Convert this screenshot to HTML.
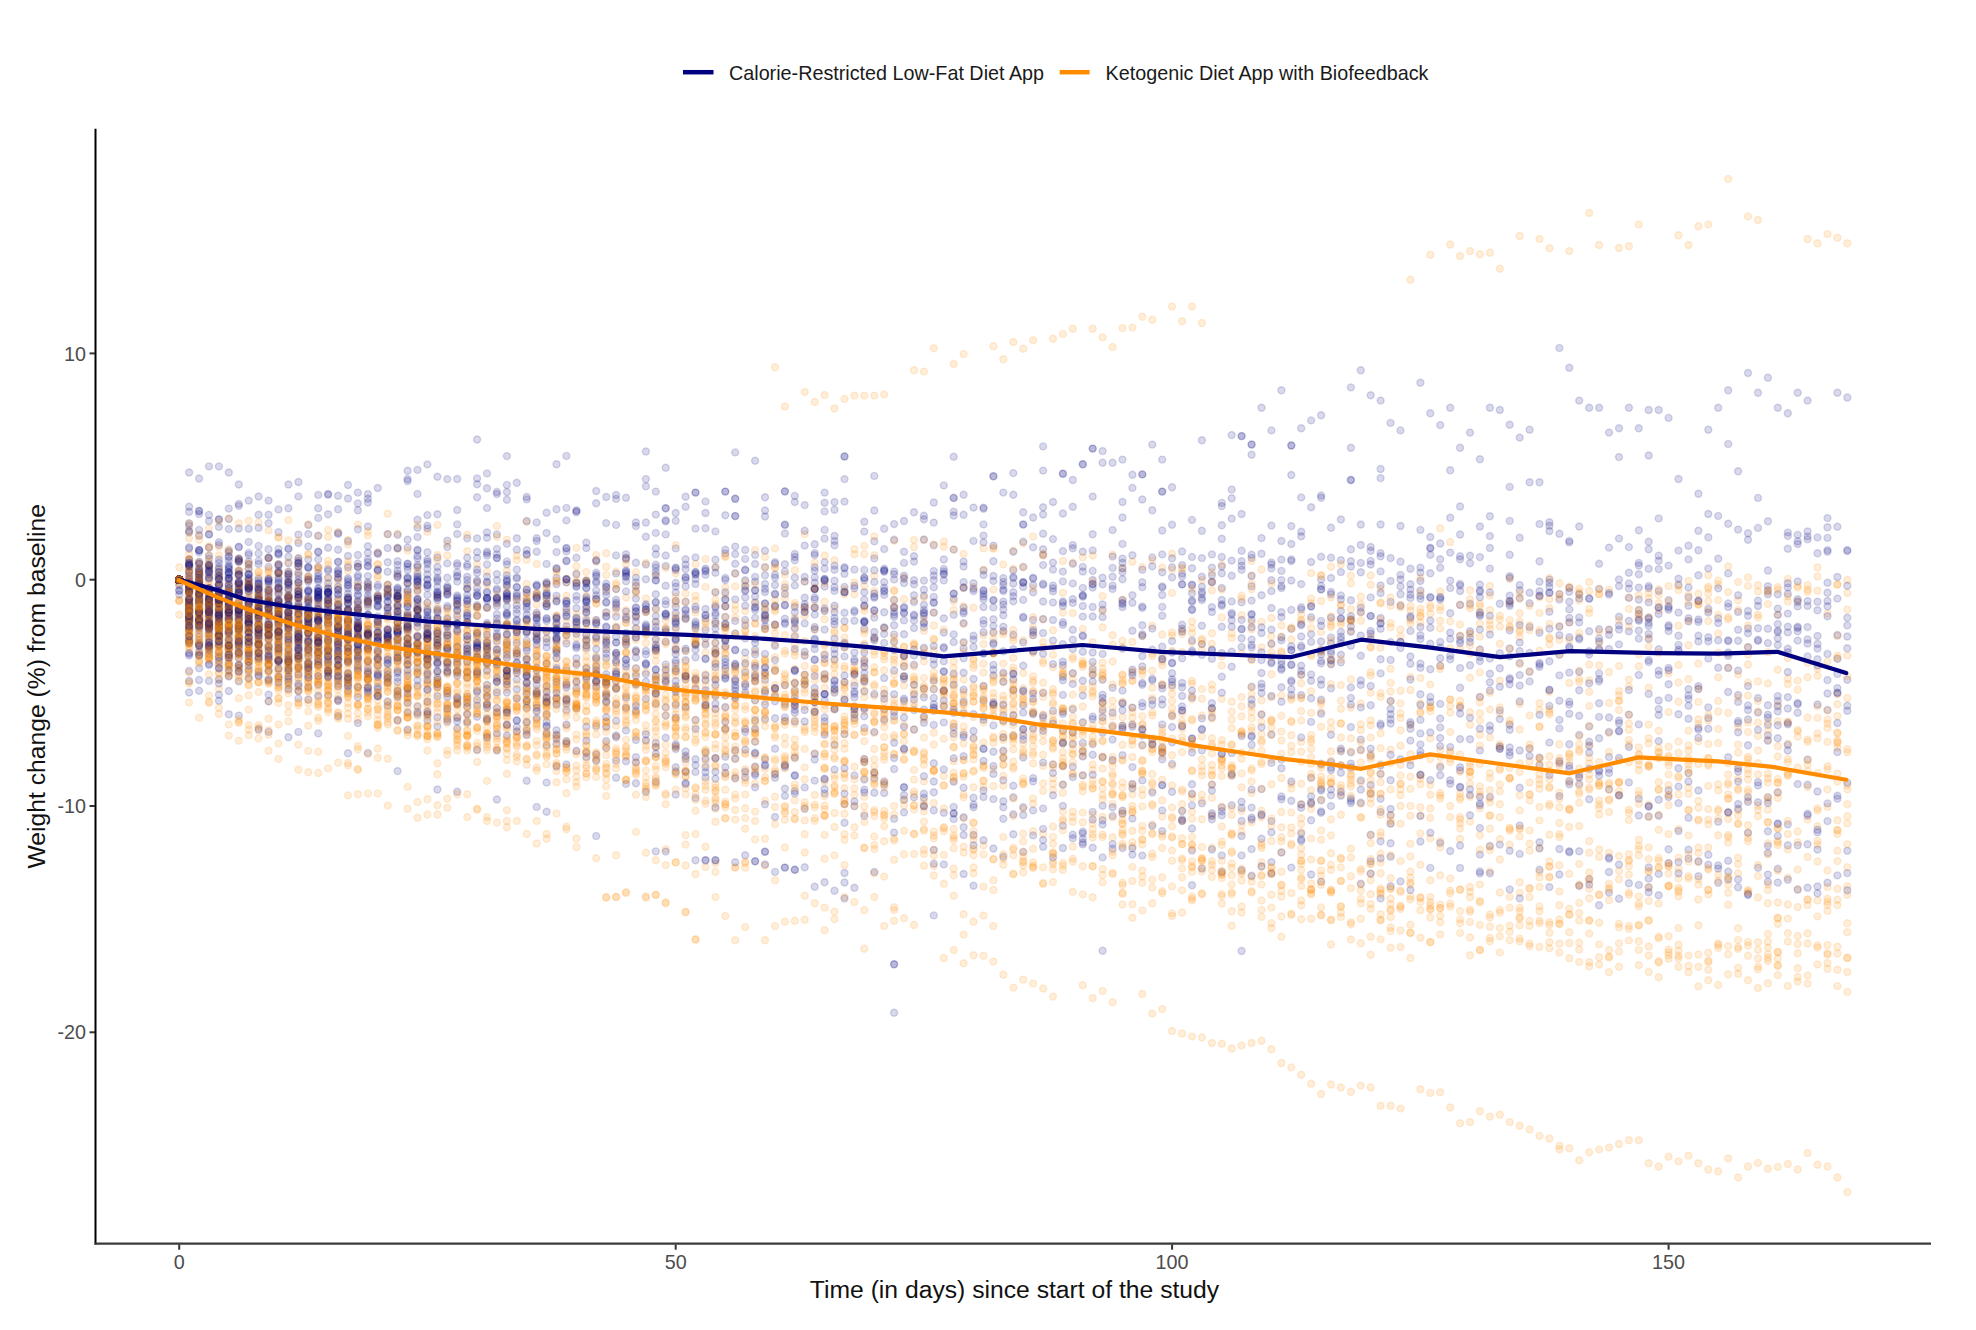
<!DOCTYPE html>
<html><head><meta charset="utf-8"><style>
html,body{margin:0;padding:0;background:#fff;width:1976px;height:1330px;overflow:hidden}
svg{position:absolute;left:0;top:0;font-family:"Liberation Sans",sans-serif}
#w{position:absolute;left:0;top:0;width:1976px;height:1330px}
circle{r:3.5px;stroke-width:1.4px}
.b{fill:#000080;fill-opacity:.15;stroke:#000080;stroke-opacity:.15}
.o{fill:#ff8c00;fill-opacity:.15;stroke:#ff8c00;stroke-opacity:.15}
</style></head><body><div id=w>
<svg width="1976" height="1330" viewBox="0 0 1976 1330">
<rect width="1976" height="1330" fill="#fff"/>
<g><g transform="translate(179.2)"><g class=b><circle cy=579.7 /></g><g class=o><circle cy=579.7 /><circle cy=579.7 /><circle cy=579.7 /></g><g class=b><circle cy=579.7 /><circle cy=579.7 /></g><g class=o><circle cy=579.7 /><circle cy=583.2 /><circle cy=579.7 /></g><g class=b><circle cy=579.7 /></g><g class=o><circle cy=579.7 /><circle cy=579.7 /><circle cy=579.7 /></g><g class=b><circle cy=579.7 /></g><g class=o><circle cy=579.7 /><circle cy=579.7 /></g><g class=b><circle cy=579.7 /></g><g class=o><circle cy=579.7 /></g><g class=b><circle cy=579.7 /><circle cy=579.7 /></g><g class=o><circle cy=579.7 /></g><g class=b><circle cy=579.7 /><circle cy=579.7 /></g><g class=o><circle cy=579.7 /></g><g class=b><circle cy=579.7 /><circle cy=579.7 /></g><g class=o><circle cy=579.7 /><circle cy=579.7 /><circle cy=579.7 /><circle cy=579.7 /><circle cy=601.2 /><circle cy=579.7 /><circle cy=579.7 /></g><g class=b><circle cy=579.7 /><circle cy=579.7 /></g><g class=o><circle cy=579.7 /></g><g class=b><circle cy=579.7 /></g><g class=o><circle cy=579.7 /></g><g class=b><circle cy=579.7 /><circle cy=579.7 /><circle cy=579.7 /></g><g class=o><circle cy=579.7 /></g><g class=b><circle cy=579.7 /><circle cy=579.7 /><circle cy=579.7 /></g><g class=o><circle cy=579.7 /><circle cy=579.7 /></g><g class=b><circle cy=579.7 /></g><g class=o><circle cy=579.7 /><circle cy=579.7 /></g><g class=b><circle cy=579.7 /></g><g class=o><circle cy=579.7 /><circle cy=579.7 /><circle cy=579.7 /></g><g class=b><circle cy=579.7 /></g><g class=o><circle cy=579.7 /><circle cy=579.7 /><circle cy=579.7 /><circle cy=579.7 /><circle cy=579.7 /></g><g class=b><circle cy=579.7 /><circle cy=579.7 /></g><g class=o><circle cy=579.7 /><circle cy=579.7 /><circle cy=579.7 /><circle cy=579.7 /><circle cy=579.7 /><circle cy=579.7 /></g><g class=b><circle cy=579.7 /></g><g class=o><circle cy=579.7 /></g><g class=b><circle cy=579.7 /><circle cy=579.7 /></g><g class=o><circle cy=579.7 /></g><g class=b><circle cy=579.7 /><circle cy=579.7 /></g><g class=o><circle cy=579.7 /><circle cy=579.7 /><circle cy=579.7 /><circle cy=579.7 /></g><g class=b><circle cy=579.7 /><circle cy=579.7 /><circle cy=579.7 /></g><g class=o><circle cy=579.7 /><circle cy=579.7 /><circle cy=579.7 /><circle cy=579.7 /><circle cy=579.7 /></g><g class=b><circle cy=579.7 /></g><g class=o><circle cy=579.7 /><circle cy=579.7 /></g><g class=b><circle cy=579.7 /></g><g class=o><circle cy=579.7 /></g><g class=b><circle cy=579.7 /></g><g class=o><circle cy=579.7 /><circle cy=579.7 /><circle cy=579.7 /></g><g class=b><circle cy=579.7 /><circle cy=579.7 /><circle cy=579.7 /><circle cy=579.7 /></g><g class=o><circle cy=579.7 /></g><g class=b><circle cy=579.7 /></g><g class=o><circle cy=579.7 /></g><g class=b><circle cy=579.7 /><circle cy=579.7 /><circle cy=579.7 /><circle cy=579.7 /><circle cy=579.7 /><circle cy=579.7 /><circle cy=579.7 /><circle cy=579.7 /></g><g class=o><circle cy=600.2 /><circle cy=579.7 /></g><g class=b><circle cy=579.7 /><circle cy=579.7 /><circle cy=579.7 /></g><g class=o><circle cy=579.7 /></g><g class=b><circle cy=579.7 /></g><g class=o><circle cy=579.7 /></g><g class=b><circle cy=579.7 /><circle cy=579.7 /></g><g class=o><circle cy=579.7 /><circle cy=579.7 /><circle cy=579.7 /></g><g class=b><circle cy=579.7 /><circle cy=579.7 /><circle cy=579.7 /></g><g class=o><circle cy=579.7 /><circle cy=583.7 /></g><g class=b><circle cy=579.7 /></g><g class=o><circle cy=579.7 /></g><g class=b><circle cy=579.7 /><circle cy=579.7 /><circle cy=579.7 /><circle cy=579.7 /><circle cy=579.7 /><circle cy=579.7 /><circle cy=579.7 /><circle cy=579.7 /></g><g class=o><circle cy=579.7 /><circle cy=579.7 /></g><g class=b><circle cy=579.7 /><circle cy=579.7 /><circle cy=579.7 /><circle cy=594.5 /><circle cy=579.7 /><circle cy=579.7 /><circle cy=579.7 /><circle cy=579.7 /></g><g class=o><circle cy=579.7 /></g><g class=b><circle cy=579.7 /><circle cy=579.7 /></g><g class=o><circle cy=579.7 /><circle cy=579.7 /><circle cy=579.7 /><circle cy=579.7 /><circle cy=579.7 /></g><g class=b><circle cy=579.7 /><circle cy=579.7 /><circle cy=579.7 /><circle cy=579.7 /></g><g class=o><circle cy=579.7 /></g><g class=b><circle cy=579.7 /></g><g class=o><circle cy=600.4 /></g><g class=b><circle cy=579.7 /></g><g class=o><circle cy=579.7 /><circle cy=579.7 /></g><g class=b><circle cy=579.7 /></g><g class=o><circle cy=579.7 /></g><g class=b><circle cy=579.7 /></g><g class=o><circle cy=579.7 /><circle cy=579.7 /><circle cy=579.7 /><circle cy=567.3 /><circle cy=579.7 /><circle cy=579.7 /></g><g class=b><circle cy=579.7 /><circle cy=579.7 /></g><g class=o><circle cy=579.7 /></g><g class=b><circle cy=579.7 /><circle cy=590.5 /></g><g class=o><circle cy=579.7 /><circle cy=579.7 /></g><g class=b><circle cy=579.7 /><circle cy=579.7 /><circle cy=579.7 /></g><g class=o><circle cy=614.7 /><circle cy=579.7 /></g><g class=b><circle cy=579.7 /><circle cy=579.7 /><circle cy=579.7 /></g><g class=o><circle cy=579.7 /><circle cy=579.7 /><circle cy=579.7 /></g><g class=b><circle cy=579.7 /></g><g class=o><circle cy=579.7 /></g><g class=b><circle cy=579.7 /><circle cy=579.7 /><circle cy=590.6 /></g><g class=o><circle cy=579.7 /><circle cy=579.7 /><circle cy=579.7 /><circle cy=579.7 /><circle cy=579.7 /><circle cy=579.7 /><circle cy=579.7 /><circle cy=579.7 /><circle cy=579.7 /><circle cy=579.7 /><circle cy=579.7 /><circle cy=579.7 /></g><g class=b><circle cy=579.7 /><circle cy=579.7 /></g><g class=o><circle cy=579.7 /><circle cy=579.7 /></g><g class=b><circle cy=579.7 /></g><g class=o><circle cy=579.7 /><circle cy=579.7 /></g><g class=b><circle cy=579.7 /><circle cy=579.7 /><circle cy=579.7 /><circle cy=579.7 /><circle cy=579.7 /><circle cy=579.7 /><circle cy=579.7 /></g><g class=o><circle cy=579.7 /></g><g class=b><circle cy=579.7 /><circle cy=579.7 /><circle cy=579.7 /><circle cy=579.7 /></g><g class=o><circle cy=579.7 /><circle cy=579.7 /><circle cy=579.7 /></g><g class=b><circle cy=585.5 /><circle cy=579.7 /></g><g class=o><circle cy=579.7 /><circle cy=579.7 /></g><g class=b><circle cy=579.7 /></g><g class=o><circle cy=579.7 /></g><g class=b><circle cy=579.7 /></g><g class=o><circle cy=579.7 /><circle cy=579.7 /></g></g><g transform="translate(189.1)"><g class=o><circle cy=622.7 /><circle cy=641.9 /><circle cy=622.2 /><circle cy=607.4 /><circle cy=567.5 /></g><g class=b><circle cy=585.2 /></g><g class=o><circle cy=586.1 /><circle cy=609.1 /><circle cy=567.4 /></g><g class=b><circle cy=579.2 /></g><g class=o><circle cy=587.8 /><circle cy=606.4 /></g><g class=b><circle cy=523.2 /><circle cy=593.1 /></g><g class=o><circle cy=636.8 /></g><g class=b><circle cy=606.6 /></g><g class=o><circle cy=600 /><circle cy=599.5 /></g><g class=b><circle cy=589.8 /><circle cy=613.1 /><circle cy=472.5 /></g><g class=o><circle cy=624.9 /></g><g class=b><circle cy=609.8 /><circle cy=570.7 /></g><g class=o><circle cy=584.2 /><circle cy=639.8 /><circle cy=630.2 /></g><g class=b><circle cy=619.3 /><circle cy=525.7 /><circle cy=615.9 /><circle cy=610.8 /><circle cy=615.6 /><circle cy=579.9 /></g><g class=o><circle cy=613.5 /></g><g class=b><circle cy=617.4 /><circle cy=511.8 /><circle cy=532.5 /><circle cy=617.8 /><circle cy=627.1 /><circle cy=589.1 /><circle cy=627.5 /><circle cy=565 /><circle cy=610.6 /><circle cy=640.7 /><circle cy=628.8 /><circle cy=671 /><circle cy=590.4 /></g><g class=o><circle cy=602.6 /><circle cy=621.8 /><circle cy=616.6 /></g><g class=b><circle cy=548.8 /><circle cy=620.9 /><circle cy=619.9 /></g><g class=o><circle cy=601.6 /><circle cy=601.8 /><circle cy=560.6 /><circle cy=627.7 /><circle cy=608.1 /><circle cy=607 /></g><g class=b><circle cy=652.8 /><circle cy=585.7 /><circle cy=625.3 /></g><g class=o><circle cy=632 /><circle cy=681.9 /><circle cy=597.8 /><circle cy=610.1 /><circle cy=595.7 /></g><g class=b><circle cy=619.4 /></g><g class=o><circle cy=559.1 /><circle cy=633.3 /></g><g class=b><circle cy=590 /><circle cy=680.9 /><circle cy=640.2 /></g><g class=o><circle cy=576.7 /><circle cy=629.4 /></g><g class=b><circle cy=599.3 /><circle cy=606.1 /></g><g class=o><circle cy=613.2 /><circle cy=646.5 /></g><g class=b><circle cy=564.9 /></g><g class=o><circle cy=618.6 /><circle cy=640 /></g><g class=b><circle cy=506.7 /></g><g class=o><circle cy=570.8 /><circle cy=606.7 /></g><g class=b><circle cy=630 /></g><g class=o><circle cy=616.6 /><circle cy=560 /></g><g class=b><circle cy=604.8 /></g><g class=o><circle cy=672.5 /><circle cy=531.4 /><circle cy=604.5 /><circle cy=588.2 /><circle cy=572.8 /><circle cy=619.8 /><circle cy=554.5 /><circle cy=592.7 /></g><g class=b><circle cy=635.3 /></g><g class=o><circle cy=583 /></g><g class=b><circle cy=586.3 /></g><g class=o><circle cy=643.9 /></g><g class=b><circle cy=590.9 /><circle cy=598.3 /><circle cy=582.6 /></g><g class=o><circle cy=643.7 /><circle cy=590.4 /></g><g class=b><circle cy=604.2 /><circle cy=612.2 /></g><g class=o><circle cy=634.4 /></g><g class=b><circle cy=619.3 /><circle cy=611.5 /><circle cy=583.3 /></g><g class=o><circle cy=578.2 /></g><g class=b><circle cy=616.8 /><circle cy=604.7 /><circle cy=622.3 /></g><g class=o><circle cy=631.6 /><circle cy=588.1 /><circle cy=538.3 /><circle cy=523.7 /><circle cy=634.3 /></g><g class=b><circle cy=582.6 /><circle cy=572.5 /></g><g class=o><circle cy=610 /></g><g class=b><circle cy=603.2 /></g><g class=o><circle cy=591.1 /></g><g class=b><circle cy=599.1 /><circle cy=602.2 /><circle cy=562.5 /><circle cy=692.5 /><circle cy=592.3 /><circle cy=566.7 /></g><g class=o><circle cy=608.4 /></g><g class=b><circle cy=586.5 /></g><g class=o><circle cy=609.8 /><circle cy=628.7 /><circle cy=604.5 /></g><g class=b><circle cy=653.9 /></g><g class=o><circle cy=683.5 /><circle cy=648.8 /></g><g class=b><circle cy=530.8 /></g><g class=o><circle cy=609.9 /><circle cy=593.6 /><circle cy=643.4 /></g><g class=b><circle cy=589.7 /><circle cy=642.7 /></g><g class=o><circle cy=592.3 /></g><g class=b><circle cy=565.5 /><circle cy=610.9 /></g><g class=o><circle cy=612.4 /><circle cy=608.5 /></g><g class=b><circle cy=599.9 /></g><g class=o><circle cy=623.6 /><circle cy=578.3 /></g><g class=b><circle cy=615.7 /></g><g class=o><circle cy=609.3 /></g><g class=b><circle cy=564.2 /></g><g class=o><circle cy=595.6 /></g><g class=b><circle cy=575.6 /></g><g class=o><circle cy=613.8 /></g><g class=b><circle cy=609.2 /><circle cy=547.3 /><circle cy=586.5 /><circle cy=626.1 /></g><g class=o><circle cy=635.2 /><circle cy=640 /><circle cy=603.5 /></g><g class=b><circle cy=592.3 /></g><g class=o><circle cy=643.3 /><circle cy=590 /><circle cy=620.1 /><circle cy=702.6 /><circle cy=570.6 /></g><g class=b><circle cy=563.3 /><circle cy=559.3 /></g><g class=o><circle cy=612.2 /></g><g class=b><circle cy=655.6 /></g><g class=o><circle cy=583 /></g><g class=b><circle cy=636.4 /></g></g><g transform="translate(199.1)"><g class=o><circle cy=642.4 /></g><g class=b><circle cy=550.2 /></g><g class=o><circle cy=627.2 /><circle cy=592.7 /></g><g class=b><circle cy=611.3 /></g><g class=o><circle cy=633.7 /><circle cy=606.2 /></g><g class=b><circle cy=581.7 /></g><g class=o><circle cy=590.4 /><circle cy=612.4 /></g><g class=b><circle cy=655.9 /></g><g class=o><circle cy=603.7 /></g><g class=b><circle cy=597 /><circle cy=620.4 /></g><g class=o><circle cy=593.6 /><circle cy=654.3 /></g><g class=b><circle cy=569.2 /></g><g class=o><circle cy=717.7 /></g><g class=b><circle cy=601.7 /></g><g class=o><circle cy=611.1 /></g><g class=b><circle cy=609.5 /></g><g class=o><circle cy=639.9 /><circle cy=573.8 /><circle cy=618.9 /><circle cy=617.6 /></g><g class=b><circle cy=620.1 /><circle cy=621.6 /><circle cy=514.1 /></g><g class=o><circle cy=660.8 /><circle cy=614.8 /><circle cy=592.2 /><circle cy=655 /></g><g class=b><circle cy=636.9 /></g><g class=o><circle cy=595.1 /><circle cy=640.1 /></g><g class=b><circle cy=582 /></g><g class=o><circle cy=650.2 /></g><g class=b><circle cy=575.4 /></g><g class=o><circle cy=633.7 /></g><g class=b><circle cy=622.1 /><circle cy=593.4 /><circle cy=478.5 /><circle cy=585 /></g><g class=o><circle cy=616.7 /><circle cy=575.6 /></g><g class=b><circle cy=550.1 /><circle cy=680 /><circle cy=584.7 /></g><g class=o><circle cy=616.2 /><circle cy=592.6 /><circle cy=607.8 /><circle cy=581.8 /></g><g class=b><circle cy=601.8 /></g><g class=o><circle cy=615.5 /></g><g class=b><circle cy=588.4 /></g><g class=o><circle cy=563.7 /></g><g class=b><circle cy=586.1 /><circle cy=571.3 /></g><g class=o><circle cy=646.1 /><circle cy=583.8 /><circle cy=610.7 /><circle cy=619.6 /><circle cy=585.5 /><circle cy=654.2 /><circle cy=587.5 /></g><g class=b><circle cy=594.6 /><circle cy=612.5 /><circle cy=610 /><circle cy=564.2 /><circle cy=595.8 /></g><g class=o><circle cy=539.8 /><circle cy=615.8 /></g><g class=b><circle cy=646.3 /><circle cy=613.1 /><circle cy=618.9 /></g><g class=o><circle cy=580.4 /></g><g class=b><circle cy=552.3 /><circle cy=599.7 /><circle cy=575.4 /><circle cy=574.2 /><circle cy=603.3 /></g><g class=o><circle cy=623.7 /></g><g class=b><circle cy=571.7 /></g><g class=o><circle cy=609.4 /></g><g class=b><circle cy=581.2 /><circle cy=604.4 /><circle cy=572.6 /><circle cy=535.8 /><circle cy=599.1 /><circle cy=600.3 /></g><g class=o><circle cy=622.1 /></g><g class=b><circle cy=621.5 /></g><g class=o><circle cy=589.9 /><circle cy=597.4 /></g><g class=b><circle cy=550.3 /></g><g class=o><circle cy=622.6 /></g><g class=b><circle cy=627.3 /></g><g class=o><circle cy=574.6 /></g><g class=b><circle cy=609.3 /><circle cy=510.7 /><circle cy=589.3 /><circle cy=644.9 /><circle cy=655.2 /></g><g class=o><circle cy=576.2 /><circle cy=611.1 /><circle cy=570 /></g><g class=b><circle cy=624.2 /></g><g class=o><circle cy=601.7 /><circle cy=601.8 /></g><g class=b><circle cy=561.6 /></g><g class=o><circle cy=598.5 /></g><g class=b><circle cy=629.9 /></g><g class=o><circle cy=608 /></g><g class=b><circle cy=613.5 /><circle cy=511.3 /><circle cy=625.3 /><circle cy=652.1 /></g><g class=o><circle cy=562.4 /></g><g class=b><circle cy=668.3 /><circle cy=619.2 /><circle cy=612.1 /><circle cy=620.4 /></g><g class=o><circle cy=534.4 /></g><g class=b><circle cy=584.4 /><circle cy=619.9 /></g><g class=o><circle cy=619.9 /></g><g class=b><circle cy=588.6 /><circle cy=563.2 /></g><g class=o><circle cy=663.4 /></g><g class=b><circle cy=625.9 /></g><g class=o><circle cy=568.9 /></g><g class=b><circle cy=584.4 /><circle cy=594 /></g><g class=o><circle cy=599.9 /></g><g class=b><circle cy=600.3 /></g><g class=o><circle cy=627.8 /><circle cy=583.6 /></g><g class=b><circle cy=625.8 /><circle cy=645.3 /><circle cy=579.2 /></g><g class=o><circle cy=633.8 /></g><g class=b><circle cy=690.8 /><circle cy=594.8 /><circle cy=583.6 /><circle cy=577.7 /><circle cy=643.4 /><circle cy=580 /></g><g class=o><circle cy=617.2 /><circle cy=581.2 /></g><g class=b><circle cy=568.6 /></g><g class=o><circle cy=607.5 /><circle cy=640.8 /><circle cy=661.5 /><circle cy=623.2 /><circle cy=594.8 /><circle cy=626.5 /><circle cy=609.9 /><circle cy=643.2 /><circle cy=606.5 /></g><g class=b><circle cy=529.9 /></g><g class=o><circle cy=600.5 /><circle cy=605.7 /><circle cy=578.9 /></g></g><g transform="translate(209)"><g class=o><circle cy=635.1 /><circle cy=616 /></g><g class=b><circle cy=630.7 /></g><g class=o><circle cy=620.3 /><circle cy=651.2 /></g><g class=b><circle cy=602.9 /><circle cy=598.3 /></g><g class=o><circle cy=648.8 /></g><g class=b><circle cy=590.6 /><circle cy=624.2 /></g><g class=o><circle cy=569.1 /></g><g class=b><circle cy=606.2 /></g><g class=o><circle cy=657.5 /></g><g class=b><circle cy=605.7 /></g><g class=o><circle cy=593.8 /><circle cy=600.9 /><circle cy=601 /></g><g class=b><circle cy=612.2 /></g><g class=o><circle cy=643.8 /></g><g class=b><circle cy=597.5 /></g><g class=o><circle cy=601.1 /></g><g class=b><circle cy=592 /><circle cy=612.4 /></g><g class=o><circle cy=660.4 /></g><g class=b><circle cy=555.5 /></g><g class=o><circle cy=621.6 /><circle cy=603.9 /><circle cy=580.7 /></g><g class=b><circle cy=624 /></g><g class=o><circle cy=612.1 /><circle cy=614.9 /><circle cy=611.4 /><circle cy=626.2 /></g><g class=b><circle cy=514.9 /></g><g class=o><circle cy=627.7 /><circle cy=629.5 /></g><g class=b><circle cy=622.8 /><circle cy=611.5 /></g><g class=o><circle cy=608.3 /></g><g class=b><circle cy=574.6 /></g><g class=o><circle cy=636.5 /><circle cy=592.6 /><circle cy=603 /><circle cy=588.7 /><circle cy=624.1 /></g><g class=b><circle cy=653.9 /><circle cy=628 /><circle cy=593.2 /></g><g class=o><circle cy=600.1 /></g><g class=b><circle cy=680.9 /></g><g class=o><circle cy=604.2 /></g><g class=b><circle cy=558.7 /><circle cy=626.2 /></g><g class=o><circle cy=625.1 /></g><g class=b><circle cy=601.1 /></g><g class=o><circle cy=641.1 /></g><g class=b><circle cy=567.5 /></g><g class=o><circle cy=605.5 /></g><g class=b><circle cy=615 /><circle cy=633.7 /></g><g class=o><circle cy=622.7 /></g><g class=b><circle cy=521 /><circle cy=602 /></g><g class=o><circle cy=591.3 /></g><g class=b><circle cy=590.1 /></g><g class=o><circle cy=610.3 /></g><g class=b><circle cy=597.7 /></g><g class=o><circle cy=616.3 /></g><g class=b><circle cy=626.6 /></g><g class=o><circle cy=645.6 /><circle cy=633.4 /><circle cy=603.7 /><circle cy=695.6 /><circle cy=627.7 /></g><g class=b><circle cy=663.8 /><circle cy=645.5 /></g><g class=o><circle cy=627.4 /><circle cy=528.4 /></g><g class=b><circle cy=534.3 /><circle cy=577.9 /><circle cy=647.2 /></g><g class=o><circle cy=591.5 /><circle cy=607.8 /></g><g class=b><circle cy=565.7 /><circle cy=608.8 /><circle cy=603.9 /><circle cy=638.8 /><circle cy=589.8 /><circle cy=564.3 /></g><g class=o><circle cy=614 /></g><g class=b><circle cy=588.1 /><circle cy=618 /></g><g class=o><circle cy=657.1 /><circle cy=634.1 /><circle cy=620 /></g><g class=b><circle cy=571.8 /><circle cy=610.2 /></g><g class=o><circle cy=638.4 /><circle cy=617.2 /><circle cy=556 /><circle cy=597.7 /></g><g class=b><circle cy=603.6 /><circle cy=645.2 /><circle cy=605.7 /><circle cy=622.8 /></g><g class=o><circle cy=596.7 /></g><g class=b><circle cy=588 /></g><g class=o><circle cy=647.3 /></g><g class=b><circle cy=629.2 /></g><g class=o><circle cy=647.2 /></g><g class=b><circle cy=625 /></g><g class=o><circle cy=674.2 /><circle cy=610.6 /><circle cy=654.9 /></g><g class=b><circle cy=622.6 /><circle cy=642.2 /></g><g class=o><circle cy=567.2 /></g><g class=b><circle cy=578.7 /><circle cy=598.2 /></g><g class=o><circle cy=703 /></g><g class=b><circle cy=646.5 /><circle cy=588.3 /></g><g class=o><circle cy=636.3 /><circle cy=561.9 /><circle cy=658.9 /></g><g class=b><circle cy=594.4 /><circle cy=665 /></g><g class=o><circle cy=591.8 /><circle cy=547.8 /><circle cy=600.9 /></g><g class=b><circle cy=626.8 /><circle cy=599.3 /><circle cy=577.4 /></g><g class=o><circle cy=564.7 /><circle cy=656.8 /></g><g class=b><circle cy=565.1 /><circle cy=534.4 /><circle cy=628.4 /><circle cy=614.8 /><circle cy=599.3 /></g><g class=o><circle cy=575.4 /><circle cy=609.6 /></g><g class=b><circle cy=589.6 /></g><g class=o><circle cy=611.1 /><circle cy=627.7 /><circle cy=658.3 /></g><g class=b><circle cy=566 /></g><g class=o><circle cy=701.7 /></g><g class=b><circle cy=572.8 /><circle cy=603.9 /><circle cy=621 /></g><g class=o><circle cy=620.5 /></g><g class=b><circle cy=571 /></g><g class=o><circle cy=603.7 /><circle cy=603.7 /><circle cy=546.3 /></g><g class=b><circle cy=649.7 /><circle cy=612.5 /><circle cy=611.4 /></g><g class=o><circle cy=625.6 /></g><g class=b><circle cy=569.9 /></g><g class=o><circle cy=583.9 /><circle cy=588.5 /></g><g class=b><circle cy=466.4 /></g><g class=o><circle cy=649.8 /></g><g class=b><circle cy=610 /><circle cy=547.5 /><circle cy=624.2 /><circle cy=642.4 /></g><g class=o><circle cy=651.8 /></g></g><g transform="translate(218.9)"><g class=b><circle cy=567.1 /></g><g class=o><circle cy=576.3 /></g><g class=b><circle cy=614.8 /></g><g class=o><circle cy=595.5 /></g><g class=b><circle cy=584.1 /><circle cy=519.6 /></g><g class=o><circle cy=603.1 /></g><g class=b><circle cy=596.7 /></g><g class=o><circle cy=607.3 /></g><g class=b><circle cy=622.8 /></g><g class=o><circle cy=603.7 /><circle cy=622.5 /><circle cy=607.6 /></g><g class=b><circle cy=626.9 /></g><g class=o><circle cy=616.8 /></g><g class=b><circle cy=651.7 /><circle cy=679.5 /><circle cy=638.1 /></g><g class=o><circle cy=611 /></g><g class=b><circle cy=585.3 /><circle cy=612.1 /><circle cy=584.7 /><circle cy=624.6 /><circle cy=544.9 /><circle cy=599.5 /></g><g class=o><circle cy=647.1 /><circle cy=611.7 /><circle cy=626.3 /><circle cy=652.4 /></g><g class=b><circle cy=585.9 /><circle cy=700.7 /><circle cy=591.8 /></g><g class=o><circle cy=624.4 /><circle cy=546.7 /><circle cy=602.2 /><circle cy=594.8 /><circle cy=678.8 /><circle cy=637.4 /></g><g class=b><circle cy=620 /></g><g class=o><circle cy=646.6 /><circle cy=672.4 /><circle cy=630 /><circle cy=632.6 /><circle cy=707.8 /><circle cy=555.3 /></g><g class=b><circle cy=633.8 /></g><g class=o><circle cy=633.9 /><circle cy=593.3 /><circle cy=632.8 /></g><g class=b><circle cy=656.3 /></g><g class=o><circle cy=604.8 /><circle cy=594.3 /></g><g class=b><circle cy=641.3 /><circle cy=593.9 /><circle cy=644.3 /></g><g class=o><circle cy=623.2 /><circle cy=629.1 /><circle cy=646.7 /></g><g class=b><circle cy=599.7 /></g><g class=o><circle cy=673.5 /><circle cy=647 /></g><g class=b><circle cy=579.3 /><circle cy=466.4 /><circle cy=600.7 /><circle cy=658.1 /><circle cy=609.3 /><circle cy=579.2 /><circle cy=598.9 /></g><g class=o><circle cy=617.8 /></g><g class=b><circle cy=615.3 /></g><g class=o><circle cy=636.7 /><circle cy=634.9 /><circle cy=635.3 /><circle cy=663.2 /><circle cy=601.8 /></g><g class=b><circle cy=569.1 /></g><g class=o><circle cy=595.2 /><circle cy=624.1 /></g><g class=b><circle cy=600.2 /><circle cy=603.7 /></g><g class=o><circle cy=619.1 /></g><g class=b><circle cy=616.9 /></g><g class=o><circle cy=664.6 /><circle cy=585.6 /></g><g class=b><circle cy=559.7 /></g><g class=o><circle cy=640.3 /></g><g class=b><circle cy=615.6 /><circle cy=591.2 /></g><g class=o><circle cy=627.6 /></g><g class=b><circle cy=575.6 /></g><g class=o><circle cy=624.5 /></g><g class=b><circle cy=635.5 /></g><g class=o><circle cy=643.1 /></g><g class=b><circle cy=668.5 /><circle cy=616.9 /></g><g class=o><circle cy=635.6 /></g><g class=b><circle cy=625.7 /></g><g class=o><circle cy=622.5 /></g><g class=b><circle cy=645.1 /></g><g class=o><circle cy=569.8 /></g><g class=b><circle cy=634.5 /><circle cy=602.3 /></g><g class=o><circle cy=657.7 /></g><g class=b><circle cy=584.4 /><circle cy=563 /></g><g class=o><circle cy=688.9 /><circle cy=664.3 /><circle cy=617.1 /><circle cy=627.5 /></g><g class=b><circle cy=660.7 /><circle cy=614.3 /><circle cy=577.9 /></g><g class=o><circle cy=613.1 /><circle cy=600.5 /></g><g class=b><circle cy=612.7 /></g><g class=o><circle cy=644.9 /></g><g class=b><circle cy=641.2 /></g><g class=o><circle cy=637.9 /></g><g class=b><circle cy=542.3 /></g><g class=o><circle cy=620.4 /><circle cy=653.7 /></g><g class=b><circle cy=592.2 /><circle cy=608.8 /><circle cy=694.7 /><circle cy=519.3 /></g><g class=o><circle cy=606.4 /><circle cy=594.2 /></g><g class=b><circle cy=636.4 /><circle cy=628.6 /></g><g class=o><circle cy=601.3 /></g><g class=b><circle cy=667.7 /></g><g class=o><circle cy=606.8 /><circle cy=638 /><circle cy=625.2 /><circle cy=521.8 /><circle cy=626.5 /><circle cy=714 /></g><g class=b><circle cy=599.9 /><circle cy=614.3 /><circle cy=526.9 /></g><g class=o><circle cy=630.1 /><circle cy=582 /><circle cy=604.6 /></g><g class=b><circle cy=575.9 /><circle cy=609.5 /><circle cy=683.6 /></g><g class=o><circle cy=596.9 /></g><g class=b><circle cy=636.6 /><circle cy=630 /></g><g class=o><circle cy=575.2 /><circle cy=629 /></g><g class=b><circle cy=594.4 /></g><g class=o><circle cy=608.7 /><circle cy=623.4 /><circle cy=628.7 /></g><g class=b><circle cy=572.3 /></g><g class=o><circle cy=608.1 /></g><g class=b><circle cy=641.5 /><circle cy=571.9 /><circle cy=603.8 /></g><g class=o><circle cy=628 /></g><g class=b><circle cy=618.6 /></g><g class=o><circle cy=655 /><circle cy=600.4 /></g><g class=b><circle cy=622.1 /></g><g class=o><circle cy=650.2 /></g><g class=b><circle cy=579.2 /><circle cy=600.1 /><circle cy=600 /></g><g class=o><circle cy=637.5 /><circle cy=653 /></g></g><g transform="translate(228.8)"><g class=o><circle cy=609 /></g><g class=b><circle cy=568.1 /></g><g class=o><circle cy=671.2 /><circle cy=604.7 /><circle cy=584.9 /></g><g class=b><circle cy=627.1 /></g><g class=o><circle cy=599 /></g><g class=b><circle cy=612 /><circle cy=597.8 /><circle cy=585.6 /><circle cy=654.7 /></g><g class=o><circle cy=657.4 /><circle cy=647.8 /><circle cy=654 /></g><g class=b><circle cy=598.3 /></g><g class=o><circle cy=580.7 /></g><g class=b><circle cy=714.2 /></g><g class=o><circle cy=607.9 /></g><g class=b><circle cy=603.1 /></g><g class=o><circle cy=652.7 /></g><g class=b><circle cy=612.5 /></g><g class=o><circle cy=611.6 /></g><g class=b><circle cy=584.4 /><circle cy=472.5 /><circle cy=578.3 /><circle cy=691 /></g><g class=o><circle cy=624.4 /><circle cy=661.3 /></g><g class=b><circle cy=572.3 /></g><g class=o><circle cy=735.6 /></g><g class=b><circle cy=640.8 /><circle cy=618.5 /></g><g class=o><circle cy=645.2 /><circle cy=549.2 /></g><g class=b><circle cy=626.1 /></g><g class=o><circle cy=614.6 /><circle cy=646.3 /><circle cy=631.9 /><circle cy=621.6 /></g><g class=b><circle cy=588.1 /><circle cy=634.4 /></g><g class=o><circle cy=649 /></g><g class=b><circle cy=552.2 /><circle cy=508.6 /><circle cy=550.4 /></g><g class=o><circle cy=612.2 /></g><g class=b><circle cy=603.9 /><circle cy=592.9 /></g><g class=o><circle cy=642.7 /><circle cy=597.7 /></g><g class=b><circle cy=599.9 /></g><g class=o><circle cy=627.6 /></g><g class=b><circle cy=615.7 /></g><g class=o><circle cy=624.7 /><circle cy=633.8 /></g><g class=b><circle cy=613.1 /><circle cy=663.4 /></g><g class=o><circle cy=612 /></g><g class=b><circle cy=626.2 /></g><g class=o><circle cy=672.7 /></g><g class=b><circle cy=618.7 /><circle cy=658 /></g><g class=o><circle cy=619.5 /><circle cy=617.2 /><circle cy=631 /><circle cy=623.9 /><circle cy=642.7 /><circle cy=665.1 /></g><g class=b><circle cy=606.8 /></g><g class=o><circle cy=646.1 /></g><g class=b><circle cy=580.6 /></g><g class=o><circle cy=606.8 /><circle cy=646 /><circle cy=636.2 /></g><g class=b><circle cy=619.9 /><circle cy=598.8 /></g><g class=o><circle cy=665.3 /></g><g class=b><circle cy=606.8 /><circle cy=605.1 /><circle cy=610.5 /><circle cy=556.2 /></g><g class=o><circle cy=610.4 /><circle cy=644.4 /></g><g class=b><circle cy=573.5 /></g><g class=o><circle cy=592.5 /><circle cy=648.3 /></g><g class=b><circle cy=654.2 /><circle cy=578.2 /><circle cy=632.6 /></g><g class=o><circle cy=638.2 /><circle cy=605.8 /><circle cy=675.6 /></g><g class=b><circle cy=567 /></g><g class=o><circle cy=626.7 /></g><g class=b><circle cy=578.1 /></g><g class=o><circle cy=666.5 /><circle cy=675.5 /></g><g class=b><circle cy=569.5 /></g><g class=o><circle cy=629.3 /></g><g class=b><circle cy=657.2 /></g><g class=o><circle cy=589.5 /><circle cy=664.7 /></g><g class=b><circle cy=610.6 /></g><g class=o><circle cy=552.1 /><circle cy=599.9 /><circle cy=632.3 /></g><g class=b><circle cy=565.2 /></g><g class=o><circle cy=592.1 /><circle cy=593.2 /></g><g class=b><circle cy=560.8 /></g><g class=o><circle cy=650.3 /></g><g class=b><circle cy=598.5 /><circle cy=648.9 /></g><g class=o><circle cy=639.2 /><circle cy=667 /><circle cy=608.3 /><circle cy=647.3 /></g><g class=b><circle cy=619.8 /><circle cy=612.8 /></g><g class=o><circle cy=619.9 /></g><g class=b><circle cy=519 /></g><g class=o><circle cy=616.1 /></g><g class=b><circle cy=612.5 /></g><g class=o><circle cy=648.7 /><circle cy=624.5 /></g><g class=b><circle cy=670.1 /><circle cy=574.8 /><circle cy=615.9 /><circle cy=606.6 /></g><g class=o><circle cy=518.3 /><circle cy=724.4 /></g><g class=b><circle cy=609.4 /><circle cy=676.5 /></g><g class=o><circle cy=623.4 /><circle cy=591.9 /></g><g class=b><circle cy=597.2 /><circle cy=645.3 /><circle cy=639.6 /><circle cy=602.7 /><circle cy=588.4 /><circle cy=632 /><circle cy=602 /><circle cy=591 /><circle cy=557.3 /><circle cy=655.4 /><circle cy=529.1 /><circle cy=645.7 /><circle cy=629.9 /></g><g class=o><circle cy=623.1 /></g><g class=b><circle cy=572.3 /></g><g class=o><circle cy=627.4 /><circle cy=658.7 /><circle cy=628.8 /></g><g class=b><circle cy=595 /></g><g class=o><circle cy=607.8 /><circle cy=656.1 /><circle cy=591 /></g></g><g transform="translate(238.8)"><g class=o><circle cy=635.3 /></g><g class=b><circle cy=671.9 /></g><g class=o><circle cy=558.3 /></g><g class=b><circle cy=613.9 /></g><g class=o><circle cy=570.1 /></g><g class=b><circle cy=667.6 /></g><g class=o><circle cy=603.3 /></g><g class=b><circle cy=648.6 /><circle cy=715.6 /></g><g class=o><circle cy=628 /><circle cy=614.9 /><circle cy=523.2 /><circle cy=653.8 /></g><g class=b><circle cy=618.2 /><circle cy=588.1 /></g><g class=o><circle cy=628.7 /><circle cy=606.8 /></g><g class=b><circle cy=638.2 /><circle cy=582.5 /><circle cy=610.6 /><circle cy=589.3 /></g><g class=o><circle cy=670.1 /><circle cy=595.1 /><circle cy=635.1 /></g><g class=b><circle cy=592.4 /></g><g class=o><circle cy=625.5 /><circle cy=656.6 /><circle cy=653.8 /><circle cy=624.1 /></g><g class=b><circle cy=665 /></g><g class=o><circle cy=668.7 /><circle cy=631.8 /><circle cy=585 /><circle cy=636.3 /><circle cy=623.4 /><circle cy=611.7 /><circle cy=604.9 /></g><g class=b><circle cy=609.9 /><circle cy=547.2 /></g><g class=o><circle cy=603.2 /><circle cy=619.2 /></g><g class=b><circle cy=573.8 /><circle cy=631.1 /><circle cy=644.5 /><circle cy=581 /></g><g class=o><circle cy=572.9 /></g><g class=b><circle cy=560.9 /><circle cy=601.7 /><circle cy=619.9 /></g><g class=o><circle cy=649.3 /></g><g class=b><circle cy=591.6 /></g><g class=o><circle cy=639.6 /></g><g class=b><circle cy=584.8 /></g><g class=o><circle cy=629.6 /><circle cy=740.7 /><circle cy=620.5 /><circle cy=570.7 /></g><g class=b><circle cy=528.5 /></g><g class=o><circle cy=722 /><circle cy=610.7 /></g><g class=b><circle cy=617.3 /></g><g class=o><circle cy=601.9 /><circle cy=620.5 /></g><g class=b><circle cy=681.4 /><circle cy=643.3 /><circle cy=608.7 /></g><g class=o><circle cy=643.4 /><circle cy=665.2 /><circle cy=633.2 /></g><g class=b><circle cy=619.8 /></g><g class=o><circle cy=601.9 /><circle cy=606.5 /></g><g class=b><circle cy=627.2 /></g><g class=o><circle cy=637.2 /><circle cy=647.7 /><circle cy=639.8 /></g><g class=b><circle cy=561.6 /></g><g class=o><circle cy=586.4 /><circle cy=632.8 /></g><g class=b><circle cy=637.1 /><circle cy=593 /><circle cy=613.9 /><circle cy=592.2 /><circle cy=589.6 /><circle cy=658.1 /><circle cy=559.2 /><circle cy=484.5 /></g><g class=o><circle cy=698.2 /></g><g class=b><circle cy=574.8 /><circle cy=610.3 /><circle cy=582.6 /><circle cy=584.9 /></g><g class=o><circle cy=617.9 /></g><g class=b><circle cy=625.9 /><circle cy=610.6 /><circle cy=664.9 /></g><g class=o><circle cy=591.2 /><circle cy=643.7 /></g><g class=b><circle cy=583.7 /><circle cy=629.3 /></g><g class=o><circle cy=624.5 /></g><g class=b><circle cy=560 /></g><g class=o><circle cy=623.9 /></g><g class=b><circle cy=641 /><circle cy=652.4 /><circle cy=595 /></g><g class=o><circle cy=626.6 /></g><g class=b><circle cy=606.4 /></g><g class=o><circle cy=614 /><circle cy=676.9 /></g><g class=b><circle cy=641.1 /><circle cy=614.7 /><circle cy=612.8 /><circle cy=592.5 /><circle cy=642.4 /><circle cy=558.4 /><circle cy=610 /></g><g class=o><circle cy=585.1 /><circle cy=560.9 /><circle cy=626.1 /></g><g class=b><circle cy=505.9 /><circle cy=628.5 /></g><g class=o><circle cy=627.2 /><circle cy=666.7 /><circle cy=638.6 /></g><g class=b><circle cy=546.6 /></g><g class=o><circle cy=631.1 /></g><g class=b><circle cy=652.5 /><circle cy=503.9 /><circle cy=575.2 /><circle cy=608.6 /><circle cy=653.9 /><circle cy=561.9 /></g><g class=o><circle cy=598.6 /></g><g class=b><circle cy=625.2 /></g><g class=o><circle cy=625 /><circle cy=644.9 /><circle cy=647.3 /><circle cy=622.9 /><circle cy=722.7 /><circle cy=653.5 /></g><g class=b><circle cy=645.7 /></g><g class=o><circle cy=658.2 /><circle cy=654 /><circle cy=674.3 /></g><g class=b><circle cy=582.7 /></g><g class=o><circle cy=637.1 /><circle cy=680.5 /><circle cy=607.8 /><circle cy=576.8 /></g><g class=b><circle cy=671.4 /><circle cy=575 /></g><g class=o><circle cy=628.2 /><circle cy=719.5 /></g><g class=b><circle cy=571 /></g></g><g transform="translate(248.7)"><g class=o><circle cy=651 /><circle cy=632.1 /><circle cy=626 /><circle cy=650.3 /></g><g class=b><circle cy=587.4 /><circle cy=574.4 /></g><g class=o><circle cy=638.3 /><circle cy=580.9 /></g><g class=b><circle cy=658.3 /></g><g class=o><circle cy=602.2 /></g><g class=b><circle cy=587.5 /><circle cy=586.7 /></g><g class=o><circle cy=613.2 /><circle cy=604 /></g><g class=b><circle cy=603.8 /></g><g class=o><circle cy=596.3 /><circle cy=583.2 /><circle cy=616.6 /></g><g class=b><circle cy=561.5 /></g><g class=o><circle cy=673.7 /><circle cy=601.1 /><circle cy=641.1 /></g><g class=b><circle cy=610.4 /></g><g class=o><circle cy=661.9 /></g><g class=b><circle cy=644.4 /></g><g class=o><circle cy=685.6 /><circle cy=611.9 /></g><g class=b><circle cy=621.9 /><circle cy=612.4 /><circle cy=642.3 /></g><g class=o><circle cy=620.2 /><circle cy=616.5 /><circle cy=709.6 /></g><g class=b><circle cy=588 /><circle cy=623.5 /><circle cy=591.7 /><circle cy=598.8 /></g><g class=o><circle cy=617.4 /></g><g class=b><circle cy=615.2 /></g><g class=o><circle cy=580.4 /><circle cy=658.6 /></g><g class=b><circle cy=573.8 /><circle cy=622.4 /></g><g class=o><circle cy=563.3 /></g><g class=b><circle cy=621.2 /><circle cy=670.4 /></g><g class=o><circle cy=668.7 /></g><g class=b><circle cy=584 /></g><g class=o><circle cy=630.4 /></g><g class=b><circle cy=618.2 /><circle cy=604.5 /></g><g class=o><circle cy=669.3 /></g><g class=b><circle cy=603.3 /><circle cy=608.4 /></g><g class=o><circle cy=652.7 /><circle cy=652.7 /><circle cy=608.7 /><circle cy=622.5 /><circle cy=629.4 /><circle cy=627.7 /><circle cy=661.4 /><circle cy=684.6 /><circle cy=659.1 /><circle cy=656.7 /></g><g class=b><circle cy=580.7 /><circle cy=590.9 /></g><g class=o><circle cy=639 /></g><g class=b><circle cy=554.9 /><circle cy=611.1 /><circle cy=601.3 /><circle cy=662.1 /></g><g class=o><circle cy=646.1 /></g><g class=b><circle cy=615 /></g><g class=o><circle cy=650.6 /><circle cy=649.6 /></g><g class=b><circle cy=500.6 /></g><g class=o><circle cy=662.2 /><circle cy=568.6 /></g><g class=b><circle cy=627.7 /><circle cy=631.9 /></g><g class=o><circle cy=650.8 /></g><g class=b><circle cy=587.9 /></g><g class=o><circle cy=602.7 /><circle cy=611.6 /></g><g class=b><circle cy=641.8 /><circle cy=621.8 /><circle cy=625.3 /><circle cy=628.1 /></g><g class=o><circle cy=641 /><circle cy=679.5 /></g><g class=b><circle cy=589.2 /></g><g class=o><circle cy=581.9 /></g><g class=b><circle cy=637.5 /></g><g class=o><circle cy=584.3 /></g><g class=b><circle cy=541.9 /></g><g class=o><circle cy=627.9 /><circle cy=661.1 /><circle cy=609.7 /><circle cy=619.2 /><circle cy=608.1 /><circle cy=695.2 /></g><g class=b><circle cy=577.8 /><circle cy=644.6 /></g><g class=o><circle cy=617.2 /></g><g class=b><circle cy=568.8 /></g><g class=o><circle cy=650.5 /><circle cy=614 /></g><g class=b><circle cy=578.7 /></g><g class=o><circle cy=632.3 /></g><g class=b><circle cy=528.7 /><circle cy=653.4 /><circle cy=618.7 /><circle cy=633.2 /></g><g class=o><circle cy=593.3 /></g><g class=b><circle cy=637.2 /></g><g class=o><circle cy=725.1 /><circle cy=672.1 /></g><g class=b><circle cy=623.8 /></g><g class=o><circle cy=564.1 /></g><g class=b><circle cy=587.4 /></g><g class=o><circle cy=729.8 /></g><g class=b><circle cy=604.4 /></g><g class=o><circle cy=661.6 /><circle cy=617.8 /><circle cy=735.3 /></g><g class=b><circle cy=564.4 /></g><g class=o><circle cy=610.6 /></g><g class=b><circle cy=588.6 /></g><g class=o><circle cy=635.5 /><circle cy=646.3 /></g><g class=b><circle cy=585.1 /><circle cy=552.9 /><circle cy=655.3 /><circle cy=622.9 /><circle cy=678 /><circle cy=574.8 /></g><g class=o><circle cy=678.2 /><circle cy=647.5 /><circle cy=520.8 /></g><g class=b><circle cy=637.9 /></g><g class=o><circle cy=626.5 /></g><g class=b><circle cy=614.4 /></g><g class=o><circle cy=629.8 /><circle cy=586.5 /></g><g class=b><circle cy=641.9 /><circle cy=665.6 /><circle cy=618.7 /><circle cy=585.7 /><circle cy=632.3 /></g><g class=o><circle cy=639.4 /></g></g><g transform="translate(258.6)"><g class=b><circle cy=676.2 /></g><g class=o><circle cy=641.8 /></g><g class=b><circle cy=598.3 /></g><g class=o><circle cy=571.7 /></g><g class=b><circle cy=612.6 /></g><g class=o><circle cy=607.9 /><circle cy=594.3 /><circle cy=725.1 /><circle cy=682.3 /></g><g class=b><circle cy=645 /><circle cy=583.3 /></g><g class=o><circle cy=604.2 /><circle cy=642.5 /><circle cy=628.9 /></g><g class=b><circle cy=630.9 /><circle cy=605.9 /></g><g class=o><circle cy=643.3 /><circle cy=645.3 /><circle cy=651.1 /></g><g class=b><circle cy=608.2 /></g><g class=o><circle cy=652.8 /><circle cy=730.6 /><circle cy=633.7 /><circle cy=608.3 /></g><g class=b><circle cy=634.1 /></g><g class=o><circle cy=619.2 /></g><g class=b><circle cy=580.4 /><circle cy=623.9 /></g><g class=o><circle cy=653.8 /></g><g class=b><circle cy=643.8 /><circle cy=639.2 /><circle cy=625.2 /><circle cy=527.8 /></g><g class=o><circle cy=594.1 /><circle cy=616.2 /><circle cy=727.4 /><circle cy=639.1 /></g><g class=b><circle cy=628.2 /></g><g class=o><circle cy=594.1 /><circle cy=587.2 /></g><g class=b><circle cy=587.2 /><circle cy=649.8 /><circle cy=617.1 /><circle cy=617 /><circle cy=583.3 /><circle cy=615.4 /></g><g class=o><circle cy=614.1 /><circle cy=633.3 /></g><g class=b><circle cy=578.5 /></g><g class=o><circle cy=608.7 /></g><g class=b><circle cy=560.9 /><circle cy=614.8 /><circle cy=675.1 /><circle cy=553.4 /><circle cy=635.4 /><circle cy=629.3 /><circle cy=590.4 /><circle cy=564 /><circle cy=589.2 /><circle cy=613.1 /><circle cy=612.8 /><circle cy=599.6 /></g><g class=o><circle cy=643.8 /><circle cy=598.9 /><circle cy=601.6 /><circle cy=605.6 /><circle cy=629.3 /><circle cy=653.2 /><circle cy=652 /></g><g class=b><circle cy=659.2 /><circle cy=598.9 /></g><g class=o><circle cy=682.3 /><circle cy=606 /><circle cy=661.6 /></g><g class=b><circle cy=671.7 /><circle cy=589.6 /><circle cy=496.5 /><circle cy=653.5 /><circle cy=632.6 /></g><g class=o><circle cy=658.6 /><circle cy=681.9 /><circle cy=575.4 /></g><g class=b><circle cy=658.1 /><circle cy=624.7 /></g><g class=o><circle cy=616.1 /><circle cy=692.1 /><circle cy=644.9 /></g><g class=b><circle cy=729.3 /><circle cy=588.1 /><circle cy=597.5 /></g><g class=o><circle cy=661.9 /><circle cy=670.7 /></g><g class=b><circle cy=632.4 /></g><g class=o><circle cy=626.6 /></g><g class=b><circle cy=620.9 /><circle cy=599.9 /></g><g class=o><circle cy=646 /></g><g class=b><circle cy=644.8 /><circle cy=603.2 /></g><g class=o><circle cy=572 /><circle cy=631.9 /><circle cy=607.6 /></g><g class=b><circle cy=629.8 /></g><g class=o><circle cy=649.8 /></g><g class=b><circle cy=610.6 /><circle cy=607.7 /></g><g class=o><circle cy=622.4 /><circle cy=643 /></g><g class=b><circle cy=638.6 /></g><g class=o><circle cy=607.1 /><circle cy=635 /></g><g class=b><circle cy=625.2 /></g><g class=o><circle cy=586.8 /><circle cy=613.4 /><circle cy=638.1 /><circle cy=624.8 /></g><g class=b><circle cy=652.7 /></g><g class=o><circle cy=624.2 /></g><g class=b><circle cy=656.8 /></g><g class=o><circle cy=665.3 /><circle cy=655 /></g><g class=b><circle cy=514.7 /><circle cy=618.2 /><circle cy=600.1 /></g><g class=o><circle cy=606.2 /><circle cy=667.7 /><circle cy=626.1 /><circle cy=669.2 /></g><g class=b><circle cy=644.1 /><circle cy=545.9 /><circle cy=592.1 /></g><g class=o><circle cy=619.9 /><circle cy=738.6 /><circle cy=626 /></g><g class=b><circle cy=585 /><circle cy=629.1 /><circle cy=635.4 /></g><g class=o><circle cy=594.4 /></g><g class=b><circle cy=608.2 /></g><g class=o><circle cy=661.1 /><circle cy=596.8 /><circle cy=522.4 /><circle cy=598.5 /></g><g class=b><circle cy=611.1 /></g><g class=o><circle cy=672.8 /></g><g class=b><circle cy=611.7 /><circle cy=596.1 /></g><g class=o><circle cy=643.9 /></g></g><g transform="translate(268.6)"><g class=o><circle cy=750.7 /><circle cy=616.5 /></g><g class=b><circle cy=627.4 /><circle cy=589.9 /></g><g class=o><circle cy=718.8 /></g><g class=b><circle cy=581 /></g><g class=o><circle cy=633.9 /><circle cy=630 /><circle cy=659.5 /><circle cy=628.5 /></g><g class=b><circle cy=624.7 /><circle cy=514.7 /><circle cy=578.7 /></g><g class=o><circle cy=608.2 /><circle cy=630.1 /><circle cy=587.4 /></g><g class=b><circle cy=635.6 /></g><g class=o><circle cy=653.2 /></g><g class=b><circle cy=731.9 /><circle cy=606.6 /><circle cy=602 /></g><g class=o><circle cy=655.6 /><circle cy=640.4 /><circle cy=678.5 /></g><g class=b><circle cy=632 /><circle cy=646 /></g><g class=o><circle cy=570.9 /></g><g class=b><circle cy=601.2 /></g><g class=o><circle cy=665.1 /></g><g class=b><circle cy=635 /></g><g class=o><circle cy=664.6 /></g><g class=b><circle cy=557.9 /></g><g class=o><circle cy=634.4 /></g><g class=b><circle cy=594.9 /></g><g class=o><circle cy=701.4 /><circle cy=629.6 /><circle cy=618.4 /><circle cy=601.5 /><circle cy=730.2 /><circle cy=626.5 /><circle cy=645.8 /></g><g class=b><circle cy=615.6 /><circle cy=600.3 /><circle cy=608.8 /><circle cy=549.2 /></g><g class=o><circle cy=659.9 /><circle cy=669.3 /></g><g class=b><circle cy=680.8 /><circle cy=566.9 /><circle cy=665.2 /></g><g class=o><circle cy=603 /><circle cy=644.6 /></g><g class=b><circle cy=603.2 /><circle cy=523.2 /></g><g class=o><circle cy=626.1 /><circle cy=637.8 /><circle cy=671.6 /></g><g class=b><circle cy=558.1 /></g><g class=o><circle cy=577.1 /></g><g class=b><circle cy=606.5 /></g><g class=o><circle cy=639.8 /><circle cy=734.8 /><circle cy=626.1 /><circle cy=613.8 /></g><g class=b><circle cy=589.8 /></g><g class=o><circle cy=606 /></g><g class=b><circle cy=584.1 /><circle cy=615.6 /><circle cy=659.8 /></g><g class=o><circle cy=671.8 /></g><g class=b><circle cy=590.9 /></g><g class=o><circle cy=683.6 /><circle cy=589.8 /><circle cy=633.8 /><circle cy=663.5 /></g><g class=b><circle cy=500.6 /></g><g class=o><circle cy=612.5 /><circle cy=663.1 /><circle cy=595.7 /><circle cy=633.5 /></g><g class=b><circle cy=679.5 /><circle cy=601 /><circle cy=623.7 /></g><g class=o><circle cy=630.2 /><circle cy=637.7 /></g><g class=b><circle cy=615 /></g><g class=o><circle cy=611 /><circle cy=615 /></g><g class=b><circle cy=557.5 /></g><g class=o><circle cy=635.4 /><circle cy=647.6 /></g><g class=b><circle cy=612.7 /><circle cy=628.8 /><circle cy=670.9 /></g><g class=o><circle cy=615.4 /></g><g class=b><circle cy=624.8 /><circle cy=621.5 /></g><g class=o><circle cy=664.2 /></g><g class=b><circle cy=582.1 /><circle cy=627.2 /></g><g class=o><circle cy=626.8 /><circle cy=600.2 /><circle cy=611.2 /><circle cy=649.2 /><circle cy=650.9 /></g><g class=b><circle cy=608.5 /><circle cy=647.2 /><circle cy=701.2 /><circle cy=635.4 /></g><g class=o><circle cy=599.8 /></g><g class=b><circle cy=639.2 /></g><g class=o><circle cy=626.3 /></g><g class=b><circle cy=579.1 /></g><g class=o><circle cy=602 /><circle cy=558.4 /></g><g class=b><circle cy=607.9 /><circle cy=580.6 /></g><g class=o><circle cy=647.4 /><circle cy=572.4 /></g><g class=b><circle cy=654.9 /><circle cy=650.8 /></g><g class=o><circle cy=634.9 /></g><g class=b><circle cy=592.6 /></g><g class=o><circle cy=599.6 /></g><g class=b><circle cy=603.2 /></g><g class=o><circle cy=663.9 /></g><g class=b><circle cy=694.6 /></g><g class=o><circle cy=670.8 /><circle cy=592.9 /></g><g class=b><circle cy=656.2 /><circle cy=612.5 /></g><g class=o><circle cy=568.9 /><circle cy=681.5 /><circle cy=530.4 /></g><g class=b><circle cy=624.7 /><circle cy=604.4 /><circle cy=597.3 /></g><g class=o><circle cy=612.7 /></g><g class=b><circle cy=634.6 /></g><g class=o><circle cy=683.2 /></g><g class=b><circle cy=657.8 /></g><g class=o><circle cy=623.6 /><circle cy=660 /><circle cy=606.4 /></g></g><g transform="translate(278.5)"><g class=o><circle cy=687.1 /><circle cy=651.6 /><circle cy=630.4 /></g><g class=b><circle cy=582.3 /></g><g class=o><circle cy=631.7 /><circle cy=614.4 /></g><g class=b><circle cy=589.9 /><circle cy=614.2 /></g><g class=o><circle cy=687.4 /></g><g class=b><circle cy=621.5 /></g><g class=o><circle cy=668.9 /></g><g class=b><circle cy=625.1 /></g><g class=o><circle cy=690.2 /><circle cy=698.6 /></g><g class=b><circle cy=509.4 /></g><g class=o><circle cy=638.6 /><circle cy=605 /><circle cy=622.4 /></g><g class=b><circle cy=627.8 /></g><g class=o><circle cy=572.6 /><circle cy=674.1 /><circle cy=606.2 /><circle cy=643.9 /></g><g class=b><circle cy=618.1 /></g><g class=o><circle cy=600.3 /><circle cy=659.9 /><circle cy=609.3 /><circle cy=677.1 /><circle cy=537.4 /><circle cy=649.9 /><circle cy=654.7 /><circle cy=629.9 /><circle cy=663.7 /><circle cy=650.7 /></g><g class=b><circle cy=638 /></g><g class=o><circle cy=743.6 /></g><g class=b><circle cy=601.1 /><circle cy=592.8 /><circle cy=564.3 /><circle cy=608.5 /></g><g class=o><circle cy=634.7 /><circle cy=659.9 /><circle cy=651.6 /></g><g class=b><circle cy=661.2 /><circle cy=601.7 /><circle cy=632.4 /><circle cy=554.7 /><circle cy=566 /></g><g class=o><circle cy=633 /></g><g class=b><circle cy=571.1 /><circle cy=610.6 /><circle cy=583.7 /><circle cy=588.4 /><circle cy=588.3 /></g><g class=o><circle cy=617.2 /></g><g class=b><circle cy=622.2 /></g><g class=o><circle cy=573.8 /><circle cy=622 /><circle cy=630.6 /><circle cy=698 /></g><g class=b><circle cy=604.9 /></g><g class=o><circle cy=573 /></g><g class=b><circle cy=631.5 /></g><g class=o><circle cy=640.6 /></g><g class=b><circle cy=632.3 /></g><g class=o><circle cy=671.1 /><circle cy=564.3 /></g><g class=b><circle cy=649.2 /><circle cy=548.9 /><circle cy=624.4 /></g><g class=o><circle cy=574 /></g><g class=b><circle cy=618.6 /></g><g class=o><circle cy=633.1 /><circle cy=679 /></g><g class=b><circle cy=587.3 /><circle cy=653.5 /><circle cy=631.5 /><circle cy=616.4 /><circle cy=660.4 /><circle cy=635.8 /><circle cy=632 /></g><g class=o><circle cy=612.8 /></g><g class=b><circle cy=607.9 /></g><g class=o><circle cy=758.9 /><circle cy=611.6 /><circle cy=684.9 /><circle cy=649.6 /></g><g class=b><circle cy=614.7 /><circle cy=594.2 /><circle cy=532.3 /><circle cy=564.8 /></g><g class=o><circle cy=633.8 /><circle cy=645.7 /><circle cy=636.9 /></g><g class=b><circle cy=676.8 /></g><g class=o><circle cy=645.3 /></g><g class=b><circle cy=578.1 /></g><g class=o><circle cy=615.2 /></g><g class=b><circle cy=572.7 /><circle cy=642 /></g><g class=o><circle cy=626.8 /></g><g class=b><circle cy=611 /><circle cy=644.9 /><circle cy=579.8 /><circle cy=661.2 /></g><g class=o><circle cy=660.8 /><circle cy=623.2 /><circle cy=669 /><circle cy=641.5 /><circle cy=537.2 /><circle cy=611.8 /><circle cy=724.5 /><circle cy=621.6 /><circle cy=678.5 /><circle cy=637 /><circle cy=607.8 /></g><g class=b><circle cy=682.5 /><circle cy=588.1 /></g><g class=o><circle cy=607 /></g><g class=b><circle cy=605.4 /></g><g class=o><circle cy=678.1 /><circle cy=648.7 /></g><g class=b><circle cy=618.1 /></g><g class=o><circle cy=655.5 /><circle cy=593.4 /></g><g class=b><circle cy=613.9 /></g><g class=o><circle cy=611.9 /></g><g class=b><circle cy=572.7 /><circle cy=601.9 /><circle cy=619.7 /><circle cy=661.1 /><circle cy=599.1 /></g><g class=o><circle cy=587.8 /><circle cy=601.5 /></g><g class=b><circle cy=600.4 /></g><g class=o><circle cy=606.5 /></g><g class=b><circle cy=659.8 /><circle cy=553.1 /><circle cy=636.5 /><circle cy=648 /></g><g class=o><circle cy=680.2 /></g><g class=b><circle cy=553.4 /></g><g class=o><circle cy=657.1 /><circle cy=609.1 /></g><g class=b><circle cy=668.5 /></g><g class=o><circle cy=702.9 /><circle cy=644.7 /><circle cy=625.1 /><circle cy=639.8 /></g></g><g transform="translate(288.4)"><g class=b><circle cy=584.2 /></g><g class=o><circle cy=685.5 /></g><g class=b><circle cy=611.9 /><circle cy=588.5 /></g><g class=o><circle cy=623.8 /><circle cy=641.4 /></g><g class=b><circle cy=638.8 /></g><g class=o><circle cy=585.4 /></g><g class=b><circle cy=625.1 /><circle cy=657.7 /><circle cy=613.5 /><circle cy=484.5 /><circle cy=595.2 /><circle cy=563.2 /></g><g class=o><circle cy=575.1 /></g><g class=b><circle cy=603.9 /></g><g class=o><circle cy=644 /><circle cy=654.5 /><circle cy=705.2 /></g><g class=b><circle cy=681.7 /></g><g class=o><circle cy=597.7 /><circle cy=671.4 /></g><g class=b><circle cy=620.6 /><circle cy=650.9 /></g><g class=o><circle cy=663.7 /></g><g class=b><circle cy=597.8 /></g><g class=o><circle cy=659.3 /><circle cy=652.9 /><circle cy=619.7 /><circle cy=616.1 /><circle cy=601.5 /><circle cy=656.4 /><circle cy=631.7 /><circle cy=693.6 /></g><g class=b><circle cy=612.8 /><circle cy=660.7 /><circle cy=589.7 /><circle cy=576.8 /><circle cy=582.4 /><circle cy=579.2 /><circle cy=624.2 /></g><g class=o><circle cy=540.2 /><circle cy=623.3 /><circle cy=712.5 /><circle cy=663.9 /><circle cy=610.7 /></g><g class=b><circle cy=621.6 /></g><g class=o><circle cy=649.5 /><circle cy=672.6 /><circle cy=620.3 /></g><g class=b><circle cy=679.3 /><circle cy=615.4 /></g><g class=o><circle cy=667 /><circle cy=670.1 /></g><g class=b><circle cy=605.1 /><circle cy=618.7 /></g><g class=o><circle cy=634.9 /><circle cy=572 /></g><g class=b><circle cy=623.9 /></g><g class=o><circle cy=580.6 /><circle cy=634.9 /><circle cy=721.4 /></g><g class=b><circle cy=582 /><circle cy=601.4 /><circle cy=625.9 /></g><g class=o><circle cy=639.8 /><circle cy=596.5 /></g><g class=b><circle cy=556.8 /></g><g class=o><circle cy=613 /><circle cy=682.7 /></g><g class=b><circle cy=737.3 /><circle cy=648.8 /></g><g class=o><circle cy=653.8 /></g><g class=b><circle cy=609.9 /></g><g class=o><circle cy=562.2 /></g><g class=b><circle cy=508.2 /></g><g class=o><circle cy=678.5 /><circle cy=666 /><circle cy=644.7 /></g><g class=b><circle cy=597.4 /><circle cy=659.3 /><circle cy=549.1 /><circle cy=622.9 /><circle cy=628.1 /></g><g class=o><circle cy=650.2 /></g><g class=b><circle cy=573.7 /><circle cy=630.3 /><circle cy=670.6 /><circle cy=548.4 /></g><g class=o><circle cy=661.8 /><circle cy=668.2 /></g><g class=b><circle cy=655.6 /><circle cy=639.9 /></g><g class=o><circle cy=683.6 /></g><g class=b><circle cy=574.6 /></g><g class=o><circle cy=631.6 /></g><g class=b><circle cy=662.6 /></g><g class=o><circle cy=628 /></g><g class=b><circle cy=582.5 /></g><g class=o><circle cy=660.9 /><circle cy=646.2 /></g><g class=b><circle cy=618.3 /></g><g class=o><circle cy=665.7 /><circle cy=676.2 /><circle cy=592.8 /></g><g class=b><circle cy=612.4 /></g><g class=o><circle cy=621.7 /><circle cy=690.4 /><circle cy=633.5 /></g><g class=b><circle cy=642.6 /><circle cy=618.8 /></g><g class=o><circle cy=624.7 /></g><g class=b><circle cy=597.2 /></g><g class=o><circle cy=673.3 /><circle cy=660.5 /></g><g class=b><circle cy=618.7 /></g><g class=o><circle cy=619.7 /><circle cy=628.2 /></g><g class=b><circle cy=628 /></g><g class=o><circle cy=618.9 /></g><g class=b><circle cy=676.6 /><circle cy=571.6 /><circle cy=611.9 /></g><g class=o><circle cy=685.1 /><circle cy=635.8 /></g><g class=b><circle cy=668.7 /><circle cy=636.2 /></g><g class=o><circle cy=662.2 /><circle cy=645.3 /><circle cy=611 /></g><g class=b><circle cy=616.7 /><circle cy=604.6 /></g><g class=o><circle cy=597.4 /></g><g class=b><circle cy=689 /><circle cy=598.4 /><circle cy=605.4 /></g><g class=o><circle cy=655.4 /></g><g class=b><circle cy=595.9 /></g><g class=o><circle cy=597.6 /></g><g class=b><circle cy=661.4 /></g><g class=o><circle cy=520.1 /></g><g class=b><circle cy=585.1 /></g><g class=o><circle cy=617.9 /></g></g><g transform="translate(298.4)"><g class=o><circle cy=744.6 /></g><g class=b><circle cy=633.2 /></g><g class=o><circle cy=640.1 /></g><g class=b><circle cy=620.1 /><circle cy=595.3 /></g><g class=o><circle cy=653.6 /></g><g class=b><circle cy=623.9 /></g><g class=o><circle cy=639.8 /></g><g class=b><circle cy=560.8 /><circle cy=731.9 /></g><g class=o><circle cy=629.7 /><circle cy=634.3 /></g><g class=b><circle cy=575.3 /><circle cy=588 /></g><g class=o><circle cy=642.7 /><circle cy=622.9 /><circle cy=636.5 /><circle cy=597.5 /></g><g class=b><circle cy=606.5 /></g><g class=o><circle cy=621.4 /></g><g class=b><circle cy=648.4 /><circle cy=482 /><circle cy=698.4 /></g><g class=o><circle cy=628.1 /><circle cy=668.9 /></g><g class=b><circle cy=637 /><circle cy=640 /><circle cy=597 /><circle cy=635.5 /></g><g class=o><circle cy=664.2 /><circle cy=598.2 /><circle cy=592.4 /><circle cy=621.9 /></g><g class=b><circle cy=651.7 /><circle cy=613.5 /></g><g class=o><circle cy=558.2 /><circle cy=678.1 /></g><g class=b><circle cy=590.5 /></g><g class=o><circle cy=648.2 /><circle cy=666.2 /></g><g class=b><circle cy=683.6 /><circle cy=603.5 /></g><g class=o><circle cy=585.8 /></g><g class=b><circle cy=496.4 /><circle cy=655.7 /></g><g class=o><circle cy=662 /><circle cy=769.8 /></g><g class=b><circle cy=563.3 /></g><g class=o><circle cy=669.7 /><circle cy=627.8 /><circle cy=690.8 /></g><g class=b><circle cy=591.4 /></g><g class=o><circle cy=668.1 /></g><g class=b><circle cy=610.4 /></g><g class=o><circle cy=671.9 /><circle cy=678.5 /><circle cy=612.4 /></g><g class=b><circle cy=566.5 /><circle cy=642.5 /><circle cy=591.2 /></g><g class=o><circle cy=640.5 /><circle cy=675.3 /><circle cy=690.6 /></g><g class=b><circle cy=562.4 /></g><g class=o><circle cy=624.2 /><circle cy=656.7 /></g><g class=b><circle cy=615.2 /><circle cy=597.4 /><circle cy=558.3 /><circle cy=582.8 /></g><g class=o><circle cy=615.3 /></g><g class=b><circle cy=623 /></g><g class=o><circle cy=628.4 /><circle cy=600 /></g><g class=b><circle cy=674.4 /></g><g class=o><circle cy=614 /></g><g class=b><circle cy=637.3 /><circle cy=691.1 /></g><g class=o><circle cy=666 /><circle cy=608.9 /></g><g class=b><circle cy=619.9 /><circle cy=594.5 /></g><g class=o><circle cy=655.1 /></g><g class=b><circle cy=534.6 /><circle cy=658.9 /></g><g class=o><circle cy=657 /><circle cy=617.7 /><circle cy=616.1 /><circle cy=582.8 /><circle cy=659.3 /></g><g class=b><circle cy=655.3 /></g><g class=o><circle cy=608.1 /></g><g class=b><circle cy=638.7 /></g><g class=o><circle cy=626.3 /></g><g class=b><circle cy=608.3 /></g><g class=o><circle cy=633.6 /></g><g class=b><circle cy=667.2 /><circle cy=686 /><circle cy=594.4 /><circle cy=582.6 /><circle cy=637.3 /><circle cy=572.2 /></g><g class=o><circle cy=705.6 /></g><g class=b><circle cy=607.7 /></g><g class=o><circle cy=640.3 /></g><g class=b><circle cy=543 /></g><g class=o><circle cy=607.7 /></g><g class=b><circle cy=598.3 /><circle cy=604.7 /></g><g class=o><circle cy=668.8 /><circle cy=650.4 /><circle cy=616.9 /><circle cy=573.5 /><circle cy=616.7 /><circle cy=645.9 /><circle cy=659.6 /><circle cy=624.3 /></g><g class=b><circle cy=641.7 /><circle cy=644.9 /></g><g class=o><circle cy=702.4 /></g><g class=b><circle cy=658.6 /><circle cy=566.2 /></g><g class=o><circle cy=631 /><circle cy=657.6 /></g><g class=b><circle cy=649.2 /><circle cy=579.7 /></g><g class=o><circle cy=540.4 /><circle cy=565.9 /><circle cy=589.5 /></g><g class=b><circle cy=656.4 /><circle cy=647.6 /></g><g class=o><circle cy=686.7 /></g><g class=b><circle cy=634.1 /><circle cy=630.7 /><circle cy=613.8 /><circle cy=563.5 /></g><g class=o><circle cy=608.8 /></g><g class=b><circle cy=650.4 /></g><g class=o><circle cy=703 /></g></g><g transform="translate(308.3)"><g class=o><circle cy=613.5 /></g><g class=b><circle cy=613.9 /><circle cy=546.5 /><circle cy=640.6 /></g><g class=o><circle cy=597.8 /></g><g class=b><circle cy=576.6 /></g><g class=o><circle cy=630.9 /><circle cy=648.2 /></g><g class=b><circle cy=596.7 /><circle cy=599.3 /></g><g class=o><circle cy=656.7 /><circle cy=703.3 /><circle cy=688.2 /></g><g class=b><circle cy=699.5 /><circle cy=590 /></g><g class=o><circle cy=699.9 /><circle cy=689.1 /></g><g class=b><circle cy=663.7 /></g><g class=o><circle cy=691.1 /></g><g class=b><circle cy=661.8 /><circle cy=614.4 /></g><g class=o><circle cy=635.9 /><circle cy=601.1 /></g><g class=b><circle cy=638.9 /><circle cy=677.3 /><circle cy=628.5 /></g><g class=o><circle cy=639.1 /><circle cy=681.9 /><circle cy=650.5 /><circle cy=623.4 /></g><g class=b><circle cy=666.4 /><circle cy=613.7 /><circle cy=579.4 /><circle cy=656.2 /><circle cy=618.8 /><circle cy=621 /><circle cy=599.9 /></g><g class=o><circle cy=631.9 /></g><g class=b><circle cy=621.7 /></g><g class=o><circle cy=633 /><circle cy=661.2 /><circle cy=577.1 /></g><g class=b><circle cy=617.9 /><circle cy=616.2 /><circle cy=622.3 /></g><g class=o><circle cy=580.4 /><circle cy=624.7 /></g><g class=b><circle cy=534.1 /><circle cy=632.6 /><circle cy=611.9 /><circle cy=677.8 /></g><g class=o><circle cy=649.5 /></g><g class=b><circle cy=618.8 /></g><g class=o><circle cy=671.2 /></g><g class=b><circle cy=641.7 /></g><g class=o><circle cy=615.8 /><circle cy=575.9 /></g><g class=b><circle cy=592 /><circle cy=670.3 /><circle cy=618.5 /><circle cy=650 /></g><g class=o><circle cy=681.4 /><circle cy=614.1 /></g><g class=b><circle cy=601.5 /></g><g class=o><circle cy=725.8 /></g><g class=b><circle cy=559.5 /><circle cy=609 /></g><g class=o><circle cy=645.4 /></g><g class=b><circle cy=646.2 /><circle cy=653.1 /></g><g class=o><circle cy=667.7 /><circle cy=612.4 /></g><g class=b><circle cy=626.9 /></g><g class=o><circle cy=633.8 /></g><g class=b><circle cy=674.7 /></g><g class=o><circle cy=628.2 /></g><g class=b><circle cy=622 /><circle cy=686.9 /></g><g class=o><circle cy=678.7 /><circle cy=647.6 /></g><g class=b><circle cy=633.6 /></g><g class=o><circle cy=664.2 /><circle cy=554.8 /><circle cy=750.9 /><circle cy=631.2 /></g><g class=b><circle cy=590.4 /></g><g class=o><circle cy=655.8 /><circle cy=629 /></g><g class=b><circle cy=525 /><circle cy=611.5 /><circle cy=649.2 /></g><g class=o><circle cy=524.5 /><circle cy=672.5 /></g><g class=b><circle cy=633 /></g><g class=o><circle cy=631 /><circle cy=673.5 /><circle cy=580.2 /></g><g class=b><circle cy=625.1 /><circle cy=606.7 /><circle cy=591.5 /><circle cy=627.7 /><circle cy=581.8 /></g><g class=o><circle cy=616.5 /></g><g class=b><circle cy=641.2 /><circle cy=579.5 /></g><g class=o><circle cy=629 /><circle cy=615.6 /><circle cy=653.6 /><circle cy=686.8 /><circle cy=643.1 /></g><g class=b><circle cy=567.5 /></g><g class=o><circle cy=652.3 /><circle cy=554.3 /><circle cy=614.9 /></g><g class=b><circle cy=642.7 /><circle cy=568.1 /><circle cy=667.3 /></g><g class=o><circle cy=664.1 /><circle cy=662.5 /><circle cy=599.4 /><circle cy=711.4 /></g><g class=b><circle cy=668.4 /></g><g class=o><circle cy=691.5 /></g><g class=b><circle cy=664 /></g><g class=o><circle cy=672.4 /><circle cy=666.8 /></g><g class=b><circle cy=624.5 /><circle cy=603.2 /></g><g class=o><circle cy=643.7 /></g><g class=b><circle cy=608 /></g><g class=o><circle cy=621.7 /><circle cy=683.1 /><circle cy=772.3 /></g><g class=b><circle cy=566.7 /></g></g><g transform="translate(318.2)"><g class=o><circle cy=568.7 /><circle cy=611.1 /><circle cy=648.6 /><circle cy=638.5 /></g><g class=b><circle cy=599.9 /><circle cy=579.6 /><circle cy=578.6 /><circle cy=602.5 /><circle cy=559.3 /></g><g class=o><circle cy=641.9 /><circle cy=706.9 /><circle cy=642.8 /></g><g class=b><circle cy=664.6 /><circle cy=590.9 /></g><g class=o><circle cy=678.2 /><circle cy=676.3 /></g><g class=b><circle cy=591.7 /></g><g class=o><circle cy=672.9 /><circle cy=648.9 /></g><g class=b><circle cy=612.9 /><circle cy=625.7 /></g><g class=o><circle cy=652.5 /></g><g class=b><circle cy=598.1 /></g><g class=o><circle cy=653.5 /></g><g class=b><circle cy=646 /></g><g class=o><circle cy=625 /><circle cy=643.6 /><circle cy=613.2 /><circle cy=705 /><circle cy=634.1 /></g><g class=b><circle cy=651.6 /><circle cy=551.8 /></g><g class=o><circle cy=640.5 /></g><g class=b><circle cy=661.8 /></g><g class=o><circle cy=665.8 /><circle cy=697.3 /></g><g class=b><circle cy=661.6 /><circle cy=617.5 /></g><g class=o><circle cy=638.7 /><circle cy=652.5 /></g><g class=b><circle cy=494.9 /></g><g class=o><circle cy=601.2 /></g><g class=b><circle cy=629.7 /></g><g class=o><circle cy=535.9 /></g><g class=b><circle cy=733.4 /><circle cy=637.5 /></g><g class=o><circle cy=720.8 /></g><g class=b><circle cy=684.6 /><circle cy=634.9 /></g><g class=o><circle cy=638.3 /><circle cy=616.6 /><circle cy=751.8 /><circle cy=616.2 /><circle cy=690.6 /></g><g class=b><circle cy=620.4 /><circle cy=596 /><circle cy=628.4 /></g><g class=o><circle cy=666 /><circle cy=672.8 /><circle cy=626.8 /><circle cy=618.7 /></g><g class=b><circle cy=619.7 /></g><g class=o><circle cy=656.1 /><circle cy=637.5 /></g><g class=b><circle cy=620 /></g><g class=o><circle cy=618 /><circle cy=661.3 /></g><g class=b><circle cy=508.2 /><circle cy=581.5 /></g><g class=o><circle cy=647.2 /></g><g class=b><circle cy=567.1 /><circle cy=535.8 /><circle cy=665 /></g><g class=o><circle cy=610.2 /><circle cy=604.5 /></g><g class=b><circle cy=621.6 /><circle cy=573.1 /><circle cy=695.7 /></g><g class=o><circle cy=701.5 /><circle cy=640.4 /></g><g class=b><circle cy=620.3 /><circle cy=609.2 /></g><g class=o><circle cy=679.9 /><circle cy=703.7 /><circle cy=566.8 /><circle cy=569.1 /></g><g class=b><circle cy=597.2 /><circle cy=647.1 /><circle cy=594.4 /><circle cy=654.2 /></g><g class=o><circle cy=657.9 /></g><g class=b><circle cy=640.8 /><circle cy=591.5 /><circle cy=652 /></g><g class=o><circle cy=629.1 /></g><g class=b><circle cy=588.3 /><circle cy=517.9 /></g><g class=o><circle cy=631.7 /><circle cy=643.7 /><circle cy=627 /></g><g class=b><circle cy=597.7 /><circle cy=591.8 /></g><g class=o><circle cy=612.1 /></g><g class=b><circle cy=617.7 /></g><g class=o><circle cy=625 /></g><g class=b><circle cy=552 /></g><g class=o><circle cy=773 /><circle cy=681.7 /><circle cy=637.5 /><circle cy=657.2 /><circle cy=654.2 /></g><g class=b><circle cy=658.7 /></g><g class=o><circle cy=655.4 /></g><g class=b><circle cy=598.7 /></g><g class=o><circle cy=663.7 /></g><g class=b><circle cy=608.9 /></g><g class=o><circle cy=683.8 /></g><g class=b><circle cy=595.4 /><circle cy=576.1 /></g><g class=o><circle cy=632.9 /><circle cy=648.7 /></g><g class=b><circle cy=676.1 /><circle cy=641.4 /><circle cy=588.9 /><circle cy=642.8 /></g><g class=o><circle cy=651.2 /></g><g class=b><circle cy=606.5 /><circle cy=642.7 /></g><g class=o><circle cy=668.8 /><circle cy=667.3 /></g><g class=b><circle cy=621.6 /></g><g class=o><circle cy=682.4 /><circle cy=685.8 /></g><g class=b><circle cy=637.8 /><circle cy=593.8 /></g><g class=o><circle cy=717.8 /><circle cy=680.8 /></g></g><g transform="translate(328.1)"><g class=o><circle cy=709.5 /></g><g class=b><circle cy=592.9 /></g><g class=o><circle cy=667.4 /></g><g class=b><circle cy=617.2 /></g><g class=o><circle cy=648.4 /><circle cy=620 /></g><g class=b><circle cy=623.9 /></g><g class=o><circle cy=682 /></g><g class=b><circle cy=695.1 /><circle cy=615.8 /></g><g class=o><circle cy=560.7 /></g><g class=b><circle cy=670.4 /></g><g class=o><circle cy=671.6 /><circle cy=672.3 /><circle cy=652.6 /></g><g class=b><circle cy=657.5 /></g><g class=o><circle cy=712.3 /></g><g class=b><circle cy=610.6 /><circle cy=633.6 /><circle cy=588.8 /></g><g class=o><circle cy=662.6 /><circle cy=685.8 /></g><g class=b><circle cy=577.8 /></g><g class=o><circle cy=586.7 /><circle cy=650.5 /></g><g class=b><circle cy=633.1 /></g><g class=o><circle cy=620.4 /></g><g class=b><circle cy=639.3 /></g><g class=o><circle cy=669.1 /></g><g class=b><circle cy=625.9 /></g><g class=o><circle cy=536.7 /><circle cy=690.5 /></g><g class=b><circle cy=662.4 /></g><g class=o><circle cy=645.4 /><circle cy=697.1 /><circle cy=601.5 /><circle cy=671.5 /></g><g class=b><circle cy=600.4 /><circle cy=592.5 /></g><g class=o><circle cy=687 /></g><g class=b><circle cy=636.7 /><circle cy=664.7 /><circle cy=592.1 /></g><g class=o><circle cy=631.3 /><circle cy=708.1 /></g><g class=b><circle cy=648.5 /></g><g class=o><circle cy=683.2 /><circle cy=677.5 /><circle cy=654.2 /><circle cy=613.7 /></g><g class=b><circle cy=649.7 /></g><g class=o><circle cy=640.7 /><circle cy=623.1 /><circle cy=677.8 /></g><g class=b><circle cy=569 /></g><g class=o><circle cy=624.4 /></g><g class=b><circle cy=622.8 /></g><g class=o><circle cy=647.6 /><circle cy=613.1 /><circle cy=646.5 /></g><g class=b><circle cy=607.5 /></g><g class=o><circle cy=650 /><circle cy=660.4 /></g><g class=b><circle cy=588.4 /><circle cy=570.9 /></g><g class=o><circle cy=690.1 /></g><g class=b><circle cy=591.6 /><circle cy=619.3 /><circle cy=608.4 /></g><g class=o><circle cy=635.9 /><circle cy=627.4 /></g><g class=b><circle cy=583.3 /><circle cy=592.2 /></g><g class=o><circle cy=667.5 /></g><g class=b><circle cy=603.9 /></g><g class=o><circle cy=630.4 /><circle cy=670.4 /><circle cy=623.4 /><circle cy=612.9 /></g><g class=b><circle cy=615.6 /><circle cy=612 /><circle cy=547.8 /></g><g class=o><circle cy=640.3 /><circle cy=768.4 /></g><g class=b><circle cy=677.1 /></g><g class=o><circle cy=685.1 /></g><g class=b><circle cy=640.4 /></g><g class=o><circle cy=645.1 /></g><g class=b><circle cy=656 /></g><g class=o><circle cy=672.7 /></g><g class=b><circle cy=616.5 /></g><g class=o><circle cy=617.9 /><circle cy=690.8 /></g><g class=b><circle cy=656.2 /></g><g class=o><circle cy=630.2 /><circle cy=703.5 /></g><g class=b><circle cy=494 /><circle cy=514.3 /><circle cy=604.2 /><circle cy=611.9 /></g><g class=o><circle cy=662.5 /><circle cy=695.1 /></g><g class=b><circle cy=673.3 /></g><g class=o><circle cy=603.2 /></g><g class=b><circle cy=603.4 /></g><g class=o><circle cy=598.2 /><circle cy=619.7 /></g><g class=b><circle cy=675.8 /></g><g class=o><circle cy=630.7 /></g><g class=b><circle cy=659.7 /><circle cy=594.7 /></g><g class=o><circle cy=617.4 /><circle cy=703 /><circle cy=638.8 /><circle cy=529.9 /></g><g class=b><circle cy=593 /></g><g class=o><circle cy=654.7 /></g><g class=b><circle cy=642.2 /></g><g class=o><circle cy=653.2 /></g><g class=b><circle cy=597 /></g><g class=o><circle cy=578.2 /></g><g class=b><circle cy=651.1 /></g><g class=o><circle cy=641.5 /><circle cy=700.9 /><circle cy=607.3 /><circle cy=602.1 /><circle cy=648.8 /></g><g class=b><circle cy=494.8 /><circle cy=670.7 /></g><g class=o><circle cy=623.2 /></g><g class=b><circle cy=599.3 /></g><g class=o><circle cy=663.4 /></g><g class=b><circle cy=600.4 /></g><g class=o><circle cy=564.6 /><circle cy=642.1 /></g></g><g transform="translate(338.1)"><g class=o><circle cy=577.3 /></g><g class=b><circle cy=623.6 /></g><g class=o><circle cy=689.5 /><circle cy=609.1 /></g><g class=b><circle cy=561.6 /></g><g class=o><circle cy=621.3 /></g><g class=b><circle cy=630.5 /></g><g class=o><circle cy=617.5 /></g><g class=b><circle cy=651.3 /></g><g class=o><circle cy=626.7 /><circle cy=653.8 /></g><g class=b><circle cy=598.7 /></g><g class=o><circle cy=638 /></g><g class=b><circle cy=642 /><circle cy=594 /><circle cy=657.8 /><circle cy=653.3 /><circle cy=610.9 /><circle cy=562.2 /><circle cy=627.1 /></g><g class=o><circle cy=617 /><circle cy=717.1 /><circle cy=639.4 /></g><g class=b><circle cy=579.3 /><circle cy=636.5 /></g><g class=o><circle cy=657 /><circle cy=646.1 /><circle cy=684.3 /></g><g class=b><circle cy=715.9 /><circle cy=574.1 /><circle cy=605.5 /></g><g class=o><circle cy=582.5 /></g><g class=b><circle cy=678.1 /><circle cy=634.4 /><circle cy=495.8 /></g><g class=o><circle cy=617.9 /><circle cy=625.6 /><circle cy=696.4 /><circle cy=668.4 /><circle cy=762.8 /></g><g class=b><circle cy=619.4 /><circle cy=569.7 /></g><g class=o><circle cy=632.8 /><circle cy=712.3 /><circle cy=671 /><circle cy=654.5 /></g><g class=b><circle cy=644.3 /></g><g class=o><circle cy=615.7 /></g><g class=b><circle cy=676.2 /><circle cy=607.1 /></g><g class=o><circle cy=679.1 /><circle cy=659.6 /><circle cy=618.1 /><circle cy=617.8 /></g><g class=b><circle cy=634.3 /></g><g class=o><circle cy=649.8 /></g><g class=b><circle cy=604 /><circle cy=648.2 /><circle cy=609.9 /><circle cy=604.6 /></g><g class=o><circle cy=700.8 /><circle cy=627.5 /><circle cy=666.5 /><circle cy=667 /><circle cy=589.2 /></g><g class=b><circle cy=571.3 /><circle cy=590.2 /><circle cy=651.1 /><circle cy=627.8 /></g><g class=o><circle cy=671.2 /></g><g class=b><circle cy=655.9 /></g><g class=o><circle cy=624.3 /></g><g class=b><circle cy=533.9 /><circle cy=549.7 /></g><g class=o><circle cy=531.8 /></g><g class=b><circle cy=589.6 /></g><g class=o><circle cy=674.7 /><circle cy=600.1 /></g><g class=b><circle cy=626.2 /></g><g class=o><circle cy=615.1 /></g><g class=b><circle cy=646.2 /></g><g class=o><circle cy=657.6 /></g><g class=b><circle cy=631.1 /><circle cy=586.8 /><circle cy=676.1 /></g><g class=o><circle cy=713.6 /><circle cy=642.4 /></g><g class=b><circle cy=699.5 /></g><g class=o><circle cy=639.6 /><circle cy=644.1 /><circle cy=629.4 /><circle cy=667.4 /></g><g class=b><circle cy=627.9 /><circle cy=631.4 /></g><g class=o><circle cy=624.8 /><circle cy=637.8 /><circle cy=636.9 /></g><g class=b><circle cy=620.1 /><circle cy=681 /><circle cy=644.2 /></g><g class=o><circle cy=618.2 /><circle cy=683.3 /></g><g class=b><circle cy=509.3 /></g><g class=o><circle cy=623.5 /></g><g class=b><circle cy=686.1 /></g><g class=o><circle cy=663.3 /></g><g class=b><circle cy=577.7 /><circle cy=594.8 /><circle cy=641.4 /></g><g class=o><circle cy=655.5 /></g><g class=b><circle cy=659.9 /></g><g class=o><circle cy=604.4 /><circle cy=665 /><circle cy=611.2 /></g><g class=b><circle cy=573.5 /><circle cy=610.8 /></g><g class=o><circle cy=613.8 /><circle cy=680.8 /></g><g class=b><circle cy=532.9 /></g><g class=o><circle cy=667.1 /><circle cy=718.5 /></g><g class=b><circle cy=665.1 /><circle cy=659.7 /><circle cy=665.1 /></g><g class=o><circle cy=686.8 /></g><g class=b><circle cy=671.7 /><circle cy=701 /></g><g class=o><circle cy=671.9 /><circle cy=601.5 /></g></g><g transform="translate(348)"><g class=b><circle cy=637.7 /><circle cy=620.2 /><circle cy=685.5 /></g><g class=o><circle cy=646.7 /></g><g class=b><circle cy=556 /></g><g class=o><circle cy=620.6 /></g><g class=b><circle cy=631.5 /></g><g class=o><circle cy=703.1 /><circle cy=639 /><circle cy=651.6 /><circle cy=693.5 /></g><g class=b><circle cy=686.4 /><circle cy=619.5 /></g><g class=o><circle cy=680.3 /></g><g class=b><circle cy=620.7 /><circle cy=588.5 /></g><g class=o><circle cy=697.4 /></g><g class=b><circle cy=646.5 /></g><g class=o><circle cy=630.1 /><circle cy=625.1 /><circle cy=655.8 /></g><g class=b><circle cy=631.5 /><circle cy=602.9 /></g><g class=o><circle cy=673.8 /><circle cy=674.3 /><circle cy=651.8 /><circle cy=539.7 /><circle cy=629.6 /><circle cy=620.8 /></g><g class=b><circle cy=541.3 /><circle cy=621.4 /></g><g class=o><circle cy=544.6 /><circle cy=655.1 /></g><g class=b><circle cy=660.7 /><circle cy=498.5 /></g><g class=o><circle cy=707.7 /><circle cy=661.1 /><circle cy=647 /></g><g class=b><circle cy=599.2 /></g><g class=o><circle cy=668.7 /><circle cy=718.7 /><circle cy=649.4 /><circle cy=628.1 /><circle cy=735.9 /></g><g class=b><circle cy=604.3 /></g><g class=o><circle cy=561.1 /><circle cy=630.5 /></g><g class=b><circle cy=485 /></g><g class=o><circle cy=571.1 /></g><g class=b><circle cy=585 /><circle cy=634.9 /></g><g class=o><circle cy=651.9 /><circle cy=636.7 /><circle cy=645.1 /></g><g class=b><circle cy=610.5 /><circle cy=639.7 /></g><g class=o><circle cy=623.8 /><circle cy=613.6 /></g><g class=b><circle cy=609.7 /><circle cy=690.8 /><circle cy=609.6 /></g><g class=o><circle cy=610.8 /></g><g class=b><circle cy=623.6 /></g><g class=o><circle cy=624.3 /><circle cy=597.1 /><circle cy=763 /><circle cy=660.8 /></g><g class=b><circle cy=659 /></g><g class=o><circle cy=641.9 /></g><g class=b><circle cy=585.4 /></g><g class=o><circle cy=684.2 /><circle cy=713.6 /></g><g class=b><circle cy=578.2 /><circle cy=639.2 /></g><g class=o><circle cy=661.4 /><circle cy=662.4 /><circle cy=634.1 /><circle cy=626.5 /><circle cy=659.2 /><circle cy=620.1 /><circle cy=696.6 /><circle cy=654.5 /><circle cy=647.5 /></g><g class=b><circle cy=635.4 /><circle cy=633.6 /><circle cy=628.5 /><circle cy=609.3 /><circle cy=639.5 /></g><g class=o><circle cy=689.4 /></g><g class=b><circle cy=753.3 /></g><g class=o><circle cy=601.4 /><circle cy=765.4 /><circle cy=564.8 /></g><g class=b><circle cy=677.9 /></g><g class=o><circle cy=618 /><circle cy=664 /></g><g class=b><circle cy=599.1 /></g><g class=o><circle cy=626.5 /></g><g class=b><circle cy=597.4 /></g><g class=o><circle cy=620.5 /></g><g class=b><circle cy=597.5 /><circle cy=580.1 /></g><g class=o><circle cy=653.3 /></g><g class=b><circle cy=682.7 /></g><g class=o><circle cy=678.9 /><circle cy=692.2 /><circle cy=682.3 /><circle cy=680.8 /></g><g class=b><circle cy=593.8 /></g><g class=o><circle cy=642.6 /><circle cy=655.5 /></g><g class=b><circle cy=679.5 /></g><g class=o><circle cy=675.9 /></g><g class=b><circle cy=599.6 /><circle cy=662.3 /></g><g class=o><circle cy=673.9 /><circle cy=610.1 /></g><g class=b><circle cy=567.2 /><circle cy=651.8 /></g><g class=o><circle cy=795.4 /></g><g class=b><circle cy=603 /></g><g class=o><circle cy=617.1 /></g><g class=b><circle cy=648.1 /><circle cy=611 /><circle cy=582.2 /></g><g class=o><circle cy=681.8 /><circle cy=638 /><circle cy=638.4 /></g><g class=b><circle cy=673 /><circle cy=677.1 /></g><g class=o><circle cy=654.9 /><circle cy=694.2 /></g><g class=b><circle cy=636.6 /></g><g class=o><circle cy=615.9 /></g></g><g transform="translate(357.9)"><g class=o><circle cy=585.3 /><circle cy=686.2 /></g><g class=b><circle cy=616.9 /><circle cy=634.3 /><circle cy=637.8 /></g><g class=o><circle cy=671.1 /></g><g class=b><circle cy=624.8 /></g><g class=o><circle cy=705 /><circle cy=643.6 /><circle cy=632 /></g><g class=b><circle cy=670.3 /><circle cy=616.4 /><circle cy=645 /></g><g class=o><circle cy=640.7 /><circle cy=749.3 /><circle cy=678.1 /></g><g class=b><circle cy=665.7 /></g><g class=o><circle cy=608.6 /></g><g class=b><circle cy=627.6 /><circle cy=636.7 /></g><g class=o><circle cy=713.2 /><circle cy=686.5 /></g><g class=b><circle cy=596 /><circle cy=608.6 /><circle cy=503.4 /></g><g class=o><circle cy=690.4 /></g><g class=b><circle cy=660.9 /><circle cy=633.6 /><circle cy=577.2 /></g><g class=o><circle cy=627.4 /></g><g class=b><circle cy=687.2 /><circle cy=639.6 /></g><g class=o><circle cy=524.6 /></g><g class=b><circle cy=650.5 /></g><g class=o><circle cy=631.4 /><circle cy=639.7 /></g><g class=b><circle cy=697.3 /><circle cy=623.6 /></g><g class=o><circle cy=652.2 /></g><g class=b><circle cy=602 /></g><g class=o><circle cy=651.9 /><circle cy=631.9 /></g><g class=b><circle cy=667.9 /><circle cy=644.6 /></g><g class=o><circle cy=673 /><circle cy=649.8 /></g><g class=b><circle cy=590.4 /></g><g class=o><circle cy=693.5 /><circle cy=654 /></g><g class=b><circle cy=600.8 /><circle cy=575.1 /><circle cy=628.2 /><circle cy=648.8 /></g><g class=o><circle cy=611.1 /></g><g class=b><circle cy=658.1 /><circle cy=609 /></g><g class=o><circle cy=719.7 /></g><g class=b><circle cy=625.9 /></g><g class=o><circle cy=566 /><circle cy=625.5 /><circle cy=768.9 /><circle cy=602.4 /></g><g class=b><circle cy=610.4 /><circle cy=529.2 /><circle cy=555 /><circle cy=628.7 /></g><g class=o><circle cy=639.8 /></g><g class=b><circle cy=638.2 /><circle cy=646.3 /><circle cy=567 /></g><g class=o><circle cy=665.3 /><circle cy=624 /><circle cy=676.4 /><circle cy=664.2 /><circle cy=662.8 /></g><g class=b><circle cy=627.7 /></g><g class=o><circle cy=687.5 /><circle cy=680.2 /><circle cy=694.3 /></g><g class=b><circle cy=492.6 /></g><g class=o><circle cy=675 /><circle cy=586.2 /></g><g class=b><circle cy=607.9 /></g><g class=o><circle cy=670 /></g><g class=b><circle cy=612.4 /><circle cy=630 /><circle cy=644.2 /><circle cy=620.4 /><circle cy=650.7 /><circle cy=626.5 /></g><g class=o><circle cy=704.1 /><circle cy=746.3 /></g><g class=b><circle cy=658.6 /><circle cy=563.5 /></g><g class=o><circle cy=637.8 /><circle cy=658.3 /></g><g class=b><circle cy=567 /></g><g class=o><circle cy=639.6 /></g><g class=b><circle cy=636.7 /></g><g class=o><circle cy=657.8 /></g><g class=b><circle cy=510.3 /></g><g class=o><circle cy=675 /></g><g class=b><circle cy=625.7 /></g><g class=o><circle cy=626 /><circle cy=769.9 /></g><g class=b><circle cy=622.5 /><circle cy=581.9 /></g><g class=o><circle cy=640.4 /></g><g class=b><circle cy=628.2 /><circle cy=656 /><circle cy=604.2 /><circle cy=587.4 /></g><g class=o><circle cy=677.5 /><circle cy=651.8 /></g><g class=b><circle cy=594.6 /></g><g class=o><circle cy=704.5 /><circle cy=706.4 /><circle cy=794.2 /><circle cy=608.1 /></g><g class=b><circle cy=723.1 /><circle cy=587.1 /></g></g><g transform="translate(367.9)"><g class=o><circle cy=660.3 /><circle cy=635.4 /><circle cy=679.5 /></g><g class=b><circle cy=584.1 /></g><g class=o><circle cy=588.3 /></g><g class=b><circle cy=498.7 /><circle cy=552.7 /></g><g class=o><circle cy=670.4 /><circle cy=650.3 /></g><g class=b><circle cy=595.6 /><circle cy=526.5 /></g><g class=o><circle cy=678.7 /></g><g class=b><circle cy=614.4 /></g><g class=o><circle cy=648.8 /><circle cy=695.6 /><circle cy=636 /><circle cy=703 /><circle cy=623.2 /><circle cy=635.1 /></g><g class=b><circle cy=632.8 /><circle cy=679.4 /></g><g class=o><circle cy=662.3 /><circle cy=649.9 /><circle cy=677.3 /></g><g class=b><circle cy=600.5 /></g><g class=o><circle cy=699.2 /><circle cy=678.3 /><circle cy=673.2 /></g><g class=b><circle cy=546.3 /></g><g class=o><circle cy=688.2 /><circle cy=624.6 /></g><g class=b><circle cy=692.7 /><circle cy=602.2 /><circle cy=649.4 /></g><g class=o><circle cy=600.5 /><circle cy=708.8 /><circle cy=648.3 /><circle cy=629.7 /></g><g class=b><circle cy=667.9 /></g><g class=o><circle cy=793.4 /></g><g class=b><circle cy=565.7 /></g><g class=o><circle cy=625.8 /><circle cy=652 /></g><g class=b><circle cy=606.7 /><circle cy=645.7 /><circle cy=632.6 /></g><g class=o><circle cy=633.4 /><circle cy=716.3 /></g><g class=b><circle cy=559.2 /><circle cy=638.3 /><circle cy=576.1 /><circle cy=601.2 /></g><g class=o><circle cy=531.2 /><circle cy=672.8 /></g><g class=b><circle cy=502.5 /></g><g class=o><circle cy=631.9 /></g><g class=b><circle cy=601.6 /></g><g class=o><circle cy=662.2 /><circle cy=535.4 /><circle cy=659.5 /><circle cy=678.6 /><circle cy=605.1 /></g><g class=b><circle cy=691 /></g><g class=o><circle cy=584.5 /><circle cy=650.2 /></g><g class=b><circle cy=614.6 /></g><g class=o><circle cy=625.3 /></g><g class=b><circle cy=674 /><circle cy=604 /><circle cy=752.9 /></g><g class=o><circle cy=696.1 /><circle cy=633.8 /></g><g class=b><circle cy=642.1 /><circle cy=615.5 /></g><g class=o><circle cy=680.3 /></g><g class=b><circle cy=647.9 /></g><g class=o><circle cy=664.8 /><circle cy=709.2 /></g><g class=b><circle cy=588 /><circle cy=566.4 /></g><g class=o><circle cy=676.7 /></g><g class=b><circle cy=661.1 /></g><g class=o><circle cy=633 /><circle cy=653.5 /><circle cy=660.3 /><circle cy=682.2 /></g><g class=b><circle cy=688.3 /><circle cy=634.4 /><circle cy=634.6 /></g><g class=o><circle cy=646.4 /></g><g class=b><circle cy=586.6 /></g><g class=o><circle cy=685.8 /></g><g class=b><circle cy=629.3 /><circle cy=562.1 /></g><g class=o><circle cy=625.4 /><circle cy=698.8 /><circle cy=655.5 /><circle cy=639.1 /><circle cy=618.1 /></g><g class=b><circle cy=494.1 /></g><g class=o><circle cy=712.4 /><circle cy=641 /></g><g class=b><circle cy=598.5 /><circle cy=590.8 /></g><g class=o><circle cy=754.1 /></g><g class=b><circle cy=671.4 /><circle cy=634 /><circle cy=687.2 /><circle cy=582.2 /></g><g class=o><circle cy=697.7 /><circle cy=600.9 /></g><g class=b><circle cy=635.6 /></g></g><g transform="translate(377.8)"><g class=b><circle cy=674.9 /></g><g class=o><circle cy=564.4 /></g><g class=b><circle cy=650.2 /></g><g class=o><circle cy=618.9 /></g><g class=b><circle cy=696.2 /></g><g class=o><circle cy=725.4 /></g><g class=b><circle cy=620 /></g><g class=o><circle cy=578.1 /></g><g class=b><circle cy=570.6 /></g><g class=o><circle cy=682.1 /><circle cy=693.8 /></g><g class=b><circle cy=606.9 /></g><g class=o><circle cy=552.7 /><circle cy=654 /></g><g class=b><circle cy=624.5 /></g><g class=o><circle cy=564.3 /><circle cy=596.3 /><circle cy=658.3 /><circle cy=648.5 /></g><g class=b><circle cy=632.6 /><circle cy=640.8 /><circle cy=587.1 /></g><g class=o><circle cy=665.7 /></g><g class=b><circle cy=657.7 /></g><g class=o><circle cy=595.4 /><circle cy=665.1 /><circle cy=708.9 /><circle cy=653.3 /><circle cy=724.2 /><circle cy=692.3 /><circle cy=634.6 /></g><g class=b><circle cy=626.7 /><circle cy=605.2 /></g><g class=o><circle cy=634.7 /></g><g class=b><circle cy=600.8 /><circle cy=631.7 /><circle cy=621.6 /><circle cy=488 /><circle cy=658.6 /><circle cy=569.2 /><circle cy=606 /></g><g class=o><circle cy=670.4 /><circle cy=622.7 /></g><g class=b><circle cy=640.9 /><circle cy=552.8 /><circle cy=637.2 /><circle cy=695.7 /><circle cy=641 /><circle cy=598.9 /><circle cy=616.4 /></g><g class=o><circle cy=636.9 /></g><g class=b><circle cy=584.9 /><circle cy=595 /><circle cy=636.6 /></g><g class=o><circle cy=625.3 /></g><g class=b><circle cy=637.5 /><circle cy=677.2 /><circle cy=570.2 /><circle cy=665.5 /></g><g class=o><circle cy=748.8 /><circle cy=680.6 /><circle cy=706.7 /><circle cy=575.5 /><circle cy=724.6 /><circle cy=644.7 /></g><g class=b><circle cy=696 /></g><g class=o><circle cy=692.9 /><circle cy=659.5 /></g><g class=b><circle cy=600.9 /></g><g class=o><circle cy=598 /><circle cy=652.7 /><circle cy=683.2 /><circle cy=709.7 /><circle cy=714.6 /></g><g class=b><circle cy=686.9 /></g><g class=o><circle cy=671.2 /><circle cy=757.7 /><circle cy=662.2 /></g><g class=b><circle cy=659.8 /><circle cy=554 /><circle cy=598.3 /></g><g class=o><circle cy=626.5 /></g><g class=b><circle cy=621.9 /></g><g class=o><circle cy=720.2 /><circle cy=793.4 /></g><g class=b><circle cy=689.1 /></g><g class=o><circle cy=634.2 /></g><g class=b><circle cy=596.6 /><circle cy=675.6 /></g><g class=o><circle cy=700.3 /></g><g class=b><circle cy=651.4 /><circle cy=632.6 /></g><g class=o><circle cy=691.6 /></g><g class=b><circle cy=598.6 /><circle cy=673.5 /></g><g class=o><circle cy=727.9 /></g><g class=b><circle cy=640.2 /></g><g class=o><circle cy=663 /></g></g><g transform="translate(387.7)"><g class=b><circle cy=635.1 /></g><g class=o><circle cy=639.6 /></g><g class=b><circle cy=705.9 /><circle cy=636.2 /></g><g class=o><circle cy=683.2 /><circle cy=638 /></g><g class=b><circle cy=562.2 /></g><g class=o><circle cy=607.1 /></g><g class=b><circle cy=677.3 /><circle cy=640.4 /><circle cy=670.9 /></g><g class=o><circle cy=643 /><circle cy=631 /><circle cy=687.9 /><circle cy=647.4 /><circle cy=673 /><circle cy=716.6 /><circle cy=619.8 /></g><g class=b><circle cy=643.8 /></g><g class=o><circle cy=724.5 /></g><g class=b><circle cy=701.5 /></g><g class=o><circle cy=685.7 /><circle cy=722.4 /></g><g class=b><circle cy=594.2 /><circle cy=662.9 /><circle cy=634.4 /></g><g class=o><circle cy=617.8 /><circle cy=704.5 /></g><g class=b><circle cy=571.7 /></g><g class=o><circle cy=644.2 /><circle cy=584.8 /><circle cy=702.1 /><circle cy=708.3 /></g><g class=b><circle cy=674.7 /></g><g class=o><circle cy=642 /><circle cy=643.1 /></g><g class=b><circle cy=595 /></g><g class=o><circle cy=718.6 /></g><g class=b><circle cy=638.8 /></g><g class=o><circle cy=590.4 /><circle cy=656.8 /></g><g class=b><circle cy=584.7 /></g><g class=o><circle cy=691.9 /></g><g class=b><circle cy=629.7 /></g><g class=o><circle cy=691.6 /><circle cy=758.7 /></g><g class=b><circle cy=592.2 /><circle cy=602.3 /></g><g class=o><circle cy=715 /><circle cy=656.5 /><circle cy=677.4 /><circle cy=681.5 /></g><g class=b><circle cy=643.3 /><circle cy=548.1 /><circle cy=636.2 /></g><g class=o><circle cy=667.4 /><circle cy=591 /><circle cy=615.2 /></g><g class=b><circle cy=608.1 /></g><g class=o><circle cy=647.9 /><circle cy=534.2 /></g><g class=b><circle cy=678.5 /></g><g class=o><circle cy=513.7 /><circle cy=584.9 /></g><g class=b><circle cy=534.1 /><circle cy=632.6 /><circle cy=659.1 /><circle cy=596.9 /><circle cy=616.2 /><circle cy=596.4 /><circle cy=589.2 /></g><g class=o><circle cy=676.6 /></g><g class=b><circle cy=601.5 /></g><g class=o><circle cy=642.9 /></g><g class=b><circle cy=610.1 /><circle cy=664 /><circle cy=589 /><circle cy=636.5 /><circle cy=638 /></g><g class=o><circle cy=628.3 /></g><g class=b><circle cy=630.1 /></g><g class=o><circle cy=682.9 /><circle cy=650.7 /><circle cy=641.4 /><circle cy=679 /><circle cy=593.4 /></g><g class=b><circle cy=682.2 /></g><g class=o><circle cy=711.5 /><circle cy=615.9 /><circle cy=683.8 /></g><g class=b><circle cy=660.2 /><circle cy=629.5 /></g><g class=o><circle cy=805.6 /></g><g class=b><circle cy=613.6 /><circle cy=607.6 /></g><g class=o><circle cy=671.3 /><circle cy=647 /></g></g><g transform="translate(397.6)"><g class=b><circle cy=627.3 /></g><g class=o><circle cy=643.1 /><circle cy=575.4 /><circle cy=705.4 /><circle cy=612 /></g><g class=b><circle cy=629.2 /></g><g class=o><circle cy=690.6 /><circle cy=533.6 /></g><g class=b><circle cy=592.8 /></g><g class=o><circle cy=622.5 /><circle cy=663.5 /><circle cy=692.3 /></g><g class=b><circle cy=615.4 /></g><g class=o><circle cy=604.2 /><circle cy=593.2 /></g><g class=b><circle cy=598.8 /><circle cy=605.3 /><circle cy=632.9 /><circle cy=657.4 /></g><g class=o><circle cy=688.6 /><circle cy=710.6 /><circle cy=622.6 /></g><g class=b><circle cy=630.9 /></g><g class=o><circle cy=623.4 /></g><g class=b><circle cy=597.3 /><circle cy=595.6 /><circle cy=627.7 /></g><g class=o><circle cy=701.6 /><circle cy=649.8 /></g><g class=b><circle cy=598.6 /></g><g class=o><circle cy=721.3 /></g><g class=b><circle cy=681.9 /><circle cy=631.1 /><circle cy=632.3 /></g><g class=o><circle cy=643.6 /></g><g class=b><circle cy=637.3 /><circle cy=673 /><circle cy=588.8 /><circle cy=561.2 /></g><g class=o><circle cy=719.5 /><circle cy=598.5 /><circle cy=686.2 /></g><g class=b><circle cy=640.1 /><circle cy=565.1 /></g><g class=o><circle cy=705.9 /></g><g class=b><circle cy=590.3 /><circle cy=611.3 /><circle cy=771.1 /><circle cy=697 /><circle cy=690.9 /></g><g class=o><circle cy=656.3 /><circle cy=622.3 /></g><g class=b><circle cy=611.2 /></g><g class=o><circle cy=653.7 /><circle cy=706.6 /></g><g class=b><circle cy=587.7 /><circle cy=677.8 /></g><g class=o><circle cy=548.7 /></g><g class=b><circle cy=534.9 /></g><g class=o><circle cy=709.7 /></g><g class=b><circle cy=629.3 /><circle cy=694.8 /></g><g class=o><circle cy=603.3 /><circle cy=610.5 /><circle cy=710.1 /><circle cy=597.1 /><circle cy=654.5 /></g><g class=b><circle cy=576.3 /><circle cy=661 /><circle cy=632.8 /><circle cy=652.4 /><circle cy=633.4 /></g><g class=o><circle cy=656.2 /></g><g class=b><circle cy=720.2 /><circle cy=617.5 /></g><g class=o><circle cy=694.5 /></g><g class=b><circle cy=598.9 /></g><g class=o><circle cy=627.8 /></g><g class=b><circle cy=548.4 /></g><g class=o><circle cy=638.4 /><circle cy=696.9 /><circle cy=669.5 /><circle cy=660.5 /></g><g class=b><circle cy=573.8 /><circle cy=547.7 /><circle cy=595.8 /><circle cy=639.4 /></g><g class=o><circle cy=730.7 /><circle cy=661.5 /><circle cy=621.8 /><circle cy=694.8 /></g><g class=b><circle cy=595.9 /></g><g class=o><circle cy=627.5 /><circle cy=650.2 /></g><g class=b><circle cy=577.3 /></g><g class=o><circle cy=668.3 /></g><g class=b><circle cy=607.2 /></g><g class=o><circle cy=659.7 /></g><g class=b><circle cy=596.2 /><circle cy=657.9 /></g><g class=o><circle cy=628.4 /></g><g class=b><circle cy=614.1 /><circle cy=645.5 /></g><g class=o><circle cy=730 /><circle cy=638.4 /><circle cy=639.4 /></g><g class=b><circle cy=570.6 /><circle cy=605.9 /></g><g class=o><circle cy=644.1 /><circle cy=639.3 /></g><g class=b><circle cy=671.2 /><circle cy=622.7 /></g></g><g transform="translate(407.6)"><g class=o><circle cy=717.9 /><circle cy=698 /><circle cy=712.4 /></g><g class=b><circle cy=631.5 /><circle cy=616.7 /><circle cy=623.7 /><circle cy=617.3 /><circle cy=566.6 /></g><g class=o><circle cy=653.5 /><circle cy=685.5 /><circle cy=644 /></g><g class=b><circle cy=598 /></g><g class=o><circle cy=627 /><circle cy=583.4 /><circle cy=729.5 /></g><g class=b><circle cy=729.9 /><circle cy=625.9 /><circle cy=594.7 /></g><g class=o><circle cy=690.5 /><circle cy=637.8 /><circle cy=630.4 /><circle cy=652.6 /><circle cy=617.3 /></g><g class=b><circle cy=577.1 /><circle cy=643.3 /><circle cy=688.1 /></g><g class=o><circle cy=615.1 /></g><g class=b><circle cy=606.1 /></g><g class=o><circle cy=641.2 /></g><g class=b><circle cy=623.6 /><circle cy=712.4 /><circle cy=626.8 /><circle cy=646.9 /><circle cy=627.7 /></g><g class=o><circle cy=638.4 /><circle cy=655.4 /><circle cy=657.2 /></g><g class=b><circle cy=479 /></g><g class=o><circle cy=696.1 /><circle cy=601.7 /><circle cy=696.8 /><circle cy=685.6 /><circle cy=697.9 /><circle cy=657.6 /><circle cy=637.7 /></g><g class=b><circle cy=603.7 /></g><g class=o><circle cy=672.2 /><circle cy=653.2 /></g><g class=b><circle cy=645.8 /></g><g class=o><circle cy=732.2 /><circle cy=701.9 /></g><g class=b><circle cy=569.8 /></g><g class=o><circle cy=714.9 /><circle cy=653.9 /></g><g class=b><circle cy=591.4 /><circle cy=688.7 /><circle cy=629.5 /><circle cy=638.7 /><circle cy=470.7 /></g><g class=o><circle cy=717 /></g><g class=b><circle cy=578.9 /></g><g class=o><circle cy=613.6 /></g><g class=b><circle cy=628.5 /><circle cy=644 /></g><g class=o><circle cy=808.8 /></g><g class=b><circle cy=645.2 /></g><g class=o><circle cy=682.6 /><circle cy=653.1 /><circle cy=664.5 /></g><g class=b><circle cy=675.8 /><circle cy=626.7 /></g><g class=o><circle cy=592.5 /><circle cy=664.4 /><circle cy=678.9 /><circle cy=662.8 /><circle cy=622.4 /><circle cy=597.2 /><circle cy=619.3 /><circle cy=681.8 /></g><g class=b><circle cy=583.1 /><circle cy=589.7 /></g><g class=o><circle cy=602.4 /><circle cy=594.2 /><circle cy=673.9 /></g><g class=b><circle cy=664.7 /><circle cy=481 /><circle cy=539.8 /></g><g class=o><circle cy=600.8 /></g><g class=b><circle cy=578.1 /></g><g class=o><circle cy=647.8 /><circle cy=735.3 /><circle cy=786.9 /></g><g class=b><circle cy=612.5 /><circle cy=703 /><circle cy=615.3 /><circle cy=648.7 /><circle cy=638.8 /></g><g class=o><circle cy=640.2 /><circle cy=651.2 /><circle cy=628.8 /><circle cy=684.4 /><circle cy=687.5 /><circle cy=717.4 /></g><g class=b><circle cy=660.5 /></g><g class=o><circle cy=597.4 /><circle cy=717.2 /><circle cy=688 /><circle cy=679.6 /><circle cy=689.7 /></g><g class=b><circle cy=693.5 /><circle cy=563.8 /></g><g class=o><circle cy=699.3 /><circle cy=663.8 /></g><g class=b><circle cy=583 /><circle cy=606.7 /><circle cy=547.6 /></g><g class=o><circle cy=706.9 /></g><g class=b><circle cy=670.1 /><circle cy=563.9 /><circle cy=654.5 /></g><g class=o><circle cy=632.6 /><circle cy=602.3 /><circle cy=688 /><circle cy=550.6 /><circle cy=644.1 /><circle cy=653.7 /></g></g><g transform="translate(417.5)"><g class=o><circle cy=696 /></g><g class=b><circle cy=653 /><circle cy=618.1 /><circle cy=672.6 /></g><g class=o><circle cy=609.8 /></g><g class=b><circle cy=582.3 /><circle cy=609.1 /><circle cy=579.4 /><circle cy=650.7 /><circle cy=610.9 /></g><g class=o><circle cy=692.5 /></g><g class=b><circle cy=609.7 /><circle cy=519.8 /></g><g class=o><circle cy=609.8 /></g><g class=b><circle cy=636 /></g><g class=o><circle cy=638.4 /><circle cy=673.4 /><circle cy=648.2 /></g><g class=b><circle cy=712.3 /><circle cy=643.6 /></g><g class=o><circle cy=657.7 /><circle cy=571 /></g><g class=b><circle cy=527.7 /><circle cy=493.9 /><circle cy=668.2 /><circle cy=645.8 /><circle cy=627.1 /></g><g class=o><circle cy=726.5 /><circle cy=646.7 /><circle cy=696.6 /><circle cy=674.4 /></g><g class=b><circle cy=706.6 /></g><g class=o><circle cy=670.1 /></g><g class=b><circle cy=585.1 /></g><g class=o><circle cy=705.5 /></g><g class=b><circle cy=610.4 /><circle cy=616.1 /><circle cy=652 /><circle cy=662.3 /></g><g class=o><circle cy=642.7 /><circle cy=589.2 /><circle cy=566.9 /><circle cy=601.4 /></g><g class=b><circle cy=617.9 /></g><g class=o><circle cy=651.1 /></g><g class=b><circle cy=714.3 /></g><g class=o><circle cy=644.9 /><circle cy=657.2 /></g><g class=b><circle cy=469.9 /></g><g class=o><circle cy=734.6 /></g><g class=b><circle cy=581.5 /><circle cy=652.4 /></g><g class=o><circle cy=674.2 /></g><g class=b><circle cy=565 /><circle cy=585.5 /></g><g class=o><circle cy=729.4 /></g><g class=b><circle cy=606.6 /></g><g class=o><circle cy=725.1 /></g><g class=b><circle cy=619.6 /><circle cy=567 /><circle cy=617 /></g><g class=o><circle cy=644 /></g><g class=b><circle cy=577.9 /></g><g class=o><circle cy=663.4 /><circle cy=658.1 /><circle cy=592 /></g><g class=b><circle cy=637 /><circle cy=622 /></g><g class=o><circle cy=606.9 /></g><g class=b><circle cy=600.1 /></g><g class=o><circle cy=671.3 /></g><g class=b><circle cy=590.4 /></g><g class=o><circle cy=626.3 /></g><g class=b><circle cy=680.2 /></g><g class=o><circle cy=661.8 /></g><g class=b><circle cy=685.6 /><circle cy=549.8 /><circle cy=618.4 /><circle cy=602.7 /></g><g class=o><circle cy=524.7 /></g><g class=b><circle cy=648.9 /><circle cy=598.6 /></g><g class=o><circle cy=657 /><circle cy=635 /></g><g class=b><circle cy=576.4 /></g><g class=o><circle cy=585.9 /></g><g class=b><circle cy=558.4 /></g><g class=o><circle cy=662.5 /><circle cy=688.1 /><circle cy=711.8 /></g><g class=b><circle cy=550.5 /></g><g class=o><circle cy=817.7 /><circle cy=644.3 /><circle cy=736.2 /><circle cy=648.8 /></g><g class=b><circle cy=643.6 /></g><g class=o><circle cy=802 /></g><g class=b><circle cy=622.9 /><circle cy=599.2 /><circle cy=609.4 /></g><g class=o><circle cy=734.4 /></g><g class=b><circle cy=556 /><circle cy=537.1 /></g><g class=o><circle cy=614.4 /></g><g class=b><circle cy=616.3 /><circle cy=573.9 /></g><g class=o><circle cy=716.1 /><circle cy=662.1 /><circle cy=645.2 /></g><g class=b><circle cy=636.4 /></g><g class=o><circle cy=687.3 /></g><g class=b><circle cy=580.8 /></g><g class=o><circle cy=694.9 /></g></g><g transform="translate(427.4)"><g class=o><circle cy=658.1 /><circle cy=799.2 /></g><g class=b><circle cy=631.9 /></g><g class=o><circle cy=602.9 /><circle cy=715.9 /></g><g class=b><circle cy=720.4 /><circle cy=609.2 /><circle cy=633.9 /></g><g class=o><circle cy=669.9 /><circle cy=645.8 /></g><g class=b><circle cy=559.4 /></g><g class=o><circle cy=636.4 /></g><g class=b><circle cy=579.2 /></g><g class=o><circle cy=731.3 /><circle cy=711 /></g><g class=b><circle cy=580 /></g><g class=o><circle cy=705.2 /><circle cy=651 /><circle cy=717.5 /></g><g class=b><circle cy=612.1 /><circle cy=611 /></g><g class=o><circle cy=633.2 /><circle cy=726.8 /><circle cy=655.1 /><circle cy=725.9 /><circle cy=661.3 /></g><g class=b><circle cy=639.1 /><circle cy=689.9 /><circle cy=602.6 /><circle cy=574.4 /><circle cy=658.7 /></g><g class=o><circle cy=701.4 /></g><g class=b><circle cy=552.2 /></g><g class=o><circle cy=647.4 /><circle cy=685.1 /></g><g class=b><circle cy=623.7 /></g><g class=o><circle cy=682.8 /></g><g class=b><circle cy=648.6 /><circle cy=689.3 /><circle cy=639 /><circle cy=665.1 /></g><g class=o><circle cy=684.6 /></g><g class=b><circle cy=617.7 /></g><g class=o><circle cy=739.2 /><circle cy=665.2 /><circle cy=726.9 /></g><g class=b><circle cy=672.7 /></g><g class=o><circle cy=531.9 /></g><g class=b><circle cy=635.6 /></g><g class=o><circle cy=697 /><circle cy=656.7 /><circle cy=653.3 /></g><g class=b><circle cy=569.1 /></g><g class=o><circle cy=725.6 /></g><g class=b><circle cy=653.6 /></g><g class=o><circle cy=693.1 /></g><g class=b><circle cy=618.6 /><circle cy=464.4 /></g><g class=o><circle cy=628.8 /><circle cy=714.9 /><circle cy=713.2 /><circle cy=676.9 /><circle cy=735.9 /></g><g class=b><circle cy=658.5 /><circle cy=628.8 /></g><g class=o><circle cy=636.5 /></g><g class=b><circle cy=634.3 /></g><g class=o><circle cy=644.7 /></g><g class=b><circle cy=588.1 /><circle cy=528.4 /><circle cy=626.8 /></g><g class=o><circle cy=661.6 /><circle cy=638.4 /></g><g class=b><circle cy=701.8 /><circle cy=594.9 /><circle cy=711.7 /><circle cy=635.6 /></g><g class=o><circle cy=667.1 /></g><g class=b><circle cy=664.5 /></g><g class=o><circle cy=682.4 /></g><g class=b><circle cy=561.7 /><circle cy=615.7 /><circle cy=655.5 /><circle cy=674.7 /></g><g class=o><circle cy=674.6 /><circle cy=641.8 /></g><g class=b><circle cy=564 /></g><g class=o><circle cy=652.7 /></g><g class=b><circle cy=585.4 /></g><g class=o><circle cy=658.8 /></g><g class=b><circle cy=515.1 /></g><g class=o><circle cy=750.5 /><circle cy=736 /></g><g class=b><circle cy=633.2 /><circle cy=659.7 /><circle cy=525.6 /></g><g class=o><circle cy=814.5 /><circle cy=660.7 /><circle cy=643.2 /></g><g class=b><circle cy=620.3 /><circle cy=638.7 /><circle cy=714.1 /></g><g class=o><circle cy=703.8 /><circle cy=642.5 /></g><g class=b><circle cy=584.3 /></g><g class=o><circle cy=651.2 /></g><g class=b><circle cy=585.3 /></g><g class=o><circle cy=734.9 /><circle cy=606.2 /></g><g class=b><circle cy=638.2 /></g><g class=o><circle cy=736.5 /><circle cy=665.4 /></g><g class=b><circle cy=680.1 /></g><g class=o><circle cy=625.8 /></g></g><g transform="translate(437.4)"><g class=o><circle cy=703.2 /></g><g class=b><circle cy=595.7 /><circle cy=581.5 /><circle cy=609 /><circle cy=717.2 /><circle cy=633.8 /></g><g class=o><circle cy=683.5 /><circle cy=621.1 /><circle cy=655 /><circle cy=630.8 /><circle cy=712.5 /><circle cy=805.3 /></g><g class=b><circle cy=557.5 /></g><g class=o><circle cy=662 /></g><g class=b><circle cy=687.1 /></g><g class=o><circle cy=560.1 /></g><g class=b><circle cy=595 /><circle cy=726.4 /></g><g class=o><circle cy=625.4 /><circle cy=814.5 /><circle cy=645.7 /></g><g class=b><circle cy=789.5 /></g><g class=o><circle cy=732.7 /><circle cy=687.1 /></g><g class=b><circle cy=619.1 /><circle cy=654.2 /></g><g class=o><circle cy=672.8 /></g><g class=b><circle cy=640.1 /><circle cy=577.8 /><circle cy=644.2 /></g><g class=o><circle cy=681.5 /></g><g class=b><circle cy=679.6 /></g><g class=o><circle cy=650.3 /><circle cy=704 /></g><g class=b><circle cy=592.4 /></g><g class=o><circle cy=645.8 /><circle cy=682.5 /><circle cy=626.9 /></g><g class=b><circle cy=586.7 /></g><g class=o><circle cy=639.9 /><circle cy=734.6 /><circle cy=597 /><circle cy=737 /></g><g class=b><circle cy=636.4 /><circle cy=476.8 /><circle cy=610.8 /></g><g class=o><circle cy=733.8 /><circle cy=684.1 /></g><g class=b><circle cy=684.3 /><circle cy=630.7 /></g><g class=o><circle cy=763.2 /></g><g class=b><circle cy=618.3 /><circle cy=696.1 /><circle cy=514.2 /></g><g class=o><circle cy=682.5 /></g><g class=b><circle cy=677.6 /></g><g class=o><circle cy=680.1 /><circle cy=636.8 /><circle cy=555 /></g><g class=b><circle cy=597.6 /><circle cy=671 /><circle cy=648.9 /><circle cy=671.4 /><circle cy=593.7 /></g><g class=o><circle cy=643.7 /><circle cy=632 /></g><g class=b><circle cy=618 /></g><g class=o><circle cy=638.9 /><circle cy=645.8 /></g><g class=b><circle cy=664.2 /><circle cy=662.2 /><circle cy=645.7 /></g><g class=o><circle cy=721.7 /><circle cy=687.8 /><circle cy=632.8 /><circle cy=620 /></g><g class=b><circle cy=579.6 /></g><g class=o><circle cy=626.5 /></g><g class=b><circle cy=567 /><circle cy=571.9 /><circle cy=656.4 /></g><g class=o><circle cy=648.3 /></g><g class=b><circle cy=612.6 /><circle cy=591.6 /><circle cy=642.9 /></g><g class=o><circle cy=606.8 /><circle cy=683.1 /></g><g class=b><circle cy=663 /><circle cy=633.3 /></g><g class=o><circle cy=692.7 /></g><g class=b><circle cy=657.5 /></g><g class=o><circle cy=524.9 /></g><g class=b><circle cy=639.2 /></g><g class=o><circle cy=707.8 /><circle cy=610.9 /><circle cy=774.3 /></g><g class=b><circle cy=598 /></g><g class=o><circle cy=699.8 /><circle cy=736.5 /><circle cy=657.3 /></g><g class=b><circle cy=600.1 /></g></g><g transform="translate(447.3)"><g class=b><circle cy=577.7 /></g><g class=o><circle cy=807.7 /></g><g class=b><circle cy=623.7 /><circle cy=635.2 /></g><g class=o><circle cy=671.8 /><circle cy=703 /></g><g class=b><circle cy=588.1 /><circle cy=650.7 /></g><g class=o><circle cy=646.9 /></g><g class=b><circle cy=721.4 /></g><g class=o><circle cy=716.6 /></g><g class=b><circle cy=647.9 /></g><g class=o><circle cy=641.9 /><circle cy=754.5 /></g><g class=b><circle cy=635.4 /></g><g class=o><circle cy=645 /></g><g class=b><circle cy=693.6 /><circle cy=625.2 /><circle cy=662.6 /><circle cy=540.6 /></g><g class=o><circle cy=713.1 /></g><g class=b><circle cy=649.3 /></g><g class=o><circle cy=543.8 /></g><g class=b><circle cy=479.1 /><circle cy=719.1 /></g><g class=o><circle cy=661.2 /><circle cy=704.4 /><circle cy=655.5 /><circle cy=644.3 /><circle cy=691.1 /></g><g class=b><circle cy=606 /></g><g class=o><circle cy=617 /></g><g class=b><circle cy=608.1 /><circle cy=594.6 /><circle cy=690.8 /></g><g class=o><circle cy=710.7 /><circle cy=674.4 /></g><g class=b><circle cy=547.1 /><circle cy=662.3 /><circle cy=594.5 /><circle cy=696.9 /></g><g class=o><circle cy=659.3 /><circle cy=693.9 /><circle cy=687.3 /><circle cy=718.2 /><circle cy=707.7 /><circle cy=671.8 /></g><g class=b><circle cy=626.9 /></g><g class=o><circle cy=642.6 /><circle cy=612 /><circle cy=690.3 /><circle cy=693 /><circle cy=635.8 /><circle cy=654.8 /></g><g class=b><circle cy=663.8 /><circle cy=623.8 /><circle cy=563.4 /></g><g class=o><circle cy=715 /><circle cy=705.3 /><circle cy=687.2 /><circle cy=798.7 /></g><g class=b><circle cy=622.8 /></g><g class=o><circle cy=620.2 /></g><g class=b><circle cy=647.9 /><circle cy=638.4 /></g><g class=o><circle cy=711.5 /><circle cy=663.9 /></g><g class=b><circle cy=585.9 /><circle cy=618.7 /></g><g class=o><circle cy=647.9 /><circle cy=687.9 /><circle cy=591.5 /><circle cy=664.5 /></g><g class=b><circle cy=587.8 /></g><g class=o><circle cy=627.1 /><circle cy=644.2 /></g><g class=b><circle cy=592.9 /></g><g class=o><circle cy=622.2 /></g><g class=b><circle cy=667.4 /></g><g class=o><circle cy=658.2 /><circle cy=685.9 /><circle cy=555.5 /></g><g class=b><circle cy=590.9 /><circle cy=708.8 /></g><g class=o><circle cy=750.6 /><circle cy=705.1 /></g><g class=b><circle cy=671.1 /></g><g class=o><circle cy=634 /></g><g class=b><circle cy=672.9 /></g><g class=o><circle cy=723 /></g><g class=b><circle cy=632.4 /></g><g class=o><circle cy=609.2 /></g></g><g transform="translate(457.2)"><g class=b><circle cy=572.4 /><circle cy=670.6 /></g><g class=o><circle cy=716.3 /><circle cy=696.7 /><circle cy=717.4 /><circle cy=657.3 /><circle cy=705 /></g><g class=b><circle cy=717.8 /></g><g class=o><circle cy=743 /><circle cy=625.1 /></g><g class=b><circle cy=662 /></g><g class=o><circle cy=740.1 /></g><g class=b><circle cy=664.4 /></g><g class=o><circle cy=665.3 /></g><g class=b><circle cy=728.2 /></g><g class=o><circle cy=639.6 /></g><g class=b><circle cy=610.7 /></g><g class=o><circle cy=646.1 /><circle cy=745.8 /><circle cy=750.3 /></g><g class=b><circle cy=479 /></g><g class=o><circle cy=636 /><circle cy=643.9 /><circle cy=654.2 /></g><g class=b><circle cy=609.6 /></g><g class=o><circle cy=632 /><circle cy=641.2 /><circle cy=654.4 /></g><g class=b><circle cy=652.2 /><circle cy=604 /></g><g class=o><circle cy=642.6 /><circle cy=655.6 /></g><g class=b><circle cy=791.7 /><circle cy=646.8 /></g><g class=o><circle cy=682.3 /><circle cy=702 /><circle cy=739.3 /></g><g class=b><circle cy=658.5 /></g><g class=o><circle cy=634.4 /></g><g class=b><circle cy=623.4 /></g><g class=o><circle cy=663.6 /><circle cy=650.2 /><circle cy=683.2 /><circle cy=705 /></g><g class=b><circle cy=605.8 /></g><g class=o><circle cy=619.9 /><circle cy=673 /><circle cy=702.5 /></g><g class=b><circle cy=624.1 /><circle cy=600.3 /></g><g class=o><circle cy=670.7 /></g><g class=b><circle cy=595.4 /></g><g class=o><circle cy=709.1 /><circle cy=734.9 /></g><g class=b><circle cy=675.7 /><circle cy=697.2 /></g><g class=o><circle cy=703.2 /><circle cy=654.2 /></g><g class=b><circle cy=581.6 /><circle cy=596.9 /><circle cy=577 /><circle cy=524.4 /><circle cy=534 /><circle cy=616.3 /></g><g class=o><circle cy=660.4 /><circle cy=670 /></g><g class=b><circle cy=510 /></g><g class=o><circle cy=794.2 /><circle cy=690.2 /><circle cy=729.7 /></g><g class=b><circle cy=575.6 /></g><g class=o><circle cy=700.8 /></g><g class=b><circle cy=598.6 /></g><g class=o><circle cy=638.1 /></g><g class=b><circle cy=601.1 /><circle cy=672.3 /><circle cy=625.3 /></g><g class=o><circle cy=648.2 /></g><g class=b><circle cy=698.9 /><circle cy=604.3 /></g><g class=o><circle cy=683.9 /><circle cy=671 /><circle cy=692.7 /></g><g class=b><circle cy=704 /></g><g class=o><circle cy=674.3 /></g><g class=b><circle cy=721.2 /><circle cy=623.1 /></g><g class=o><circle cy=613.7 /><circle cy=652.3 /><circle cy=648.2 /><circle cy=604.1 /></g><g class=b><circle cy=565.6 /><circle cy=631.2 /></g><g class=o><circle cy=735.7 /></g><g class=b><circle cy=629.6 /></g><g class=o><circle cy=732.7 /><circle cy=662.6 /></g><g class=b><circle cy=563.2 /></g></g><g transform="translate(467.2)"><g class=o><circle cy=664.6 /></g><g class=b><circle cy=706.6 /></g><g class=o><circle cy=693.9 /><circle cy=645 /><circle cy=683.5 /><circle cy=744.5 /><circle cy=661 /><circle cy=687.5 /></g><g class=b><circle cy=677.8 /><circle cy=584.1 /><circle cy=615.4 /><circle cy=635.7 /><circle cy=538.2 /><circle cy=649.1 /></g><g class=o><circle cy=605.6 /><circle cy=713.2 /><circle cy=677.1 /><circle cy=610.6 /></g><g class=b><circle cy=624.6 /></g><g class=o><circle cy=630.9 /><circle cy=667.6 /><circle cy=639.9 /><circle cy=587.4 /></g><g class=b><circle cy=618 /></g><g class=o><circle cy=724 /></g><g class=b><circle cy=601.1 /></g><g class=o><circle cy=672.1 /><circle cy=678.4 /></g><g class=b><circle cy=615.8 /><circle cy=613 /></g><g class=o><circle cy=721 /></g><g class=b><circle cy=622.1 /></g><g class=o><circle cy=534.8 /><circle cy=654.8 /></g><g class=b><circle cy=648.5 /></g><g class=o><circle cy=745.7 /><circle cy=750.6 /><circle cy=735.8 /><circle cy=629.7 /><circle cy=699.8 /><circle cy=666.9 /></g><g class=b><circle cy=598.7 /></g><g class=o><circle cy=639.9 /><circle cy=794.2 /></g><g class=b><circle cy=600.5 /></g><g class=o><circle cy=721.1 /></g><g class=b><circle cy=645.5 /></g><g class=o><circle cy=677.4 /></g><g class=b><circle cy=580 /></g><g class=o><circle cy=706.6 /><circle cy=623.1 /><circle cy=551.2 /></g><g class=b><circle cy=696.9 /><circle cy=622 /></g><g class=o><circle cy=696.2 /></g><g class=b><circle cy=588.6 /><circle cy=636 /></g><g class=o><circle cy=702.4 /></g><g class=b><circle cy=702.9 /><circle cy=588.9 /><circle cy=557.8 /><circle cy=651.5 /></g><g class=o><circle cy=651.1 /><circle cy=735.1 /><circle cy=731.1 /></g><g class=b><circle cy=662.1 /></g><g class=o><circle cy=676.3 /><circle cy=734.4 /><circle cy=699 /><circle cy=674.2 /><circle cy=631.4 /></g><g class=b><circle cy=722.4 /><circle cy=653.6 /></g><g class=o><circle cy=714.7 /><circle cy=736.2 /></g><g class=b><circle cy=566.6 /><circle cy=672.1 /></g><g class=o><circle cy=736.2 /><circle cy=817.1 /><circle cy=746.1 /><circle cy=730.4 /><circle cy=671.7 /></g><g class=b><circle cy=604.1 /></g><g class=o><circle cy=698.8 /></g><g class=b><circle cy=595 /><circle cy=714.3 /></g><g class=o><circle cy=694.3 /><circle cy=747.6 /><circle cy=707.4 /><circle cy=608 /></g><g class=b><circle cy=639.3 /><circle cy=564.6 /></g><g class=o><circle cy=622.7 /><circle cy=671.5 /></g><g class=b><circle cy=655.4 /></g><g class=o><circle cy=670.6 /></g><g class=b><circle cy=576.7 /></g><g class=o><circle cy=699.7 /><circle cy=661.6 /></g></g><g transform="translate(477.1)"><g class=o><circle cy=675.5 /></g><g class=b><circle cy=604.9 /><circle cy=656.8 /><circle cy=705.6 /></g><g class=o><circle cy=727.1 /><circle cy=680.8 /><circle cy=762 /><circle cy=750.2 /><circle cy=564.3 /></g><g class=b><circle cy=607 /><circle cy=646.5 /><circle cy=572.8 /><circle cy=635.9 /><circle cy=538.5 /></g><g class=o><circle cy=677.8 /><circle cy=633.7 /><circle cy=680.4 /></g><g class=b><circle cy=588.1 /><circle cy=642.7 /><circle cy=633.6 /><circle cy=615.9 /><circle cy=632.4 /><circle cy=690.6 /></g><g class=o><circle cy=656.7 /></g><g class=b><circle cy=558.1 /><circle cy=749.7 /></g><g class=o><circle cy=714 /><circle cy=582.8 /></g><g class=b><circle cy=580.3 /></g><g class=o><circle cy=669.1 /><circle cy=629.6 /></g><g class=b><circle cy=648.1 /><circle cy=592.5 /></g><g class=o><circle cy=808.8 /></g><g class=b><circle cy=716.8 /><circle cy=581.9 /><circle cy=497.3 /></g><g class=o><circle cy=616 /><circle cy=661.8 /></g><g class=b><circle cy=674.3 /></g><g class=o><circle cy=713.7 /></g><g class=b><circle cy=642.7 /></g><g class=o><circle cy=710.2 /><circle cy=727.8 /></g><g class=b><circle cy=672.8 /><circle cy=648.7 /></g><g class=o><circle cy=662 /></g><g class=b><circle cy=569.5 /></g><g class=o><circle cy=639.8 /><circle cy=675.1 /></g><g class=b><circle cy=657.3 /><circle cy=595.9 /></g><g class=o><circle cy=631.8 /><circle cy=682 /></g><g class=b><circle cy=552 /></g><g class=o><circle cy=660.2 /><circle cy=672.3 /></g><g class=b><circle cy=478.4 /><circle cy=439.5 /></g><g class=o><circle cy=664 /></g><g class=b><circle cy=659.6 /><circle cy=645.8 /></g><g class=o><circle cy=676.9 /></g><g class=b><circle cy=699.9 /></g><g class=o><circle cy=666 /><circle cy=743 /><circle cy=730.7 /><circle cy=657.6 /><circle cy=746.2 /><circle cy=639.2 /></g><g class=b><circle cy=484.2 /></g><g class=o><circle cy=696 /></g><g class=b><circle cy=671.4 /></g><g class=o><circle cy=702.9 /></g><g class=b><circle cy=692 /></g><g class=o><circle cy=626.4 /><circle cy=670.1 /></g><g class=b><circle cy=651.5 /></g><g class=o><circle cy=609.1 /><circle cy=633.9 /></g><g class=b><circle cy=647.7 /></g><g class=o><circle cy=652.7 /><circle cy=656.8 /><circle cy=670.4 /><circle cy=707.9 /></g><g class=b><circle cy=606.7 /></g><g class=o><circle cy=680.7 /><circle cy=660 /><circle cy=809.7 /></g><g class=b><circle cy=594.9 /></g><g class=o><circle cy=712.5 /><circle cy=687.5 /><circle cy=607.4 /><circle cy=606.5 /><circle cy=614.9 /></g><g class=b><circle cy=644.2 /></g><g class=o><circle cy=727.9 /></g><g class=b><circle cy=596 /></g><g class=o><circle cy=650.8 /><circle cy=664.3 /><circle cy=687.3 /></g></g><g transform="translate(487)"><g class=o><circle cy=718.5 /><circle cy=669.1 /><circle cy=628 /></g><g class=b><circle cy=607.3 /></g><g class=o><circle cy=688.7 /></g><g class=b><circle cy=553.4 /></g><g class=o><circle cy=747 /><circle cy=650.9 /></g><g class=b><circle cy=623 /></g><g class=o><circle cy=571.8 /><circle cy=821 /><circle cy=738.7 /></g><g class=b><circle cy=581.7 /></g><g class=o><circle cy=644.6 /><circle cy=727.6 /><circle cy=735.6 /><circle cy=652.6 /><circle cy=703.2 /><circle cy=632 /></g><g class=b><circle cy=688.9 /></g><g class=o><circle cy=743.9 /></g><g class=b><circle cy=718.6 /></g><g class=o><circle cy=721.2 /></g><g class=b><circle cy=648.2 /></g><g class=o><circle cy=659.2 /><circle cy=735.4 /><circle cy=692.8 /><circle cy=647.4 /></g><g class=b><circle cy=607.7 /><circle cy=597.9 /><circle cy=704.1 /></g><g class=o><circle cy=695.6 /><circle cy=733.4 /><circle cy=732.9 /></g><g class=b><circle cy=642.7 /><circle cy=707.8 /></g><g class=o><circle cy=649.8 /><circle cy=625.3 /></g><g class=b><circle cy=663 /></g><g class=o><circle cy=692.5 /><circle cy=646.3 /><circle cy=817.1 /></g><g class=b><circle cy=551.6 /></g><g class=o><circle cy=721.2 /></g><g class=b><circle cy=658.8 /></g><g class=o><circle cy=637 /></g><g class=b><circle cy=532.5 /><circle cy=642.6 /></g><g class=o><circle cy=714.5 /></g><g class=b><circle cy=508.1 /></g><g class=o><circle cy=655.9 /><circle cy=640.2 /><circle cy=697.3 /><circle cy=703.3 /><circle cy=640.2 /><circle cy=741.1 /></g><g class=b><circle cy=655.3 /></g><g class=o><circle cy=608.4 /></g><g class=b><circle cy=591.7 /><circle cy=684.7 /><circle cy=592.9 /></g><g class=o><circle cy=664.2 /></g><g class=b><circle cy=649.7 /></g><g class=o><circle cy=734.1 /></g><g class=b><circle cy=705.2 /></g><g class=o><circle cy=707.7 /></g><g class=b><circle cy=646.3 /><circle cy=625.4 /><circle cy=555.6 /></g><g class=o><circle cy=780.9 /><circle cy=675.6 /><circle cy=698.4 /></g><g class=b><circle cy=600.6 /><circle cy=662.9 /></g><g class=o><circle cy=750.1 /></g><g class=b><circle cy=488.3 /><circle cy=634.7 /><circle cy=657 /></g><g class=o><circle cy=721.6 /><circle cy=625.2 /></g><g class=b><circle cy=598.6 /><circle cy=473.4 /><circle cy=737.2 /><circle cy=624.9 /></g><g class=o><circle cy=685.2 /></g><g class=b><circle cy=597.9 /><circle cy=537.8 /></g><g class=o><circle cy=665.2 /><circle cy=675.6 /></g><g class=b><circle cy=696.3 /><circle cy=564.4 /></g><g class=o><circle cy=629.2 /></g><g class=b><circle cy=576.6 /><circle cy=670.8 /></g><g class=o><circle cy=655.4 /></g><g class=b><circle cy=598.1 /></g><g class=o><circle cy=663 /><circle cy=585.2 /></g><g class=b><circle cy=719.9 /><circle cy=582.6 /></g></g><g transform="translate(496.9)"><g class=b><circle cy=622.4 /></g><g class=o><circle cy=749.5 /></g><g class=b><circle cy=574.1 /></g><g class=o><circle cy=622.5 /></g><g class=b><circle cy=641 /></g><g class=o><circle cy=670.3 /></g><g class=b><circle cy=534.4 /><circle cy=597.9 /><circle cy=649.6 /><circle cy=624.1 /></g><g class=o><circle cy=747.4 /></g><g class=b><circle cy=602.8 /><circle cy=580.3 /><circle cy=598.1 /></g><g class=o><circle cy=526.1 /><circle cy=699.9 /></g><g class=b><circle cy=750.6 /></g><g class=o><circle cy=603.7 /><circle cy=722.7 /></g><g class=b><circle cy=633.7 /><circle cy=588.8 /></g><g class=o><circle cy=659.7 /><circle cy=672.3 /><circle cy=644.2 /><circle cy=689.6 /><circle cy=738.6 /><circle cy=674.4 /></g><g class=b><circle cy=636.1 /><circle cy=653.2 /></g><g class=o><circle cy=728.7 /><circle cy=664.3 /><circle cy=735.7 /><circle cy=653.1 /><circle cy=659 /><circle cy=715.4 /><circle cy=695.4 /></g><g class=b><circle cy=733.4 /><circle cy=599 /><circle cy=548.9 /><circle cy=492 /></g><g class=o><circle cy=637.2 /></g><g class=b><circle cy=692.5 /></g><g class=o><circle cy=659.7 /></g><g class=b><circle cy=600.4 /></g><g class=o><circle cy=700.9 /><circle cy=716.7 /><circle cy=749.7 /><circle cy=741.5 /><circle cy=536.7 /></g><g class=b><circle cy=558 /><circle cy=649.4 /><circle cy=590.5 /></g><g class=o><circle cy=725.2 /><circle cy=716.5 /><circle cy=712.7 /><circle cy=594.8 /><circle cy=679.4 /></g><g class=b><circle cy=712.4 /></g><g class=o><circle cy=681.2 /></g><g class=b><circle cy=597.7 /></g><g class=o><circle cy=666.6 /><circle cy=822.6 /></g><g class=b><circle cy=554.4 /></g><g class=o><circle cy=712.6 /></g><g class=b><circle cy=558 /><circle cy=637 /><circle cy=681.5 /><circle cy=677.7 /></g><g class=o><circle cy=725.8 /><circle cy=666 /></g><g class=b><circle cy=799.5 /><circle cy=660.6 /><circle cy=614.3 /></g><g class=o><circle cy=718.9 /></g><g class=b><circle cy=494.1 /><circle cy=618.6 /><circle cy=664.4 /></g><g class=o><circle cy=670.4 /></g><g class=b><circle cy=606.1 /></g><g class=o><circle cy=638 /></g><g class=b><circle cy=661.6 /></g><g class=o><circle cy=708.5 /></g><g class=b><circle cy=628 /></g><g class=o><circle cy=728.7 /></g><g class=b><circle cy=682.1 /></g><g class=o><circle cy=652.1 /></g><g class=b><circle cy=661.7 /><circle cy=707.9 /></g></g><g transform="translate(506.9)"><g class=o><circle cy=624.1 /></g><g class=b><circle cy=654.6 /></g><g class=o><circle cy=677 /></g><g class=b><circle cy=612.8 /><circle cy=600.6 /><circle cy=492 /><circle cy=614.8 /></g><g class=o><circle cy=676.7 /></g><g class=b><circle cy=579 /></g><g class=o><circle cy=539.6 /><circle cy=686.9 /></g><g class=b><circle cy=499.8 /></g><g class=o><circle cy=827.2 /><circle cy=737.9 /><circle cy=599.2 /><circle cy=684.3 /></g><g class=b><circle cy=484.9 /><circle cy=593.2 /><circle cy=644.7 /></g><g class=o><circle cy=742 /></g><g class=b><circle cy=606.4 /><circle cy=710.2 /><circle cy=596 /><circle cy=642.5 /><circle cy=650.6 /><circle cy=564.5 /></g><g class=o><circle cy=706 /><circle cy=821 /><circle cy=636.9 /><circle cy=680.4 /><circle cy=625 /><circle cy=669.5 /><circle cy=748.9 /><circle cy=658 /><circle cy=710.1 /><circle cy=708.9 /><circle cy=728.9 /></g><g class=b><circle cy=724.6 /></g><g class=o><circle cy=709.5 /><circle cy=679.6 /><circle cy=647 /><circle cy=649.9 /></g><g class=b><circle cy=657.9 /><circle cy=586 /><circle cy=684.6 /></g><g class=o><circle cy=640.5 /><circle cy=707.5 /></g><g class=b><circle cy=456.1 /><circle cy=712.6 /></g><g class=o><circle cy=702.4 /><circle cy=747.6 /></g><g class=b><circle cy=615.9 /><circle cy=593.1 /><circle cy=596.5 /></g><g class=o><circle cy=702.7 /><circle cy=718.3 /><circle cy=715.1 /><circle cy=623.3 /></g><g class=b><circle cy=675.7 /></g><g class=o><circle cy=653.6 /><circle cy=727.2 /></g><g class=b><circle cy=594.5 /></g><g class=o><circle cy=743.8 /><circle cy=644.1 /><circle cy=629.2 /><circle cy=623.4 /></g><g class=b><circle cy=634.3 /></g><g class=o><circle cy=671.2 /><circle cy=667.1 /><circle cy=647.7 /></g><g class=b><circle cy=598.3 /><circle cy=624.4 /></g><g class=o><circle cy=648.8 /><circle cy=588.5 /></g><g class=b><circle cy=543.8 /><circle cy=599 /></g><g class=o><circle cy=645.1 /><circle cy=810.3 /><circle cy=725.2 /><circle cy=773.8 /><circle cy=689.2 /></g><g class=b><circle cy=735.5 /></g><g class=o><circle cy=760 /></g><g class=b><circle cy=675.7 /></g><g class=o><circle cy=640.6 /></g><g class=b><circle cy=712.5 /><circle cy=634.5 /></g><g class=o><circle cy=742.3 /></g><g class=b><circle cy=575.2 /><circle cy=626.3 /></g><g class=o><circle cy=740.1 /></g><g class=b><circle cy=580.8 /><circle cy=584.8 /><circle cy=673.5 /><circle cy=613.7 /><circle cy=692.6 /><circle cy=671.1 /><circle cy=681.5 /></g><g class=o><circle cy=672.4 /><circle cy=570.8 /><circle cy=700.8 /><circle cy=668.5 /><circle cy=703 /><circle cy=678 /><circle cy=716.7 /></g><g class=b><circle cy=670.7 /></g><g class=o><circle cy=626 /></g><g class=b><circle cy=581.8 /></g><g class=o><circle cy=753.7 /></g><g class=b><circle cy=670.3 /><circle cy=724.9 /><circle cy=561.4 /></g></g><g transform="translate(516.8)"><g class=b><circle cy=587 /><circle cy=656.4 /><circle cy=630.5 /><circle cy=672.8 /></g><g class=o><circle cy=652.7 /><circle cy=629.4 /></g><g class=b><circle cy=587.3 /><circle cy=595.6 /></g><g class=o><circle cy=640.3 /><circle cy=702.4 /></g><g class=b><circle cy=668.3 /><circle cy=482.7 /></g><g class=o><circle cy=737.2 /><circle cy=668.8 /><circle cy=730.7 /></g><g class=b><circle cy=609.3 /></g><g class=o><circle cy=711.2 /></g><g class=b><circle cy=650.6 /></g><g class=o><circle cy=667.1 /></g><g class=b><circle cy=549.8 /><circle cy=642.9 /><circle cy=727 /></g><g class=o><circle cy=706.7 /><circle cy=555.6 /><circle cy=627 /><circle cy=705.6 /><circle cy=710 /><circle cy=665.2 /></g><g class=b><circle cy=597.1 /></g><g class=o><circle cy=745 /><circle cy=654.9 /></g><g class=b><circle cy=662.4 /><circle cy=624.2 /><circle cy=689.3 /><circle cy=538.2 /></g><g class=o><circle cy=649.1 /><circle cy=737.7 /><circle cy=735 /></g><g class=b><circle cy=679.6 /></g><g class=o><circle cy=651.6 /><circle cy=636.5 /><circle cy=746.7 /></g><g class=b><circle cy=731.6 /><circle cy=605.2 /></g><g class=o><circle cy=761.4 /></g><g class=b><circle cy=578.6 /><circle cy=720.6 /></g><g class=o><circle cy=684.2 /></g><g class=b><circle cy=670.4 /></g><g class=o><circle cy=637 /></g><g class=b><circle cy=569.6 /></g><g class=o><circle cy=754.4 /></g><g class=b><circle cy=577.2 /></g><g class=o><circle cy=673.1 /></g><g class=b><circle cy=720.2 /></g><g class=o><circle cy=697.8 /><circle cy=737.2 /></g><g class=b><circle cy=698.4 /><circle cy=632.3 /></g><g class=o><circle cy=706.4 /><circle cy=627.9 /></g><g class=b><circle cy=619.8 /><circle cy=613.4 /></g><g class=o><circle cy=653.5 /></g><g class=b><circle cy=599.4 /></g><g class=o><circle cy=821 /><circle cy=695.2 /></g><g class=b><circle cy=620.8 /></g><g class=o><circle cy=742.3 /><circle cy=629.3 /><circle cy=560.1 /><circle cy=645.1 /></g><g class=b><circle cy=662.9 /></g><g class=o><circle cy=757 /></g><g class=b><circle cy=653.4 /><circle cy=593.5 /></g><g class=o><circle cy=707.7 /><circle cy=600.5 /></g><g class=b><circle cy=632.4 /></g></g><g transform="translate(526.7)"><g class=o><circle cy=675.2 /><circle cy=521.9 /><circle cy=732.5 /></g><g class=b><circle cy=730.6 /></g><g class=o><circle cy=704.2 /><circle cy=681.7 /><circle cy=593.6 /></g><g class=b><circle cy=499.4 /><circle cy=554.7 /></g><g class=o><circle cy=668 /></g><g class=b><circle cy=666.5 /><circle cy=631.8 /></g><g class=o><circle cy=626.4 /><circle cy=665 /><circle cy=621.4 /><circle cy=758.8 /><circle cy=721.1 /><circle cy=759.4 /><circle cy=597.3 /><circle cy=644.4 /><circle cy=656.2 /><circle cy=705 /><circle cy=715.9 /><circle cy=747.1 /></g><g class=b><circle cy=672.1 /><circle cy=647.9 /></g><g class=o><circle cy=689.9 /><circle cy=699.1 /></g><g class=b><circle cy=602.8 /></g><g class=o><circle cy=728.6 /></g><g class=b><circle cy=618.8 /><circle cy=619.5 /><circle cy=676.8 /><circle cy=659 /><circle cy=687.9 /><circle cy=550.1 /><circle cy=640.4 /><circle cy=620.2 /><circle cy=665.3 /><circle cy=589.9 /><circle cy=589.4 /></g><g class=o><circle cy=744.9 /></g><g class=b><circle cy=497 /></g><g class=o><circle cy=645.2 /><circle cy=668 /><circle cy=723.6 /><circle cy=728 /><circle cy=735.6 /></g><g class=b><circle cy=707.8 /><circle cy=592.7 /><circle cy=650.8 /><circle cy=603.4 /><circle cy=722.3 /><circle cy=674.9 /><circle cy=659.4 /></g><g class=o><circle cy=708.7 /><circle cy=583.9 /><circle cy=700.3 /><circle cy=686.3 /><circle cy=693.7 /></g><g class=b><circle cy=683.2 /><circle cy=780.8 /></g><g class=o><circle cy=670.8 /></g><g class=b><circle cy=614.6 /></g><g class=o><circle cy=658.8 /></g><g class=b><circle cy=734.8 /></g><g class=o><circle cy=670.9 /><circle cy=669.9 /></g><g class=b><circle cy=694 /></g><g class=o><circle cy=598.7 /></g><g class=b><circle cy=554.1 /></g><g class=o><circle cy=631.3 /></g><g class=b><circle cy=682.5 /></g><g class=o><circle cy=764.7 /><circle cy=559.8 /></g><g class=b><circle cy=676 /><circle cy=609.3 /></g><g class=o><circle cy=691.3 /><circle cy=644.4 /><circle cy=746.3 /><circle cy=699.3 /><circle cy=670.9 /><circle cy=834 /></g><g class=b><circle cy=601.2 /></g><g class=o><circle cy=642.8 /></g><g class=b><circle cy=631.8 /></g><g class=o><circle cy=708.7 /><circle cy=700 /></g><g class=b><circle cy=633.1 /></g><g class=o><circle cy=599.7 /><circle cy=622.4 /></g><g class=b><circle cy=606.8 /><circle cy=701.5 /></g><g class=o><circle cy=691 /></g><g class=b><circle cy=521 /></g></g><g transform="translate(536.7)"><g class=o><circle cy=676.5 /><circle cy=754.3 /></g><g class=b><circle cy=598.4 /><circle cy=597.7 /><circle cy=656.2 /><circle cy=679.4 /></g><g class=o><circle cy=740.9 /></g><g class=b><circle cy=551.8 /></g><g class=o><circle cy=689.2 /><circle cy=702.5 /></g><g class=b><circle cy=695.1 /></g><g class=o><circle cy=669 /><circle cy=719.5 /></g><g class=b><circle cy=618.1 /><circle cy=640.2 /></g><g class=o><circle cy=596.1 /></g><g class=b><circle cy=639.9 /></g><g class=o><circle cy=745.2 /></g><g class=b><circle cy=718.1 /></g><g class=o><circle cy=662.1 /><circle cy=651.3 /><circle cy=628.5 /><circle cy=843.5 /></g><g class=b><circle cy=612.8 /></g><g class=o><circle cy=697.2 /></g><g class=b><circle cy=593.7 /></g><g class=o><circle cy=767.5 /></g><g class=b><circle cy=636.8 /></g><g class=o><circle cy=696 /></g><g class=b><circle cy=617.7 /></g><g class=o><circle cy=660.2 /><circle cy=695.3 /></g><g class=b><circle cy=667.6 /><circle cy=679.9 /></g><g class=o><circle cy=604.6 /><circle cy=710.7 /></g><g class=b><circle cy=586.1 /></g><g class=o><circle cy=693.1 /><circle cy=705.8 /><circle cy=592.6 /></g><g class=b><circle cy=670.4 /><circle cy=597.8 /></g><g class=o><circle cy=653.9 /><circle cy=655 /></g><g class=b><circle cy=584.4 /></g><g class=o><circle cy=699.1 /><circle cy=633 /><circle cy=770.5 /></g><g class=b><circle cy=711.3 /><circle cy=541 /><circle cy=595.9 /></g><g class=o><circle cy=724.3 /></g><g class=b><circle cy=538.2 /><circle cy=677.4 /></g><g class=o><circle cy=671.2 /><circle cy=614.5 /><circle cy=636.7 /></g><g class=b><circle cy=522.4 /><circle cy=619.6 /></g><g class=o><circle cy=679.4 /><circle cy=704.4 /><circle cy=662.5 /><circle cy=729.3 /></g><g class=b><circle cy=632.7 /></g><g class=o><circle cy=650 /></g><g class=b><circle cy=638.6 /><circle cy=684.9 /><circle cy=691.5 /><circle cy=626.6 /><circle cy=615 /></g><g class=o><circle cy=593.4 /><circle cy=692 /></g><g class=b><circle cy=633.4 /></g><g class=o><circle cy=647.3 /><circle cy=726.4 /><circle cy=564 /><circle cy=720.2 /></g><g class=b><circle cy=585.7 /></g><g class=o><circle cy=723.1 /><circle cy=821 /><circle cy=704.4 /></g><g class=b><circle cy=644.6 /></g><g class=o><circle cy=755.7 /></g><g class=b><circle cy=806.9 /><circle cy=707.7 /><circle cy=623.7 /><circle cy=693.5 /></g><g class=o><circle cy=678.4 /></g></g><g transform="translate(546.6)"><g class=o><circle cy=736.9 /><circle cy=587.7 /></g><g class=b><circle cy=638.4 /><circle cy=592.5 /></g><g class=o><circle cy=693 /></g><g class=b><circle cy=533 /><circle cy=698.4 /><circle cy=702 /></g><g class=o><circle cy=655.6 /><circle cy=704.9 /><circle cy=583.5 /></g><g class=b><circle cy=745.2 /></g><g class=o><circle cy=741.4 /></g><g class=b><circle cy=725.8 /><circle cy=619.1 /></g><g class=o><circle cy=639.1 /><circle cy=656.8 /></g><g class=b><circle cy=598.4 /><circle cy=593.9 /></g><g class=o><circle cy=669.8 /><circle cy=732.7 /><circle cy=588 /></g><g class=b><circle cy=603.4 /></g><g class=o><circle cy=672.2 /></g><g class=b><circle cy=782.6 /></g><g class=o><circle cy=735 /><circle cy=656.2 /><circle cy=677.7 /><circle cy=697.7 /><circle cy=660.6 /><circle cy=676.1 /></g><g class=b><circle cy=606.2 /><circle cy=663.5 /><circle cy=685.9 /><circle cy=733.8 /></g><g class=o><circle cy=680.4 /></g><g class=b><circle cy=595.8 /><circle cy=811.7 /></g><g class=o><circle cy=738.1 /><circle cy=686.2 /></g><g class=b><circle cy=606.2 /></g><g class=o><circle cy=755.6 /><circle cy=663.6 /></g><g class=b><circle cy=631.7 /></g><g class=o><circle cy=599.1 /><circle cy=707.3 /></g><g class=b><circle cy=582.1 /><circle cy=642.4 /><circle cy=512.8 /><circle cy=714.3 /></g><g class=o><circle cy=715.8 /><circle cy=764.4 /><circle cy=834 /></g><g class=b><circle cy=583.6 /></g><g class=o><circle cy=710.3 /><circle cy=688.8 /></g><g class=b><circle cy=726.6 /></g><g class=o><circle cy=730.7 /><circle cy=701.9 /><circle cy=664 /></g><g class=b><circle cy=647.4 /></g><g class=o><circle cy=671.8 /></g><g class=b><circle cy=722 /><circle cy=691.5 /></g><g class=o><circle cy=603.7 /><circle cy=714.5 /><circle cy=738.1 /></g><g class=b><circle cy=563.9 /><circle cy=701.5 /></g><g class=o><circle cy=753.3 /></g><g class=b><circle cy=595.2 /></g><g class=o><circle cy=629 /></g><g class=b><circle cy=703.1 /></g><g class=o><circle cy=664.3 /><circle cy=747.6 /></g><g class=b><circle cy=696.9 /><circle cy=621.1 /><circle cy=584.6 /></g><g class=o><circle cy=756.9 /><circle cy=673.8 /><circle cy=717 /><circle cy=631.1 /></g><g class=b><circle cy=604.1 /></g><g class=o><circle cy=681.4 /><circle cy=745.7 /><circle cy=706.9 /><circle cy=668.5 /><circle cy=705.3 /><circle cy=685.9 /><circle cy=838.8 /><circle cy=701.3 /><circle cy=678.1 /></g><g class=b><circle cy=618.1 /></g></g><g transform="translate(556.5)"><g class=b><circle cy=577.9 /></g><g class=o><circle cy=676.4 /><circle cy=771 /><circle cy=735.7 /><circle cy=753.8 /><circle cy=678 /></g><g class=b><circle cy=622.6 /><circle cy=738.5 /><circle cy=624 /></g><g class=o><circle cy=599 /><circle cy=570.1 /><circle cy=684.8 /><circle cy=763 /><circle cy=572.5 /><circle cy=698.1 /><circle cy=664.5 /></g><g class=b><circle cy=670 /></g><g class=o><circle cy=615.2 /><circle cy=689.5 /><circle cy=670.9 /></g><g class=b><circle cy=595.8 /><circle cy=568.7 /></g><g class=o><circle cy=580.5 /></g><g class=b><circle cy=667.9 /></g><g class=o><circle cy=700.1 /><circle cy=705.4 /><circle cy=639.6 /><circle cy=765.4 /></g><g class=b><circle cy=509.3 /></g><g class=o><circle cy=616.1 /></g><g class=b><circle cy=638.2 /></g><g class=o><circle cy=690 /><circle cy=739.5 /><circle cy=687.7 /><circle cy=679 /></g><g class=b><circle cy=682 /></g><g class=o><circle cy=697.7 /></g><g class=b><circle cy=651.6 /><circle cy=692.9 /><circle cy=539.3 /></g><g class=o><circle cy=581.1 /></g><g class=b><circle cy=584.3 /><circle cy=766.6 /><circle cy=633.1 /></g><g class=o><circle cy=658.4 /><circle cy=648.7 /></g><g class=b><circle cy=734.7 /></g><g class=o><circle cy=749.2 /></g><g class=b><circle cy=628 /><circle cy=649.7 /></g><g class=o><circle cy=678.7 /><circle cy=684.9 /></g><g class=b><circle cy=618.8 /></g><g class=o><circle cy=675.9 /></g><g class=b><circle cy=618.3 /><circle cy=639.3 /><circle cy=601.6 /></g><g class=o><circle cy=709.1 /></g><g class=b><circle cy=657.9 /><circle cy=630.8 /></g><g class=o><circle cy=813.4 /></g><g class=b><circle cy=552.1 /></g><g class=o><circle cy=649.8 /></g><g class=b><circle cy=600.9 /><circle cy=743.8 /><circle cy=698.2 /></g><g class=o><circle cy=749.5 /></g><g class=b><circle cy=637.4 /></g><g class=o><circle cy=745.4 /></g><g class=b><circle cy=653.2 /></g><g class=o><circle cy=702 /></g><g class=b><circle cy=464.3 /></g><g class=o><circle cy=753.2 /><circle cy=645.9 /><circle cy=644.7 /></g><g class=b><circle cy=631.1 /></g><g class=o><circle cy=648.8 /></g><g class=b><circle cy=568.2 /></g><g class=o><circle cy=735.5 /></g><g class=b><circle cy=704.3 /></g><g class=o><circle cy=679.9 /><circle cy=782.3 /><circle cy=582.6 /></g><g class=b><circle cy=641.2 /><circle cy=629.6 /></g><g class=o><circle cy=686.2 /><circle cy=765.2 /></g><g class=b><circle cy=730.2 /><circle cy=616.9 /></g><g class=o><circle cy=625.4 /></g><g class=b><circle cy=629.4 /></g><g class=o><circle cy=699.7 /></g></g><g transform="translate(566.4)"><g class=o><circle cy=701.5 /><circle cy=826.7 /><circle cy=771.4 /><circle cy=621.1 /><circle cy=744.1 /><circle cy=661.1 /><circle cy=728.2 /></g><g class=b><circle cy=603.7 /></g><g class=o><circle cy=772.2 /></g><g class=b><circle cy=601.3 /><circle cy=709.9 /></g><g class=o><circle cy=610.5 /><circle cy=682.5 /></g><g class=b><circle cy=626.2 /><circle cy=561.3 /><circle cy=547.9 /><circle cy=612.5 /></g><g class=o><circle cy=676.6 /></g><g class=b><circle cy=630.3 /><circle cy=670.4 /><circle cy=616.6 /><circle cy=643.5 /></g><g class=o><circle cy=641 /><circle cy=630.3 /><circle cy=661.8 /><circle cy=578.7 /><circle cy=685.7 /><circle cy=747 /></g><g class=b><circle cy=520.4 /></g><g class=o><circle cy=779.2 /><circle cy=767 /><circle cy=725.7 /></g><g class=b><circle cy=551.4 /><circle cy=455.9 /><circle cy=600.8 /><circle cy=687.5 /><circle cy=603.4 /><circle cy=615.5 /><circle cy=703.6 /></g><g class=o><circle cy=668.6 /><circle cy=700.1 /></g><g class=b><circle cy=608.2 /><circle cy=743.6 /></g><g class=o><circle cy=694.9 /><circle cy=582.5 /><circle cy=743.3 /><circle cy=680.4 /></g><g class=b><circle cy=700.3 /></g><g class=o><circle cy=741.1 /></g><g class=b><circle cy=560.5 /><circle cy=507.9 /></g><g class=o><circle cy=705.7 /><circle cy=683.1 /></g><g class=b><circle cy=741.2 /></g><g class=o><circle cy=698.2 /></g><g class=b><circle cy=579.6 /><circle cy=635.2 /><circle cy=548.5 /><circle cy=764.5 /></g><g class=o><circle cy=768.8 /><circle cy=829.2 /></g><g class=b><circle cy=582.4 /><circle cy=724.5 /><circle cy=579 /><circle cy=579.2 /></g><g class=o><circle cy=749.8 /><circle cy=666.7 /></g><g class=b><circle cy=684.5 /></g><g class=o><circle cy=629.1 /><circle cy=768 /><circle cy=633.8 /><circle cy=793.2 /><circle cy=635.3 /><circle cy=668 /><circle cy=632.3 /><circle cy=716.1 /><circle cy=676.5 /><circle cy=595.8 /></g><g class=b><circle cy=699 /></g><g class=o><circle cy=712.3 /></g></g><g transform="translate(576.4)"><g class=o><circle cy=566.1 /></g><g class=b><circle cy=625.1 /></g><g class=o><circle cy=681.2 /><circle cy=623.1 /><circle cy=706.8 /></g><g class=b><circle cy=510.4 /><circle cy=608.3 /></g><g class=o><circle cy=683.1 /><circle cy=705.4 /></g><g class=b><circle cy=708 /></g><g class=o><circle cy=573.1 /></g><g class=b><circle cy=688.2 /></g><g class=o><circle cy=704.6 /><circle cy=782.1 /></g><g class=b><circle cy=510.9 /></g><g class=o><circle cy=630 /></g><g class=b><circle cy=618.8 /></g><g class=o><circle cy=739.4 /><circle cy=786.6 /></g><g class=b><circle cy=627.6 /></g><g class=o><circle cy=693.6 /></g><g class=b><circle cy=621.7 /></g><g class=o><circle cy=663.4 /><circle cy=751.7 /></g><g class=b><circle cy=557.8 /></g><g class=o><circle cy=690.7 /><circle cy=614 /><circle cy=708.5 /><circle cy=663.1 /><circle cy=637.9 /><circle cy=694.3 /></g><g class=b><circle cy=633.9 /></g><g class=o><circle cy=675.8 /></g><g class=b><circle cy=681.4 /></g><g class=o><circle cy=631.1 /></g><g class=b><circle cy=574.2 /></g><g class=o><circle cy=708.7 /></g><g class=b><circle cy=596 /><circle cy=512.3 /></g><g class=o><circle cy=547.9 /></g><g class=b><circle cy=586 /><circle cy=644.5 /></g><g class=o><circle cy=710.4 /></g><g class=b><circle cy=658.3 /></g><g class=o><circle cy=700.9 /><circle cy=691.5 /></g><g class=b><circle cy=646.4 /></g><g class=o><circle cy=717.5 /><circle cy=847 /><circle cy=580.4 /></g><g class=b><circle cy=648.1 /><circle cy=664.8 /></g><g class=o><circle cy=838.5 /><circle cy=703.8 /></g><g class=b><circle cy=600.1 /></g><g class=o><circle cy=734.6 /><circle cy=770.4 /><circle cy=676 /><circle cy=754.3 /></g><g class=b><circle cy=617.7 /></g><g class=o><circle cy=776.7 /></g><g class=b><circle cy=582.9 /><circle cy=586.9 /></g><g class=o><circle cy=693 /></g><g class=b><circle cy=750.7 /></g><g class=o><circle cy=765.6 /><circle cy=582.3 /><circle cy=705.8 /></g><g class=b><circle cy=621.9 /></g><g class=o><circle cy=672.4 /><circle cy=703.8 /></g><g class=b><circle cy=583.3 /></g></g><g transform="translate(586.3)"><g class=o><circle cy=673.9 /><circle cy=711.3 /></g><g class=b><circle cy=581.8 /></g><g class=o><circle cy=736.4 /><circle cy=767.7 /></g><g class=b><circle cy=686.2 /></g><g class=o><circle cy=751.8 /><circle cy=734.4 /></g><g class=b><circle cy=599.3 /><circle cy=639.5 /><circle cy=608.3 /><circle cy=648 /></g><g class=o><circle cy=661.3 /><circle cy=666.9 /></g><g class=b><circle cy=740.7 /><circle cy=640.8 /></g><g class=o><circle cy=683.8 /></g><g class=b><circle cy=668.5 /></g><g class=o><circle cy=688.2 /><circle cy=609.8 /><circle cy=694 /></g><g class=b><circle cy=542.7 /><circle cy=606.2 /><circle cy=676.5 /></g><g class=o><circle cy=581.1 /><circle cy=690 /><circle cy=642.2 /><circle cy=696.6 /><circle cy=698 /><circle cy=759.5 /><circle cy=580 /><circle cy=694 /></g><g class=b><circle cy=602 /></g><g class=o><circle cy=618.6 /></g><g class=b><circle cy=752.8 /></g><g class=o><circle cy=624 /><circle cy=721.5 /><circle cy=673.9 /><circle cy=595.7 /><circle cy=639.4 /><circle cy=695.1 /><circle cy=676.4 /></g><g class=b><circle cy=597.1 /><circle cy=583.3 /><circle cy=726.8 /><circle cy=623.1 /><circle cy=620.4 /></g><g class=o><circle cy=706 /></g><g class=b><circle cy=622.8 /></g><g class=o><circle cy=571.9 /><circle cy=773.6 /></g><g class=b><circle cy=757 /></g><g class=o><circle cy=649.9 /><circle cy=629.7 /></g><g class=b><circle cy=612.7 /></g><g class=o><circle cy=634.6 /><circle cy=656.7 /></g><g class=b><circle cy=588.3 /><circle cy=678.5 /><circle cy=583.3 /></g><g class=o><circle cy=745.3 /><circle cy=685 /><circle cy=777.2 /><circle cy=752.8 /><circle cy=685.5 /><circle cy=667.8 /></g><g class=b><circle cy=548.1 /><circle cy=600.6 /><circle cy=580.6 /></g><g class=o><circle cy=765.5 /><circle cy=672.9 /><circle cy=645.5 /><circle cy=721 /></g><g class=b><circle cy=635.2 /></g><g class=o><circle cy=687.5 /></g><g class=b><circle cy=601.7 /></g><g class=o><circle cy=731.5 /></g><g class=b><circle cy=587.8 /></g><g class=o><circle cy=773.4 /><circle cy=745.2 /></g><g class=b><circle cy=672.4 /><circle cy=611.9 /></g><g class=o><circle cy=680.5 /></g><g class=b><circle cy=645.5 /></g><g class=o><circle cy=711.1 /><circle cy=751.3 /></g></g><g transform="translate(596.2)"><g class=b><circle cy=725.9 /></g><g class=o><circle cy=603.6 /></g><g class=b><circle cy=598.7 /><circle cy=503.3 /></g><g class=o><circle cy=669.3 /><circle cy=698.8 /><circle cy=761.1 /><circle cy=641.6 /><circle cy=758.6 /></g><g class=b><circle cy=491 /></g><g class=o><circle cy=690.9 /></g><g class=b><circle cy=575 /><circle cy=657.4 /><circle cy=686.8 /></g><g class=o><circle cy=688.2 /><circle cy=734.4 /><circle cy=561.6 /></g><g class=b><circle cy=666.2 /></g><g class=o><circle cy=643 /></g><g class=b><circle cy=760.5 /><circle cy=680.8 /><circle cy=670.6 /></g><g class=o><circle cy=636.2 /></g><g class=b><circle cy=583.1 /><circle cy=624.4 /></g><g class=o><circle cy=858.2 /><circle cy=696.4 /><circle cy=681.7 /></g><g class=b><circle cy=561 /></g><g class=o><circle cy=699.9 /><circle cy=752.2 /><circle cy=673 /><circle cy=767.9 /><circle cy=666.2 /></g><g class=b><circle cy=658.9 /><circle cy=623.1 /><circle cy=572.8 /></g><g class=o><circle cy=599.5 /><circle cy=681.4 /></g><g class=b><circle cy=590.4 /><circle cy=560 /><circle cy=754.5 /></g><g class=o><circle cy=663.9 /></g><g class=b><circle cy=675.1 /></g><g class=o><circle cy=757 /></g><g class=b><circle cy=638.4 /><circle cy=636.8 /></g><g class=o><circle cy=727.8 /></g><g class=b><circle cy=680.5 /><circle cy=622.3 /></g><g class=o><circle cy=769.3 /><circle cy=620.2 /><circle cy=770.9 /></g><g class=b><circle cy=595.3 /></g><g class=o><circle cy=723.6 /><circle cy=630.5 /><circle cy=695.2 /></g><g class=b><circle cy=619.9 /></g><g class=o><circle cy=702.9 /><circle cy=661.6 /><circle cy=723.1 /></g><g class=b><circle cy=836.1 /><circle cy=576.6 /><circle cy=599.2 /></g><g class=o><circle cy=696.5 /><circle cy=720.5 /><circle cy=656 /><circle cy=753.8 /><circle cy=673.5 /></g><g class=b><circle cy=581.5 /></g><g class=o><circle cy=691.9 /></g><g class=b><circle cy=673.9 /></g><g class=o><circle cy=603.2 /><circle cy=684.8 /><circle cy=555.1 /><circle cy=776.9 /><circle cy=674.3 /><circle cy=702.3 /></g><g class=b><circle cy=682.4 /><circle cy=649 /></g></g><g transform="translate(606.2)"><g class=o><circle cy=685.3 /><circle cy=666.3 /></g><g class=b><circle cy=747.9 /></g><g class=o><circle cy=692.3 /></g><g class=b><circle cy=591.4 /></g><g class=o><circle cy=679.8 /><circle cy=796 /></g><g class=b><circle cy=674.2 /></g><g class=o><circle cy=748.5 /></g><g class=b><circle cy=586.8 /></g><g class=o><circle cy=639.8 /><circle cy=553.2 /><circle cy=589.4 /><circle cy=679.6 /><circle cy=767.1 /></g><g class=b><circle cy=649.4 /></g><g class=o><circle cy=731.7 /><circle cy=786.4 /></g><g class=b><circle cy=684.5 /><circle cy=658 /></g><g class=o><circle cy=779.2 /><circle cy=727.8 /></g><g class=b><circle cy=627.3 /></g><g class=o><circle cy=683.1 /><circle cy=695.5 /></g><g class=b><circle cy=681.7 /><circle cy=595 /><circle cy=741 /><circle cy=640.9 /><circle cy=701.3 /></g><g class=o><circle cy=685.5 /></g><g class=b><circle cy=612.3 /><circle cy=497 /><circle cy=602 /></g><g class=o><circle cy=710.9 /><circle cy=768.2 /><circle cy=612.9 /></g><g class=b><circle cy=653.5 /></g><g class=o><circle cy=708.8 /><circle cy=755.1 /></g><g class=b><circle cy=682.4 /><circle cy=696.7 /></g><g class=o><circle cy=709.8 /><circle cy=679.7 /><circle cy=695.3 /></g><g class=b><circle cy=702.4 /></g><g class=o><circle cy=678.5 /></g><g class=b><circle cy=583.7 /><circle cy=726.5 /><circle cy=602.7 /></g><g class=o><circle cy=574.9 /><circle cy=706.7 /></g><g class=b><circle cy=616.1 /></g><g class=o><circle cy=774.1 /><circle cy=661.1 /><circle cy=691.7 /><circle cy=722.1 /><circle cy=684 /></g><g class=b><circle cy=587.2 /></g><g class=o><circle cy=637.1 /><circle cy=722.8 /><circle cy=701.4 /></g><g class=b><circle cy=677.7 /><circle cy=523.1 /></g><g class=o><circle cy=745.7 /><circle cy=647.8 /><circle cy=897.7 /><circle cy=566.8 /><circle cy=764 /></g><g class=b><circle cy=644.8 /><circle cy=637 /></g><g class=o><circle cy=743.1 /><circle cy=772.8 /><circle cy=681.4 /><circle cy=721 /></g><g class=b><circle cy=642.5 /></g><g class=o><circle cy=897 /><circle cy=665 /><circle cy=721.7 /></g><g class=b><circle cy=717.3 /><circle cy=693.9 /><circle cy=626.4 /><circle cy=616.7 /></g></g><g transform="translate(616.1)"><g class=o><circle cy=654.6 /><circle cy=628.3 /></g><g class=b><circle cy=673.7 /><circle cy=655.2 /><circle cy=720.9 /><circle cy=524.9 /><circle cy=704.5 /></g><g class=o><circle cy=583.1 /></g><g class=b><circle cy=760.6 /></g><g class=o><circle cy=768.5 /><circle cy=571.5 /><circle cy=748.4 /></g><g class=b><circle cy=498.9 /><circle cy=616.6 /></g><g class=o><circle cy=612.3 /><circle cy=689.8 /><circle cy=589 /></g><g class=b><circle cy=495 /></g><g class=o><circle cy=855.3 /></g><g class=b><circle cy=642.6 /></g><g class=o><circle cy=585 /><circle cy=757.5 /></g><g class=b><circle cy=599.8 /><circle cy=688.2 /></g><g class=o><circle cy=711 /><circle cy=663.3 /><circle cy=714.4 /><circle cy=708.3 /></g><g class=b><circle cy=676.9 /></g><g class=o><circle cy=606.5 /><circle cy=626.5 /></g><g class=b><circle cy=777.8 /></g><g class=o><circle cy=725.7 /><circle cy=680.7 /></g><g class=b><circle cy=688.2 /><circle cy=589.1 /></g><g class=o><circle cy=896.9 /><circle cy=763.9 /><circle cy=671.8 /></g><g class=b><circle cy=660.3 /></g><g class=o><circle cy=698.7 /><circle cy=897 /></g><g class=b><circle cy=681.4 /><circle cy=627.5 /></g><g class=o><circle cy=703.6 /></g><g class=b><circle cy=737.2 /><circle cy=735.5 /><circle cy=573.6 /></g><g class=o><circle cy=752.9 /><circle cy=686.5 /></g><g class=b><circle cy=608.1 /></g><g class=o><circle cy=687.8 /><circle cy=736.3 /></g><g class=b><circle cy=674.2 /><circle cy=653.1 /></g><g class=o><circle cy=702.7 /></g><g class=b><circle cy=636.8 /></g><g class=o><circle cy=754.2 /></g><g class=b><circle cy=555.4 /><circle cy=602.8 /><circle cy=662.2 /><circle cy=604.5 /></g><g class=o><circle cy=666.8 /></g><g class=b><circle cy=642.4 /><circle cy=652.6 /></g><g class=o><circle cy=751 /></g><g class=b><circle cy=671.4 /></g></g><g transform="translate(626)"><g class=o><circle cy=610.3 /><circle cy=699.4 /><circle cy=739.8 /><circle cy=670.8 /><circle cy=694.9 /><circle cy=755.7 /><circle cy=756.8 /><circle cy=747.9 /></g><g class=b><circle cy=576.7 /></g><g class=o><circle cy=597.5 /><circle cy=622.8 /><circle cy=558.5 /></g><g class=b><circle cy=697.5 /><circle cy=659.6 /></g><g class=o><circle cy=616.3 /><circle cy=563.8 /></g><g class=b><circle cy=642.4 /><circle cy=572.7 /><circle cy=761.2 /></g><g class=o><circle cy=892.9 /><circle cy=652.6 /><circle cy=641.7 /><circle cy=693.2 /><circle cy=676.8 /></g><g class=b><circle cy=676.5 /></g><g class=o><circle cy=709.1 /><circle cy=678.1 /><circle cy=653.3 /><circle cy=780.1 /><circle cy=780.1 /></g><g class=b><circle cy=659.4 /></g><g class=o><circle cy=754.4 /></g><g class=b><circle cy=554.3 /><circle cy=619.5 /><circle cy=497.7 /></g><g class=o><circle cy=722.5 /><circle cy=695.7 /></g><g class=b><circle cy=663.8 /><circle cy=571.5 /><circle cy=573.9 /></g><g class=o><circle cy=651.8 /><circle cy=705.8 /><circle cy=622.9 /></g><g class=b><circle cy=559.2 /><circle cy=611.6 /><circle cy=581.3 /></g><g class=o><circle cy=751.5 /><circle cy=644.6 /></g><g class=b><circle cy=644.7 /><circle cy=783.9 /><circle cy=707.9 /><circle cy=632.9 /></g><g class=o><circle cy=707.2 /></g><g class=b><circle cy=638.2 /></g><g class=o><circle cy=675.4 /><circle cy=635.9 /><circle cy=686.1 /><circle cy=725.4 /></g><g class=b><circle cy=666.5 /></g><g class=o><circle cy=687.6 /></g><g class=b><circle cy=617.4 /><circle cy=570.4 /><circle cy=591.4 /><circle cy=557.8 /><circle cy=576.3 /></g><g class=o><circle cy=720.1 /><circle cy=779.2 /></g><g class=b><circle cy=730.4 /></g><g class=o><circle cy=715.5 /></g><g class=b><circle cy=639.7 /></g><g class=o><circle cy=746.6 /><circle cy=892.1 /><circle cy=640.4 /><circle cy=710.9 /></g></g><g transform="translate(635.9)"><g class=o><circle cy=720.1 /><circle cy=698 /></g><g class=b><circle cy=682.2 /></g><g class=o><circle cy=673.6 /></g><g class=b><circle cy=577.6 /><circle cy=591.3 /></g><g class=o><circle cy=686.2 /></g><g class=b><circle cy=668.2 /></g><g class=o><circle cy=668.6 /><circle cy=591 /></g><g class=b><circle cy=615.5 /></g><g class=o><circle cy=770.9 /><circle cy=736.9 /><circle cy=681.8 /><circle cy=703.5 /></g><g class=b><circle cy=740 /><circle cy=757.2 /><circle cy=676 /><circle cy=586 /></g><g class=o><circle cy=713.8 /><circle cy=651.8 /><circle cy=633.7 /><circle cy=715.4 /></g><g class=b><circle cy=522.5 /><circle cy=582.3 /></g><g class=o><circle cy=761.8 /></g><g class=b><circle cy=628.5 /></g><g class=o><circle cy=794.7 /></g><g class=b><circle cy=607.4 /><circle cy=684.5 /></g><g class=o><circle cy=767 /></g><g class=b><circle cy=598.6 /><circle cy=617 /><circle cy=637.4 /><circle cy=650.1 /><circle cy=762.6 /></g><g class=o><circle cy=701.7 /></g><g class=b><circle cy=562.8 /></g><g class=o><circle cy=639.8 /><circle cy=773.1 /></g><g class=b><circle cy=657.5 /></g><g class=o><circle cy=684 /></g><g class=b><circle cy=611.3 /></g><g class=o><circle cy=572.2 /><circle cy=695.5 /></g><g class=b><circle cy=607.9 /></g><g class=o><circle cy=616.5 /></g><g class=b><circle cy=526.1 /><circle cy=710.7 /></g><g class=o><circle cy=683.5 /><circle cy=682.2 /><circle cy=698.1 /><circle cy=593.7 /><circle cy=681.9 /><circle cy=732.1 /><circle cy=732.2 /><circle cy=774.7 /></g><g class=b><circle cy=611.8 /></g><g class=o><circle cy=586 /></g><g class=b><circle cy=637.3 /></g><g class=o><circle cy=736.3 /></g><g class=b><circle cy=783.2 /></g><g class=o><circle cy=712.3 /><circle cy=713 /><circle cy=628.2 /></g><g class=b><circle cy=651.7 /></g><g class=o><circle cy=769.3 /></g><g class=b><circle cy=705.9 /></g><g class=o><circle cy=672.4 /><circle cy=831.9 /></g><g class=b><circle cy=621.8 /></g></g><g transform="translate(645.9)"><g class=b><circle cy=624.4 /></g><g class=o><circle cy=897.7 /></g><g class=b><circle cy=626 /><circle cy=698.9 /></g><g class=o><circle cy=788.8 /><circle cy=761.3 /><circle cy=786.1 /></g><g class=b><circle cy=681.7 /></g><g class=o><circle cy=686.4 /></g><g class=b><circle cy=686.9 /><circle cy=792 /><circle cy=612 /></g><g class=o><circle cy=671.7 /><circle cy=611.8 /></g><g class=b><circle cy=606.2 /></g><g class=o><circle cy=705.5 /><circle cy=797.1 /><circle cy=749.9 /></g><g class=b><circle cy=522.5 /></g><g class=o><circle cy=702.4 /></g><g class=b><circle cy=536.7 /></g><g class=o><circle cy=630.8 /></g><g class=b><circle cy=579.2 /></g><g class=o><circle cy=611.2 /><circle cy=725.3 /><circle cy=745.7 /></g><g class=b><circle cy=629.3 /></g><g class=o><circle cy=783 /><circle cy=598.6 /></g><g class=b><circle cy=479.1 /></g><g class=o><circle cy=731.4 /><circle cy=760 /><circle cy=741.5 /></g><g class=b><circle cy=564.5 /></g><g class=o><circle cy=634.1 /><circle cy=852.8 /><circle cy=643 /></g><g class=b><circle cy=664 /></g><g class=o><circle cy=896.3 /><circle cy=694.4 /><circle cy=690.8 /><circle cy=777.4 /><circle cy=689.9 /></g><g class=b><circle cy=609.5 /><circle cy=674.1 /><circle cy=451.5 /><circle cy=609.2 /></g><g class=o><circle cy=709.3 /><circle cy=632 /><circle cy=562.9 /></g><g class=b><circle cy=734.2 /><circle cy=627.4 /><circle cy=740.2 /></g><g class=o><circle cy=705.3 /></g><g class=b><circle cy=486.2 /></g><g class=o><circle cy=770.4 /></g><g class=b><circle cy=604.3 /></g><g class=o><circle cy=710.7 /><circle cy=761.4 /></g><g class=b><circle cy=654.3 /><circle cy=650.9 /><circle cy=663.1 /><circle cy=664.9 /></g><g class=o><circle cy=688.2 /></g><g class=b><circle cy=631.7 /></g><g class=o><circle cy=790.5 /><circle cy=634.9 /><circle cy=686.7 /></g></g><g transform="translate(655.8)"><g class=o><circle cy=786.1 /></g><g class=b><circle cy=571.7 /><circle cy=650.4 /><circle cy=743 /><circle cy=601.9 /></g><g class=o><circle cy=646.2 /><circle cy=756.7 /><circle cy=689.3 /><circle cy=575.6 /><circle cy=727.5 /><circle cy=639.3 /></g><g class=b><circle cy=781.7 /><circle cy=491.6 /></g><g class=o><circle cy=713.9 /><circle cy=746.8 /><circle cy=757.2 /><circle cy=695.2 /><circle cy=757.1 /></g><g class=b><circle cy=650.6 /><circle cy=514.6 /><circle cy=747.2 /><circle cy=669.2 /></g><g class=o><circle cy=622.6 /><circle cy=690.3 /><circle cy=721.8 /></g><g class=b><circle cy=675.6 /><circle cy=703.9 /></g><g class=o><circle cy=676.6 /></g><g class=b><circle cy=693.2 /><circle cy=602.6 /></g><g class=o><circle cy=746.6 /></g><g class=b><circle cy=648.8 /><circle cy=580.1 /></g><g class=o><circle cy=698.9 /><circle cy=651.3 /></g><g class=b><circle cy=608.6 /><circle cy=639.6 /><circle cy=554.2 /></g><g class=o><circle cy=654.7 /><circle cy=766 /></g><g class=b><circle cy=753.8 /><circle cy=580.5 /><circle cy=670 /></g><g class=o><circle cy=894.9 /><circle cy=702.5 /><circle cy=784.5 /></g><g class=b><circle cy=679.6 /><circle cy=594.3 /></g><g class=o><circle cy=703.8 /></g><g class=b><circle cy=644.7 /><circle cy=532.9 /></g><g class=o><circle cy=685.9 /><circle cy=706.6 /><circle cy=769.8 /></g><g class=b><circle cy=630.4 /></g><g class=o><circle cy=691.5 /></g><g class=b><circle cy=685.1 /><circle cy=564.8 /></g><g class=o><circle cy=676.7 /></g><g class=b><circle cy=693.5 /></g><g class=o><circle cy=860.2 /></g><g class=b><circle cy=616.1 /></g><g class=o><circle cy=778.9 /></g><g class=b><circle cy=626.7 /></g><g class=o><circle cy=610 /><circle cy=682.2 /><circle cy=777.1 /></g><g class=b><circle cy=567.4 /><circle cy=575.1 /></g><g class=o><circle cy=680.3 /><circle cy=737.8 /><circle cy=783.1 /></g><g class=b><circle cy=621.6 /><circle cy=851.4 /></g><g class=o><circle cy=660.9 /><circle cy=719.7 /></g><g class=b><circle cy=647.6 /></g><g class=o><circle cy=894.8 /><circle cy=679.3 /></g><g class=b><circle cy=548.4 /></g><g class=o><circle cy=690.1 /><circle cy=731 /></g></g><g transform="translate(665.7)"><g class=o><circle cy=644 /><circle cy=767.2 /><circle cy=628.3 /><circle cy=903.3 /></g><g class=b><circle cy=521.4 /><circle cy=613.8 /></g><g class=o><circle cy=683.5 /><circle cy=679 /></g><g class=b><circle cy=508.3 /></g><g class=o><circle cy=849.2 /><circle cy=620.4 /></g><g class=b><circle cy=508.3 /></g><g class=o><circle cy=761.8 /></g><g class=b><circle cy=675.5 /></g><g class=o><circle cy=763.5 /></g><g class=b><circle cy=641.9 /></g><g class=o><circle cy=804.2 /></g><g class=b><circle cy=534.4 /></g><g class=o><circle cy=694.9 /><circle cy=687.6 /></g><g class=b><circle cy=520.3 /></g><g class=o><circle cy=865.1 /><circle cy=641.4 /><circle cy=760.9 /></g><g class=b><circle cy=715.6 /><circle cy=680.2 /></g><g class=o><circle cy=722.6 /><circle cy=671.5 /></g><g class=b><circle cy=604.4 /></g><g class=o><circle cy=758.8 /><circle cy=633.4 /><circle cy=715 /></g><g class=b><circle cy=467.8 /><circle cy=707.3 /></g><g class=o><circle cy=707.5 /><circle cy=676.1 /></g><g class=b><circle cy=566 /></g><g class=o><circle cy=701.3 /></g><g class=b><circle cy=664.4 /><circle cy=613.8 /><circle cy=669.8 /></g><g class=o><circle cy=752.7 /></g><g class=b><circle cy=555.5 /><circle cy=629.6 /></g><g class=o><circle cy=627.6 /></g><g class=b><circle cy=600.7 /></g><g class=o><circle cy=667.1 /></g><g class=b><circle cy=585.7 /></g><g class=o><circle cy=744.9 /><circle cy=902.2 /></g><g class=b><circle cy=616.2 /><circle cy=631.8 /><circle cy=851.6 /><circle cy=614.8 /></g><g class=o><circle cy=725.1 /></g><g class=b><circle cy=682.1 /></g><g class=o><circle cy=568.1 /><circle cy=699.6 /><circle cy=795.3 /><circle cy=793.5 /></g><g class=b><circle cy=737.7 /></g><g class=o><circle cy=726.8 /></g></g><g transform="translate(675.7)"><g class=b><circle cy=548.4 /></g><g class=o><circle cy=703.1 /></g><g class=b><circle cy=660.6 /></g><g class=o><circle cy=731.1 /><circle cy=718.9 /></g><g class=b><circle cy=744.2 /><circle cy=623.7 /><circle cy=567.7 /><circle cy=613 /><circle cy=746.1 /><circle cy=649.1 /><circle cy=663.2 /></g><g class=o><circle cy=603.5 /></g><g class=b><circle cy=717.5 /><circle cy=705.1 /></g><g class=o><circle cy=619.3 /></g><g class=b><circle cy=627.5 /></g><g class=o><circle cy=601.3 /><circle cy=747.6 /></g><g class=b><circle cy=767.3 /></g><g class=o><circle cy=727.8 /><circle cy=709 /></g><g class=b><circle cy=794.5 /><circle cy=668.7 /></g><g class=o><circle cy=671.7 /><circle cy=770.5 /></g><g class=b><circle cy=583 /><circle cy=689.5 /><circle cy=772 /></g><g class=o><circle cy=774.5 /><circle cy=697.4 /><circle cy=696.4 /><circle cy=615.5 /><circle cy=726.7 /></g><g class=b><circle cy=592.5 /><circle cy=671.3 /></g><g class=o><circle cy=714.2 /><circle cy=629.6 /><circle cy=688 /><circle cy=728.4 /><circle cy=650.8 /></g><g class=b><circle cy=520.8 /><circle cy=639.3 /></g><g class=o><circle cy=573.2 /></g><g class=b><circle cy=618.2 /><circle cy=568.3 /><circle cy=649.6 /></g><g class=o><circle cy=735.9 /><circle cy=719.5 /></g><g class=b><circle cy=586.6 /></g><g class=o><circle cy=645.8 /><circle cy=697.7 /></g><g class=b><circle cy=622.7 /></g><g class=o><circle cy=636.1 /></g><g class=b><circle cy=638.5 /></g><g class=o><circle cy=666.3 /></g><g class=b><circle cy=654 /><circle cy=600.9 /></g><g class=o><circle cy=675.2 /></g><g class=b><circle cy=606.9 /><circle cy=513 /><circle cy=692 /></g><g class=o><circle cy=862.3 /><circle cy=670.6 /><circle cy=722.1 /><circle cy=746.9 /><circle cy=545.1 /><circle cy=719.1 /><circle cy=596.6 /></g><g class=b><circle cy=681 /></g><g class=o><circle cy=862.4 /></g><g class=b><circle cy=570.1 /><circle cy=685.9 /></g><g class=o><circle cy=703.5 /><circle cy=789.8 /></g><g class=b><circle cy=621 /><circle cy=749.1 /></g><g class=o><circle cy=773.3 /><circle cy=736.6 /><circle cy=689 /></g><g class=b><circle cy=640.4 /></g><g class=o><circle cy=687.3 /></g></g><g transform="translate(685.6)"><g class=b><circle cy=679.3 /></g><g class=o><circle cy=794.4 /><circle cy=673.4 /><circle cy=737.1 /><circle cy=692.5 /></g><g class=b><circle cy=576.9 /></g><g class=o><circle cy=702.5 /><circle cy=865.5 /></g><g class=b><circle cy=601.7 /></g><g class=o><circle cy=912.3 /></g><g class=b><circle cy=577.8 /><circle cy=506.7 /><circle cy=580.1 /><circle cy=784.1 /><circle cy=660.2 /></g><g class=o><circle cy=702.3 /><circle cy=676.3 /></g><g class=b><circle cy=755.8 /></g><g class=o><circle cy=696.6 /><circle cy=593.6 /><circle cy=667.5 /></g><g class=b><circle cy=586.3 /></g><g class=o><circle cy=911.9 /><circle cy=662 /><circle cy=695.8 /><circle cy=770.7 /></g><g class=b><circle cy=617.6 /></g><g class=o><circle cy=771.2 /><circle cy=762.6 /><circle cy=730.1 /><circle cy=715.7 /><circle cy=770.7 /></g><g class=b><circle cy=559.3 /></g><g class=o><circle cy=679.4 /><circle cy=708.9 /></g><g class=b><circle cy=610.4 /><circle cy=650.8 /></g><g class=o><circle cy=835.1 /><circle cy=736.9 /><circle cy=776.5 /><circle cy=711.2 /><circle cy=757.2 /><circle cy=717.5 /><circle cy=677.2 /></g><g class=b><circle cy=707.1 /></g><g class=o><circle cy=694.1 /><circle cy=675.2 /><circle cy=602 /></g><g class=b><circle cy=751.5 /><circle cy=675.8 /></g><g class=o><circle cy=776.5 /><circle cy=685.5 /><circle cy=671.7 /></g><g class=b><circle cy=614.3 /><circle cy=759 /><circle cy=648.6 /><circle cy=609.4 /></g><g class=o><circle cy=618.8 /><circle cy=689.6 /><circle cy=727.4 /><circle cy=650.9 /><circle cy=701.7 /></g><g class=b><circle cy=772.1 /><circle cy=783 /></g><g class=o><circle cy=844.6 /></g><g class=b><circle cy=496.7 /><circle cy=619 /></g><g class=o><circle cy=707.1 /></g><g class=b><circle cy=564.6 /><circle cy=676.4 /></g><g class=o><circle cy=788.4 /><circle cy=666.3 /></g><g class=b><circle cy=569.1 /></g></g><g transform="translate(695.5)"><g class=o><circle cy=698.7 /><circle cy=635.3 /><circle cy=683.8 /></g><g class=b><circle cy=572.3 /><circle cy=643.5 /></g><g class=o><circle cy=788.4 /></g><g class=b><circle cy=860.2 /><circle cy=621.7 /></g><g class=o><circle cy=874 /><circle cy=697.3 /></g><g class=b><circle cy=492.6 /></g><g class=o><circle cy=676.8 /><circle cy=834.1 /></g><g class=b><circle cy=628 /><circle cy=678.6 /></g><g class=o><circle cy=563.9 /></g><g class=b><circle cy=765.1 /></g><g class=o><circle cy=739.7 /></g><g class=b><circle cy=797.9 /><circle cy=644.7 /></g><g class=o><circle cy=694.3 /></g><g class=b><circle cy=492.6 /></g><g class=o><circle cy=939.5 /></g><g class=b><circle cy=579.1 /></g><g class=o><circle cy=742.3 /><circle cy=733.7 /></g><g class=b><circle cy=574.6 /><circle cy=720 /></g><g class=o><circle cy=799.7 /></g><g class=b><circle cy=625.7 /><circle cy=557.4 /><circle cy=584.1 /></g><g class=o><circle cy=726.1 /><circle cy=787.3 /></g><g class=b><circle cy=624 /></g><g class=o><circle cy=794.2 /></g><g class=b><circle cy=644.7 /><circle cy=657.3 /><circle cy=609.6 /></g><g class=o><circle cy=639.4 /></g><g class=b><circle cy=574 /></g><g class=o><circle cy=642.4 /></g><g class=b><circle cy=572.1 /></g><g class=o><circle cy=680.8 /><circle cy=672.9 /><circle cy=810.8 /><circle cy=687.6 /><circle cy=693.1 /><circle cy=720.1 /></g><g class=b><circle cy=606.8 /><circle cy=528.6 /></g><g class=o><circle cy=612.6 /><circle cy=700.6 /></g><g class=b><circle cy=771.9 /><circle cy=680 /></g><g class=o><circle cy=629.6 /><circle cy=600.5 /></g><g class=b><circle cy=728.9 /></g><g class=o><circle cy=700.7 /><circle cy=640.6 /><circle cy=595.7 /></g><g class=b><circle cy=689 /></g><g class=o><circle cy=679.2 /></g><g class=b><circle cy=759.3 /></g><g class=o><circle cy=638.6 /></g><g class=b><circle cy=649.8 /></g><g class=o><circle cy=939.5 /><circle cy=644.6 /></g></g><g transform="translate(705.5)"><g class=b><circle cy=568.6 /><circle cy=571.4 /></g><g class=o><circle cy=785.8 /><circle cy=757.5 /><circle cy=679.4 /></g><g class=b><circle cy=759.4 /></g><g class=o><circle cy=709.4 /></g><g class=b><circle cy=860.2 /></g><g class=o><circle cy=706.2 /></g><g class=b><circle cy=675.3 /><circle cy=777.4 /><circle cy=767.2 /></g><g class=o><circle cy=737.1 /><circle cy=718.4 /></g><g class=b><circle cy=772.3 /><circle cy=609 /></g><g class=o><circle cy=713.6 /></g><g class=b><circle cy=694.9 /><circle cy=570.3 /></g><g class=o><circle cy=800.7 /><circle cy=781.3 /><circle cy=696.8 /><circle cy=695.1 /><circle cy=702.6 /><circle cy=725.3 /></g><g class=b><circle cy=658.6 /><circle cy=860.2 /></g><g class=o><circle cy=867 /></g><g class=b><circle cy=638.3 /><circle cy=629.9 /><circle cy=680.4 /></g><g class=o><circle cy=707.4 /><circle cy=723.8 /><circle cy=621.3 /></g><g class=b><circle cy=528.3 /><circle cy=704.7 /></g><g class=o><circle cy=732.1 /><circle cy=698.2 /><circle cy=674.3 /></g><g class=b><circle cy=615.4 /></g><g class=o><circle cy=643 /><circle cy=733 /><circle cy=707.5 /></g><g class=b><circle cy=618.5 /></g><g class=o><circle cy=714.3 /></g><g class=b><circle cy=752.5 /></g><g class=o><circle cy=764.6 /><circle cy=558.9 /></g><g class=b><circle cy=574.7 /><circle cy=513 /></g><g class=o><circle cy=750.8 /><circle cy=698.4 /><circle cy=622.9 /><circle cy=627.4 /><circle cy=693.2 /><circle cy=586.9 /><circle cy=846.8 /><circle cy=803.8 /><circle cy=749.4 /></g><g class=b><circle cy=644.6 /></g><g class=o><circle cy=789.8 /><circle cy=652.6 /><circle cy=685.8 /></g><g class=b><circle cy=690.2 /><circle cy=659 /><circle cy=705.4 /><circle cy=615 /></g><g class=o><circle cy=752.7 /></g><g class=b><circle cy=501.4 /></g></g><g transform="translate(715.4)"><g class=b><circle cy=663.8 /></g><g class=o><circle cy=718.6 /></g><g class=b><circle cy=642.7 /><circle cy=606.2 /><circle cy=757.9 /></g><g class=o><circle cy=863.2 /></g><g class=b><circle cy=607.8 /></g><g class=o><circle cy=709.1 /><circle cy=567 /><circle cy=803.1 /><circle cy=734.7 /></g><g class=b><circle cy=649.4 /></g><g class=o><circle cy=678 /><circle cy=871.9 /><circle cy=748.6 /></g><g class=b><circle cy=615.3 /></g><g class=o><circle cy=725.7 /><circle cy=694.4 /><circle cy=790.5 /><circle cy=599.7 /></g><g class=b><circle cy=709 /><circle cy=613 /><circle cy=628.6 /></g><g class=o><circle cy=734 /><circle cy=734.4 /><circle cy=679.2 /></g><g class=b><circle cy=695.8 /></g><g class=o><circle cy=808.8 /><circle cy=766.7 /><circle cy=744.2 /><circle cy=651.6 /><circle cy=692 /></g><g class=b><circle cy=758.5 /></g><g class=o><circle cy=797.7 /><circle cy=591.7 /></g><g class=b><circle cy=703.7 /></g><g class=o><circle cy=897 /><circle cy=662.9 /><circle cy=787.6 /><circle cy=660.9 /></g><g class=b><circle cy=778.8 /><circle cy=572.8 /></g><g class=o><circle cy=655.1 /></g><g class=b><circle cy=667.3 /></g><g class=o><circle cy=723 /></g><g class=b><circle cy=531.4 /></g><g class=o><circle cy=604.3 /></g><g class=b><circle cy=623.7 /></g><g class=o><circle cy=758 /></g><g class=b><circle cy=653.6 /><circle cy=685 /><circle cy=559.7 /><circle cy=621.3 /></g><g class=o><circle cy=654.2 /></g><g class=b><circle cy=771.8 /></g><g class=o><circle cy=784.3 /><circle cy=800 /><circle cy=765.2 /><circle cy=670.9 /><circle cy=650.4 /><circle cy=696.7 /></g><g class=b><circle cy=860.2 /></g><g class=o><circle cy=623.3 /></g><g class=b><circle cy=567.6 /><circle cy=860.2 /></g><g class=o><circle cy=675.6 /><circle cy=692.8 /><circle cy=791.7 /></g><g class=b><circle cy=653.1 /><circle cy=592.4 /><circle cy=807.4 /><circle cy=635 /></g><g class=o><circle cy=643.2 /><circle cy=713.4 /></g><g class=b><circle cy=679.9 /></g><g class=o><circle cy=687.9 /><circle cy=821.8 /></g></g><g transform="translate(725.3)"><g class=o><circle cy=714.7 /></g><g class=b><circle cy=639 /></g><g class=o><circle cy=626.6 /></g><g class=b><circle cy=606.3 /><circle cy=675.6 /><circle cy=658.8 /><circle cy=627.6 /></g><g class=o><circle cy=707.9 /><circle cy=804.5 /><circle cy=817.9 /><circle cy=818.6 /><circle cy=630.8 /><circle cy=653.9 /></g><g class=b><circle cy=678.8 /><circle cy=599.4 /></g><g class=o><circle cy=717.8 /></g><g class=b><circle cy=721.9 /></g><g class=o><circle cy=721 /></g><g class=b><circle cy=491.6 /></g><g class=o><circle cy=749.7 /><circle cy=730.2 /></g><g class=b><circle cy=695.3 /></g><g class=o><circle cy=775.7 /><circle cy=638.3 /></g><g class=b><circle cy=773.3 /><circle cy=756.8 /><circle cy=553.4 /><circle cy=707 /></g><g class=o><circle cy=804.1 /><circle cy=557 /></g><g class=b><circle cy=668.5 /><circle cy=677.7 /></g><g class=o><circle cy=772.7 /><circle cy=673.7 /><circle cy=647 /><circle cy=649 /></g><g class=b><circle cy=640.5 /><circle cy=665.5 /></g><g class=o><circle cy=754.4 /></g><g class=b><circle cy=606.3 /><circle cy=549.7 /></g><g class=o><circle cy=695.3 /><circle cy=716.6 /><circle cy=594.9 /><circle cy=751.4 /><circle cy=587.5 /></g><g class=b><circle cy=646.3 /></g><g class=o><circle cy=728 /><circle cy=628.2 /><circle cy=916.1 /></g><g class=b><circle cy=515.3 /><circle cy=729 /><circle cy=623.8 /><circle cy=624.2 /><circle cy=599.4 /></g><g class=o><circle cy=729.8 /></g><g class=b><circle cy=617 /></g><g class=o><circle cy=670.7 /></g><g class=b><circle cy=491.6 /></g><g class=o><circle cy=653.6 /><circle cy=777.3 /><circle cy=606.3 /><circle cy=789.7 /><circle cy=807.3 /></g><g class=b><circle cy=767.1 /></g><g class=o><circle cy=616.9 /></g><g class=b><circle cy=578 /></g><g class=o><circle cy=737.3 /><circle cy=626 /><circle cy=692.3 /></g><g class=b><circle cy=580 /><circle cy=662 /></g><g class=o><circle cy=744.2 /></g><g class=b><circle cy=592.3 /></g><g class=o><circle cy=695.6 /><circle cy=801.8 /></g><g class=b><circle cy=640.9 /></g><g class=o><circle cy=556 /></g></g><g transform="translate(735.2)"><g class=b><circle cy=546.6 /><circle cy=516.1 /><circle cy=649.8 /><circle cy=599.4 /></g><g class=o><circle cy=617.5 /><circle cy=746.4 /><circle cy=732.6 /></g><g class=b><circle cy=563.7 /></g><g class=o><circle cy=695.1 /><circle cy=810 /><circle cy=749.9 /><circle cy=672.2 /><circle cy=709.6 /><circle cy=717.2 /></g><g class=b><circle cy=695 /></g><g class=o><circle cy=867.6 /></g><g class=b><circle cy=498.8 /></g><g class=o><circle cy=736 /><circle cy=940.3 /><circle cy=697.1 /><circle cy=573.7 /><circle cy=772.1 /><circle cy=699.5 /></g><g class=b><circle cy=633.5 /></g><g class=o><circle cy=705.7 /></g><g class=b><circle cy=663.8 /></g><g class=o><circle cy=586.4 /><circle cy=736.3 /><circle cy=867.4 /><circle cy=704.5 /><circle cy=610.1 /></g><g class=b><circle cy=750.4 /></g><g class=o><circle cy=778.7 /></g><g class=b><circle cy=664.7 /></g><g class=o><circle cy=666.6 /><circle cy=671.9 /><circle cy=705.3 /><circle cy=759.2 /><circle cy=604.9 /><circle cy=736.8 /><circle cy=669.1 /><circle cy=721.7 /><circle cy=819.6 /></g><g class=b><circle cy=691 /><circle cy=685 /><circle cy=666.6 /><circle cy=554.1 /><circle cy=862.3 /><circle cy=516.1 /></g><g class=o><circle cy=752.4 /></g><g class=b><circle cy=498.8 /><circle cy=687.7 /><circle cy=573.3 /></g><g class=o><circle cy=775.8 /><circle cy=723.5 /><circle cy=678.6 /></g><g class=b><circle cy=650.2 /><circle cy=620.9 /><circle cy=778.1 /><circle cy=681.3 /><circle cy=697.7 /></g><g class=o><circle cy=633.8 /></g><g class=b><circle cy=452.4 /><circle cy=679.8 /></g><g class=o><circle cy=635.9 /><circle cy=798.6 /><circle cy=794.6 /></g><g class=b><circle cy=758.5 /></g></g><g transform="translate(745.2)"><g class=o><circle cy=581.8 /><circle cy=658.9 /><circle cy=794.6 /><circle cy=695.8 /></g><g class=b><circle cy=569.8 /><circle cy=591.1 /><circle cy=729.1 /></g><g class=o><circle cy=753.9 /><circle cy=861.6 /><circle cy=665.2 /><circle cy=741.5 /><circle cy=683.6 /><circle cy=676.4 /><circle cy=723 /><circle cy=752.9 /><circle cy=808.3 /></g><g class=b><circle cy=589.9 /><circle cy=580.3 /></g><g class=o><circle cy=783.1 /></g><g class=b><circle cy=619.9 /></g><g class=o><circle cy=611.1 /><circle cy=630 /><circle cy=694.5 /><circle cy=636.3 /><circle cy=863.1 /></g><g class=b><circle cy=672.4 /><circle cy=625.4 /></g><g class=o><circle cy=676.5 /></g><g class=b><circle cy=777.3 /><circle cy=570.2 /></g><g class=o><circle cy=773 /></g><g class=b><circle cy=684.3 /></g><g class=o><circle cy=828.8 /><circle cy=723.1 /><circle cy=743.4 /></g><g class=b><circle cy=663.3 /></g><g class=o><circle cy=586.4 /><circle cy=709.4 /><circle cy=927.1 /><circle cy=631.4 /><circle cy=867.6 /></g><g class=b><circle cy=855.3 /><circle cy=749.7 /></g><g class=o><circle cy=739.7 /><circle cy=769 /></g><g class=b><circle cy=550 /></g><g class=o><circle cy=622.6 /><circle cy=728.9 /><circle cy=670.2 /></g><g class=b><circle cy=605.8 /><circle cy=731.9 /><circle cy=638.4 /><circle cy=692.3 /></g><g class=o><circle cy=818.1 /></g><g class=b><circle cy=686.4 /></g><g class=o><circle cy=780.1 /></g><g class=b><circle cy=652.5 /><circle cy=771.4 /><circle cy=586 /><circle cy=597.5 /><circle cy=558.9 /></g><g class=o><circle cy=721 /><circle cy=706.1 /><circle cy=678.2 /></g></g><g transform="translate(755.1)"><g class=b><circle cy=753.6 /><circle cy=602.4 /></g><g class=o><circle cy=679.8 /></g><g class=b><circle cy=675.3 /><circle cy=773.5 /><circle cy=741.8 /><circle cy=665.6 /></g><g class=o><circle cy=682.1 /><circle cy=675.5 /></g><g class=b><circle cy=642.8 /></g><g class=o><circle cy=733 /></g><g class=b><circle cy=590.3 /></g><g class=o><circle cy=623.7 /><circle cy=771.4 /><circle cy=733.7 /><circle cy=736.6 /><circle cy=700.2 /><circle cy=709.9 /><circle cy=663.6 /><circle cy=602.9 /></g><g class=b><circle cy=700.2 /><circle cy=564 /></g><g class=o><circle cy=635.9 /><circle cy=732.7 /></g><g class=b><circle cy=606.9 /></g><g class=o><circle cy=783.5 /></g><g class=b><circle cy=649.7 /></g><g class=o><circle cy=741.4 /></g><g class=b><circle cy=581.6 /><circle cy=775.2 /></g><g class=o><circle cy=584.8 /><circle cy=811.6 /><circle cy=662.8 /></g><g class=b><circle cy=460.8 /><circle cy=576.9 /></g><g class=o><circle cy=755.3 /></g><g class=b><circle cy=861.3 /></g><g class=o><circle cy=652.1 /></g><g class=b><circle cy=654.4 /><circle cy=617.9 /></g><g class=o><circle cy=549.9 /><circle cy=767.2 /><circle cy=730.5 /></g><g class=b><circle cy=766.5 /><circle cy=677.3 /></g><g class=o><circle cy=821 /><circle cy=709.5 /></g><g class=b><circle cy=667.8 /><circle cy=728.7 /></g><g class=o><circle cy=716.7 /></g><g class=b><circle cy=720.2 /><circle cy=607.7 /></g><g class=o><circle cy=721.5 /><circle cy=710.2 /><circle cy=723.3 /></g><g class=b><circle cy=596.5 /></g><g class=o><circle cy=672.2 /></g><g class=b><circle cy=787.3 /><circle cy=590.3 /></g><g class=o><circle cy=691 /><circle cy=768.4 /></g><g class=b><circle cy=681.1 /><circle cy=638.9 /><circle cy=861.3 /></g><g class=o><circle cy=839.4 /><circle cy=680.7 /><circle cy=623.4 /></g><g class=b><circle cy=610.1 /><circle cy=554.9 /><circle cy=752.8 /></g><g class=o><circle cy=692.3 /></g></g><g transform="translate(765)"><g class=o><circle cy=675.7 /><circle cy=673 /></g><g class=b><circle cy=718.9 /></g><g class=o><circle cy=675.4 /><circle cy=661 /></g><g class=b><circle cy=851.7 /></g><g class=o><circle cy=800.6 /></g><g class=b><circle cy=609.9 /><circle cy=851.7 /><circle cy=603.5 /><circle cy=759.6 /><circle cy=628.8 /><circle cy=679.7 /></g><g class=o><circle cy=940.3 /><circle cy=675.7 /></g><g class=b><circle cy=584 /></g><g class=o><circle cy=781 /><circle cy=757.8 /></g><g class=b><circle cy=592 /></g><g class=o><circle cy=720.4 /></g><g class=b><circle cy=614.8 /><circle cy=575.2 /><circle cy=626.1 /><circle cy=693 /><circle cy=620.2 /><circle cy=588.7 /><circle cy=615 /></g><g class=o><circle cy=865.5 /></g><g class=b><circle cy=550.7 /><circle cy=616.4 /></g><g class=o><circle cy=609.1 /></g><g class=b><circle cy=804.3 /><circle cy=864.4 /><circle cy=672.8 /><circle cy=667.1 /></g><g class=o><circle cy=777.2 /></g><g class=b><circle cy=668.1 /></g><g class=o><circle cy=780.7 /></g><g class=b><circle cy=497.3 /><circle cy=618.5 /><circle cy=516.5 /></g><g class=o><circle cy=659 /><circle cy=838.8 /><circle cy=663.4 /><circle cy=711.8 /></g><g class=b><circle cy=690.7 /></g><g class=o><circle cy=715 /><circle cy=726.2 /><circle cy=684 /><circle cy=768.9 /><circle cy=689.4 /><circle cy=701.5 /></g><g class=b><circle cy=603.4 /><circle cy=567.1 /></g><g class=o><circle cy=712.5 /></g><g class=b><circle cy=704.6 /><circle cy=653.9 /></g><g class=o><circle cy=567.8 /><circle cy=628.8 /><circle cy=618.1 /><circle cy=629.6 /><circle cy=711.3 /></g><g class=b><circle cy=764.7 /></g><g class=o><circle cy=757.6 /></g><g class=b><circle cy=765.9 /></g><g class=o><circle cy=557 /><circle cy=691 /><circle cy=660.8 /><circle cy=606.3 /></g><g class=b><circle cy=510.5 /></g></g><g transform="translate(775)"><g class=b><circle cy=562.2 /></g><g class=o><circle cy=671.2 /><circle cy=725.7 /><circle cy=807 /></g><g class=b><circle cy=593.8 /><circle cy=718.2 /></g><g class=o><circle cy=693.9 /><circle cy=605.1 /></g><g class=b><circle cy=688.1 /><circle cy=660.1 /></g><g class=o><circle cy=568 /><circle cy=657.3 /></g><g class=b><circle cy=670.3 /></g><g class=o><circle cy=644.3 /></g><g class=b><circle cy=645.8 /><circle cy=688.2 /></g><g class=o><circle cy=727.6 /><circle cy=548.4 /></g><g class=b><circle cy=624.7 /><circle cy=563.7 /></g><g class=o><circle cy=758.9 /></g><g class=b><circle cy=624.8 /><circle cy=577.6 /></g><g class=o><circle cy=633.6 /><circle cy=769.5 /><circle cy=735.4 /></g><g class=b><circle cy=817 /></g><g class=o><circle cy=685.1 /><circle cy=880.2 /><circle cy=367.3 /></g><g class=b><circle cy=696.8 /><circle cy=688.8 /></g><g class=o><circle cy=728.2 /></g><g class=b><circle cy=606 /><circle cy=871.9 /></g><g class=o><circle cy=796.7 /><circle cy=599.8 /><circle cy=609.5 /><circle cy=774.3 /><circle cy=737.8 /></g><g class=b><circle cy=606.7 /></g><g class=o><circle cy=567.2 /><circle cy=771.6 /><circle cy=624.4 /></g><g class=b><circle cy=574.7 /><circle cy=774 /></g><g class=o><circle cy=695.2 /></g><g class=b><circle cy=701.3 /></g><g class=o><circle cy=761.1 /></g><g class=b><circle cy=594.5 /></g><g class=o><circle cy=670.7 /></g><g class=b><circle cy=585 /></g><g class=o><circle cy=667.6 /><circle cy=689.5 /><circle cy=626.9 /></g><g class=b><circle cy=748.8 /></g><g class=o><circle cy=611.2 /><circle cy=926.1 /></g><g class=b><circle cy=777.8 /></g><g class=o><circle cy=824.1 /></g></g><g transform="translate(784.9)"><g class=b><circle cy=764.8 /></g><g class=o><circle cy=697.5 /></g><g class=b><circle cy=720.9 /><circle cy=765.6 /></g><g class=o><circle cy=744.3 /><circle cy=760.3 /></g><g class=b><circle cy=491.6 /></g><g class=o><circle cy=756 /></g><g class=b><circle cy=767 /></g><g class=o><circle cy=698.2 /></g><g class=b><circle cy=524.4 /><circle cy=624.1 /></g><g class=o><circle cy=811.4 /><circle cy=673.8 /><circle cy=635 /><circle cy=598.3 /><circle cy=685.5 /><circle cy=847.5 /></g><g class=b><circle cy=525.1 /><circle cy=605.3 /><circle cy=867.6 /></g><g class=o><circle cy=574.6 /><circle cy=807.3 /></g><g class=b><circle cy=605 /><circle cy=685.1 /><circle cy=491.3 /></g><g class=o><circle cy=819.7 /></g><g class=b><circle cy=564.3 /></g><g class=o><circle cy=921.8 /></g><g class=b><circle cy=594.1 /></g><g class=o><circle cy=650.8 /><circle cy=590.3 /></g><g class=b><circle cy=571.4 /></g><g class=o><circle cy=406.5 /><circle cy=763.8 /><circle cy=683 /><circle cy=721.6 /><circle cy=758.3 /><circle cy=707 /></g><g class=b><circle cy=587.4 /></g><g class=o><circle cy=805.9 /><circle cy=813.3 /></g><g class=b><circle cy=717.4 /></g><g class=o><circle cy=737.6 /><circle cy=702.4 /><circle cy=721.8 /></g><g class=b><circle cy=704.2 /><circle cy=788.6 /><circle cy=622.6 /><circle cy=618.7 /></g><g class=o><circle cy=706.5 /><circle cy=679.2 /><circle cy=701.6 /><circle cy=768.4 /></g><g class=b><circle cy=533.6 /><circle cy=795.7 /></g><g class=o><circle cy=584 /><circle cy=724.9 /><circle cy=694.7 /><circle cy=653.6 /><circle cy=675.9 /></g><g class=b><circle cy=867.6 /></g></g><g transform="translate(794.8)"><g class=o><circle cy=644.7 /></g><g class=b><circle cy=554 /><circle cy=495.9 /></g><g class=o><circle cy=668.7 /></g><g class=b><circle cy=869.8 /><circle cy=775.2 /><circle cy=619.7 /><circle cy=577.7 /></g><g class=o><circle cy=627.3 /><circle cy=758.2 /><circle cy=651.8 /></g><g class=b><circle cy=709.8 /></g><g class=o><circle cy=682.8 /><circle cy=812 /><circle cy=602.9 /></g><g class=b><circle cy=560.2 /></g><g class=o><circle cy=819.2 /><circle cy=752.4 /></g><g class=b><circle cy=670.2 /><circle cy=636.4 /><circle cy=793.6 /><circle cy=702.2 /></g><g class=o><circle cy=682.4 /></g><g class=b><circle cy=612.2 /></g><g class=o><circle cy=800.4 /><circle cy=755.8 /></g><g class=b><circle cy=649.1 /><circle cy=690.7 /><circle cy=623.2 /><circle cy=869.8 /><circle cy=502 /></g><g class=o><circle cy=745.7 /><circle cy=723.9 /></g><g class=b><circle cy=757.6 /><circle cy=775.7 /></g><g class=o><circle cy=818.5 /></g><g class=b><circle cy=712.8 /><circle cy=701.3 /></g><g class=o><circle cy=605.2 /><circle cy=655.5 /></g><g class=b><circle cy=628.6 /></g><g class=o><circle cy=692.4 /></g><g class=b><circle cy=683.2 /><circle cy=791.1 /></g><g class=o><circle cy=739.5 /></g><g class=b><circle cy=697.9 /><circle cy=585.4 /><circle cy=607.1 /></g><g class=o><circle cy=617.8 /></g><g class=b><circle cy=705.8 /></g><g class=o><circle cy=784.6 /><circle cy=788.3 /><circle cy=635.7 /></g><g class=b><circle cy=721.5 /><circle cy=705.3 /></g><g class=o><circle cy=747.4 /><circle cy=720.1 /></g><g class=b><circle cy=671.3 /></g><g class=o><circle cy=705.2 /><circle cy=693.5 /></g><g class=b><circle cy=621.3 /></g><g class=o><circle cy=570.2 /><circle cy=689.3 /></g><g class=b><circle cy=670.1 /></g><g class=o><circle cy=694.4 /><circle cy=920.8 /></g><g class=b><circle cy=557 /></g></g><g transform="translate(804.7)"><g class=o><circle cy=806 /><circle cy=834.2 /><circle cy=609.9 /></g><g class=b><circle cy=607.5 /></g><g class=o><circle cy=895.7 /><circle cy=665.9 /><circle cy=727.2 /></g><g class=b><circle cy=674.6 /></g><g class=o><circle cy=767.4 /><circle cy=683.2 /></g><g class=b><circle cy=680.7 /></g><g class=o><circle cy=641 /></g><g class=b><circle cy=606.8 /><circle cy=612.2 /><circle cy=604.1 /></g><g class=o><circle cy=730 /></g><g class=b><circle cy=721.5 /></g><g class=o><circle cy=706.5 /><circle cy=534.1 /><circle cy=680.5 /><circle cy=731.9 /></g><g class=b><circle cy=867.2 /><circle cy=655.8 /><circle cy=808.7 /></g><g class=o><circle cy=674.6 /><circle cy=779.3 /><circle cy=808.6 /></g><g class=b><circle cy=651.7 /></g><g class=o><circle cy=607.5 /><circle cy=581.4 /></g><g class=b><circle cy=530.7 /><circle cy=505.1 /><circle cy=787.4 /></g><g class=o><circle cy=615.8 /><circle cy=684.5 /></g><g class=b><circle cy=710 /><circle cy=545.6 /></g><g class=o><circle cy=654.8 /><circle cy=852.5 /><circle cy=919.7 /><circle cy=676 /><circle cy=392.1 /><circle cy=802.3 /></g><g class=b><circle cy=684.7 /><circle cy=581.6 /></g><g class=o><circle cy=689.1 /></g><g class=b><circle cy=611.8 /></g><g class=o><circle cy=692.7 /></g><g class=b><circle cy=597.7 /></g><g class=o><circle cy=682 /></g><g class=b><circle cy=577 /></g><g class=o><circle cy=820.4 /></g><g class=b><circle cy=623.4 /></g><g class=o><circle cy=748.9 /></g></g><g transform="translate(814.7)"><g class=b><circle cy=759.5 /></g><g class=o><circle cy=588.8 /><circle cy=672.6 /></g><g class=b><circle cy=629.5 /></g><g class=o><circle cy=807.2 /><circle cy=668.8 /><circle cy=588.4 /></g><g class=b><circle cy=638.8 /><circle cy=607.7 /></g><g class=o><circle cy=714.6 /><circle cy=697.1 /></g><g class=b><circle cy=639.9 /></g><g class=o><circle cy=629.2 /></g><g class=b><circle cy=597.4 /><circle cy=696.2 /></g><g class=o><circle cy=804.6 /></g><g class=b><circle cy=567.3 /></g><g class=o><circle cy=818.1 /></g><g class=b><circle cy=712.1 /></g><g class=o><circle cy=712.1 /></g><g class=b><circle cy=688.1 /><circle cy=676.1 /><circle cy=577.4 /></g><g class=o><circle cy=697.7 /><circle cy=725.2 /></g><g class=b><circle cy=644.1 /></g><g class=o><circle cy=587.8 /><circle cy=562.7 /><circle cy=903.3 /><circle cy=709.3 /><circle cy=721.6 /></g><g class=b><circle cy=702.3 /></g><g class=o><circle cy=731.9 /></g><g class=b><circle cy=589 /><circle cy=649 /><circle cy=659.5 /><circle cy=553.1 /><circle cy=702.2 /></g><g class=o><circle cy=753.3 /></g><g class=b><circle cy=582.7 /></g><g class=o><circle cy=692.6 /></g><g class=b><circle cy=659.9 /><circle cy=599.5 /><circle cy=627 /><circle cy=607.8 /></g><g class=o><circle cy=700.9 /><circle cy=402 /><circle cy=691.9 /></g><g class=b><circle cy=711.6 /><circle cy=753.9 /></g><g class=o><circle cy=668.4 /></g><g class=b><circle cy=693.3 /></g><g class=o><circle cy=718.4 /><circle cy=727.6 /></g><g class=b><circle cy=544.2 /></g><g class=o><circle cy=680.3 /></g><g class=b><circle cy=555.1 /><circle cy=589.3 /><circle cy=614.6 /><circle cy=588.9 /><circle cy=780.6 /></g><g class=o><circle cy=606.5 /><circle cy=795 /><circle cy=820.9 /></g><g class=b><circle cy=570.7 /><circle cy=886.8 /></g></g><g transform="translate(824.6)"><g class=o><circle cy=673.9 /></g><g class=b><circle cy=608.4 /></g><g class=o><circle cy=709.2 /><circle cy=601.7 /></g><g class=b><circle cy=655 /></g><g class=o><circle cy=662.7 /><circle cy=395.1 /><circle cy=663.1 /></g><g class=b><circle cy=674.4 /><circle cy=694.1 /><circle cy=586.5 /></g><g class=o><circle cy=705.1 /></g><g class=b><circle cy=793.6 /></g><g class=o><circle cy=678.7 /></g><g class=b><circle cy=538.6 /></g><g class=o><circle cy=732.9 /></g><g class=b><circle cy=578.9 /><circle cy=568.6 /></g><g class=o><circle cy=809.1 /><circle cy=756.6 /><circle cy=730.4 /><circle cy=677 /></g><g class=b><circle cy=492.6 /></g><g class=o><circle cy=679.6 /><circle cy=725.9 /><circle cy=610.1 /></g><g class=b><circle cy=882.3 /></g><g class=o><circle cy=583 /><circle cy=688 /></g><g class=b><circle cy=562.1 /></g><g class=o><circle cy=805.8 /></g><g class=b><circle cy=779.5 /><circle cy=721.5 /></g><g class=o><circle cy=643.6 /></g><g class=b><circle cy=511.4 /><circle cy=529.9 /></g><g class=o><circle cy=781.7 /><circle cy=834.9 /></g><g class=b><circle cy=693.9 /><circle cy=659 /></g><g class=o><circle cy=767.8 /><circle cy=744.6 /><circle cy=930.3 /><circle cy=907.6 /><circle cy=619.2 /></g><g class=b><circle cy=778.6 /></g><g class=o><circle cy=815.3 /></g><g class=b><circle cy=734.7 /><circle cy=502.8 /><circle cy=789.2 /></g><g class=o><circle cy=754.3 /></g><g class=b><circle cy=717.4 /></g><g class=o><circle cy=732.2 /></g><g class=b><circle cy=678.6 /><circle cy=579.1 /></g><g class=o><circle cy=767.9 /><circle cy=796.3 /><circle cy=753.3 /><circle cy=743.6 /></g><g class=b><circle cy=611 /><circle cy=580.7 /></g><g class=o><circle cy=645.5 /><circle cy=858.8 /><circle cy=653.7 /><circle cy=769.4 /></g><g class=b><circle cy=629.6 /></g><g class=o><circle cy=815.6 /></g><g class=b><circle cy=580.3 /><circle cy=694.3 /><circle cy=700.4 /></g><g class=o><circle cy=816 /><circle cy=725.7 /><circle cy=727.3 /><circle cy=555.5 /></g></g><g transform="translate(834.5)"><g class=o><circle cy=775.3 /><circle cy=726.3 /><circle cy=730.7 /><circle cy=728.6 /></g><g class=b><circle cy=709.3 /><circle cy=565.6 /><circle cy=744.7 /></g><g class=o><circle cy=813 /><circle cy=793.1 /></g><g class=b><circle cy=692.8 /><circle cy=680.4 /><circle cy=685 /><circle cy=649 /><circle cy=681 /><circle cy=536 /></g><g class=o><circle cy=726.3 /><circle cy=758.8 /><circle cy=560.2 /></g><g class=b><circle cy=590.9 /></g><g class=o><circle cy=667.5 /><circle cy=778.8 /><circle cy=633.2 /><circle cy=749.8 /><circle cy=911.8 /><circle cy=608.2 /><circle cy=691.6 /><circle cy=791.4 /></g><g class=b><circle cy=580.8 /><circle cy=890.8 /></g><g class=o><circle cy=664.9 /><circle cy=408.5 /><circle cy=706.8 /><circle cy=740.1 /></g><g class=b><circle cy=654 /></g><g class=o><circle cy=787 /><circle cy=744.8 /></g><g class=b><circle cy=659.5 /><circle cy=502.1 /><circle cy=769.6 /><circle cy=605.7 /><circle cy=708.8 /><circle cy=617.9 /><circle cy=688.6 /><circle cy=545.3 /><circle cy=621.2 /></g><g class=o><circle cy=736.2 /><circle cy=709.2 /><circle cy=660.6 /></g><g class=b><circle cy=509.8 /><circle cy=540.9 /></g><g class=o><circle cy=756.9 /><circle cy=855.4 /></g><g class=b><circle cy=569.7 /><circle cy=624.5 /><circle cy=689.6 /></g><g class=o><circle cy=674 /><circle cy=630.4 /></g><g class=b><circle cy=587.3 /><circle cy=638.4 /></g><g class=o><circle cy=827 /><circle cy=643.6 /><circle cy=794 /><circle cy=730.3 /><circle cy=919.1 /><circle cy=785.6 /></g><g class=b><circle cy=612.3 /></g></g><g transform="translate(844.5)"><g class=o><circle cy=398.9 /></g><g class=b><circle cy=567.2 /></g><g class=o><circle cy=788.2 /></g><g class=b><circle cy=644.4 /></g><g class=o><circle cy=730 /><circle cy=628.3 /></g><g class=b><circle cy=700 /></g><g class=o><circle cy=760.2 /><circle cy=687.7 /><circle cy=748.7 /></g><g class=b><circle cy=734 /><circle cy=822.8 /><circle cy=873 /></g><g class=o><circle cy=594.3 /></g><g class=b><circle cy=591.7 /><circle cy=501.6 /></g><g class=o><circle cy=725.4 /></g><g class=b><circle cy=592 /></g><g class=o><circle cy=720 /></g><g class=b><circle cy=804 /></g><g class=o><circle cy=897 /></g><g class=b><circle cy=699.5 /><circle cy=592.4 /></g><g class=o><circle cy=734.4 /><circle cy=773.5 /><circle cy=743.2 /><circle cy=723.7 /><circle cy=647.9 /><circle cy=696.2 /></g><g class=b><circle cy=793.8 /></g><g class=o><circle cy=761.4 /><circle cy=668.7 /><circle cy=774.6 /><circle cy=716.4 /><circle cy=637.6 /><circle cy=666.2 /><circle cy=778 /><circle cy=689.1 /><circle cy=627.6 /></g><g class=b><circle cy=898.6 /><circle cy=621.2 /></g><g class=o><circle cy=729.7 /><circle cy=722.5 /><circle cy=682.2 /></g><g class=b><circle cy=573.8 /></g><g class=o><circle cy=800 /></g><g class=b><circle cy=768.2 /><circle cy=568.4 /><circle cy=647 /></g><g class=o><circle cy=800.4 /></g><g class=b><circle cy=642.8 /></g><g class=o><circle cy=865 /><circle cy=813.8 /><circle cy=804.1 /><circle cy=839.7 /><circle cy=762 /></g><g class=b><circle cy=675.5 /></g><g class=o><circle cy=834.2 /></g><g class=b><circle cy=612.7 /><circle cy=456.5 /></g><g class=o><circle cy=685 /></g><g class=b><circle cy=656.4 /><circle cy=682.1 /><circle cy=586.9 /></g><g class=o><circle cy=589.3 /></g><g class=b><circle cy=479.1 /><circle cy=882.5 /><circle cy=456.5 /></g><g class=o><circle cy=804.4 /><circle cy=643.6 /></g></g><g transform="translate(854.4)"><g class=o><circle cy=795.1 /><circle cy=594.4 /><circle cy=835.5 /></g><g class=b><circle cy=659.5 /><circle cy=775.4 /><circle cy=697.4 /></g><g class=o><circle cy=666.1 /></g><g class=b><circle cy=661.8 /></g><g class=o><circle cy=779.2 /><circle cy=395.6 /></g><g class=b><circle cy=806.2 /><circle cy=612.1 /><circle cy=620.7 /><circle cy=585.7 /></g><g class=o><circle cy=671.7 /></g><g class=b><circle cy=887.8 /><circle cy=709.1 /><circle cy=691.5 /></g><g class=o><circle cy=549.3 /><circle cy=766.8 /><circle cy=720.8 /><circle cy=706.1 /></g><g class=b><circle cy=718.1 /></g><g class=o><circle cy=554.3 /></g><g class=b><circle cy=610.5 /></g><g class=o><circle cy=720.1 /></g><g class=b><circle cy=588.3 /></g><g class=o><circle cy=713.8 /><circle cy=674.5 /></g><g class=b><circle cy=709.6 /><circle cy=693.8 /></g><g class=o><circle cy=735.1 /><circle cy=582.5 /><circle cy=670.4 /><circle cy=734.7 /><circle cy=670.2 /><circle cy=712.3 /><circle cy=682.3 /></g><g class=b><circle cy=569.6 /></g><g class=o><circle cy=723.9 /></g><g class=b><circle cy=801.4 /></g><g class=o><circle cy=827.3 /><circle cy=672.1 /><circle cy=788.5 /><circle cy=805.9 /><circle cy=902.1 /></g><g class=b><circle cy=652.6 /><circle cy=706.7 /><circle cy=673.6 /><circle cy=674.7 /><circle cy=714.6 /><circle cy=685.7 /></g></g><g transform="translate(864.3)"><g class=o><circle cy=666.4 /><circle cy=813.4 /></g><g class=b><circle cy=707.6 /><circle cy=667 /><circle cy=628.8 /><circle cy=779.5 /><circle cy=815.9 /></g><g class=o><circle cy=586.2 /></g><g class=b><circle cy=677.9 /></g><g class=o><circle cy=607.6 /></g><g class=b><circle cy=645.4 /></g><g class=o><circle cy=759.2 /><circle cy=771.7 /><circle cy=773.1 /><circle cy=711.2 /><circle cy=554.3 /><circle cy=395.6 /><circle cy=821.9 /></g><g class=b><circle cy=580.2 /><circle cy=662.8 /></g><g class=o><circle cy=630.4 /><circle cy=948.8 /></g><g class=b><circle cy=531.6 /><circle cy=569.9 /><circle cy=728 /><circle cy=521.7 /></g><g class=o><circle cy=643.4 /></g><g class=b><circle cy=605.8 /><circle cy=621.6 /><circle cy=592.2 /><circle cy=622.2 /><circle cy=708.7 /><circle cy=691.5 /><circle cy=680.7 /><circle cy=660.3 /><circle cy=622.1 /></g><g class=o><circle cy=778.3 /><circle cy=847.7 /></g><g class=b><circle cy=681.5 /><circle cy=599.7 /></g><g class=o><circle cy=806.3 /><circle cy=731.8 /></g><g class=b><circle cy=577.9 /><circle cy=673.1 /></g><g class=o><circle cy=633.6 /></g><g class=b><circle cy=577.7 /></g><g class=o><circle cy=771.4 /><circle cy=731.8 /><circle cy=659.7 /><circle cy=761.5 /><circle cy=690.5 /></g><g class=b><circle cy=789.8 /></g><g class=o><circle cy=678.5 /><circle cy=796.9 /><circle cy=910.1 /></g><g class=b><circle cy=762.1 /><circle cy=652.6 /><circle cy=716.3 /><circle cy=605.8 /></g><g class=o><circle cy=610.7 /><circle cy=682.9 /><circle cy=848 /></g><g class=b><circle cy=759 /><circle cy=620.6 /><circle cy=792.6 /></g><g class=o><circle cy=545.9 /><circle cy=741.3 /><circle cy=762.1 /><circle cy=697.1 /><circle cy=678.2 /><circle cy=649.5 /></g></g><g transform="translate(874.3)"><g class=o><circle cy=732.9 /><circle cy=749 /><circle cy=686.3 /></g><g class=b><circle cy=640.4 /><circle cy=475.9 /></g><g class=o><circle cy=816.1 /></g><g class=b><circle cy=597.8 /></g><g class=o><circle cy=773.7 /><circle cy=590.9 /><circle cy=672.5 /><circle cy=845 /><circle cy=667.3 /></g><g class=b><circle cy=541.2 /></g><g class=o><circle cy=897 /></g><g class=b><circle cy=510.5 /></g><g class=o><circle cy=654.7 /><circle cy=722.3 /><circle cy=774.6 /><circle cy=712.5 /><circle cy=613.6 /></g><g class=b><circle cy=778.3 /></g><g class=o><circle cy=873.3 /><circle cy=555.3 /></g><g class=b><circle cy=792.7 /></g><g class=o><circle cy=809.9 /><circle cy=696 /></g><g class=b><circle cy=570.3 /><circle cy=596.5 /><circle cy=610.2 /></g><g class=o><circle cy=836.4 /><circle cy=766.2 /></g><g class=b><circle cy=638.9 /><circle cy=731.9 /><circle cy=610.5 /></g><g class=o><circle cy=536.5 /><circle cy=638.5 /><circle cy=812.1 /><circle cy=575.9 /><circle cy=651.3 /><circle cy=780.2 /></g><g class=b><circle cy=694.1 /><circle cy=558.4 /></g><g class=o><circle cy=759.4 /><circle cy=772.3 /><circle cy=849.1 /><circle cy=722.1 /></g><g class=b><circle cy=871.9 /></g><g class=o><circle cy=714.1 /></g><g class=b><circle cy=617.6 /><circle cy=581.9 /></g><g class=o><circle cy=684.3 /><circle cy=785.1 /></g><g class=b><circle cy=772.5 /></g><g class=o><circle cy=395.6 /><circle cy=720.5 /><circle cy=783.4 /></g><g class=b><circle cy=632 /><circle cy=593.5 /></g><g class=o><circle cy=672 /></g><g class=b><circle cy=637.3 /></g></g><g transform="translate(884.2)"><g class=b><circle cy=627.7 /></g><g class=o><circle cy=841.3 /></g><g class=b><circle cy=633.9 /><circle cy=594.9 /><circle cy=549.1 /></g><g class=o><circle cy=876.6 /></g><g class=b><circle cy=571.7 /></g><g class=o><circle cy=652.7 /><circle cy=782.9 /><circle cy=710.1 /><circle cy=759.8 /></g><g class=b><circle cy=642.9 /><circle cy=591.6 /><circle cy=582.1 /></g><g class=o><circle cy=815.5 /></g><g class=b><circle cy=570.8 /><circle cy=781.4 /></g><g class=o><circle cy=752.4 /></g><g class=b><circle cy=528.7 /><circle cy=590.4 /><circle cy=709.2 /></g><g class=o><circle cy=818.5 /><circle cy=656.2 /><circle cy=926.1 /><circle cy=714.2 /><circle cy=689.5 /></g><g class=b><circle cy=784.7 /><circle cy=793 /><circle cy=627.5 /></g><g class=o><circle cy=727.2 /><circle cy=670.2 /><circle cy=722 /><circle cy=651.3 /><circle cy=747.3 /></g><g class=b><circle cy=719.8 /><circle cy=568.7 /></g><g class=o><circle cy=718.4 /><circle cy=826.2 /><circle cy=701.9 /><circle cy=756.5 /></g><g class=b><circle cy=587.8 /><circle cy=678 /><circle cy=693.6 /></g><g class=o><circle cy=659.6 /><circle cy=737 /><circle cy=782.6 /><circle cy=713.9 /></g><g class=b><circle cy=698.7 /><circle cy=612.3 /></g><g class=o><circle cy=394.4 /><circle cy=695.1 /><circle cy=787.2 /><circle cy=814.4 /><circle cy=628.7 /></g><g class=b><circle cy=570.3 /></g><g class=o><circle cy=810.9 /><circle cy=747.3 /></g></g><g transform="translate(894.1)"><g class=b><circle cy=818.8 /></g><g class=o><circle cy=910.1 /><circle cy=703.8 /><circle cy=706.5 /><circle cy=806.1 /><circle cy=591.3 /><circle cy=754.5 /></g><g class=b><circle cy=616.8 /><circle cy=574.2 /></g><g class=o><circle cy=840.4 /></g><g class=b><circle cy=712.1 /><circle cy=600 /></g><g class=o><circle cy=838.5 /></g><g class=b><circle cy=611.9 /></g><g class=o><circle cy=540.8 /><circle cy=859.7 /></g><g class=b><circle cy=634.4 /><circle cy=642.1 /></g><g class=o><circle cy=683.5 /><circle cy=735.1 /><circle cy=720.9 /></g><g class=b><circle cy=607.5 /></g><g class=o><circle cy=641.1 /></g><g class=b><circle cy=579.4 /></g><g class=o><circle cy=648.5 /><circle cy=590.1 /><circle cy=663.6 /><circle cy=656.4 /></g><g class=b><circle cy=716.3 /></g><g class=o><circle cy=907.2 /></g><g class=b><circle cy=758 /></g><g class=o><circle cy=920.8 /></g><g class=b><circle cy=964.2 /></g><g class=o><circle cy=710.4 /></g><g class=b><circle cy=524.1 /><circle cy=607.3 /></g><g class=o><circle cy=606.7 /></g><g class=b><circle cy=1012.8 /><circle cy=964.3 /></g><g class=o><circle cy=600 /></g><g class=b><circle cy=614.5 /></g><g class=o><circle cy=683.9 /><circle cy=699.2 /></g><g class=b><circle cy=539.7 /><circle cy=649.9 /></g><g class=o><circle cy=681.9 /><circle cy=737.8 /><circle cy=659.6 /><circle cy=637.2 /></g><g class=b><circle cy=571.6 /><circle cy=832.6 /><circle cy=769.1 /></g><g class=o><circle cy=753.7 /></g><g class=b><circle cy=742.8 /></g><g class=o><circle cy=720.1 /></g><g class=b><circle cy=670.6 /><circle cy=625.3 /></g><g class=o><circle cy=674.4 /></g><g class=b><circle cy=694.2 /></g><g class=o><circle cy=814.5 /></g></g><g transform="translate(904)"><g class=o><circle cy=655.9 /></g><g class=b><circle cy=787.2 /></g><g class=o><circle cy=741.1 /><circle cy=734 /></g><g class=b><circle cy=700.8 /><circle cy=698.7 /></g><g class=o><circle cy=663.2 /><circle cy=599.1 /><circle cy=577.6 /></g><g class=b><circle cy=607 /><circle cy=613.4 /></g><g class=o><circle cy=758.9 /></g><g class=b><circle cy=795.3 /><circle cy=666.5 /><circle cy=562.9 /><circle cy=620.4 /><circle cy=676.3 /></g><g class=o><circle cy=759.9 /><circle cy=646.9 /></g><g class=b><circle cy=679 /></g><g class=o><circle cy=676.7 /><circle cy=918.2 /></g><g class=b><circle cy=575.7 /><circle cy=612.4 /></g><g class=o><circle cy=707.4 /><circle cy=734 /><circle cy=751 /><circle cy=725 /><circle cy=656.8 /><circle cy=805.5 /><circle cy=646.8 /></g><g class=b><circle cy=726.9 /><circle cy=578.8 /></g><g class=o><circle cy=702.7 /><circle cy=830.7 /><circle cy=710.4 /></g><g class=b><circle cy=608.2 /><circle cy=583.1 /><circle cy=812.4 /></g><g class=o><circle cy=685.6 /></g><g class=b><circle cy=748.6 /></g><g class=o><circle cy=666 /></g><g class=b><circle cy=676.4 /><circle cy=656.1 /><circle cy=551.8 /><circle cy=717.5 /><circle cy=749.3 /><circle cy=655.5 /><circle cy=634.3 /><circle cy=521 /><circle cy=787.3 /></g><g class=o><circle cy=854.3 /></g><g class=b><circle cy=799.8 /></g><g class=o><circle cy=799.7 /></g></g><g transform="translate(914)"><g class=o><circle cy=729.5 /><circle cy=751.9 /><circle cy=679 /><circle cy=750.2 /><circle cy=690.6 /></g><g class=b><circle cy=694.6 /></g><g class=o><circle cy=707 /></g><g class=b><circle cy=556.2 /></g><g class=o><circle cy=600.3 /></g><g class=b><circle cy=797.3 /><circle cy=699.5 /><circle cy=584.2 /><circle cy=614.6 /></g><g class=o><circle cy=805.3 /><circle cy=834.2 /><circle cy=809.6 /><circle cy=539.9 /><circle cy=925 /></g><g class=b><circle cy=664.8 /></g><g class=o><circle cy=791.4 /><circle cy=645.5 /><circle cy=370.3 /><circle cy=693.4 /></g><g class=b><circle cy=602.1 /><circle cy=615.9 /></g><g class=o><circle cy=684.7 /><circle cy=643.2 /></g><g class=b><circle cy=710.1 /></g><g class=o><circle cy=854.1 /><circle cy=644.6 /></g><g class=b><circle cy=561.5 /></g><g class=o><circle cy=769.9 /></g><g class=b><circle cy=620.4 /><circle cy=580.2 /><circle cy=649.5 /></g><g class=o><circle cy=547 /><circle cy=779.6 /><circle cy=794.2 /><circle cy=703.2 /></g><g class=b><circle cy=628 /><circle cy=512.3 /></g><g class=o><circle cy=752 /><circle cy=805.6 /></g><g class=b><circle cy=655.4 /></g><g class=o><circle cy=676.4 /><circle cy=833.6 /><circle cy=680.8 /></g><g class=b><circle cy=595.2 /></g><g class=o><circle cy=666.5 /></g><g class=b><circle cy=729.5 /><circle cy=684.8 /></g></g><g transform="translate(923.9)"><g class=b><circle cy=612.5 /></g><g class=o><circle cy=853.9 /><circle cy=540 /><circle cy=649.1 /><circle cy=865.7 /><circle cy=685.7 /><circle cy=716.8 /><circle cy=371.6 /><circle cy=781.4 /><circle cy=830.8 /><circle cy=811.3 /><circle cy=737.6 /></g><g class=b><circle cy=776.3 /><circle cy=623.5 /><circle cy=519.2 /></g><g class=o><circle cy=829.1 /><circle cy=689.3 /></g><g class=b><circle cy=622.4 /></g><g class=o><circle cy=661.5 /></g><g class=b><circle cy=688.7 /><circle cy=515.7 /><circle cy=589.7 /><circle cy=655.7 /></g><g class=o><circle cy=764.7 /><circle cy=619.2 /></g><g class=b><circle cy=716.8 /><circle cy=709.6 /></g><g class=o><circle cy=719.2 /><circle cy=694 /></g><g class=b><circle cy=647.7 /><circle cy=797.8 /></g><g class=o><circle cy=800.9 /></g><g class=b><circle cy=722.7 /><circle cy=697.2 /><circle cy=609.9 /></g><g class=o><circle cy=754 /></g><g class=b><circle cy=806.6 /><circle cy=613.5 /></g><g class=o><circle cy=821.6 /><circle cy=849.8 /></g><g class=b><circle cy=627.3 /></g><g class=o><circle cy=760 /></g><g class=b><circle cy=580.6 /><circle cy=595.7 /></g><g class=o><circle cy=687.8 /><circle cy=653 /><circle cy=677.9 /><circle cy=751.9 /></g><g class=b><circle cy=805.8 /></g><g class=o><circle cy=758 /></g><g class=b><circle cy=605 /></g><g class=o><circle cy=597.8 /><circle cy=805.5 /></g><g class=b><circle cy=615.8 /><circle cy=539.5 /><circle cy=793.8 /></g><g class=o><circle cy=630.9 /></g></g><g transform="translate(933.8)"><g class=o><circle cy=849.6 /><circle cy=835.5 /><circle cy=676.8 /><circle cy=650.5 /></g><g class=b><circle cy=810.3 /><circle cy=704.3 /><circle cy=724.9 /><circle cy=792.3 /><circle cy=580.1 /><circle cy=707.4 /><circle cy=587.2 /><circle cy=689.3 /></g><g class=o><circle cy=866.1 /><circle cy=682.2 /><circle cy=672.3 /></g><g class=b><circle cy=664.5 /><circle cy=571.1 /></g><g class=o><circle cy=612.8 /><circle cy=875.5 /></g><g class=b><circle cy=612.6 /></g><g class=o><circle cy=803 /></g><g class=b><circle cy=680.4 /><circle cy=781.5 /><circle cy=763.3 /><circle cy=545.2 /></g><g class=o><circle cy=770.7 /></g><g class=b><circle cy=602.2 /></g><g class=o><circle cy=678.4 /><circle cy=688.9 /><circle cy=769.6 /><circle cy=771.3 /><circle cy=744.5 /></g><g class=b><circle cy=522.6 /></g><g class=o><circle cy=638.6 /></g><g class=b><circle cy=659.4 /><circle cy=710.7 /><circle cy=502.5 /></g><g class=o><circle cy=838.4 /><circle cy=348.3 /><circle cy=640.1 /><circle cy=544.4 /></g><g class=b><circle cy=646 /><circle cy=915.4 /></g><g class=o><circle cy=770.3 /></g><g class=b><circle cy=708.1 /><circle cy=596.9 /><circle cy=850.1 /></g><g class=o><circle cy=855.5 /></g><g class=b><circle cy=575.6 /><circle cy=863.8 /></g><g class=o><circle cy=625.5 /></g><g class=b><circle cy=697.9 /></g><g class=o><circle cy=732.8 /></g><g class=b><circle cy=602.9 /></g><g class=o><circle cy=831.5 /></g></g><g transform="translate(943.8)"><g class=b><circle cy=573.8 /><circle cy=574.5 /></g><g class=o><circle cy=776 /></g><g class=b><circle cy=706.2 /></g><g class=o><circle cy=678.2 /></g><g class=b><circle cy=571.4 /></g><g class=o><circle cy=546.7 /></g><g class=b><circle cy=769.4 /><circle cy=700.5 /><circle cy=812.7 /><circle cy=864.4 /><circle cy=671.6 /><circle cy=580.4 /><circle cy=647.1 /></g><g class=o><circle cy=828.3 /><circle cy=691.2 /></g><g class=b><circle cy=661.2 /><circle cy=691.3 /></g><g class=o><circle cy=693.3 /><circle cy=681.2 /></g><g class=b><circle cy=618.2 /><circle cy=722.4 /></g><g class=o><circle cy=854.9 /><circle cy=958 /><circle cy=690.9 /><circle cy=827.2 /><circle cy=690 /></g><g class=b><circle cy=632.5 /></g><g class=o><circle cy=738.8 /><circle cy=785.6 /><circle cy=629.6 /><circle cy=808.5 /><circle cy=679 /><circle cy=831.3 /><circle cy=706.7 /></g><g class=b><circle cy=690.3 /><circle cy=648.3 /><circle cy=485.4 /></g><g class=o><circle cy=541.6 /><circle cy=785.3 /><circle cy=695.4 /><circle cy=704.8 /><circle cy=684 /></g><g class=b><circle cy=559.5 /></g><g class=o><circle cy=883.8 /></g><g class=b><circle cy=568.9 /><circle cy=671.4 /></g></g><g transform="translate(953.7)"><g class=o><circle cy=730.1 /><circle cy=678.9 /></g><g class=b><circle cy=727 /></g><g class=o><circle cy=703.3 /><circle cy=746.6 /></g><g class=b><circle cy=549.6 /></g><g class=o><circle cy=837.6 /><circle cy=780.8 /><circle cy=747.5 /><circle cy=706.8 /><circle cy=761.3 /><circle cy=895.7 /></g><g class=b><circle cy=673.8 /></g><g class=o><circle cy=680.2 /></g><g class=b><circle cy=598.9 /><circle cy=813.2 /></g><g class=o><circle cy=549.4 /></g><g class=b><circle cy=712.8 /></g><g class=o><circle cy=950.1 /></g><g class=b><circle cy=515.5 /></g><g class=o><circle cy=835.4 /></g><g class=b><circle cy=813.6 /><circle cy=781.7 /><circle cy=614.7 /></g><g class=o><circle cy=772.8 /></g><g class=b><circle cy=733.7 /><circle cy=642.1 /></g><g class=o><circle cy=703.2 /><circle cy=711.6 /></g><g class=b><circle cy=758.2 /><circle cy=819.1 /></g><g class=o><circle cy=688.5 /></g><g class=b><circle cy=709.5 /></g><g class=o><circle cy=723.2 /></g><g class=b><circle cy=456.8 /></g><g class=o><circle cy=875.2 /></g><g class=b><circle cy=497.9 /><circle cy=684.6 /><circle cy=497.9 /></g><g class=o><circle cy=685.7 /><circle cy=737.2 /><circle cy=724 /><circle cy=695.8 /><circle cy=840.3 /><circle cy=601.3 /></g><g class=b><circle cy=634.4 /></g><g class=o><circle cy=697.8 /><circle cy=675.6 /></g><g class=b><circle cy=511.7 /></g><g class=o><circle cy=661.5 /><circle cy=868.8 /></g><g class=b><circle cy=806.9 /></g><g class=o><circle cy=777.3 /><circle cy=667.7 /></g><g class=b><circle cy=593.6 /><circle cy=593.8 /></g><g class=o><circle cy=829.1 /><circle cy=610 /><circle cy=777.3 /><circle cy=694.8 /><circle cy=848.2 /><circle cy=703.8 /><circle cy=364 /></g></g><g transform="translate(963.6)"><g class=o><circle cy=553.9 /><circle cy=797.2 /><circle cy=914.2 /><circle cy=699.9 /><circle cy=679.5 /></g><g class=b><circle cy=737 /><circle cy=787.7 /><circle cy=702.2 /><circle cy=827.2 /><circle cy=582.1 /></g><g class=o><circle cy=704 /></g><g class=b><circle cy=642.1 /><circle cy=587.4 /></g><g class=o><circle cy=624 /></g><g class=b><circle cy=874 /><circle cy=623.1 /><circle cy=713.5 /></g><g class=o><circle cy=818.3 /></g><g class=b><circle cy=607.8 /><circle cy=514.7 /><circle cy=672.7 /><circle cy=734.7 /></g><g class=o><circle cy=694.7 /><circle cy=726.4 /><circle cy=759.7 /><circle cy=587.9 /><circle cy=852.5 /><circle cy=963.3 /></g><g class=b><circle cy=835 /></g><g class=o><circle cy=354.1 /><circle cy=651.8 /><circle cy=606.2 /><circle cy=743.5 /></g><g class=b><circle cy=587.8 /></g><g class=o><circle cy=732.3 /><circle cy=760.3 /></g><g class=b><circle cy=611.5 /></g><g class=o><circle cy=773.1 /></g><g class=b><circle cy=756.3 /><circle cy=817.3 /><circle cy=648.4 /></g><g class=o><circle cy=691.9 /><circle cy=643.1 /><circle cy=773.7 /></g><g class=b><circle cy=561.6 /><circle cy=689.6 /></g><g class=o><circle cy=711.1 /><circle cy=776.8 /><circle cy=846.7 /><circle cy=934.6 /></g><g class=b><circle cy=658.3 /></g><g class=o><circle cy=794.5 /></g><g class=b><circle cy=613.4 /><circle cy=494.8 /></g><g class=o><circle cy=705.1 /></g><g class=b><circle cy=566.5 /></g></g><g transform="translate(973.5)"><g class=b><circle cy=540.9 /><circle cy=507.6 /></g><g class=o><circle cy=717.1 /><circle cy=695.6 /><circle cy=839.7 /><circle cy=587 /><circle cy=660.3 /><circle cy=667.8 /></g><g class=b><circle cy=639.8 /><circle cy=714.1 /></g><g class=o><circle cy=921.8 /><circle cy=771.8 /><circle cy=831.1 /><circle cy=822.4 /><circle cy=823.1 /></g><g class=b><circle cy=804.8 /></g><g class=o><circle cy=855.3 /></g><g class=b><circle cy=738.1 /></g><g class=o><circle cy=770.6 /><circle cy=955.2 /></g><g class=b><circle cy=646.9 /></g><g class=o><circle cy=701.7 /><circle cy=696.4 /></g><g class=b><circle cy=583.2 /><circle cy=885.7 /></g><g class=o><circle cy=685.9 /><circle cy=787.2 /></g><g class=b><circle cy=591.1 /></g><g class=o><circle cy=746.1 /><circle cy=873.2 /></g><g class=b><circle cy=588.8 /></g><g class=o><circle cy=607.7 /><circle cy=701.4 /><circle cy=747.3 /></g><g class=b><circle cy=807.2 /><circle cy=679 /></g><g class=o><circle cy=750.2 /></g><g class=b><circle cy=731 /></g><g class=o><circle cy=759.4 /></g><g class=b><circle cy=834.9 /></g><g class=o><circle cy=836.1 /></g><g class=b><circle cy=797.8 /></g><g class=o><circle cy=849.9 /></g><g class=b><circle cy=635.8 /></g><g class=o><circle cy=658.7 /></g><g class=b><circle cy=845.3 /></g><g class=o><circle cy=867.5 /><circle cy=692.9 /><circle cy=754.7 /><circle cy=848.5 /><circle cy=738.9 /><circle cy=664.9 /><circle cy=754.7 /><circle cy=688.1 /></g></g><g transform="translate(983.5)"><g class=o><circle cy=765.2 /></g><g class=b><circle cy=590.1 /></g><g class=o><circle cy=787.1 /></g><g class=b><circle cy=570.5 /></g><g class=o><circle cy=569.6 /><circle cy=915.5 /><circle cy=742.4 /><circle cy=854.4 /><circle cy=686.1 /></g><g class=b><circle cy=716.5 /><circle cy=575 /><circle cy=599.2 /><circle cy=607 /></g><g class=o><circle cy=845.5 /><circle cy=780.5 /></g><g class=b><circle cy=686 /></g><g class=o><circle cy=690.1 /></g><g class=b><circle cy=700.2 /></g><g class=o><circle cy=644.1 /><circle cy=635.2 /></g><g class=b><circle cy=508.7 /></g><g class=o><circle cy=722.6 /></g><g class=b><circle cy=624 /><circle cy=653.6 /></g><g class=o><circle cy=781.1 /><circle cy=548.3 /></g><g class=b><circle cy=535.6 /><circle cy=524.4 /><circle cy=507.6 /><circle cy=748.7 /><circle cy=840.3 /></g><g class=o><circle cy=698.7 /><circle cy=708.1 /></g><g class=b><circle cy=719.7 /><circle cy=790.5 /></g><g class=o><circle cy=886.6 /></g><g class=b><circle cy=620.2 /></g><g class=o><circle cy=955.8 /></g><g class=b><circle cy=632.2 /><circle cy=596.6 /><circle cy=748.9 /><circle cy=653.2 /><circle cy=594 /></g><g class=o><circle cy=766.2 /></g><g class=b><circle cy=761 /></g><g class=o><circle cy=703.8 /><circle cy=702.2 /></g><g class=b><circle cy=797 /></g><g class=o><circle cy=768.1 /><circle cy=663.7 /><circle cy=696.8 /></g><g class=b><circle cy=591.3 /></g><g class=o><circle cy=708 /></g><g class=b><circle cy=542.5 /></g><g class=o><circle cy=672.5 /><circle cy=688.7 /></g></g><g transform="translate(993.4)"><g class=b><circle cy=799.1 /><circle cy=580.9 /></g><g class=o><circle cy=639.2 /><circle cy=653.6 /><circle cy=589.6 /></g><g class=b><circle cy=675.3 /></g><g class=o><circle cy=652.9 /><circle cy=738.2 /><circle cy=769.3 /><circle cy=926.1 /><circle cy=677.2 /></g><g class=b><circle cy=561.3 /></g><g class=o><circle cy=742.7 /></g><g class=b><circle cy=476.2 /><circle cy=600.6 /><circle cy=751.7 /></g><g class=o><circle cy=714.4 /></g><g class=b><circle cy=607.4 /></g><g class=o><circle cy=697.9 /></g><g class=b><circle cy=632.1 /></g><g class=o><circle cy=682.5 /><circle cy=704.9 /><circle cy=633.3 /></g><g class=b><circle cy=704.2 /></g><g class=o><circle cy=859.5 /><circle cy=651.9 /><circle cy=548.7 /></g><g class=b><circle cy=625.9 /><circle cy=644.2 /><circle cy=725.4 /><circle cy=576 /><circle cy=704.8 /></g><g class=o><circle cy=547.8 /><circle cy=693.1 /></g><g class=b><circle cy=653.1 /></g><g class=o><circle cy=653.5 /><circle cy=786.1 /><circle cy=709 /></g><g class=b><circle cy=545.6 /><circle cy=848.5 /><circle cy=642.9 /></g><g class=o><circle cy=961.6 /><circle cy=736.8 /><circle cy=880.3 /><circle cy=716.4 /><circle cy=858.9 /><circle cy=890 /></g><g class=b><circle cy=664.9 /><circle cy=669.8 /><circle cy=774 /></g><g class=o><circle cy=680.8 /><circle cy=346.3 /></g><g class=b><circle cy=476.2 /></g><g class=o><circle cy=706.9 /></g><g class=b><circle cy=702.5 /><circle cy=766 /><circle cy=619.2 /><circle cy=599.9 /></g></g><g transform="translate(1003.3)"><g class=o><circle cy=681.8 /><circle cy=974.7 /><circle cy=739.9 /></g><g class=b><circle cy=856.7 /></g><g class=o><circle cy=564.4 /></g><g class=b><circle cy=578.1 /><circle cy=492.6 /><circle cy=758.1 /></g><g class=o><circle cy=864.7 /><circle cy=722.6 /><circle cy=674.2 /><circle cy=634.4 /><circle cy=695.8 /><circle cy=734 /></g><g class=b><circle cy=609.5 /><circle cy=720.8 /><circle cy=681.7 /></g><g class=o><circle cy=663.6 /></g><g class=b><circle cy=589.6 /><circle cy=715.3 /></g><g class=o><circle cy=859 /><circle cy=751.4 /></g><g class=b><circle cy=801.3 /><circle cy=807.3 /><circle cy=626.7 /><circle cy=591 /></g><g class=o><circle cy=677.2 /><circle cy=764.8 /></g><g class=b><circle cy=780.3 /><circle cy=750.8 /></g><g class=o><circle cy=757.3 /><circle cy=737.7 /><circle cy=836.9 /><circle cy=359.2 /></g><g class=b><circle cy=585 /><circle cy=651.2 /><circle cy=672.8 /><circle cy=601.6 /></g><g class=o><circle cy=705.8 /><circle cy=709.1 /><circle cy=757.6 /></g><g class=b><circle cy=818.7 /><circle cy=604.6 /></g><g class=o><circle cy=854.3 /><circle cy=764.8 /></g><g class=b><circle cy=615.2 /></g><g class=o><circle cy=785.7 /><circle cy=631.9 /><circle cy=699.7 /><circle cy=711.6 /></g><g class=b><circle cy=737.2 /></g><g class=o><circle cy=720.5 /></g><g class=b><circle cy=581.9 /><circle cy=704.6 /></g><g class=o><circle cy=776 /></g><g class=b><circle cy=630.9 /></g></g><g transform="translate(1013.3)"><g class=b><circle cy=570.2 /></g><g class=o><circle cy=874.6 /><circle cy=658 /><circle cy=689.4 /><circle cy=725.1 /><circle cy=550.7 /><circle cy=709.5 /><circle cy=816.1 /><circle cy=849.7 /><circle cy=342 /><circle cy=689.9 /><circle cy=667.5 /><circle cy=702.8 /><circle cy=680.7 /></g><g class=b><circle cy=649.2 /><circle cy=578.1 /><circle cy=494.8 /><circle cy=596.2 /><circle cy=735.7 /><circle cy=814.2 /><circle cy=679.2 /><circle cy=634.7 /></g><g class=o><circle cy=749.3 /></g><g class=b><circle cy=722.1 /></g><g class=o><circle cy=568.7 /><circle cy=715.1 /></g><g class=b><circle cy=583.5 /><circle cy=690.4 /></g><g class=o><circle cy=873.4 /><circle cy=671 /><circle cy=766.8 /></g><g class=b><circle cy=797.3 /></g><g class=o><circle cy=847.7 /></g><g class=b><circle cy=473.1 /><circle cy=834.3 /><circle cy=551.7 /><circle cy=592.2 /></g><g class=o><circle cy=738.7 /><circle cy=761.7 /></g><g class=b><circle cy=576.9 /></g><g class=o><circle cy=684.1 /></g><g class=b><circle cy=715.2 /></g><g class=o><circle cy=640.8 /></g><g class=b><circle cy=674.1 /></g><g class=o><circle cy=694.8 /><circle cy=630 /></g><g class=b><circle cy=673.6 /></g><g class=o><circle cy=688.8 /><circle cy=737.6 /><circle cy=736.4 /><circle cy=987.6 /><circle cy=855.3 /><circle cy=734.5 /><circle cy=637.2 /></g><g class=b><circle cy=785.8 /></g><g class=o><circle cy=696.2 /><circle cy=719.8 /></g><g class=b><circle cy=601.2 /></g><g class=o><circle cy=798.8 /><circle cy=742.2 /><circle cy=768.9 /><circle cy=704.4 /></g></g><g transform="translate(1023.2)"><g class=o><circle cy=862.3 /></g><g class=b><circle cy=582.8 /></g><g class=o><circle cy=688.3 /></g><g class=b><circle cy=566.9 /><circle cy=815 /></g><g class=o><circle cy=699.4 /></g><g class=b><circle cy=617.9 /></g><g class=o><circle cy=749.9 /><circle cy=833.8 /></g><g class=b><circle cy=705.4 /></g><g class=o><circle cy=543.2 /><circle cy=567.3 /><circle cy=841.4 /></g><g class=b><circle cy=712.6 /><circle cy=524.4 /><circle cy=757.5 /></g><g class=o><circle cy=872.2 /></g><g class=b><circle cy=739.8 /></g><g class=o><circle cy=808.8 /></g><g class=b><circle cy=851.9 /></g><g class=o><circle cy=783.7 /></g><g class=b><circle cy=729.4 /></g><g class=o><circle cy=755.3 /><circle cy=695 /><circle cy=781.9 /></g><g class=b><circle cy=586.9 /><circle cy=807.3 /></g><g class=o><circle cy=640.3 /><circle cy=979.6 /></g><g class=b><circle cy=729 /></g><g class=o><circle cy=673.1 /><circle cy=861 /><circle cy=702.2 /><circle cy=704.4 /><circle cy=865.4 /><circle cy=732.8 /></g><g class=b><circle cy=642.4 /><circle cy=512.3 /><circle cy=524.6 /><circle cy=665.7 /><circle cy=581.9 /></g><g class=o><circle cy=752.4 /></g><g class=b><circle cy=541.8 /></g><g class=o><circle cy=784.3 /><circle cy=348.8 /><circle cy=856.7 /><circle cy=698.3 /></g><g class=b><circle cy=616.7 /><circle cy=599.9 /><circle cy=691.4 /><circle cy=690.4 /></g><g class=o><circle cy=778.4 /></g><g class=b><circle cy=582.5 /></g><g class=o><circle cy=851.9 /><circle cy=743.5 /></g><g class=b><circle cy=735.8 /></g></g><g transform="translate(1033.1)"><g class=o><circle cy=727.2 /><circle cy=803.7 /><circle cy=690.8 /></g><g class=b><circle cy=592.3 /></g><g class=o><circle cy=713 /><circle cy=740 /><circle cy=635.4 /><circle cy=676.3 /></g><g class=b><circle cy=781.4 /><circle cy=517.5 /><circle cy=810.4 /></g><g class=o><circle cy=627.3 /></g><g class=b><circle cy=778.1 /></g><g class=o><circle cy=983.6 /><circle cy=867.1 /><circle cy=746.2 /><circle cy=754.9 /></g><g class=b><circle cy=650.9 /><circle cy=630.2 /></g><g class=o><circle cy=862.5 /><circle cy=691.8 /><circle cy=831.2 /></g><g class=b><circle cy=578.6 /></g><g class=o><circle cy=865.6 /><circle cy=763.3 /></g><g class=b><circle cy=651.6 /><circle cy=635.1 /><circle cy=712.7 /><circle cy=620 /><circle cy=547.2 /></g><g class=o><circle cy=617.1 /></g><g class=b><circle cy=729 /><circle cy=714.4 /></g><g class=o><circle cy=682.7 /><circle cy=867.9 /><circle cy=701.8 /><circle cy=798.4 /></g><g class=b><circle cy=585 /></g><g class=o><circle cy=752.2 /><circle cy=680.4 /><circle cy=701.9 /><circle cy=734 /></g><g class=b><circle cy=698.7 /></g><g class=o><circle cy=712.8 /></g><g class=b><circle cy=835.4 /></g><g class=o><circle cy=588.4 /></g><g class=b><circle cy=577.8 /></g><g class=o><circle cy=536.4 /><circle cy=737.6 /></g><g class=b><circle cy=693.6 /></g><g class=o><circle cy=710.6 /><circle cy=340.2 /><circle cy=652.9 /><circle cy=848.7 /></g><g class=b><circle cy=632.3 /></g></g><g transform="translate(1043.1)"><g class=o><circle cy=727.1 /><circle cy=754.7 /><circle cy=642.1 /><circle cy=883.9 /><circle cy=791 /><circle cy=741.2 /><circle cy=619.4 /><circle cy=726.2 /><circle cy=988.5 /></g><g class=b><circle cy=653.8 /></g><g class=o><circle cy=555.7 /></g><g class=b><circle cy=584.9 /></g><g class=o><circle cy=834 /></g><g class=b><circle cy=846.7 /><circle cy=715.4 /><circle cy=840.1 /></g><g class=o><circle cy=696.9 /></g><g class=b><circle cy=693.1 /><circle cy=549.3 /><circle cy=828.9 /></g><g class=o><circle cy=734.2 /><circle cy=663.2 /></g><g class=b><circle cy=470.6 /></g><g class=o><circle cy=867.4 /><circle cy=783.5 /></g><g class=b><circle cy=619 /></g><g class=o><circle cy=647.5 /></g><g class=b><circle cy=514.5 /><circle cy=717.6 /></g><g class=o><circle cy=766.1 /><circle cy=883 /><circle cy=692.1 /></g><g class=b><circle cy=583.7 /></g><g class=o><circle cy=727.3 /></g><g class=b><circle cy=554.7 /></g><g class=o><circle cy=724.5 /></g><g class=b><circle cy=762.6 /><circle cy=507.3 /></g><g class=o><circle cy=660.8 /></g><g class=b><circle cy=446.4 /><circle cy=533.7 /></g><g class=o><circle cy=553.8 /></g><g class=b><circle cy=565.1 /><circle cy=730.7 /><circle cy=633.1 /></g><g class=o><circle cy=722.8 /><circle cy=714.5 /></g><g class=b><circle cy=808.4 /><circle cy=601.5 /></g><g class=o><circle cy=682.8 /></g></g><g transform="translate(1053)"><g class=o><circle cy=694.7 /><circle cy=861.7 /></g><g class=b><circle cy=764.5 /><circle cy=591.4 /><circle cy=857.4 /></g><g class=o><circle cy=767.7 /><circle cy=790 /></g><g class=b><circle cy=602.6 /><circle cy=710.9 /></g><g class=o><circle cy=702.3 /><circle cy=882.1 /><circle cy=826.5 /><circle cy=667.3 /></g><g class=b><circle cy=585.6 /></g><g class=o><circle cy=852.3 /><circle cy=720.4 /><circle cy=854.1 /><circle cy=836.9 /><circle cy=783.7 /></g><g class=b><circle cy=539.1 /><circle cy=640.6 /></g><g class=o><circle cy=764.5 /><circle cy=748.8 /><circle cy=864.3 /><circle cy=747 /><circle cy=778.4 /></g><g class=b><circle cy=664.1 /><circle cy=588.3 /></g><g class=o><circle cy=630.2 /><circle cy=996.6 /><circle cy=704.4 /><circle cy=654.9 /><circle cy=843.8 /><circle cy=853.5 /></g><g class=b><circle cy=620 /><circle cy=795.3 /><circle cy=569.6 /></g><g class=o><circle cy=740.2 /><circle cy=646.4 /><circle cy=740.8 /><circle cy=742.9 /><circle cy=338.7 /><circle cy=689.2 /></g><g class=b><circle cy=502 /><circle cy=773.1 /></g><g class=o><circle cy=869.3 /><circle cy=720.9 /><circle cy=692.6 /></g><g class=b><circle cy=723.4 /><circle cy=562.6 /></g><g class=o><circle cy=714.2 /></g></g><g transform="translate(1062.9)"><g class=o><circle cy=741.7 /></g><g class=b><circle cy=730.5 /><circle cy=825.7 /></g><g class=o><circle cy=612.6 /></g><g class=b><circle cy=711.8 /></g><g class=o><circle cy=765.1 /><circle cy=743.6 /></g><g class=b><circle cy=551.1 /></g><g class=o><circle cy=736.7 /></g><g class=b><circle cy=694.9 /></g><g class=o><circle cy=766.4 /><circle cy=865.7 /></g><g class=b><circle cy=602.9 /></g><g class=o><circle cy=723.5 /><circle cy=730.8 /><circle cy=869.8 /></g><g class=b><circle cy=473.7 /></g><g class=o><circle cy=736.4 /></g><g class=b><circle cy=766 /><circle cy=806 /></g><g class=o><circle cy=333.9 /></g><g class=b><circle cy=624.8 /><circle cy=606 /><circle cy=644.1 /></g><g class=o><circle cy=673.6 /><circle cy=592.7 /><circle cy=731.6 /></g><g class=b><circle cy=581.4 /></g><g class=o><circle cy=709.2 /></g><g class=b><circle cy=473.7 /></g><g class=o><circle cy=811.4 /></g><g class=b><circle cy=848 /><circle cy=513.5 /></g><g class=o><circle cy=821 /><circle cy=561 /><circle cy=784.5 /></g><g class=b><circle cy=661.7 /></g><g class=o><circle cy=708 /></g><g class=b><circle cy=601.5 /></g><g class=o><circle cy=765.5 /></g><g class=b><circle cy=622.2 /></g><g class=o><circle cy=758.5 /><circle cy=862.9 /></g><g class=b><circle cy=676.8 /><circle cy=784.8 /></g><g class=o><circle cy=708.8 /></g><g class=b><circle cy=571.6 /></g><g class=o><circle cy=673 /></g><g class=b><circle cy=680.2 /><circle cy=665.2 /></g><g class=o><circle cy=792.7 /></g><g class=b><circle cy=742.4 /></g><g class=o><circle cy=675 /></g><g class=b><circle cy=713.9 /></g><g class=o><circle cy=819 /><circle cy=752.3 /><circle cy=830.3 /></g><g class=b><circle cy=743.5 /></g><g class=o><circle cy=668.7 /><circle cy=711.1 /><circle cy=762.3 /></g></g><g transform="translate(1072.8)"><g class=o><circle cy=679.3 /><circle cy=858.7 /></g><g class=b><circle cy=548.3 /></g><g class=o><circle cy=773.9 /></g><g class=b><circle cy=639.7 /></g><g class=o><circle cy=817 /><circle cy=673.8 /></g><g class=b><circle cy=709.2 /><circle cy=545.1 /><circle cy=506.7 /></g><g class=o><circle cy=846.6 /><circle cy=723.3 /><circle cy=716.8 /><circle cy=738 /></g><g class=b><circle cy=480 /></g><g class=o><circle cy=656.8 /></g><g class=b><circle cy=602.9 /></g><g class=o><circle cy=707.9 /><circle cy=861.8 /></g><g class=b><circle cy=766.8 /></g><g class=o><circle cy=754 /></g><g class=b><circle cy=583.4 /><circle cy=673.1 /></g><g class=o><circle cy=754.4 /></g><g class=b><circle cy=834.8 /></g><g class=o><circle cy=811.8 /><circle cy=821.7 /></g><g class=b><circle cy=683.9 /></g><g class=o><circle cy=736.4 /><circle cy=659.1 /></g><g class=b><circle cy=648.9 /><circle cy=744.2 /></g><g class=o><circle cy=773.2 /><circle cy=328.8 /><circle cy=891.7 /><circle cy=732.9 /><circle cy=562.8 /></g><g class=b><circle cy=777.1 /></g><g class=o><circle cy=613.1 /><circle cy=762.3 /><circle cy=749.3 /></g><g class=b><circle cy=732.6 /></g><g class=o><circle cy=723.4 /><circle cy=743.5 /><circle cy=731.5 /></g><g class=b><circle cy=629.7 /></g><g class=o><circle cy=694.6 /></g><g class=b><circle cy=838.3 /><circle cy=563.7 /><circle cy=599.1 /></g></g><g transform="translate(1082.8)"><g class=b><circle cy=616.6 /><circle cy=606 /></g><g class=o><circle cy=706.5 /><circle cy=775 /></g><g class=b><circle cy=742.9 /></g><g class=o><circle cy=667.1 /><circle cy=731.5 /></g><g class=b><circle cy=838.9 /></g><g class=o><circle cy=660.9 /><circle cy=812.6 /><circle cy=752.5 /></g><g class=b><circle cy=595.8 /></g><g class=o><circle cy=866.3 /><circle cy=664.7 /><circle cy=729.4 /></g><g class=b><circle cy=571.5 /><circle cy=751.1 /><circle cy=695.5 /></g><g class=o><circle cy=750.9 /><circle cy=894.4 /></g><g class=b><circle cy=464.3 /></g><g class=o><circle cy=822.2 /></g><g class=b><circle cy=722.2 /><circle cy=636.3 /><circle cy=651.8 /></g><g class=o><circle cy=786.8 /><circle cy=755.9 /></g><g class=b><circle cy=844.4 /></g><g class=o><circle cy=689.9 /></g><g class=b><circle cy=566.9 /><circle cy=775.5 /></g><g class=o><circle cy=985.2 /></g><g class=b><circle cy=842.5 /><circle cy=680.7 /></g><g class=o><circle cy=687.6 /><circle cy=735.2 /></g><g class=b><circle cy=551.8 /><circle cy=464.3 /><circle cy=596.8 /></g><g class=o><circle cy=664.1 /><circle cy=722.9 /><circle cy=557.3 /></g><g class=b><circle cy=587.9 /></g><g class=o><circle cy=791.2 /><circle cy=628.9 /><circle cy=663.2 /><circle cy=746.5 /></g><g class=b><circle cy=595.1 /></g><g class=o><circle cy=784.6 /></g><g class=b><circle cy=833.6 /><circle cy=635.4 /><circle cy=831.7 /><circle cy=756.6 /></g></g><g transform="translate(1092.7)"><g class=b><circle cy=744.1 /></g><g class=o><circle cy=725.5 /><circle cy=829.4 /><circle cy=555.5 /></g><g class=b><circle cy=607 /><circle cy=583.9 /><circle cy=496.6 /></g><g class=o><circle cy=788.8 /></g><g class=b><circle cy=587.5 /></g><g class=o><circle cy=666.2 /></g><g class=b><circle cy=681.6 /><circle cy=754.8 /></g><g class=o><circle cy=866.2 /><circle cy=674.4 /></g><g class=b><circle cy=669.4 /></g><g class=o><circle cy=787.9 /></g><g class=b><circle cy=448.6 /></g><g class=o><circle cy=770 /><circle cy=686 /><circle cy=743.5 /><circle cy=642.3 /></g><g class=b><circle cy=580 /></g><g class=o><circle cy=998.2 /><circle cy=581.7 /><circle cy=897.3 /><circle cy=729.6 /></g><g class=b><circle cy=719.1 /></g><g class=o><circle cy=691 /></g><g class=b><circle cy=847.8 /><circle cy=652.5 /></g><g class=o><circle cy=834.3 /><circle cy=866.3 /><circle cy=741.6 /><circle cy=780.1 /></g><g class=b><circle cy=534.2 /><circle cy=674.7 /><circle cy=550.4 /><circle cy=584.3 /></g><g class=o><circle cy=693 /></g><g class=b><circle cy=616.5 /></g><g class=o><circle cy=784.8 /></g><g class=b><circle cy=716.6 /><circle cy=570.9 /><circle cy=448.6 /></g><g class=o><circle cy=837.5 /></g><g class=b><circle cy=774.8 /></g><g class=o><circle cy=823.5 /><circle cy=764.5 /><circle cy=736.6 /><circle cy=328.8 /><circle cy=696.4 /></g><g class=b><circle cy=819.5 /><circle cy=661.9 /></g><g class=o><circle cy=672.5 /></g><g class=b><circle cy=811.9 /></g><g class=o><circle cy=815 /></g></g><g transform="translate(1102.6)"><g class=b><circle cy=604.5 /><circle cy=462.8 /></g><g class=o><circle cy=702.3 /><circle cy=662.6 /></g><g class=b><circle cy=609.7 /><circle cy=584.3 /></g><g class=o><circle cy=721.2 /></g><g class=b><circle cy=679.7 /></g><g class=o><circle cy=768.5 /><circle cy=596.1 /><circle cy=679.1 /></g><g class=b><circle cy=805.7 /><circle cy=694.7 /><circle cy=653.9 /></g><g class=o><circle cy=837.1 /><circle cy=712.8 /></g><g class=b><circle cy=950.7 /><circle cy=451.1 /><circle cy=820.3 /><circle cy=857.4 /></g><g class=o><circle cy=875 /><circle cy=721.2 /></g><g class=b><circle cy=709.9 /></g><g class=o><circle cy=668.8 /></g><g class=b><circle cy=617 /></g><g class=o><circle cy=703.2 /></g><g class=b><circle cy=698.1 /></g><g class=o><circle cy=781.5 /></g><g class=b><circle cy=577.7 /></g><g class=o><circle cy=882.4 /><circle cy=869.1 /><circle cy=781.8 /><circle cy=817 /></g><g class=b><circle cy=732.8 /><circle cy=702.3 /></g><g class=o><circle cy=675.5 /></g><g class=b><circle cy=824.6 /></g><g class=o><circle cy=756.4 /><circle cy=788.6 /><circle cy=611.1 /><circle cy=834.5 /><circle cy=730 /><circle cy=672.5 /><circle cy=757.2 /></g><g class=b><circle cy=757.2 /></g><g class=o><circle cy=675.4 /></g><g class=b><circle cy=717.2 /></g><g class=o><circle cy=707.1 /><circle cy=990.9 /><circle cy=337.4 /><circle cy=795.1 /><circle cy=741.2 /><circle cy=627.2 /><circle cy=799.5 /><circle cy=740.5 /></g></g><g transform="translate(1112.6)"><g class=b><circle cy=815.9 /></g><g class=o><circle cy=874.1 /><circle cy=756.9 /></g><g class=b><circle cy=576.7 /></g><g class=o><circle cy=644.7 /><circle cy=792.2 /></g><g class=b><circle cy=848.7 /><circle cy=687.7 /></g><g class=o><circle cy=803.9 /><circle cy=554.8 /><circle cy=784.7 /><circle cy=1002.2 /><circle cy=851.8 /></g><g class=b><circle cy=807.3 /></g><g class=o><circle cy=661.5 /><circle cy=776.3 /></g><g class=b><circle cy=739.6 /><circle cy=726.4 /><circle cy=530.1 /></g><g class=o><circle cy=761.4 /></g><g class=b><circle cy=844.1 /></g><g class=o><circle cy=773.6 /></g><g class=b><circle cy=760 /></g><g class=o><circle cy=725.3 /><circle cy=783.3 /></g><g class=b><circle cy=585.6 /></g><g class=o><circle cy=727.8 /><circle cy=716.3 /><circle cy=707.8 /><circle cy=837.2 /><circle cy=635.2 /><circle cy=794.5 /></g><g class=b><circle cy=588.9 /></g><g class=o><circle cy=684.5 /><circle cy=855.4 /></g><g class=b><circle cy=567.9 /></g><g class=o><circle cy=817.6 /><circle cy=347.1 /><circle cy=700.6 /><circle cy=766 /></g><g class=b><circle cy=462.8 /></g><g class=o><circle cy=794.6 /></g><g class=b><circle cy=712.8 /></g><g class=o><circle cy=872.9 /></g><g class=b><circle cy=556.6 /></g></g><g transform="translate(1122.5)"><g class=b><circle cy=848.1 /><circle cy=703 /><circle cy=755.3 /></g><g class=o><circle cy=885.1 /></g><g class=b><circle cy=690.6 /></g><g class=o><circle cy=682.7 /></g><g class=b><circle cy=459.6 /><circle cy=810.6 /></g><g class=o><circle cy=787.6 /><circle cy=843.8 /><circle cy=811.4 /><circle cy=833.2 /></g><g class=b><circle cy=727.6 /></g><g class=o><circle cy=814.5 /><circle cy=819.9 /><circle cy=675.5 /><circle cy=795.3 /></g><g class=b><circle cy=703.6 /><circle cy=558.6 /></g><g class=o><circle cy=640.7 /></g><g class=b><circle cy=502 /><circle cy=579.3 /></g><g class=o><circle cy=328.1 /></g><g class=b><circle cy=517.5 /></g><g class=o><circle cy=893.9 /></g><g class=b><circle cy=813.4 /></g><g class=o><circle cy=568.3 /></g><g class=b><circle cy=543.9 /><circle cy=710.2 /><circle cy=562.8 /></g><g class=o><circle cy=679.9 /><circle cy=904.6 /><circle cy=701.7 /><circle cy=599.6 /></g><g class=b><circle cy=729.3 /><circle cy=607.1 /><circle cy=600.1 /></g><g class=o><circle cy=744.7 /><circle cy=882.8 /><circle cy=725.7 /><circle cy=717.2 /></g><g class=b><circle cy=604 /></g><g class=o><circle cy=795.8 /><circle cy=797.4 /><circle cy=835 /><circle cy=782.4 /><circle cy=760.6 /><circle cy=824 /></g><g class=b><circle cy=602.7 /></g><g class=o><circle cy=674.4 /></g><g class=b><circle cy=568.2 /></g><g class=o><circle cy=892.7 /><circle cy=830.2 /><circle cy=759.5 /></g><g class=b><circle cy=572.1 /><circle cy=648.5 /></g><g class=o><circle cy=846.1 /></g><g class=b><circle cy=725.6 /></g><g class=o><circle cy=823.4 /><circle cy=683.9 /><circle cy=647 /></g></g><g transform="translate(1132.4)"><g class=o><circle cy=707.7 /><circle cy=812.3 /></g><g class=b><circle cy=474.7 /></g><g class=o><circle cy=642 /></g><g class=b><circle cy=726.8 /><circle cy=818.5 /><circle cy=788.5 /></g><g class=o><circle cy=786.7 /><circle cy=757 /></g><g class=b><circle cy=595.2 /><circle cy=672.5 /></g><g class=o><circle cy=866.9 /></g><g class=b><circle cy=724.5 /></g><g class=o><circle cy=784.4 /><circle cy=717.7 /></g><g class=b><circle cy=630.8 /></g><g class=o><circle cy=809.8 /><circle cy=561.8 /><circle cy=327.6 /><circle cy=830.8 /><circle cy=680.7 /><circle cy=842.2 /></g><g class=b><circle cy=602.7 /></g><g class=o><circle cy=806 /></g><g class=b><circle cy=555.2 /></g><g class=o><circle cy=680.7 /></g><g class=b><circle cy=669.6 /></g><g class=o><circle cy=904.2 /><circle cy=740.2 /></g><g class=b><circle cy=675.3 /></g><g class=o><circle cy=740.5 /><circle cy=744.8 /><circle cy=712 /><circle cy=846.2 /><circle cy=724.7 /><circle cy=794.6 /><circle cy=671.1 /></g><g class=b><circle cy=854.6 /></g><g class=o><circle cy=812.4 /></g><g class=b><circle cy=767.1 /><circle cy=707.6 /><circle cy=487.9 /><circle cy=784 /></g><g class=o><circle cy=881 /></g><g class=b><circle cy=848.2 /></g><g class=o><circle cy=917.8 /></g></g><g transform="translate(1142.3)"><g class=o><circle cy=724.2 /><circle cy=670.2 /><circle cy=730.6 /><circle cy=636 /></g><g class=b><circle cy=625.2 /></g><g class=o><circle cy=724.7 /></g><g class=b><circle cy=728.9 /></g><g class=o><circle cy=566.9 /><circle cy=770.6 /><circle cy=316.7 /><circle cy=882.8 /><circle cy=876.5 /><circle cy=839.8 /></g><g class=b><circle cy=587.1 /><circle cy=745 /></g><g class=o><circle cy=670.6 /></g><g class=b><circle cy=684.8 /></g><g class=o><circle cy=789.4 /><circle cy=825.9 /><circle cy=773.2 /></g><g class=b><circle cy=569.8 /></g><g class=o><circle cy=761.2 /></g><g class=b><circle cy=666.5 /><circle cy=474.4 /><circle cy=606.4 /><circle cy=735.5 /><circle cy=656.1 /></g><g class=o><circle cy=830.7 /></g><g class=b><circle cy=729.6 /></g><g class=o><circle cy=844.5 /><circle cy=910.4 /></g><g class=b><circle cy=607.9 /><circle cy=780.4 /><circle cy=635.9 /><circle cy=499.5 /></g><g class=o><circle cy=745.8 /></g><g class=b><circle cy=855.6 /></g><g class=o><circle cy=795 /><circle cy=806.4 /></g><g class=b><circle cy=683 /><circle cy=582.3 /></g><g class=o><circle cy=774.2 /></g><g class=b><circle cy=474.4 /></g><g class=o><circle cy=771.2 /><circle cy=760 /></g><g class=b><circle cy=702.9 /></g><g class=o><circle cy=870.6 /><circle cy=674.5 /><circle cy=839.4 /></g><g class=b><circle cy=634.3 /></g><g class=o><circle cy=994 /></g><g class=b><circle cy=706.5 /></g><g class=o><circle cy=716.2 /></g></g><g transform="translate(1152.3)"><g class=b><circle cy=744.5 /></g><g class=o><circle cy=748.9 /><circle cy=742.8 /><circle cy=752.1 /><circle cy=687.8 /><circle cy=824.4 /></g><g class=b><circle cy=510.3 /></g><g class=o><circle cy=857 /><circle cy=748.9 /></g><g class=b><circle cy=678.7 /><circle cy=700.3 /></g><g class=o><circle cy=805.7 /></g><g class=b><circle cy=557.4 /></g><g class=o><circle cy=879.7 /><circle cy=560.3 /><circle cy=625.8 /><circle cy=653.6 /><circle cy=774.1 /></g><g class=b><circle cy=704.8 /><circle cy=649.7 /></g><g class=o><circle cy=832.9 /></g><g class=b><circle cy=739.2 /></g><g class=o><circle cy=656.1 /></g><g class=b><circle cy=566.3 /></g><g class=o><circle cy=903.3 /><circle cy=790.8 /><circle cy=834.2 /><circle cy=715.5 /><circle cy=784.4 /></g><g class=b><circle cy=744.4 /><circle cy=825.9 /></g><g class=o><circle cy=782.3 /></g><g class=b><circle cy=680.6 /></g><g class=o><circle cy=853.8 /><circle cy=712.4 /></g><g class=b><circle cy=628.6 /></g><g class=o><circle cy=319.7 /><circle cy=697.9 /></g><g class=b><circle cy=444.6 /></g><g class=o><circle cy=804.1 /><circle cy=741 /></g><g class=b><circle cy=792.6 /></g><g class=o><circle cy=1013.6 /><circle cy=887.6 /><circle cy=670.8 /></g></g><g transform="translate(1162.2)"><g class=b><circle cy=595 /></g><g class=o><circle cy=893.3 /></g><g class=b><circle cy=587.4 /></g><g class=o><circle cy=735.7 /></g><g class=b><circle cy=615.8 /><circle cy=554.4 /></g><g class=o><circle cy=683.9 /></g><g class=b><circle cy=747.3 /></g><g class=o><circle cy=752 /></g><g class=b><circle cy=810.4 /></g><g class=o><circle cy=685.4 /><circle cy=567.8 /><circle cy=665.3 /><circle cy=891.2 /><circle cy=748.7 /><circle cy=834.4 /><circle cy=800.3 /><circle cy=750.1 /><circle cy=661.6 /></g><g class=b><circle cy=572.3 /></g><g class=o><circle cy=655.7 /></g><g class=b><circle cy=659.4 /><circle cy=784.9 /><circle cy=658.8 /></g><g class=o><circle cy=634.5 /></g><g class=b><circle cy=704.5 /><circle cy=491.6 /><circle cy=831.1 /><circle cy=688.4 /><circle cy=785.2 /></g><g class=o><circle cy=1009.1 /></g><g class=b><circle cy=491.6 /><circle cy=530.5 /><circle cy=759.2 /></g><g class=o><circle cy=755.7 /><circle cy=748.3 /></g><g class=b><circle cy=685.1 /></g><g class=o><circle cy=732.6 /><circle cy=728.3 /><circle cy=836.7 /></g><g class=b><circle cy=459.6 /></g><g class=o><circle cy=751.5 /><circle cy=848 /></g><g class=b><circle cy=646.7 /></g><g class=o><circle cy=741 /></g><g class=b><circle cy=752.6 /><circle cy=724.4 /></g><g class=o><circle cy=877.2 /></g><g class=b><circle cy=586.4 /></g><g class=o><circle cy=816.5 /><circle cy=779.8 /></g><g class=b><circle cy=699.4 /><circle cy=606.9 /></g></g><g transform="translate(1172.1)"><g class=o><circle cy=755.3 /></g><g class=b><circle cy=681.8 /></g><g class=o><circle cy=860.8 /></g><g class=b><circle cy=652.5 /><circle cy=763.9 /></g><g class=o><circle cy=687.5 /></g><g class=b><circle cy=487.2 /></g><g class=o><circle cy=913.4 /><circle cy=1031 /><circle cy=632.4 /></g><g class=b><circle cy=791.7 /></g><g class=o><circle cy=785.5 /></g><g class=b><circle cy=577.3 /></g><g class=o><circle cy=738.6 /><circle cy=553.8 /></g><g class=b><circle cy=673.2 /><circle cy=679.2 /><circle cy=524.8 /></g><g class=o><circle cy=807.6 /><circle cy=837.6 /></g><g class=b><circle cy=663.2 /><circle cy=567.2 /><circle cy=685.3 /></g><g class=o><circle cy=916 /><circle cy=818.5 /><circle cy=850.6 /><circle cy=713.8 /><circle cy=569.6 /><circle cy=765.8 /></g><g class=b><circle cy=715.7 /></g><g class=o><circle cy=836.5 /><circle cy=826.4 /><circle cy=650.8 /><circle cy=716.6 /><circle cy=700.9 /><circle cy=635.5 /><circle cy=693.7 /></g><g class=b><circle cy=742.3 /><circle cy=727 /></g><g class=o><circle cy=708.3 /><circle cy=886.4 /></g><g class=b><circle cy=558.3 /></g><g class=o><circle cy=816.9 /><circle cy=306.6 /></g><g class=b><circle cy=641.1 /></g><g class=o><circle cy=592.9 /></g><g class=b><circle cy=662.8 /></g></g><g transform="translate(1182.1)"><g class=o><circle cy=804.1 /><circle cy=791.6 /></g><g class=b><circle cy=819.1 /><circle cy=820.6 /><circle cy=584.4 /><circle cy=628.8 /></g><g class=o><circle cy=877.2 /><circle cy=713.2 /></g><g class=b><circle cy=683 /><circle cy=725.9 /></g><g class=o><circle cy=728.7 /><circle cy=630.6 /><circle cy=810.9 /></g><g class=b><circle cy=573.6 /></g><g class=o><circle cy=567.7 /></g><g class=b><circle cy=821.1 /></g><g class=o><circle cy=820.8 /><circle cy=1033.5 /></g><g class=b><circle cy=706.5 /></g><g class=o><circle cy=321.2 /><circle cy=568.9 /><circle cy=912.5 /><circle cy=860.2 /></g><g class=b><circle cy=726.2 /><circle cy=810.9 /><circle cy=687.3 /><circle cy=710.4 /><circle cy=696 /><circle cy=576.3 /><circle cy=710.5 /><circle cy=584.3 /><circle cy=658.3 /></g><g class=o><circle cy=652 /><circle cy=741.3 /><circle cy=634.1 /><circle cy=838.3 /></g><g class=b><circle cy=551.5 /><circle cy=565.1 /></g><g class=o><circle cy=720.9 /><circle cy=868.4 /><circle cy=737.1 /><circle cy=844.1 /><circle cy=844.1 /></g><g class=b><circle cy=631.8 /></g><g class=o><circle cy=752.1 /><circle cy=858.4 /></g><g class=b><circle cy=624.8 /></g><g class=o><circle cy=890.3 /><circle cy=724.2 /><circle cy=789.6 /></g></g><g transform="translate(1192)"><g class=o><circle cy=836.9 /><circle cy=900.4 /><circle cy=642.6 /></g><g class=b><circle cy=738.6 /><circle cy=640.5 /></g><g class=o><circle cy=861.5 /><circle cy=743.8 /><circle cy=699.2 /><circle cy=1036.4 /></g><g class=b><circle cy=650.7 /><circle cy=697.5 /></g><g class=o><circle cy=898.9 /></g><g class=b><circle cy=828.5 /></g><g class=o><circle cy=683.6 /></g><g class=b><circle cy=584.6 /></g><g class=o><circle cy=681 /><circle cy=794.5 /><circle cy=844.6 /><circle cy=818.7 /></g><g class=b><circle cy=850.6 /></g><g class=o><circle cy=720.6 /><circle cy=633.1 /><circle cy=745.8 /></g><g class=b><circle cy=585.3 /></g><g class=o><circle cy=866 /></g><g class=b><circle cy=556.9 /></g><g class=o><circle cy=718.9 /><circle cy=621.4 /><circle cy=797.7 /><circle cy=849.1 /><circle cy=741 /></g><g class=b><circle cy=738.5 /><circle cy=519.9 /><circle cy=610 /></g><g class=o><circle cy=695.4 /></g><g class=b><circle cy=690.6 /><circle cy=600.5 /></g><g class=o><circle cy=589 /></g><g class=b><circle cy=784.2 /></g><g class=o><circle cy=740.2 /><circle cy=811.6 /><circle cy=628.1 /><circle cy=896.5 /></g><g class=b><circle cy=593.3 /></g><g class=o><circle cy=771.1 /></g><g class=b><circle cy=652.5 /></g><g class=o><circle cy=844.8 /><circle cy=867.4 /></g><g class=b><circle cy=568.3 /></g><g class=o><circle cy=748.8 /></g><g class=b><circle cy=752.6 /></g><g class=o><circle cy=770.2 /></g><g class=b><circle cy=885.3 /><circle cy=609.3 /><circle cy=805.4 /><circle cy=601.8 /><circle cy=793.8 /></g><g class=o><circle cy=871.9 /><circle cy=306.6 /></g></g><g transform="translate(1201.9)"><g class=o><circle cy=819.3 /></g><g class=b><circle cy=803.2 /><circle cy=530.7 /><circle cy=594 /><circle cy=600.1 /></g><g class=o><circle cy=871.4 /><circle cy=794.8 /><circle cy=649.9 /></g><g class=b><circle cy=868.6 /></g><g class=o><circle cy=759.2 /></g><g class=b><circle cy=440.2 /></g><g class=o><circle cy=775.4 /><circle cy=715.5 /></g><g class=b><circle cy=558.1 /><circle cy=750.2 /></g><g class=o><circle cy=893.3 /><circle cy=771.2 /><circle cy=323 /></g><g class=b><circle cy=586.7 /></g><g class=o><circle cy=643.9 /><circle cy=846.9 /><circle cy=800.8 /><circle cy=858.1 /><circle cy=698.7 /></g><g class=b><circle cy=644.1 /></g><g class=o><circle cy=638.8 /><circle cy=860.7 /><circle cy=689.1 /></g><g class=b><circle cy=729.7 /></g><g class=o><circle cy=766.3 /></g><g class=b><circle cy=598.1 /></g><g class=o><circle cy=1037.5 /><circle cy=858.8 /></g><g class=b><circle cy=625.8 /></g><g class=o><circle cy=867.8 /><circle cy=736.4 /></g><g class=b><circle cy=654.9 /><circle cy=718.4 /></g><g class=o><circle cy=580 /></g><g class=b><circle cy=576.7 /></g><g class=o><circle cy=640.5 /><circle cy=860.3 /></g><g class=b><circle cy=729 /><circle cy=591.7 /></g><g class=o><circle cy=894.2 /></g></g><g transform="translate(1211.9)"><g class=o><circle cy=738.3 /><circle cy=753.4 /><circle cy=1043 /></g><g class=b><circle cy=581.7 /><circle cy=815.7 /></g><g class=o><circle cy=684.6 /></g><g class=b><circle cy=607.1 /><circle cy=708.1 /></g><g class=o><circle cy=775.8 /><circle cy=797.7 /></g><g class=b><circle cy=649.5 /><circle cy=658.8 /></g><g class=o><circle cy=864.7 /><circle cy=861.3 /><circle cy=743.9 /><circle cy=847.8 /></g><g class=b><circle cy=612 /></g><g class=o><circle cy=815.7 /><circle cy=713 /></g><g class=b><circle cy=582.3 /><circle cy=567.6 /><circle cy=717.2 /></g><g class=o><circle cy=870 /></g><g class=b><circle cy=849.5 /></g><g class=o><circle cy=770.5 /></g><g class=b><circle cy=650.4 /></g><g class=o><circle cy=718.5 /><circle cy=572.3 /><circle cy=765 /></g><g class=b><circle cy=708.4 /><circle cy=784.6 /><circle cy=813.3 /></g><g class=o><circle cy=877.1 /></g><g class=b><circle cy=575.2 /></g><g class=o><circle cy=581.8 /><circle cy=709.5 /></g><g class=b><circle cy=703.1 /></g><g class=o><circle cy=784.7 /></g><g class=b><circle cy=819.2 /></g><g class=o><circle cy=689.7 /></g><g class=b><circle cy=554.4 /><circle cy=790.5 /></g><g class=o><circle cy=633.3 /><circle cy=590.3 /><circle cy=643.8 /><circle cy=746.4 /><circle cy=774.6 /></g></g><g transform="translate(1221.8)"><g class=b><circle cy=676.7 /><circle cy=653.1 /><circle cy=855.4 /><circle cy=807.5 /><circle cy=525.2 /><circle cy=600 /></g><g class=o><circle cy=665.4 /><circle cy=564.8 /></g><g class=b><circle cy=815.3 /></g><g class=o><circle cy=765.2 /><circle cy=872.4 /></g><g class=b><circle cy=538.8 /></g><g class=o><circle cy=759.4 /></g><g class=b><circle cy=811.3 /></g><g class=o><circle cy=656.4 /></g><g class=b><circle cy=566.5 /><circle cy=506.1 /></g><g class=o><circle cy=874.2 /></g><g class=b><circle cy=753.8 /><circle cy=626.8 /><circle cy=502.9 /></g><g class=o><circle cy=903.5 /></g><g class=b><circle cy=605.8 /><circle cy=872 /></g><g class=o><circle cy=1043.7 /><circle cy=744.8 /><circle cy=768.3 /><circle cy=874.8 /><circle cy=860.8 /><circle cy=617.4 /><circle cy=806.4 /><circle cy=758.3 /><circle cy=895.9 /></g><g class=b><circle cy=588 /></g><g class=o><circle cy=698.9 /><circle cy=760.1 /><circle cy=870.5 /><circle cy=893.9 /></g><g class=b><circle cy=573.3 /></g><g class=o><circle cy=775.9 /><circle cy=589.6 /><circle cy=761.6 /></g><g class=b><circle cy=557 /><circle cy=753.9 /></g><g class=o><circle cy=841.6 /></g><g class=b><circle cy=692.7 /></g><g class=o><circle cy=740.2 /></g><g class=b><circle cy=604.2 /></g><g class=o><circle cy=844.9 /><circle cy=826.5 /><circle cy=878 /></g></g><g transform="translate(1231.7)"><g class=b><circle cy=614.7 /></g><g class=o><circle cy=775.9 /><circle cy=637.9 /></g><g class=b><circle cy=666.7 /></g><g class=o><circle cy=815 /></g><g class=b><circle cy=773.6 /><circle cy=651.8 /></g><g class=o><circle cy=875.3 /><circle cy=765.3 /></g><g class=b><circle cy=601.4 /></g><g class=o><circle cy=834 /></g><g class=b><circle cy=489.6 /></g><g class=o><circle cy=925.7 /><circle cy=892.2 /></g><g class=b><circle cy=498.2 /></g><g class=o><circle cy=835.2 /></g><g class=b><circle cy=626.7 /><circle cy=620.3 /><circle cy=518.6 /><circle cy=775.4 /></g><g class=o><circle cy=719.5 /></g><g class=b><circle cy=575.7 /><circle cy=805.2 /><circle cy=435.1 /></g><g class=o><circle cy=884.4 /></g><g class=b><circle cy=613 /></g><g class=o><circle cy=911.3 /></g><g class=b><circle cy=560.6 /></g><g class=o><circle cy=852.9 /><circle cy=768.7 /><circle cy=711.6 /><circle cy=833.2 /><circle cy=894.3 /><circle cy=863.6 /><circle cy=744.2 /><circle cy=1048.5 /><circle cy=808.1 /><circle cy=767.8 /><circle cy=745.4 /></g><g class=b><circle cy=753.1 /></g><g class=o><circle cy=728 /><circle cy=851.3 /><circle cy=867.6 /><circle cy=633.3 /><circle cy=774.4 /><circle cy=701.7 /><circle cy=767.9 /></g></g><g transform="translate(1241.6)"><g class=b><circle cy=628.7 /></g><g class=o><circle cy=868.7 /></g><g class=b><circle cy=602.3 /><circle cy=951 /></g><g class=o><circle cy=1045.6 /></g><g class=b><circle cy=646.9 /></g><g class=o><circle cy=697.1 /><circle cy=734.3 /></g><g class=b><circle cy=514 /></g><g class=o><circle cy=752.5 /></g><g class=b><circle cy=855.4 /></g><g class=o><circle cy=615.2 /><circle cy=595.8 /></g><g class=b><circle cy=619.9 /><circle cy=629.4 /><circle cy=436.1 /><circle cy=821 /></g><g class=o><circle cy=758.7 /></g><g class=b><circle cy=561.2 /></g><g class=o><circle cy=787.2 /></g><g class=b><circle cy=436.1 /><circle cy=550.8 /></g><g class=o><circle cy=716.2 /></g><g class=b><circle cy=638.2 /></g><g class=o><circle cy=731.7 /></g><g class=b><circle cy=569.8 /><circle cy=870.2 /></g><g class=o><circle cy=733.7 /><circle cy=811.1 /></g><g class=b><circle cy=801.8 /><circle cy=736.1 /></g><g class=o><circle cy=706.2 /><circle cy=731.1 /><circle cy=653.5 /><circle cy=825.1 /><circle cy=912.5 /></g><g class=b><circle cy=808 /></g><g class=o><circle cy=831.8 /><circle cy=880.5 /><circle cy=871.9 /></g><g class=b><circle cy=836 /></g><g class=o><circle cy=873.8 /><circle cy=906.5 /><circle cy=598.9 /><circle cy=773.4 /></g><g class=b><circle cy=565.8 /></g></g><g transform="translate(1251.6)"><g class=o><circle cy=881.8 /></g><g class=b><circle cy=557.9 /><circle cy=619.9 /></g><g class=o><circle cy=731 /><circle cy=768.5 /></g><g class=b><circle cy=807.6 /></g><g class=o><circle cy=822.3 /><circle cy=711.9 /><circle cy=622.8 /></g><g class=b><circle cy=686.7 /><circle cy=614.7 /><circle cy=586.2 /><circle cy=554.7 /></g><g class=o><circle cy=560.9 /><circle cy=781.4 /></g><g class=b><circle cy=699.5 /><circle cy=444.6 /></g><g class=o><circle cy=629.3 /><circle cy=687.4 /><circle cy=770.6 /></g><g class=b><circle cy=735.8 /></g><g class=o><circle cy=1043 /><circle cy=876.8 /><circle cy=575.4 /><circle cy=792.9 /></g><g class=b><circle cy=875.7 /><circle cy=639.6 /></g><g class=o><circle cy=583.4 /></g><g class=b><circle cy=819.5 /><circle cy=736.9 /><circle cy=659.2 /></g><g class=o><circle cy=660.1 /></g><g class=b><circle cy=704.3 /><circle cy=576 /></g><g class=o><circle cy=891.2 /></g><g class=b><circle cy=647.6 /></g><g class=o><circle cy=589.3 /></g><g class=b><circle cy=645 /></g><g class=o><circle cy=694.6 /></g><g class=b><circle cy=444.5 /><circle cy=454.7 /><circle cy=600.6 /></g><g class=o><circle cy=752.1 /></g><g class=b><circle cy=614 /></g><g class=o><circle cy=706.5 /><circle cy=892.5 /></g><g class=b><circle cy=789.6 /></g><g class=o><circle cy=727.2 /></g><g class=b><circle cy=744.8 /><circle cy=849.1 /></g><g class=o><circle cy=718.3 /></g><g class=b><circle cy=627.2 /><circle cy=817.6 /></g><g class=o><circle cy=656.1 /></g></g><g transform="translate(1261.5)"><g class=o><circle cy=845.6 /></g><g class=b><circle cy=789.1 /></g><g class=o><circle cy=884.6 /></g><g class=b><circle cy=633 /></g><g class=o><circle cy=761.9 /><circle cy=647.4 /></g><g class=b><circle cy=814.3 /></g><g class=o><circle cy=817.2 /><circle cy=875.1 /><circle cy=810.8 /></g><g class=b><circle cy=838.8 /></g><g class=o><circle cy=848 /></g><g class=b><circle cy=538.1 /><circle cy=727.2 /></g><g class=o><circle cy=843 /><circle cy=862.3 /><circle cy=916.9 /><circle cy=866.8 /><circle cy=876.1 /><circle cy=700.2 /></g><g class=b><circle cy=687.5 /></g><g class=o><circle cy=788.9 /><circle cy=722 /><circle cy=714.1 /></g><g class=b><circle cy=652.2 /><circle cy=815.3 /></g><g class=o><circle cy=742.2 /><circle cy=621.9 /></g><g class=b><circle cy=407.8 /><circle cy=866.2 /></g><g class=o><circle cy=750.7 /></g><g class=b><circle cy=627.2 /><circle cy=714.6 /></g><g class=o><circle cy=740.3 /></g><g class=b><circle cy=660.1 /></g><g class=o><circle cy=764 /><circle cy=734.3 /></g><g class=b><circle cy=553.7 /></g><g class=o><circle cy=569.5 /></g><g class=b><circle cy=595.3 /></g><g class=o><circle cy=1040.8 /></g><g class=b><circle cy=693 /></g><g class=o><circle cy=909.9 /></g><g class=b><circle cy=683.8 /></g><g class=o><circle cy=900.5 /></g><g class=b><circle cy=673 /></g></g><g transform="translate(1271.4)"><g class=o><circle cy=618 /></g><g class=b><circle cy=862.1 /><circle cy=580.3 /></g><g class=o><circle cy=841 /></g><g class=b><circle cy=562.4 /><circle cy=821.1 /></g><g class=o><circle cy=727.8 /></g><g class=b><circle cy=608 /><circle cy=430.4 /><circle cy=734.5 /></g><g class=o><circle cy=894.8 /><circle cy=759.5 /><circle cy=636.3 /><circle cy=720.6 /><circle cy=674.3 /><circle cy=928 /></g><g class=b><circle cy=629.8 /></g><g class=o><circle cy=697.2 /><circle cy=583.4 /><circle cy=1049.2 /><circle cy=907.6 /><circle cy=874.4 /></g><g class=b><circle cy=663.2 /></g><g class=o><circle cy=873.6 /><circle cy=867.2 /><circle cy=719.5 /></g><g class=b><circle cy=591.1 /></g><g class=o><circle cy=867.5 /></g><g class=b><circle cy=762.9 /></g><g class=o><circle cy=721.9 /><circle cy=735 /><circle cy=818.4 /><circle cy=872 /><circle cy=652.2 /></g><g class=b><circle cy=662 /></g><g class=o><circle cy=784.2 /></g><g class=b><circle cy=564.5 /></g><g class=o><circle cy=656.8 /></g><g class=b><circle cy=525.6 /><circle cy=873.4 /><circle cy=696 /><circle cy=832.3 /></g><g class=o><circle cy=644 /></g><g class=b><circle cy=568.3 /></g><g class=o><circle cy=825.9 /><circle cy=923.1 /></g><g class=b><circle cy=643.8 /></g></g><g transform="translate(1281.4)"><g class=b><circle cy=541 /></g><g class=o><circle cy=936.8 /><circle cy=695.5 /><circle cy=812 /></g><g class=b><circle cy=768.3 /></g><g class=o><circle cy=827.2 /><circle cy=778 /><circle cy=740.5 /><circle cy=852.2 /><circle cy=841.2 /><circle cy=871.7 /></g><g class=b><circle cy=669.8 /><circle cy=661.2 /><circle cy=637.2 /></g><g class=o><circle cy=885.4 /><circle cy=625.5 /></g><g class=b><circle cy=580.1 /><circle cy=852.5 /><circle cy=796.5 /><circle cy=664.5 /><circle cy=588.1 /><circle cy=570.9 /><circle cy=559.6 /></g><g class=o><circle cy=837.2 /><circle cy=891.1 /></g><g class=b><circle cy=586 /></g><g class=o><circle cy=651.3 /><circle cy=884.7 /><circle cy=753.9 /></g><g class=b><circle cy=390.2 /></g><g class=o><circle cy=636.4 /></g><g class=b><circle cy=668.4 /><circle cy=687.2 /><circle cy=640.2 /><circle cy=799.2 /></g><g class=o><circle cy=715.9 /><circle cy=652.7 /></g><g class=b><circle cy=612.2 /><circle cy=759.6 /></g><g class=o><circle cy=896.5 /><circle cy=1063 /><circle cy=731.6 /></g><g class=b><circle cy=701.7 /></g><g class=o><circle cy=916.5 /></g><g class=b><circle cy=617.1 /></g></g><g transform="translate(1291.3)"><g class=b><circle cy=445.5 /></g><g class=o><circle cy=639.5 /></g><g class=b><circle cy=665.1 /></g><g class=o><circle cy=845.3 /></g><g class=b><circle cy=628.9 /><circle cy=445.5 /></g><g class=o><circle cy=893 /><circle cy=843.8 /></g><g class=b><circle cy=561 /></g><g class=o><circle cy=722 /></g><g class=b><circle cy=664.5 /><circle cy=867.6 /></g><g class=o><circle cy=1067.4 /></g><g class=b><circle cy=649.9 /><circle cy=580.5 /></g><g class=o><circle cy=628.4 /><circle cy=788.5 /></g><g class=b><circle cy=646.2 /></g><g class=o><circle cy=833.4 /></g><g class=b><circle cy=681.9 /></g><g class=o><circle cy=812.4 /><circle cy=697.9 /><circle cy=699.8 /></g><g class=b><circle cy=800.7 /></g><g class=o><circle cy=827.5 /></g><g class=b><circle cy=475 /><circle cy=650.3 /></g><g class=o><circle cy=735.2 /><circle cy=783.9 /></g><g class=b><circle cy=544 /></g><g class=o><circle cy=915 /></g><g class=b><circle cy=609.9 /></g><g class=o><circle cy=720.9 /></g><g class=b><circle cy=680.4 /><circle cy=559.5 /><circle cy=695 /><circle cy=781.5 /><circle cy=526.1 /></g><g class=o><circle cy=752.2 /><circle cy=627.4 /></g><g class=b><circle cy=689.2 /></g><g class=o><circle cy=745.7 /><circle cy=913.6 /></g></g><g transform="translate(1301.2)"><g class=b><circle cy=841 /><circle cy=584.1 /><circle cy=531.8 /><circle cy=607.3 /></g><g class=o><circle cy=675.2 /><circle cy=804.5 /><circle cy=879.3 /><circle cy=863.9 /><circle cy=783.8 /></g><g class=b><circle cy=609.4 /><circle cy=804.2 /><circle cy=645.7 /></g><g class=o><circle cy=854.8 /><circle cy=697.6 /></g><g class=b><circle cy=647.6 /></g><g class=o><circle cy=877.4 /><circle cy=761.7 /><circle cy=741.9 /><circle cy=900.5 /></g><g class=b><circle cy=737.4 /><circle cy=839.2 /></g><g class=o><circle cy=818.2 /><circle cy=861.1 /></g><g class=b><circle cy=665.8 /><circle cy=695.1 /><circle cy=428.2 /><circle cy=807.7 /></g><g class=o><circle cy=886 /></g><g class=b><circle cy=536.2 /></g><g class=o><circle cy=1074.7 /><circle cy=621.2 /></g><g class=b><circle cy=833.5 /><circle cy=670.9 /></g><g class=o><circle cy=824.1 /><circle cy=711.1 /></g><g class=b><circle cy=636.5 /></g><g class=o><circle cy=832 /><circle cy=751.6 /><circle cy=870.1 /><circle cy=860.5 /><circle cy=683.2 /><circle cy=698.3 /></g><g class=b><circle cy=497.4 /></g><g class=o><circle cy=919.3 /></g><g class=b><circle cy=674.5 /></g><g class=o><circle cy=619.6 /></g><g class=b><circle cy=623.9 /><circle cy=625.3 /></g><g class=o><circle cy=720.4 /><circle cy=614.6 /><circle cy=905.3 /><circle cy=848.3 /></g></g><g transform="translate(1311.1)"><g class=o><circle cy=838.6 /></g><g class=b><circle cy=507.2 /></g><g class=o><circle cy=757.1 /></g><g class=b><circle cy=634.1 /></g><g class=o><circle cy=712.9 /><circle cy=734.9 /><circle cy=691.2 /><circle cy=809.1 /></g><g class=b><circle cy=674.4 /></g><g class=o><circle cy=803.3 /><circle cy=883.5 /></g><g class=b><circle cy=874.5 /></g><g class=o><circle cy=1083.8 /><circle cy=598.4 /><circle cy=889.1 /><circle cy=619.5 /></g><g class=b><circle cy=820.3 /><circle cy=802.1 /></g><g class=o><circle cy=742 /></g><g class=b><circle cy=617.1 /></g><g class=o><circle cy=890 /></g><g class=b><circle cy=777.7 /></g><g class=o><circle cy=739.2 /><circle cy=656.1 /></g><g class=b><circle cy=803.9 /></g><g class=o><circle cy=603.2 /><circle cy=774 /><circle cy=777.7 /><circle cy=748.9 /></g><g class=b><circle cy=420.4 /><circle cy=606.5 /></g><g class=o><circle cy=918.8 /><circle cy=889.6 /><circle cy=763.8 /><circle cy=893.1 /></g><g class=b><circle cy=721.9 /></g><g class=o><circle cy=790.3 /><circle cy=628.2 /></g><g class=b><circle cy=606.3 /></g><g class=o><circle cy=654.2 /></g><g class=b><circle cy=680.8 /><circle cy=562 /><circle cy=641.9 /></g><g class=o><circle cy=573.1 /><circle cy=859.6 /></g><g class=b><circle cy=698.2 /></g><g class=o><circle cy=894.2 /></g><g class=b><circle cy=796.4 /></g></g><g transform="translate(1321.1)"><g class=b><circle cy=497.8 /><circle cy=663.3 /><circle cy=812.8 /><circle cy=556.8 /><circle cy=881.6 /><circle cy=679.7 /><circle cy=589.2 /><circle cy=641.5 /></g><g class=o><circle cy=875.5 /><circle cy=711.7 /><circle cy=765.1 /></g><g class=b><circle cy=579.4 /></g><g class=o><circle cy=632.1 /></g><g class=b><circle cy=763.8 /></g><g class=o><circle cy=915.3 /></g><g class=b><circle cy=620.9 /></g><g class=o><circle cy=907.4 /><circle cy=726.8 /></g><g class=b><circle cy=800.3 /><circle cy=585.9 /></g><g class=o><circle cy=652 /><circle cy=784 /><circle cy=703.8 /></g><g class=b><circle cy=788.9 /></g><g class=o><circle cy=649.5 /><circle cy=651.4 /></g><g class=b><circle cy=660.9 /><circle cy=699.8 /></g><g class=o><circle cy=881.9 /></g><g class=b><circle cy=811.4 /><circle cy=625.7 /></g><g class=o><circle cy=830.4 /></g><g class=b><circle cy=790.5 /></g><g class=o><circle cy=860.5 /><circle cy=764.2 /></g><g class=b><circle cy=415.3 /></g><g class=o><circle cy=780.4 /><circle cy=782.8 /><circle cy=870.6 /><circle cy=575.7 /></g><g class=b><circle cy=713.8 /></g><g class=o><circle cy=839.8 /><circle cy=1094 /><circle cy=767.7 /><circle cy=786.3 /><circle cy=884.8 /><circle cy=914.8 /></g><g class=b><circle cy=654.4 /></g><g class=o><circle cy=776.6 /><circle cy=860.9 /><circle cy=601 /></g><g class=b><circle cy=684.7 /><circle cy=589.4 /><circle cy=650 /></g><g class=o><circle cy=701.6 /><circle cy=575.1 /></g><g class=b><circle cy=495.4 /></g><g class=o><circle cy=799.6 /></g></g><g transform="translate(1331)"><g class=o><circle cy=853.2 /></g><g class=b><circle cy=767.5 /></g><g class=o><circle cy=663.7 /></g><g class=b><circle cy=637.4 /><circle cy=660.6 /></g><g class=o><circle cy=722.1 /><circle cy=864.7 /><circle cy=760.4 /><circle cy=777.8 /><circle cy=616.3 /><circle cy=782 /><circle cy=919.6 /></g><g class=b><circle cy=557.8 /></g><g class=o><circle cy=819.5 /></g><g class=b><circle cy=643.3 /></g><g class=o><circle cy=627 /><circle cy=891.9 /><circle cy=835.5 /></g><g class=b><circle cy=653.6 /><circle cy=795.3 /></g><g class=o><circle cy=783.5 /></g><g class=b><circle cy=578 /></g><g class=o><circle cy=944.5 /><circle cy=640.4 /></g><g class=b><circle cy=734.8 /><circle cy=527.7 /></g><g class=o><circle cy=890.4 /></g><g class=b><circle cy=594.2 /></g><g class=o><circle cy=624.7 /></g><g class=b><circle cy=659.7 /></g><g class=o><circle cy=621.4 /></g><g class=b><circle cy=688.2 /></g><g class=o><circle cy=684.1 /><circle cy=892.6 /><circle cy=566.7 /></g><g class=b><circle cy=592 /><circle cy=761.9 /><circle cy=806.1 /></g><g class=o><circle cy=920.2 /><circle cy=869.8 /><circle cy=751.5 /></g><g class=b><circle cy=651 /><circle cy=770 /><circle cy=617.8 /><circle cy=664.2 /></g><g class=o><circle cy=783.3 /><circle cy=658.8 /><circle cy=1084.5 /></g><g class=b><circle cy=789.6 /></g><g class=o><circle cy=597.4 /><circle cy=889.7 /><circle cy=728.9 /></g></g><g transform="translate(1340.9)"><g class=o><circle cy=1087.5 /><circle cy=785 /><circle cy=881.1 /><circle cy=881 /></g><g class=b><circle cy=572.1 /><circle cy=765.5 /><circle cy=654.7 /><circle cy=662.4 /></g><g class=o><circle cy=605.1 /></g><g class=b><circle cy=618.4 /><circle cy=751.3 /></g><g class=o><circle cy=906.1 /></g><g class=b><circle cy=611 /></g><g class=o><circle cy=765.1 /><circle cy=624.4 /></g><g class=b><circle cy=795.7 /><circle cy=599.5 /></g><g class=o><circle cy=622 /><circle cy=700.6 /><circle cy=912.7 /></g><g class=b><circle cy=643.4 /></g><g class=o><circle cy=916.9 /><circle cy=605 /><circle cy=788.1 /><circle cy=814.8 /><circle cy=685.1 /><circle cy=750.4 /><circle cy=906.9 /><circle cy=708.8 /><circle cy=737.5 /></g><g class=b><circle cy=618.6 /><circle cy=560.3 /><circle cy=748.8 /><circle cy=595.4 /></g><g class=o><circle cy=723.6 /><circle cy=794.3 /></g><g class=b><circle cy=791.8 /><circle cy=639.6 /></g><g class=o><circle cy=867.4 /></g><g class=b><circle cy=636.7 /><circle cy=772.7 /></g><g class=o><circle cy=857.8 /><circle cy=723.3 /><circle cy=564.3 /><circle cy=659.5 /></g><g class=b><circle cy=631.9 /></g><g class=o><circle cy=859 /></g><g class=b><circle cy=519.5 /></g></g><g transform="translate(1350.9)"><g class=o><circle cy=922.3 /><circle cy=631 /><circle cy=621.1 /><circle cy=786.2 /></g><g class=b><circle cy=727.1 /><circle cy=566.5 /><circle cy=800.7 /><circle cy=767.4 /></g><g class=o><circle cy=769.9 /><circle cy=738.2 /></g><g class=b><circle cy=480 /><circle cy=480 /></g><g class=o><circle cy=939.5 /></g><g class=b><circle cy=600.3 /></g><g class=o><circle cy=621.2 /></g><g class=b><circle cy=752.4 /><circle cy=387.4 /><circle cy=631.7 /></g><g class=o><circle cy=888.2 /><circle cy=619.3 /></g><g class=b><circle cy=447.8 /><circle cy=803 /></g><g class=o><circle cy=776.2 /></g><g class=b><circle cy=619.8 /><circle cy=561.3 /><circle cy=687.4 /></g><g class=o><circle cy=857.5 /><circle cy=609.2 /><circle cy=924.2 /><circle cy=707.5 /><circle cy=876.3 /></g><g class=b><circle cy=645.8 /><circle cy=697.9 /><circle cy=549.3 /><circle cy=626.6 /></g><g class=o><circle cy=774.4 /><circle cy=575.7 /><circle cy=783.4 /></g><g class=b><circle cy=798.4 /></g><g class=o><circle cy=848.7 /><circle cy=751.4 /><circle cy=779.4 /></g><g class=b><circle cy=616.2 /></g><g class=o><circle cy=679.4 /><circle cy=583.3 /></g><g class=b><circle cy=763.6 /></g><g class=o><circle cy=1091.8 /><circle cy=795.7 /></g><g class=b><circle cy=704.6 /></g><g class=o><circle cy=620.3 /></g></g><g transform="translate(1360.8)"><g class=b><circle cy=607.6 /></g><g class=o><circle cy=903.3 /></g><g class=b><circle cy=655.8 /><circle cy=562.9 /><circle cy=780.5 /><circle cy=635.6 /></g><g class=o><circle cy=871.3 /><circle cy=943.3 /></g><g class=b><circle cy=680.4 /></g><g class=o><circle cy=890.5 /><circle cy=596.8 /></g><g class=b><circle cy=749.7 /><circle cy=524.5 /></g><g class=o><circle cy=803.7 /><circle cy=1085.6 /></g><g class=b><circle cy=802.7 /></g><g class=o><circle cy=612.7 /></g><g class=b><circle cy=684.9 /><circle cy=739.6 /></g><g class=o><circle cy=742.1 /></g><g class=b><circle cy=883.7 /></g><g class=o><circle cy=703.5 /></g><g class=b><circle cy=572.3 /><circle cy=611.9 /></g><g class=o><circle cy=604.2 /><circle cy=817.7 /></g><g class=b><circle cy=370.2 /></g><g class=o><circle cy=884.6 /><circle cy=918.7 /><circle cy=898.9 /></g><g class=b><circle cy=789.6 /></g><g class=o><circle cy=762.6 /></g><g class=b><circle cy=707.4 /></g><g class=o><circle cy=750.6 /><circle cy=730 /><circle cy=816.9 /><circle cy=782.2 /><circle cy=724.2 /><circle cy=868.9 /><circle cy=620.8 /></g><g class=b><circle cy=545 /></g></g><g transform="translate(1370.7)"><g class=b><circle cy=793.7 /></g><g class=o><circle cy=675.4 /></g><g class=b><circle cy=755.6 /></g><g class=o><circle cy=646.9 /><circle cy=737.6 /></g><g class=b><circle cy=616.1 /></g><g class=o><circle cy=803.6 /><circle cy=636.8 /></g><g class=b><circle cy=785 /><circle cy=630.9 /></g><g class=o><circle cy=908.7 /></g><g class=b><circle cy=615.9 /></g><g class=o><circle cy=859 /><circle cy=720.4 /><circle cy=725.2 /><circle cy=954.8 /><circle cy=793.5 /><circle cy=753.5 /><circle cy=759 /><circle cy=672.3 /><circle cy=873.7 /><circle cy=904.1 /></g><g class=b><circle cy=834.8 /><circle cy=861.4 /></g><g class=o><circle cy=772.2 /></g><g class=b><circle cy=597.4 /><circle cy=560.9 /></g><g class=o><circle cy=863.9 /><circle cy=880.3 /><circle cy=1087.5 /></g><g class=b><circle cy=639.3 /><circle cy=550.7 /><circle cy=748.6 /></g><g class=o><circle cy=692.7 /><circle cy=773 /></g><g class=b><circle cy=686 /><circle cy=705.2 /><circle cy=564.5 /></g><g class=o><circle cy=584.8 /><circle cy=756.8 /><circle cy=894.2 /><circle cy=647.6 /></g><g class=b><circle cy=547 /></g><g class=o><circle cy=843.1 /></g><g class=b><circle cy=395.3 /></g><g class=o><circle cy=936.7 /><circle cy=780.1 /><circle cy=798.1 /><circle cy=792.7 /><circle cy=835.2 /><circle cy=789.2 /><circle cy=575.5 /></g><g class=b><circle cy=633.8 /></g><g class=o><circle cy=863.9 /></g><g class=b><circle cy=873.6 /></g></g><g transform="translate(1380.6)"><g class=b><circle cy=774 /><circle cy=524.5 /></g><g class=o><circle cy=647.8 /></g><g class=b><circle cy=811.9 /><circle cy=841.2 /><circle cy=659.3 /><circle cy=623.3 /></g><g class=o><circle cy=890.2 /><circle cy=748.2 /></g><g class=b><circle cy=469 /><circle cy=617.9 /></g><g class=o><circle cy=920 /><circle cy=814.7 /></g><g class=b><circle cy=571.4 /></g><g class=o><circle cy=603.4 /></g><g class=b><circle cy=400.6 /><circle cy=585.5 /></g><g class=o><circle cy=835.9 /><circle cy=693.1 /><circle cy=920.3 /><circle cy=696.9 /><circle cy=888.4 /></g><g class=b><circle cy=798.8 /></g><g class=o><circle cy=619.3 /><circle cy=588.8 /><circle cy=782.2 /><circle cy=763.9 /></g><g class=b><circle cy=628.7 /><circle cy=593 /><circle cy=723.7 /></g><g class=o><circle cy=733.3 /></g><g class=b><circle cy=553.1 /><circle cy=673.4 /></g><g class=o><circle cy=939.4 /></g><g class=b><circle cy=623.5 /></g><g class=o><circle cy=832.2 /></g><g class=b><circle cy=765.5 /></g><g class=o><circle cy=773.7 /></g><g class=b><circle cy=725.6 /><circle cy=478.1 /></g><g class=o><circle cy=862.6 /></g><g class=b><circle cy=898.4 /></g><g class=o><circle cy=793.6 /><circle cy=794.1 /></g><g class=b><circle cy=858.2 /><circle cy=556.2 /></g><g class=o><circle cy=914.3 /><circle cy=809.3 /><circle cy=873.3 /><circle cy=1105.7 /><circle cy=893.1 /><circle cy=894.3 /><circle cy=853.8 /><circle cy=602.5 /></g></g><g transform="translate(1390.6)"><g class=o><circle cy=749.6 /></g><g class=b><circle cy=601.9 /><circle cy=809 /></g><g class=o><circle cy=701.5 /><circle cy=898.5 /><circle cy=823.3 /><circle cy=789.4 /><circle cy=605.9 /></g><g class=b><circle cy=723.5 /></g><g class=o><circle cy=691.5 /></g><g class=b><circle cy=886.3 /></g><g class=o><circle cy=889 /></g><g class=b><circle cy=815.2 /><circle cy=422.9 /><circle cy=780.2 /><circle cy=581 /><circle cy=823.8 /></g><g class=o><circle cy=878.1 /></g><g class=b><circle cy=754.7 /></g><g class=o><circle cy=904.1 /><circle cy=682.9 /></g><g class=b><circle cy=642.1 /><circle cy=719.2 /></g><g class=o><circle cy=627.2 /></g><g class=b><circle cy=558.1 /></g><g class=o><circle cy=927.5 /></g><g class=b><circle cy=856.7 /></g><g class=o><circle cy=623.1 /></g><g class=b><circle cy=709 /></g><g class=o><circle cy=820.6 /><circle cy=909.2 /><circle cy=597.5 /><circle cy=1105.7 /><circle cy=931.1 /><circle cy=910.8 /><circle cy=917 /></g><g class=b><circle cy=843.3 /></g><g class=o><circle cy=668.7 /><circle cy=763 /></g><g class=b><circle cy=714.2 /><circle cy=659.9 /></g><g class=o><circle cy=855.1 /><circle cy=947.7 /><circle cy=888.3 /><circle cy=815.3 /></g><g class=b><circle cy=700.9 /></g></g><g transform="translate(1400.5)"><g class=o><circle cy=789.4 /><circle cy=783.9 /><circle cy=783.7 /><circle cy=604.8 /></g><g class=b><circle cy=648.1 /></g><g class=o><circle cy=775.4 /><circle cy=690.7 /></g><g class=b><circle cy=881.4 /></g><g class=o><circle cy=636.4 /><circle cy=764.8 /><circle cy=745.8 /><circle cy=890.5 /></g><g class=b><circle cy=594.3 /><circle cy=561.7 /></g><g class=o><circle cy=861.1 /><circle cy=730.3 /><circle cy=930.5 /><circle cy=909 /><circle cy=905.7 /></g><g class=b><circle cy=759.2 /><circle cy=605.7 /></g><g class=o><circle cy=607.6 /></g><g class=b><circle cy=642.1 /></g><g class=o><circle cy=891.9 /></g><g class=b><circle cy=526 /></g><g class=o><circle cy=1108.6 /><circle cy=947.1 /></g><g class=b><circle cy=579.5 /></g><g class=o><circle cy=795 /><circle cy=713.3 /><circle cy=629.6 /></g><g class=b><circle cy=430.4 /></g><g class=o><circle cy=718 /><circle cy=703.4 /></g><g class=b><circle cy=641.8 /></g><g class=o><circle cy=806 /></g><g class=b><circle cy=586.5 /><circle cy=574.9 /></g><g class=o><circle cy=906.9 /><circle cy=823.8 /></g></g><g transform="translate(1410.4)"><g class=o><circle cy=958 /><circle cy=877.8 /><circle cy=677.1 /><circle cy=610.7 /><circle cy=924.7 /></g><g class=b><circle cy=656.5 /></g><g class=o><circle cy=884.6 /><circle cy=760.7 /><circle cy=815.7 /><circle cy=754.1 /><circle cy=896.4 /></g><g class=b><circle cy=765.3 /></g><g class=o><circle cy=843.7 /><circle cy=805.9 /><circle cy=279.7 /></g><g class=b><circle cy=616.3 /><circle cy=679.5 /></g><g class=o><circle cy=606.3 /></g><g class=b><circle cy=584.3 /></g><g class=o><circle cy=871.6 /></g><g class=b><circle cy=722.1 /></g><g class=o><circle cy=882.6 /><circle cy=899.5 /></g><g class=b><circle cy=728.8 /></g><g class=o><circle cy=856.4 /></g><g class=b><circle cy=630.9 /></g><g class=o><circle cy=933 /></g><g class=b><circle cy=589.6 /></g><g class=o><circle cy=776.7 /><circle cy=690 /></g><g class=b><circle cy=597.9 /><circle cy=889.9 /></g><g class=o><circle cy=725.1 /></g><g class=b><circle cy=594.5 /></g><g class=o><circle cy=788.9 /></g><g class=b><circle cy=724.4 /><circle cy=568.7 /><circle cy=663.8 /><circle cy=618 /><circle cy=740.6 /></g><g class=o><circle cy=620.1 /><circle cy=623.5 /><circle cy=932.8 /></g></g><g transform="translate(1420.4)"><g class=o><circle cy=608.7 /></g><g class=b><circle cy=744.4 /></g><g class=o><circle cy=784.3 /></g><g class=b><circle cy=751.7 /><circle cy=841.5 /></g><g class=o><circle cy=1089.3 /><circle cy=678.1 /><circle cy=897.3 /><circle cy=774.8 /></g><g class=b><circle cy=774.8 /><circle cy=667.8 /><circle cy=733.4 /></g><g class=o><circle cy=622.6 /><circle cy=616.3 /><circle cy=578 /><circle cy=711.6 /></g><g class=b><circle cy=635.3 /></g><g class=o><circle cy=616.2 /><circle cy=778.8 /></g><g class=b><circle cy=694.3 /><circle cy=581 /><circle cy=567.6 /><circle cy=529.9 /></g><g class=o><circle cy=815.6 /></g><g class=b><circle cy=775.1 /><circle cy=598.8 /><circle cy=590.4 /><circle cy=639.1 /><circle cy=816 /></g><g class=o><circle cy=902.1 /><circle cy=864.8 /></g><g class=b><circle cy=755.3 /></g><g class=o><circle cy=898 /><circle cy=910.2 /></g><g class=b><circle cy=627 /></g><g class=o><circle cy=713 /><circle cy=937.8 /><circle cy=703.3 /><circle cy=807.3 /></g><g class=b><circle cy=663.6 /><circle cy=382.7 /><circle cy=705 /></g><g class=o><circle cy=833.4 /></g><g class=b><circle cy=572.6 /></g><g class=o><circle cy=612.6 /></g><g class=b><circle cy=595.8 /></g><g class=o><circle cy=592.4 /></g><g class=b><circle cy=719.9 /></g></g><g transform="translate(1430.3)"><g class=b><circle cy=413.2 /></g><g class=o><circle cy=684.6 /></g><g class=b><circle cy=573.2 /></g><g class=o><circle cy=942.2 /><circle cy=838.2 /><circle cy=708.1 /><circle cy=917.5 /><circle cy=759 /></g><g class=b><circle cy=620.5 /><circle cy=780.1 /><circle cy=696.9 /></g><g class=o><circle cy=909.5 /><circle cy=785.1 /><circle cy=905.5 /></g><g class=b><circle cy=627.8 /><circle cy=867.9 /><circle cy=547.7 /></g><g class=o><circle cy=711.3 /><circle cy=706.1 /><circle cy=808.5 /></g><g class=b><circle cy=597.4 /><circle cy=548.5 /></g><g class=o><circle cy=908.9 /><circle cy=794.7 /><circle cy=1092.9 /><circle cy=254.7 /></g><g class=b><circle cy=537 /></g><g class=o><circle cy=941.9 /></g><g class=b><circle cy=732.5 /><circle cy=669.3 /><circle cy=554.9 /></g><g class=o><circle cy=706.9 /></g><g class=b><circle cy=702.1 /></g><g class=o><circle cy=605.2 /><circle cy=817.9 /><circle cy=607.7 /><circle cy=880.3 /></g><g class=b><circle cy=643.8 /></g><g class=o><circle cy=613.7 /></g><g class=b><circle cy=597.3 /></g><g class=o><circle cy=897.1 /><circle cy=902.1 /><circle cy=738.4 /></g><g class=b><circle cy=832.8 /></g></g><g transform="translate(1440.2)"><g class=b><circle cy=775.3 /><circle cy=567.7 /><circle cy=738 /><circle cy=599.6 /></g><g class=o><circle cy=628.4 /></g><g class=b><circle cy=665.7 /></g><g class=o><circle cy=606.7 /></g><g class=b><circle cy=597.9 /></g><g class=o><circle cy=915.8 /></g><g class=b><circle cy=543.5 /><circle cy=559.3 /><circle cy=641.9 /><circle cy=647.4 /></g><g class=o><circle cy=1092.2 /><circle cy=792.9 /><circle cy=749.9 /></g><g class=b><circle cy=718.6 /></g><g class=o><circle cy=841.2 /></g><g class=b><circle cy=843.1 /></g><g class=o><circle cy=610.2 /><circle cy=795.5 /><circle cy=665.9 /><circle cy=757.1 /><circle cy=907.9 /></g><g class=b><circle cy=425.1 /></g><g class=o><circle cy=908.3 /></g><g class=b><circle cy=597 /></g><g class=o><circle cy=528.3 /></g><g class=b><circle cy=727.4 /></g><g class=o><circle cy=904.6 /><circle cy=620.8 /><circle cy=669 /><circle cy=798.5 /><circle cy=934.5 /><circle cy=922.2 /><circle cy=875.2 /><circle cy=765.3 /></g><g class=b><circle cy=658.3 /><circle cy=703.9 /><circle cy=746.1 /><circle cy=767.3 /></g><g class=o><circle cy=591.5 /><circle cy=847.4 /></g></g><g transform="translate(1450.2)"><g class=o><circle cy=621.4 /><circle cy=244.5 /><circle cy=712.6 /><circle cy=751.2 /><circle cy=890.6 /><circle cy=817.1 /></g><g class=b><circle cy=580.6 /><circle cy=517.7 /><circle cy=632.8 /><circle cy=552.6 /></g><g class=o><circle cy=893.3 /></g><g class=b><circle cy=780.2 /></g><g class=o><circle cy=699.5 /><circle cy=906.6 /><circle cy=699.6 /><circle cy=648.2 /></g><g class=b><circle cy=659.2 /><circle cy=588.1 /><circle cy=470.3 /><circle cy=655.6 /><circle cy=783.8 /><circle cy=851 /><circle cy=613.2 /><circle cy=407.8 /></g><g class=o><circle cy=542 /><circle cy=762.1 /></g><g class=b><circle cy=747.1 /></g><g class=o><circle cy=806 /></g><g class=b><circle cy=638.9 /></g><g class=o><circle cy=1107.5 /><circle cy=731.9 /><circle cy=878.6 /><circle cy=758.9 /><circle cy=903.7 /><circle cy=752.8 /><circle cy=705.9 /></g></g><g transform="translate(1460.1)"><g class=b><circle cy=770.4 /><circle cy=585.6 /></g><g class=o><circle cy=648.6 /><circle cy=889.5 /></g><g class=b><circle cy=636 /><circle cy=687.8 /></g><g class=o><circle cy=923.2 /><circle cy=838.8 /></g><g class=b><circle cy=643 /></g><g class=o><circle cy=911.1 /></g><g class=b><circle cy=739.1 /></g><g class=o><circle cy=889.7 /><circle cy=1123.2 /><circle cy=828.5 /><circle cy=705.6 /><circle cy=823.4 /><circle cy=604.7 /></g><g class=b><circle cy=447.7 /></g><g class=o><circle cy=932.9 /><circle cy=793.3 /></g><g class=b><circle cy=845.5 /><circle cy=583.9 /><circle cy=640.3 /></g><g class=o><circle cy=919.4 /><circle cy=635.8 /></g><g class=b><circle cy=786.7 /></g><g class=o><circle cy=624.4 /><circle cy=706.1 /></g><g class=b><circle cy=559.2 /></g><g class=o><circle cy=700.8 /></g><g class=b><circle cy=591 /></g><g class=o><circle cy=256 /></g><g class=b><circle cy=787.5 /><circle cy=713.5 /></g><g class=o><circle cy=771.9 /></g><g class=b><circle cy=668.1 /></g><g class=o><circle cy=816.9 /></g><g class=b><circle cy=506.5 /></g><g class=o><circle cy=754.5 /></g><g class=b><circle cy=556.3 /></g><g class=o><circle cy=799.5 /><circle cy=797.2 /></g><g class=b><circle cy=534.5 /><circle cy=767.2 /><circle cy=605 /><circle cy=707.8 /><circle cy=868 /></g><g class=o><circle cy=819.2 /></g></g><g transform="translate(1470)"><g class=b><circle cy=603.7 /></g><g class=o><circle cy=633.2 /><circle cy=763.1 /><circle cy=771.6 /><circle cy=909.6 /><circle cy=937.5 /></g><g class=b><circle cy=789.3 /></g><g class=o><circle cy=796.8 /><circle cy=887 /><circle cy=955.2 /><circle cy=783.8 /></g><g class=b><circle cy=642.1 /></g><g class=o><circle cy=590.2 /><circle cy=599.2 /></g><g class=b><circle cy=563.3 /></g><g class=o><circle cy=724.8 /><circle cy=634 /></g><g class=b><circle cy=665.3 /></g><g class=o><circle cy=1122.1 /></g><g class=b><circle cy=432.6 /></g><g class=o><circle cy=772.1 /><circle cy=605.5 /><circle cy=771.5 /></g><g class=b><circle cy=631.3 /></g><g class=o><circle cy=653.6 /><circle cy=921.9 /></g><g class=b><circle cy=637.9 /></g><g class=o><circle cy=821.6 /></g><g class=b><circle cy=555.7 /></g><g class=o><circle cy=677.8 /><circle cy=897.3 /></g><g class=b><circle cy=717.8 /></g><g class=o><circle cy=608.3 /><circle cy=911.8 /><circle cy=645.4 /></g><g class=b><circle cy=815.2 /></g><g class=o><circle cy=712.2 /></g><g class=b><circle cy=739.3 /></g><g class=o><circle cy=776.2 /><circle cy=251.1 /></g><g class=b><circle cy=794.9 /></g><g class=o><circle cy=891.7 /><circle cy=766.8 /></g></g><g transform="translate(1479.9)"><g class=b><circle cy=526.5 /><circle cy=615.9 /></g><g class=o><circle cy=795 /><circle cy=786.4 /><circle cy=697.1 /><circle cy=1111.2 /></g><g class=b><circle cy=750.4 /></g><g class=o><circle cy=606.4 /><circle cy=791.6 /></g><g class=b><circle cy=649.5 /><circle cy=805.4 /></g><g class=o><circle cy=950 /></g><g class=b><circle cy=612.3 /></g><g class=o><circle cy=720.4 /><circle cy=254.2 /></g><g class=b><circle cy=854.6 /></g><g class=o><circle cy=713.2 /></g><g class=b><circle cy=557.1 /></g><g class=o><circle cy=849.8 /></g><g class=b><circle cy=661.1 /><circle cy=797.1 /></g><g class=o><circle cy=623.8 /></g><g class=b><circle cy=871.5 /><circle cy=591.8 /><circle cy=828.1 /><circle cy=597.3 /></g><g class=o><circle cy=734.7 /><circle cy=612.5 /></g><g class=b><circle cy=728.7 /></g><g class=o><circle cy=808.4 /></g><g class=b><circle cy=584.6 /><circle cy=459.3 /></g><g class=o><circle cy=835.3 /><circle cy=902.2 /><circle cy=901 /><circle cy=949.9 /></g><g class=b><circle cy=629.6 /><circle cy=873.4 /></g><g class=o><circle cy=764.1 /><circle cy=603.8 /><circle cy=636.6 /><circle cy=924.9 /></g><g class=b><circle cy=657 /><circle cy=590.2 /></g><g class=o><circle cy=745.4 /><circle cy=884.6 /></g><g class=b><circle cy=803.5 /><circle cy=614.5 /></g><g class=o><circle cy=650 /></g><g class=b><circle cy=696.9 /></g><g class=o><circle cy=702.2 /><circle cy=672.4 /></g></g><g transform="translate(1489.9)"><g class=o><circle cy=629.3 /></g><g class=b><circle cy=725.8 /><circle cy=690.5 /></g><g class=o><circle cy=850.2 /><circle cy=941.2 /></g><g class=b><circle cy=516.2 /><circle cy=730.3 /></g><g class=o><circle cy=709.6 /><circle cy=871.4 /><circle cy=815.8 /><circle cy=917.5 /></g><g class=b><circle cy=673.7 /></g><g class=o><circle cy=624.9 /><circle cy=692.8 /><circle cy=802.3 /><circle cy=926.7 /></g><g class=b><circle cy=682.3 /><circle cy=796.9 /><circle cy=615.8 /><circle cy=536.1 /><circle cy=407.8 /></g><g class=o><circle cy=914.5 /><circle cy=798.4 /></g><g class=b><circle cy=658.6 /></g><g class=o><circle cy=828.8 /><circle cy=773.1 /></g><g class=b><circle cy=873.2 /><circle cy=846 /></g><g class=o><circle cy=586 /></g><g class=b><circle cy=592.4 /></g><g class=o><circle cy=595.6 /><circle cy=610 /></g><g class=b><circle cy=548 /></g><g class=o><circle cy=938 /></g><g class=b><circle cy=634.5 /><circle cy=568.6 /></g><g class=o><circle cy=815.4 /><circle cy=846.8 /><circle cy=778.1 /><circle cy=737.4 /><circle cy=252.8 /><circle cy=790.2 /><circle cy=1116.6 /><circle cy=620.4 /></g></g><g transform="translate(1499.8)"><g class=o><circle cy=268.8 /><circle cy=936.3 /><circle cy=615.8 /><circle cy=713.5 /></g><g class=b><circle cy=844.6 /></g><g class=o><circle cy=680.8 /><circle cy=839.1 /><circle cy=912.8 /></g><g class=b><circle cy=410 /></g><g class=o><circle cy=626.5 /><circle cy=784.4 /><circle cy=791.3 /><circle cy=817.3 /></g><g class=b><circle cy=748.8 /></g><g class=o><circle cy=859.5 /><circle cy=928.1 /></g><g class=b><circle cy=686.7 /><circle cy=748.7 /><circle cy=710.4 /></g><g class=o><circle cy=770 /></g><g class=b><circle cy=603.7 /><circle cy=719.1 /></g><g class=o><circle cy=744.2 /><circle cy=1114.8 /><circle cy=619.4 /><circle cy=707.4 /><circle cy=804.2 /><circle cy=746.5 /><circle cy=768.2 /><circle cy=910 /><circle cy=892.5 /></g><g class=b><circle cy=653.2 /></g><g class=o><circle cy=643.7 /></g><g class=b><circle cy=746.4 /><circle cy=668.3 /></g><g class=o><circle cy=952.4 /></g></g><g transform="translate(1509.7)"><g class=b><circle cy=678.3 /><circle cy=630.3 /><circle cy=603.8 /><circle cy=755.4 /><circle cy=424.8 /></g><g class=o><circle cy=925.8 /></g><g class=b><circle cy=889.4 /><circle cy=684.3 /></g><g class=o><circle cy=844.8 /><circle cy=1122.1 /><circle cy=723.4 /><circle cy=778 /></g><g class=b><circle cy=605.8 /></g><g class=o><circle cy=830.6 /><circle cy=940.3 /></g><g class=b><circle cy=724.9 /></g><g class=o><circle cy=907.8 /></g><g class=b><circle cy=679.7 /><circle cy=601.3 /></g><g class=o><circle cy=626.3 /><circle cy=827.7 /><circle cy=720.4 /></g><g class=b><circle cy=850.8 /></g><g class=o><circle cy=767.9 /></g><g class=b><circle cy=729.7 /><circle cy=656.4 /></g><g class=o><circle cy=829.1 /></g><g class=b><circle cy=576.2 /><circle cy=554.7 /><circle cy=648.4 /><circle cy=578 /><circle cy=520.9 /></g><g class=o><circle cy=627.9 /></g><g class=b><circle cy=486.9 /><circle cy=595.7 /></g><g class=o><circle cy=601.9 /></g><g class=b><circle cy=747.5 /></g><g class=o><circle cy=777.9 /><circle cy=896.9 /><circle cy=778.6 /><circle cy=931.8 /><circle cy=620.1 /></g><g class=b><circle cy=752.1 /></g><g class=o><circle cy=578.8 /></g><g class=b><circle cy=600.9 /></g><g class=o><circle cy=648.7 /></g></g><g transform="translate(1519.7)"><g class=o><circle cy=621.5 /></g><g class=b><circle cy=701.5 /></g><g class=o><circle cy=892.9 /></g><g class=b><circle cy=625 /></g><g class=o><circle cy=828.4 /></g><g class=b><circle cy=825.6 /><circle cy=663.1 /></g><g class=o><circle cy=829.1 /></g><g class=b><circle cy=590.3 /></g><g class=o><circle cy=907.8 /></g><g class=b><circle cy=437.6 /></g><g class=o><circle cy=703.7 /><circle cy=729.5 /></g><g class=b><circle cy=537.8 /></g><g class=o><circle cy=882.2 /></g><g class=b><circle cy=675.1 /><circle cy=750.5 /></g><g class=o><circle cy=636.9 /><circle cy=795.3 /></g><g class=b><circle cy=853.9 /><circle cy=787.7 /><circle cy=898.2 /></g><g class=o><circle cy=941.3 /><circle cy=613.3 /></g><g class=b><circle cy=651.1 /></g><g class=o><circle cy=836.4 /></g><g class=b><circle cy=685.6 /></g><g class=o><circle cy=810.4 /><circle cy=918.7 /><circle cy=236 /></g><g class=b><circle cy=642.6 /></g><g class=o><circle cy=629.7 /><circle cy=938.4 /><circle cy=1125.7 /></g><g class=b><circle cy=585.1 /></g><g class=o><circle cy=631.9 /><circle cy=664.1 /><circle cy=593.1 /><circle cy=917.2 /><circle cy=911.2 /><circle cy=763.3 /><circle cy=925.4 /></g><g class=b><circle cy=598.1 /></g><g class=o><circle cy=772 /><circle cy=598.8 /></g></g><g transform="translate(1529.6)"><g class=o><circle cy=843.6 /><circle cy=794.7 /><circle cy=715.4 /></g><g class=b><circle cy=671.8 /></g><g class=o><circle cy=794.2 /></g><g class=b><circle cy=652.9 /></g><g class=o><circle cy=1129.4 /><circle cy=920.9 /><circle cy=830.4 /></g><g class=b><circle cy=482.2 /></g><g class=o><circle cy=782.5 /><circle cy=888.5 /><circle cy=630.3 /></g><g class=b><circle cy=429.8 /><circle cy=748.5 /></g><g class=o><circle cy=850.6 /><circle cy=946.1 /></g><g class=b><circle cy=603.3 /><circle cy=681.4 /></g><g class=o><circle cy=671.5 /><circle cy=897 /><circle cy=748.3 /><circle cy=800.6 /><circle cy=761.3 /><circle cy=605.8 /><circle cy=744.5 /></g><g class=b><circle cy=627 /></g><g class=o><circle cy=625.3 /><circle cy=888.3 /><circle cy=943.6 /></g><g class=b><circle cy=755.9 /><circle cy=592.8 /></g><g class=o><circle cy=925.9 /></g></g><g transform="translate(1539.5)"><g class=b><circle cy=869.7 /><circle cy=482.2 /><circle cy=757.6 /><circle cy=595.7 /></g><g class=o><circle cy=906.4 /></g><g class=b><circle cy=524.1 /><circle cy=842.3 /></g><g class=o><circle cy=597.3 /><circle cy=703.3 /></g><g class=b><circle cy=765.1 /></g><g class=o><circle cy=872.1 /><circle cy=784.1 /><circle cy=650.6 /><circle cy=886.9 /><circle cy=612.9 /></g><g class=b><circle cy=595.9 /></g><g class=o><circle cy=727 /></g><g class=b><circle cy=632.7 /></g><g class=o><circle cy=947 /><circle cy=923.2 /><circle cy=920.7 /><circle cy=726.3 /><circle cy=847.8 /><circle cy=759.1 /><circle cy=774.5 /><circle cy=788.8 /><circle cy=779.5 /><circle cy=239 /></g><g class=b><circle cy=591.3 /></g><g class=o><circle cy=820.4 /><circle cy=877.6 /></g><g class=b><circle cy=714.8 /></g><g class=o><circle cy=807.1 /><circle cy=764.6 /></g><g class=b><circle cy=662.9 /></g><g class=o><circle cy=709.9 /></g><g class=b><circle cy=561.3 /></g><g class=o><circle cy=757.9 /></g><g class=b><circle cy=848.6 /><circle cy=666.8 /><circle cy=581.8 /></g><g class=o><circle cy=911.2 /><circle cy=1135.9 /><circle cy=630.1 /></g><g class=b><circle cy=664.5 /></g></g><g transform="translate(1549.4)"><g class=b><circle cy=579.6 /></g><g class=o><circle cy=714.3 /><circle cy=866.2 /><circle cy=942.2 /><circle cy=756.2 /><circle cy=764.8 /><circle cy=877.6 /></g><g class=b><circle cy=742.6 /><circle cy=531 /><circle cy=611.8 /></g><g class=o><circle cy=691.9 /><circle cy=932.8 /></g><g class=b><circle cy=586.9 /></g><g class=o><circle cy=712.2 /><circle cy=806.1 /><circle cy=770.9 /><circle cy=644.4 /><circle cy=1138.5 /><circle cy=608.1 /><circle cy=924.8 /><circle cy=788.1 /></g><g class=b><circle cy=522.2 /><circle cy=592.8 /></g><g class=o><circle cy=578.1 /></g><g class=b><circle cy=690.3 /></g><g class=o><circle cy=834.7 /></g><g class=b><circle cy=628.8 /><circle cy=689.6 /></g><g class=o><circle cy=779.2 /><circle cy=599 /><circle cy=948.2 /><circle cy=709.2 /><circle cy=861.5 /><circle cy=637.5 /></g><g class=b><circle cy=525.7 /></g><g class=o><circle cy=623.9 /><circle cy=639.1 /></g><g class=b><circle cy=887.1 /><circle cy=592.8 /></g><g class=o><circle cy=876.8 /><circle cy=866.7 /><circle cy=248.2 /></g><g class=b><circle cy=775.1 /></g><g class=o><circle cy=786.7 /><circle cy=922.3 /></g><g class=b><circle cy=705.9 /><circle cy=661.2 /></g><g class=o><circle cy=803.9 /></g><g class=b><circle cy=582.8 /></g></g><g transform="translate(1559.4)"><g class=b><circle cy=654.8 /></g><g class=o><circle cy=625.9 /><circle cy=834.1 /></g><g class=b><circle cy=874.5 /><circle cy=599.6 /></g><g class=o><circle cy=865.3 /></g><g class=b><circle cy=675.4 /></g><g class=o><circle cy=905.3 /></g><g class=b><circle cy=700.7 /></g><g class=o><circle cy=807.2 /></g><g class=b><circle cy=626.7 /></g><g class=o><circle cy=923.7 /></g><g class=b><circle cy=763.4 /><circle cy=347.9 /></g><g class=o><circle cy=792.8 /><circle cy=744.3 /></g><g class=b><circle cy=796.1 /></g><g class=o><circle cy=1149.2 /><circle cy=766 /><circle cy=923.8 /><circle cy=837 /></g><g class=b><circle cy=719.9 /><circle cy=533.7 /></g><g class=o><circle cy=952.5 /></g><g class=b><circle cy=594.1 /><circle cy=761.1 /></g><g class=o><circle cy=639.7 /><circle cy=823 /><circle cy=597.5 /><circle cy=919.5 /><circle cy=1145.8 /></g><g class=b><circle cy=635.2 /></g><g class=o><circle cy=943.7 /><circle cy=798.9 /></g><g class=b><circle cy=728.4 /></g><g class=o><circle cy=654.3 /><circle cy=891.6 /><circle cy=761.9 /><circle cy=758.1 /><circle cy=583.3 /></g><g class=b><circle cy=849 /></g><g class=o><circle cy=594.1 /></g></g><g transform="translate(1569.3)"><g class=b><circle cy=765.6 /></g><g class=o><circle cy=587.9 /><circle cy=914.8 /></g><g class=b><circle cy=542.4 /></g><g class=o><circle cy=639.9 /></g><g class=b><circle cy=646.6 /></g><g class=o><circle cy=761.7 /><circle cy=622.2 /><circle cy=757.3 /></g><g class=b><circle cy=701.8 /></g><g class=o><circle cy=908.8 /><circle cy=753.1 /><circle cy=809.8 /><circle cy=932.3 /></g><g class=b><circle cy=852.3 /><circle cy=609.4 /></g><g class=o><circle cy=943 /><circle cy=809.8 /><circle cy=754.6 /></g><g class=b><circle cy=672.6 /></g><g class=o><circle cy=827 /></g><g class=b><circle cy=784.2 /><circle cy=601.8 /></g><g class=o><circle cy=873.8 /></g><g class=b><circle cy=587.8 /><circle cy=781 /><circle cy=704.6 /><circle cy=851.2 /><circle cy=367.7 /><circle cy=648.1 /><circle cy=591.8 /><circle cy=713.7 /></g><g class=o><circle cy=251.1 /><circle cy=958.3 /></g><g class=b><circle cy=768.7 /><circle cy=540.9 /></g><g class=o><circle cy=808.4 /></g><g class=b><circle cy=744.2 /></g><g class=o><circle cy=586.7 /></g><g class=b><circle cy=618 /></g><g class=o><circle cy=1148.3 /></g><g class=b><circle cy=622.4 /><circle cy=637.2 /></g><g class=o><circle cy=683 /><circle cy=914.2 /><circle cy=782 /></g></g><g transform="translate(1579.2)"><g class=o><circle cy=1160.3 /></g><g class=b><circle cy=715.8 /></g><g class=o><circle cy=751.7 /><circle cy=920.6 /></g><g class=b><circle cy=774.4 /><circle cy=783.9 /><circle cy=637.8 /></g><g class=o><circle cy=791.6 /></g><g class=b><circle cy=400.6 /></g><g class=o><circle cy=902.9 /></g><g class=b><circle cy=690.2 /><circle cy=639.2 /></g><g class=o><circle cy=942.8 /><circle cy=744.3 /><circle cy=678.9 /><circle cy=864 /><circle cy=592.3 /><circle cy=749.8 /></g><g class=b><circle cy=734.9 /><circle cy=526.5 /></g><g class=o><circle cy=768.6 /><circle cy=886 /><circle cy=776.8 /><circle cy=949.6 /><circle cy=961.9 /></g><g class=b><circle cy=617.4 /></g><g class=o><circle cy=681.9 /><circle cy=632.9 /><circle cy=600.6 /><circle cy=793.9 /><circle cy=785.8 /></g><g class=b><circle cy=851.2 /></g><g class=o><circle cy=884.4 /></g><g class=b><circle cy=777.5 /></g><g class=o><circle cy=913 /></g><g class=b><circle cy=598.4 /></g><g class=o><circle cy=588.7 /><circle cy=670.6 /></g><g class=b><circle cy=594.2 /></g><g class=o><circle cy=802.8 /></g><g class=b><circle cy=622.4 /></g><g class=o><circle cy=594.5 /></g><g class=b><circle cy=671.9 /></g><g class=o><circle cy=736.2 /><circle cy=826 /></g><g class=b><circle cy=885.8 /></g></g><g transform="translate(1589.2)"><g class=b><circle cy=799.2 /><circle cy=407.8 /><circle cy=651.2 /></g><g class=o><circle cy=705.9 /><circle cy=1152.3 /><circle cy=763.4 /><circle cy=789.7 /></g><g class=b><circle cy=746 /><circle cy=879.1 /></g><g class=o><circle cy=664.6 /><circle cy=680.2 /><circle cy=744.9 /><circle cy=852.7 /></g><g class=b><circle cy=598.8 /></g><g class=o><circle cy=841.3 /></g><g class=b><circle cy=741.8 /></g><g class=o><circle cy=920.1 /><circle cy=898.3 /><circle cy=691.7 /></g><g class=b><circle cy=768.7 /></g><g class=o><circle cy=213 /></g><g class=b><circle cy=683.3 /></g><g class=o><circle cy=962.3 /><circle cy=787.7 /></g><g class=b><circle cy=631.2 /></g><g class=o><circle cy=608.9 /><circle cy=966.3 /><circle cy=920.8 /></g><g class=b><circle cy=654.5 /></g><g class=o><circle cy=613.1 /><circle cy=933.6 /></g><g class=b><circle cy=598.2 /></g><g class=o><circle cy=878.7 /><circle cy=888.8 /><circle cy=881.1 /><circle cy=591 /><circle cy=779.6 /></g><g class=b><circle cy=752.8 /></g><g class=o><circle cy=872.5 /></g><g class=b><circle cy=884.6 /><circle cy=726.6 /></g><g class=o><circle cy=774.8 /><circle cy=725.7 /><circle cy=582.1 /><circle cy=757.7 /></g></g><g transform="translate(1599.1)"><g class=b><circle cy=716.9 /><circle cy=679.1 /></g><g class=o><circle cy=808 /></g><g class=b><circle cy=770 /></g><g class=o><circle cy=245 /><circle cy=856.7 /></g><g class=b><circle cy=673.4 /><circle cy=407.8 /><circle cy=738.3 /><circle cy=638.4 /></g><g class=o><circle cy=944.4 /></g><g class=b><circle cy=563.8 /><circle cy=648.8 /><circle cy=905.2 /><circle cy=629.2 /></g><g class=o><circle cy=894.8 /><circle cy=631.8 /><circle cy=814.5 /></g><g class=b><circle cy=771.6 /></g><g class=o><circle cy=643.5 /><circle cy=957.2 /><circle cy=783.1 /></g><g class=b><circle cy=641.6 /></g><g class=o><circle cy=894.8 /><circle cy=849.5 /></g><g class=b><circle cy=775.8 /></g><g class=o><circle cy=800.5 /></g><g class=b><circle cy=588.9 /></g><g class=o><circle cy=786 /><circle cy=804.4 /></g><g class=b><circle cy=703.3 /></g><g class=o><circle cy=594.4 /><circle cy=1149.4 /><circle cy=785.2 /><circle cy=762.1 /><circle cy=665.5 /><circle cy=589 /><circle cy=594 /></g><g class=b><circle cy=681.3 /></g><g class=o><circle cy=964.5 /><circle cy=783 /><circle cy=922.8 /></g><g class=b><circle cy=649.9 /></g></g><g transform="translate(1609)"><g class=b><circle cy=756.9 /></g><g class=o><circle cy=752 /><circle cy=900.2 /><circle cy=630 /><circle cy=784.4 /><circle cy=800.5 /><circle cy=957.5 /><circle cy=782.8 /><circle cy=589.8 /><circle cy=799.2 /><circle cy=702.9 /></g><g class=b><circle cy=789.3 /><circle cy=892.6 /></g><g class=o><circle cy=883.7 /></g><g class=b><circle cy=717.5 /></g><g class=o><circle cy=812 /></g><g class=b><circle cy=769.1 /><circle cy=432.6 /><circle cy=872 /></g><g class=o><circle cy=956.6 /><circle cy=672 /></g><g class=b><circle cy=858.8 /></g><g class=o><circle cy=972.2 /></g><g class=b><circle cy=634.7 /></g><g class=o><circle cy=889.5 /><circle cy=733 /></g><g class=b><circle cy=773 /></g><g class=o><circle cy=950 /><circle cy=852.7 /></g><g class=b><circle cy=547.6 /></g><g class=o><circle cy=887.9 /></g><g class=b><circle cy=629.6 /><circle cy=857.4 /><circle cy=731.9 /></g><g class=o><circle cy=789.8 /></g><g class=b><circle cy=592.9 /></g><g class=o><circle cy=1147.6 /></g><g class=b><circle cy=594.6 /><circle cy=649 /></g></g><g transform="translate(1619)"><g class=o><circle cy=879.3 /></g><g class=b><circle cy=795.1 /></g><g class=o><circle cy=781.8 /></g><g class=b><circle cy=579.4 /></g><g class=o><circle cy=943.4 /><circle cy=782.6 /></g><g class=b><circle cy=723.2 /></g><g class=o><circle cy=923.7 /></g><g class=b><circle cy=586.1 /><circle cy=898.7 /><circle cy=730.7 /><circle cy=616.7 /></g><g class=o><circle cy=871 /><circle cy=1144 /><circle cy=710 /><circle cy=927.3 /></g><g class=b><circle cy=731.4 /></g><g class=o><circle cy=691.2 /><circle cy=760.6 /><circle cy=666.1 /><circle cy=795.4 /></g><g class=b><circle cy=625.4 /></g><g class=o><circle cy=951.6 /></g><g class=b><circle cy=538.6 /></g><g class=o><circle cy=695.3 /><circle cy=701.1 /><circle cy=248 /></g><g class=b><circle cy=720.6 /><circle cy=758 /></g><g class=o><circle cy=782.7 /><circle cy=620.2 /></g><g class=b><circle cy=629.6 /><circle cy=644.4 /></g><g class=o><circle cy=791.3 /><circle cy=700.5 /></g><g class=b><circle cy=795.4 /><circle cy=428.2 /><circle cy=457.1 /></g><g class=o><circle cy=856.1 /></g><g class=b><circle cy=864.6 /></g><g class=o><circle cy=966.8 /></g></g><g transform="translate(1628.9)"><g class=o><circle cy=894.7 /></g><g class=b><circle cy=547.1 /></g><g class=o><circle cy=874.6 /><circle cy=686.4 /></g><g class=b><circle cy=883.2 /><circle cy=690 /></g><g class=o><circle cy=892.4 /><circle cy=739.9 /><circle cy=626.6 /></g><g class=b><circle cy=583.4 /></g><g class=o><circle cy=679.6 /><circle cy=729.8 /><circle cy=854.2 /></g><g class=b><circle cy=572.8 /></g><g class=o><circle cy=608.9 /><circle cy=925.9 /><circle cy=597.6 /></g><g class=b><circle cy=782.4 /></g><g class=o><circle cy=940.4 /></g><g class=b><circle cy=407.8 /></g><g class=o><circle cy=812.7 /><circle cy=861.1 /></g><g class=b><circle cy=621 /></g><g class=o><circle cy=928.9 /><circle cy=859.9 /><circle cy=762.2 /><circle cy=809.8 /></g><g class=b><circle cy=588.6 /></g><g class=o><circle cy=246.2 /></g><g class=b><circle cy=747 /></g><g class=o><circle cy=820.1 /></g><g class=b><circle cy=631.4 /></g><g class=o><circle cy=744.7 /></g><g class=b><circle cy=714.6 /></g><g class=o><circle cy=723.5 /><circle cy=1140.3 /><circle cy=715 /></g><g class=b><circle cy=597.9 /></g><g class=o><circle cy=866.3 /></g></g><g transform="translate(1638.8)"><g class=b><circle cy=587.6 /></g><g class=o><circle cy=754.6 /></g><g class=b><circle cy=562.9 /><circle cy=724.4 /></g><g class=o><circle cy=770.3 /></g><g class=b><circle cy=815.5 /></g><g class=o><circle cy=803.7 /><circle cy=754.7 /></g><g class=b><circle cy=675 /></g><g class=o><circle cy=903.5 /><circle cy=906.4 /><circle cy=896.4 /></g><g class=b><circle cy=630.6 /></g><g class=o><circle cy=617.5 /><circle cy=845.8 /><circle cy=839.8 /></g><g class=b><circle cy=620.7 /><circle cy=619.5 /><circle cy=428.2 /></g><g class=o><circle cy=855.3 /></g><g class=b><circle cy=798.8 /><circle cy=599.5 /></g><g class=o><circle cy=949.9 /></g><g class=b><circle cy=574.2 /><circle cy=884.9 /><circle cy=610 /></g><g class=o><circle cy=925.4 /></g><g class=b><circle cy=613.9 /></g><g class=o><circle cy=965.1 /><circle cy=614.2 /><circle cy=654.3 /><circle cy=747.5 /><circle cy=1140.3 /></g><g class=b><circle cy=638.6 /></g><g class=o><circle cy=764.7 /><circle cy=790.9 /><circle cy=849.1 /><circle cy=941.2 /></g><g class=b><circle cy=565.5 /></g><g class=o><circle cy=666.2 /><circle cy=925 /><circle cy=760.4 /><circle cy=610.3 /><circle cy=224.4 /><circle cy=795 /></g><g class=b><circle cy=530.3 /></g><g class=o><circle cy=595.2 /></g></g><g transform="translate(1648.7)"><g class=o><circle cy=859.1 /></g><g class=b><circle cy=410 /><circle cy=816.5 /><circle cy=892.2 /><circle cy=588.1 /></g><g class=o><circle cy=871.3 /></g><g class=b><circle cy=878.6 /></g><g class=o><circle cy=764.4 /><circle cy=946.5 /><circle cy=598.3 /><circle cy=687.6 /><circle cy=972 /><circle cy=804.7 /><circle cy=743.3 /></g><g class=b><circle cy=568.7 /></g><g class=o><circle cy=646.4 /></g><g class=b><circle cy=625.7 /><circle cy=806.3 /><circle cy=602.4 /></g><g class=o><circle cy=900.9 /><circle cy=920.1 /><circle cy=955.5 /><circle cy=847.4 /></g><g class=b><circle cy=541.8 /><circle cy=887.5 /><circle cy=660.1 /><circle cy=806.5 /><circle cy=639 /></g><g class=o><circle cy=637.7 /></g><g class=b><circle cy=455.5 /><circle cy=634 /><circle cy=662.1 /></g><g class=o><circle cy=738.3 /><circle cy=1163.3 /><circle cy=766.2 /></g><g class=b><circle cy=867.5 /><circle cy=617.5 /><circle cy=549.3 /></g><g class=o><circle cy=920.7 /><circle cy=617.6 /></g><g class=b><circle cy=586.1 /><circle cy=693.9 /></g><g class=o><circle cy=766.8 /></g><g class=b><circle cy=622.7 /></g><g class=o><circle cy=871.2 /><circle cy=887.1 /><circle cy=592.9 /></g><g class=b><circle cy=618.8 /></g><g class=o><circle cy=817 /><circle cy=724.6 /><circle cy=765.6 /></g></g><g transform="translate(1658.7)"><g class=o><circle cy=961.3 /></g><g class=b><circle cy=799.8 /><circle cy=649.2 /><circle cy=741.1 /></g><g class=o><circle cy=610.4 /><circle cy=595 /></g><g class=b><circle cy=614 /><circle cy=895.3 /></g><g class=o><circle cy=758.3 /><circle cy=747.8 /><circle cy=1166.5 /></g><g class=b><circle cy=715 /></g><g class=o><circle cy=867 /><circle cy=936.7 /><circle cy=977.2 /></g><g class=b><circle cy=873.9 /><circle cy=674.7 /><circle cy=410 /></g><g class=o><circle cy=789.7 /></g><g class=b><circle cy=591.1 /></g><g class=o><circle cy=752.6 /><circle cy=757.5 /></g><g class=b><circle cy=607.4 /><circle cy=607.4 /></g><g class=o><circle cy=860.8 /><circle cy=730.7 /></g><g class=b><circle cy=670.8 /></g><g class=o><circle cy=589.2 /><circle cy=829.7 /><circle cy=814.8 /></g><g class=b><circle cy=569.1 /></g><g class=o><circle cy=938.4 /><circle cy=603 /></g><g class=b><circle cy=700.5 /></g><g class=o><circle cy=652.7 /><circle cy=751.9 /><circle cy=903.6 /><circle cy=789.3 /></g><g class=b><circle cy=815.8 /></g><g class=o><circle cy=857.9 /></g><g class=b><circle cy=709.1 /><circle cy=560.7 /></g><g class=o><circle cy=782.1 /></g><g class=b><circle cy=555.8 /></g><g class=o><circle cy=868 /><circle cy=962.5 /></g><g class=b><circle cy=518.4 /></g></g><g transform="translate(1668.6)"><g class=b><circle cy=631.1 /><circle cy=609.7 /></g><g class=o><circle cy=949.4 /><circle cy=794.9 /><circle cy=765.5 /><circle cy=866.1 /></g><g class=b><circle cy=790.2 /><circle cy=797.1 /></g><g class=o><circle cy=955.3 /><circle cy=794.8 /><circle cy=952.3 /><circle cy=805.2 /><circle cy=586.1 /><circle cy=885.5 /><circle cy=757.6 /><circle cy=958.8 /></g><g class=b><circle cy=606.2 /></g><g class=o><circle cy=762 /><circle cy=712 /><circle cy=673.4 /><circle cy=755.8 /><circle cy=1156.7 /></g><g class=b><circle cy=849.3 /></g><g class=o><circle cy=936.3 /><circle cy=785.3 /><circle cy=886.3 /><circle cy=873.6 /></g><g class=b><circle cy=417.9 /></g><g class=o><circle cy=863.3 /></g><g class=b><circle cy=684.2 /><circle cy=670.3 /><circle cy=625.2 /><circle cy=667.9 /></g><g class=o><circle cy=886.2 /></g><g class=b><circle cy=607.7 /></g><g class=o><circle cy=834.1 /></g><g class=b><circle cy=863.1 /><circle cy=565.6 /></g><g class=o><circle cy=866.2 /></g><g class=b><circle cy=600.1 /></g><g class=o><circle cy=601.7 /></g><g class=b><circle cy=697.9 /><circle cy=627 /></g><g class=o><circle cy=774.4 /><circle cy=746.7 /></g></g><g transform="translate(1678.5)"><g class=o><circle cy=887.8 /><circle cy=828.9 /><circle cy=891.9 /><circle cy=928.1 /><circle cy=625.7 /><circle cy=955.7 /></g><g class=b><circle cy=479 /><circle cy=635.7 /></g><g class=o><circle cy=794.5 /></g><g class=b><circle cy=649.8 /></g><g class=o><circle cy=966.7 /><circle cy=777.9 /></g><g class=b><circle cy=584.7 /><circle cy=862.1 /></g><g class=o><circle cy=857.8 /></g><g class=b><circle cy=768.3 /></g><g class=o><circle cy=235.3 /></g><g class=b><circle cy=550.6 /></g><g class=o><circle cy=590.1 /></g><g class=b><circle cy=831 /></g><g class=o><circle cy=944.8 /></g><g class=b><circle cy=803.1 /></g><g class=o><circle cy=878.4 /></g><g class=b><circle cy=873.2 /></g><g class=o><circle cy=896.3 /></g><g class=b><circle cy=612.6 /><circle cy=578.7 /></g><g class=o><circle cy=682.4 /></g><g class=b><circle cy=651.6 /></g><g class=o><circle cy=950.8 /></g><g class=b><circle cy=644.9 /></g><g class=o><circle cy=585.8 /><circle cy=701.7 /><circle cy=958.5 /><circle cy=890.2 /><circle cy=776 /><circle cy=664.9 /><circle cy=741.6 /><circle cy=868.8 /><circle cy=1161.4 /><circle cy=752.7 /></g><g class=b><circle cy=786.6 /><circle cy=714.3 /></g></g><g transform="translate(1688.5)"><g class=b><circle cy=858.6 /><circle cy=545.8 /></g><g class=o><circle cy=581 /><circle cy=760.6 /><circle cy=1155.6 /><circle cy=758.1 /></g><g class=b><circle cy=773.1 /><circle cy=587.4 /></g><g class=o><circle cy=750.5 /><circle cy=861.6 /><circle cy=787.7 /></g><g class=b><circle cy=597.3 /></g><g class=o><circle cy=245 /></g><g class=b><circle cy=817.7 /><circle cy=781.5 /></g><g class=o><circle cy=645.3 /><circle cy=810.2 /></g><g class=b><circle cy=699 /></g><g class=o><circle cy=835.4 /></g><g class=b><circle cy=705.8 /></g><g class=o><circle cy=972.2 /></g><g class=b><circle cy=559.4 /><circle cy=621.2 /></g><g class=o><circle cy=769.4 /><circle cy=793.7 /></g><g class=b><circle cy=605.8 /></g><g class=o><circle cy=876.2 /></g><g class=b><circle cy=849.8 /></g><g class=o><circle cy=878.5 /><circle cy=621 /><circle cy=602 /></g><g class=b><circle cy=695.4 /></g><g class=o><circle cy=854.3 /><circle cy=966 /><circle cy=764.4 /></g><g class=b><circle cy=689.3 /></g><g class=o><circle cy=955.4 /><circle cy=594.9 /><circle cy=773.3 /><circle cy=809.9 /><circle cy=745.5 /></g><g class=b><circle cy=718.7 /></g><g class=o><circle cy=679.1 /></g><g class=b><circle cy=618.2 /></g><g class=o><circle cy=730.8 /></g></g><g transform="translate(1698.4)"><g class=o><circle cy=741.2 /><circle cy=884.6 /></g><g class=b><circle cy=619.5 /></g><g class=o><circle cy=819.6 /></g><g class=b><circle cy=729.6 /></g><g class=o><circle cy=1163.3 /><circle cy=226.3 /></g><g class=b><circle cy=686.1 /><circle cy=727.7 /><circle cy=737.7 /><circle cy=635.8 /></g><g class=o><circle cy=723.9 /><circle cy=862.3 /><circle cy=820.6 /></g><g class=b><circle cy=493.8 /><circle cy=530.7 /></g><g class=o><circle cy=899.5 /></g><g class=b><circle cy=550.2 /><circle cy=861.2 /><circle cy=876.3 /></g><g class=o><circle cy=847.6 /><circle cy=604.6 /></g><g class=b><circle cy=575.3 /></g><g class=o><circle cy=966.8 /><circle cy=593.7 /></g><g class=b><circle cy=641.4 /><circle cy=621.9 /></g><g class=o><circle cy=602 /><circle cy=719.2 /></g><g class=b><circle cy=600.6 /></g><g class=o><circle cy=688.8 /><circle cy=954.6 /><circle cy=801 /></g><g class=b><circle cy=601 /></g><g class=o><circle cy=807.7 /></g><g class=b><circle cy=689 /></g><g class=o><circle cy=701.9 /><circle cy=604.5 /><circle cy=879.3 /><circle cy=764.2 /></g><g class=b><circle cy=790.5 /></g><g class=o><circle cy=852.9 /><circle cy=925.2 /><circle cy=986.4 /><circle cy=663.6 /></g></g><g transform="translate(1708.3)"><g class=o><circle cy=621.1 /><circle cy=720.3 /><circle cy=765.8 /></g><g class=b><circle cy=854.7 /><circle cy=537.2 /></g><g class=o><circle cy=960.8 /><circle cy=593.5 /></g><g class=b><circle cy=658.6 /><circle cy=608.8 /></g><g class=o><circle cy=869.5 /><circle cy=224.4 /><circle cy=758.6 /><circle cy=894.4 /><circle cy=601.1 /><circle cy=980.3 /></g><g class=b><circle cy=429.8 /></g><g class=o><circle cy=575.3 /><circle cy=824.2 /><circle cy=586.7 /><circle cy=785.9 /><circle cy=952.8 /><circle cy=758 /><circle cy=588.8 /><circle cy=819.7 /><circle cy=961.9 /><circle cy=610.8 /></g><g class=b><circle cy=707.4 /></g><g class=o><circle cy=809.1 /><circle cy=847.5 /></g><g class=b><circle cy=612.6 /><circle cy=514 /><circle cy=718 /><circle cy=568.4 /><circle cy=637.2 /></g><g class=o><circle cy=889.8 /><circle cy=1169.5 /><circle cy=890 /></g><g class=b><circle cy=864.7 /></g><g class=o><circle cy=714.7 /><circle cy=744.1 /></g><g class=b><circle cy=641.3 /><circle cy=728.7 /></g><g class=o><circle cy=764.1 /><circle cy=969.8 /><circle cy=868.1 /></g></g><g transform="translate(1718.2)"><g class=b><circle cy=618.3 /><circle cy=882.8 /></g><g class=o><circle cy=677.4 /><circle cy=874.5 /><circle cy=614.9 /></g><g class=b><circle cy=821.8 /><circle cy=865.5 /></g><g class=o><circle cy=711.5 /></g><g class=b><circle cy=558.8 /></g><g class=o><circle cy=811 /></g><g class=b><circle cy=667.8 /></g><g class=o><circle cy=584.5 /><circle cy=984.9 /><circle cy=818.6 /></g><g class=b><circle cy=407.8 /></g><g class=o><circle cy=880.7 /></g><g class=b><circle cy=623 /></g><g class=o><circle cy=809.2 /><circle cy=580.4 /><circle cy=790.3 /><circle cy=633.4 /><circle cy=729.1 /><circle cy=652.7 /></g><g class=b><circle cy=640.2 /></g><g class=o><circle cy=947.9 /></g><g class=b><circle cy=515.9 /></g><g class=o><circle cy=743.1 /><circle cy=1171.3 /><circle cy=600.1 /></g><g class=b><circle cy=588.3 /></g><g class=o><circle cy=943.4 /><circle cy=784.2 /><circle cy=945 /></g><g class=b><circle cy=868.6 /></g><g class=o><circle cy=700.9 /><circle cy=835.3 /></g></g><g transform="translate(1728.2)"><g class=o><circle cy=178.9 /><circle cy=712.9 /><circle cy=842.4 /><circle cy=884.8 /><circle cy=798.5 /></g><g class=b><circle cy=607 /></g><g class=o><circle cy=837.3 /></g><g class=b><circle cy=871.7 /></g><g class=o><circle cy=653.9 /><circle cy=819 /><circle cy=974.3 /><circle cy=619.3 /><circle cy=835 /><circle cy=946.1 /></g><g class=b><circle cy=641.1 /></g><g class=o><circle cy=566.5 /><circle cy=667.6 /></g><g class=b><circle cy=655.9 /></g><g class=o><circle cy=812.6 /><circle cy=617.3 /></g><g class=b><circle cy=692 /></g><g class=o><circle cy=1158.5 /><circle cy=592.1 /></g><g class=b><circle cy=668 /><circle cy=860.7 /></g><g class=o><circle cy=892.8 /><circle cy=784.8 /><circle cy=774.6 /></g><g class=b><circle cy=879.5 /><circle cy=523.8 /></g><g class=o><circle cy=798.6 /></g><g class=b><circle cy=652.5 /></g><g class=o><circle cy=763.4 /></g><g class=b><circle cy=757.3 /></g><g class=o><circle cy=876.6 /></g><g class=b><circle cy=390.2 /></g><g class=o><circle cy=877.8 /></g><g class=b><circle cy=573.4 /><circle cy=812.6 /></g><g class=o><circle cy=954.2 /><circle cy=904.8 /><circle cy=782.8 /></g><g class=b><circle cy=640.2 /></g><g class=o><circle cy=794.5 /></g><g class=b><circle cy=443.9 /><circle cy=603.4 /><circle cy=812.1 /></g></g><g transform="translate(1738.1)"><g class=b><circle cy=732.2 /></g><g class=o><circle cy=967.7 /><circle cy=600.2 /></g><g class=b><circle cy=723.1 /></g><g class=o><circle cy=947.1 /></g><g class=b><circle cy=612 /></g><g class=o><circle cy=864.1 /></g><g class=b><circle cy=471.2 /></g><g class=o><circle cy=823.9 /></g><g class=b><circle cy=670.6 /></g><g class=o><circle cy=815.8 /><circle cy=948.9 /></g><g class=b><circle cy=629.7 /></g><g class=o><circle cy=1177.5 /><circle cy=674.6 /><circle cy=727.2 /><circle cy=873.2 /><circle cy=581.9 /><circle cy=609.9 /><circle cy=810.4 /><circle cy=939.9 /><circle cy=823.6 /></g><g class=b><circle cy=529.6 /><circle cy=887.2 /></g><g class=o><circle cy=752.5 /></g><g class=b><circle cy=720.9 /></g><g class=o><circle cy=788.7 /><circle cy=857.8 /><circle cy=744.6 /><circle cy=778.8 /></g><g class=b><circle cy=808.7 /><circle cy=879.4 /><circle cy=701.9 /><circle cy=695 /></g><g class=o><circle cy=767.4 /></g><g class=b><circle cy=771.5 /><circle cy=640.7 /></g><g class=o><circle cy=697.5 /></g><g class=b><circle cy=804 /></g><g class=o><circle cy=973.7 /></g><g class=b><circle cy=595.3 /><circle cy=781.6 /><circle cy=768.6 /></g><g class=o><circle cy=790.2 /><circle cy=928.3 /></g></g><g transform="translate(1748)"><g class=b><circle cy=633.2 /><circle cy=895 /></g><g class=o><circle cy=647 /></g><g class=b><circle cy=628.5 /></g><g class=o><circle cy=756.7 /></g><g class=b><circle cy=745.2 /></g><g class=o><circle cy=955.8 /><circle cy=945.6 /><circle cy=800.2 /><circle cy=732.1 /><circle cy=890.1 /></g><g class=b><circle cy=705.4 /><circle cy=710 /><circle cy=373 /></g><g class=o><circle cy=832.5 /><circle cy=980.2 /><circle cy=841.2 /><circle cy=763.6 /></g><g class=b><circle cy=539.8 /><circle cy=797.1 /></g><g class=o><circle cy=1166.5 /><circle cy=585.9 /></g><g class=b><circle cy=832.9 /></g><g class=o><circle cy=216.4 /><circle cy=695.5 /></g><g class=b><circle cy=686 /></g><g class=o><circle cy=759.3 /><circle cy=825.2 /></g><g class=b><circle cy=719.5 /></g><g class=o><circle cy=577.4 /><circle cy=892.6 /></g><g class=b><circle cy=611 /></g><g class=o><circle cy=789.7 /><circle cy=891.2 /></g><g class=b><circle cy=894 /></g><g class=o><circle cy=654.6 /></g><g class=b><circle cy=533.3 /></g><g class=o><circle cy=722.6 /></g><g class=b><circle cy=647.2 /><circle cy=615.7 /></g><g class=o><circle cy=769.5 /><circle cy=941.9 /><circle cy=838 /></g><g class=b><circle cy=801.9 /></g><g class=o><circle cy=664.5 /><circle cy=773.8 /><circle cy=682.4 /><circle cy=625.5 /><circle cy=779.5 /><circle cy=792.5 /></g></g><g transform="translate(1758)"><g class=o><circle cy=805.5 /><circle cy=966.6 /><circle cy=816.2 /></g><g class=b><circle cy=867.8 /></g><g class=o><circle cy=701.1 /><circle cy=614.8 /><circle cy=1162.9 /><circle cy=722.7 /></g><g class=b><circle cy=785.4 /></g><g class=o><circle cy=220 /></g><g class=b><circle cy=628.3 /><circle cy=712.5 /></g><g class=o><circle cy=876.1 /><circle cy=711.4 /><circle cy=897.4 /></g><g class=b><circle cy=729.9 /></g><g class=o><circle cy=591.4 /><circle cy=735.9 /></g><g class=b><circle cy=527.9 /><circle cy=639.8 /></g><g class=o><circle cy=681.4 /><circle cy=750.5 /><circle cy=617.4 /><circle cy=958.5 /><circle cy=949.8 /></g><g class=b><circle cy=497.9 /></g><g class=o><circle cy=763.1 /><circle cy=988 /><circle cy=810 /></g><g class=b><circle cy=606 /><circle cy=600.7 /><circle cy=698.1 /></g><g class=o><circle cy=942.2 /><circle cy=969.2 /></g><g class=b><circle cy=782.3 /></g><g class=o><circle cy=865 /></g><g class=b><circle cy=640.9 /></g><g class=o><circle cy=774.5 /></g><g class=b><circle cy=802.2 /><circle cy=392.8 /></g><g class=o><circle cy=585.2 /></g></g><g transform="translate(1767.9)"><g class=o><circle cy=843.2 /></g><g class=b><circle cy=881.7 /></g><g class=o><circle cy=961 /><circle cy=739.8 /></g><g class=b><circle cy=797.4 /></g><g class=o><circle cy=809.8 /></g><g class=b><circle cy=586.3 /></g><g class=o><circle cy=782.6 /></g><g class=b><circle cy=521.3 /><circle cy=714.7 /></g><g class=o><circle cy=683.4 /></g><g class=b><circle cy=643.1 /><circle cy=594.2 /></g><g class=o><circle cy=773.8 /><circle cy=796.9 /><circle cy=603.9 /><circle cy=954.2 /></g><g class=b><circle cy=735.2 /></g><g class=o><circle cy=800.5 /><circle cy=958 /></g><g class=b><circle cy=628.8 /><circle cy=845.9 /></g><g class=o><circle cy=884.5 /></g><g class=b><circle cy=590.5 /></g><g class=o><circle cy=983.2 /><circle cy=778.2 /><circle cy=890 /><circle cy=652.3 /></g><g class=b><circle cy=377.7 /><circle cy=724.9 /></g><g class=o><circle cy=903.3 /></g><g class=b><circle cy=853 /></g><g class=o><circle cy=730.6 /><circle cy=822.3 /><circle cy=854.6 /></g><g class=b><circle cy=740.8 /></g><g class=o><circle cy=591.9 /></g><g class=b><circle cy=831.2 /></g><g class=o><circle cy=941.7 /><circle cy=722.3 /><circle cy=947.6 /><circle cy=1168.7 /></g><g class=b><circle cy=570.5 /><circle cy=874.6 /><circle cy=717.7 /><circle cy=705.2 /><circle cy=803 /></g><g class=o><circle cy=590.5 /><circle cy=934 /><circle cy=822.2 /></g></g><g transform="translate(1777.8)"><g class=o><circle cy=965.1 /></g><g class=b><circle cy=824.1 /></g><g class=o><circle cy=918.3 /><circle cy=902.5 /></g><g class=b><circle cy=632.1 /></g><g class=o><circle cy=614.4 /><circle cy=923.8 /><circle cy=952.4 /></g><g class=b><circle cy=700.9 /><circle cy=823.5 /></g><g class=o><circle cy=746.2 /></g><g class=b><circle cy=711.4 /></g><g class=o><circle cy=828.5 /><circle cy=966 /></g><g class=b><circle cy=645 /></g><g class=o><circle cy=845 /><circle cy=756.5 /><circle cy=840.9 /><circle cy=704.9 /></g><g class=b><circle cy=615.1 /></g><g class=o><circle cy=721.2 /><circle cy=779.1 /></g><g class=b><circle cy=835.9 /><circle cy=407.8 /><circle cy=868.8 /><circle cy=696.1 /></g><g class=o><circle cy=798 /></g><g class=b><circle cy=594.2 /><circle cy=882.6 /></g><g class=o><circle cy=870.7 /><circle cy=669.7 /><circle cy=828.2 /></g><g class=b><circle cy=725.3 /><circle cy=608.6 /></g><g class=o><circle cy=842.5 /><circle cy=951.7 /><circle cy=975.1 /></g><g class=b><circle cy=624.1 /></g><g class=o><circle cy=589.7 /><circle cy=958.5 /></g><g class=b><circle cy=738.3 /><circle cy=630.6 /></g><g class=o><circle cy=783.1 /><circle cy=917.8 /><circle cy=782.5 /></g><g class=b><circle cy=706.2 /></g><g class=o><circle cy=1166.9 /><circle cy=587.1 /></g><g class=b><circle cy=792.2 /><circle cy=638.2 /></g><g class=o><circle cy=792.8 /></g></g><g transform="translate(1787.8)"><g class=o><circle cy=743.6 /><circle cy=1164 /><circle cy=775.8 /></g><g class=b><circle cy=648.7 /></g><g class=o><circle cy=762.3 /></g><g class=b><circle cy=652.3 /></g><g class=o><circle cy=721.5 /><circle cy=774.7 /><circle cy=578.9 /><circle cy=834 /><circle cy=941.5 /></g><g class=b><circle cy=626.7 /><circle cy=722.9 /><circle cy=532.4 /></g><g class=o><circle cy=678.8 /><circle cy=722.4 /><circle cy=596.3 /></g><g class=b><circle cy=845.2 /><circle cy=724.4 /><circle cy=548.8 /><circle cy=824.4 /><circle cy=632.4 /><circle cy=413.2 /><circle cy=587.4 /></g><g class=o><circle cy=821 /><circle cy=601.6 /></g><g class=b><circle cy=593.8 /></g><g class=o><circle cy=849.6 /><circle cy=877.6 /></g><g class=b><circle cy=672 /></g><g class=o><circle cy=904.5 /></g><g class=b><circle cy=613.6 /></g><g class=o><circle cy=772.9 /></g><g class=b><circle cy=708.5 /></g><g class=o><circle cy=759 /><circle cy=684 /><circle cy=918.6 /></g><g class=b><circle cy=535.9 /><circle cy=750.5 /></g><g class=o><circle cy=985.9 /></g><g class=b><circle cy=744.9 /><circle cy=879.8 /><circle cy=697.1 /></g><g class=o><circle cy=658 /></g><g class=b><circle cy=583.3 /></g><g class=o><circle cy=933.1 /></g></g><g transform="translate(1797.7)"><g class=b><circle cy=581.5 /><circle cy=631.2 /></g><g class=o><circle cy=767.7 /><circle cy=831.5 /><circle cy=977 /><circle cy=953.2 /></g><g class=b><circle cy=534.9 /></g><g class=o><circle cy=601 /><circle cy=981.6 /></g><g class=b><circle cy=541.2 /></g><g class=o><circle cy=585.9 /><circle cy=587.6 /><circle cy=936 /><circle cy=731.4 /><circle cy=1169.5 /></g><g class=b><circle cy=845.3 /><circle cy=703 /></g><g class=o><circle cy=907 /></g><g class=b><circle cy=784.1 /><circle cy=602 /></g><g class=o><circle cy=729.9 /><circle cy=689.7 /><circle cy=869.6 /></g><g class=b><circle cy=704.2 /><circle cy=626.8 /></g><g class=o><circle cy=968.2 /></g><g class=b><circle cy=544 /><circle cy=640.6 /><circle cy=392.8 /></g><g class=o><circle cy=944 /><circle cy=888.9 /></g><g class=b><circle cy=599.2 /></g><g class=o><circle cy=680.6 /></g><g class=b><circle cy=606.4 /></g><g class=o><circle cy=842.2 /><circle cy=736.6 /></g><g class=b><circle cy=889.8 /><circle cy=712.7 /><circle cy=628 /></g></g><g transform="translate(1807.6)"><g class=o><circle cy=592 /><circle cy=717.5 /><circle cy=585.3 /><circle cy=975.4 /><circle cy=677.3 /><circle cy=899.9 /></g><g class=b><circle cy=656.4 /></g><g class=o><circle cy=819.6 /></g><g class=b><circle cy=639.4 /></g><g class=o><circle cy=857 /><circle cy=899.3 /></g><g class=b><circle cy=601.1 /></g><g class=o><circle cy=589.5 /></g><g class=b><circle cy=539.4 /><circle cy=784.7 /></g><g class=o><circle cy=662.8 /></g><g class=b><circle cy=400.6 /></g><g class=o><circle cy=741.7 /></g><g class=b><circle cy=536.4 /><circle cy=759.4 /></g><g class=o><circle cy=739.5 /><circle cy=933.3 /></g><g class=b><circle cy=643.5 /><circle cy=627.1 /></g><g class=o><circle cy=943.5 /><circle cy=787 /><circle cy=239 /><circle cy=764.6 /><circle cy=905.1 /></g><g class=b><circle cy=813.8 /></g><g class=o><circle cy=983.6 /></g><g class=b><circle cy=815.5 /></g><g class=o><circle cy=1153.1 /></g><g class=b><circle cy=887.7 /><circle cy=531.5 /><circle cy=844.3 /></g><g class=o><circle cy=771.3 /></g><g class=b><circle cy=605.9 /></g><g class=o><circle cy=760.3 /></g></g><g transform="translate(1817.5)"><g class=b><circle cy=791.5 /></g><g class=o><circle cy=826.3 /></g><g class=b><circle cy=537.4 /></g><g class=o><circle cy=706.4 /><circle cy=773 /></g><g class=b><circle cy=636 /></g><g class=o><circle cy=243.3 /><circle cy=964.5 /><circle cy=945.5 /><circle cy=567.5 /><circle cy=668.8 /><circle cy=1164.7 /><circle cy=717.9 /><circle cy=841 /><circle cy=733.4 /></g><g class=b><circle cy=644 /><circle cy=553.3 /></g><g class=o><circle cy=675.8 /></g><g class=b><circle cy=659.3 /></g><g class=o><circle cy=861.5 /></g><g class=b><circle cy=610.2 /></g><g class=o><circle cy=844.8 /></g><g class=b><circle cy=829.8 /><circle cy=832.2 /><circle cy=648.6 /><circle cy=893.2 /></g><g class=o><circle cy=916.4 /><circle cy=900.5 /></g><g class=b><circle cy=704.5 /></g><g class=o><circle cy=808.4 /></g><g class=b><circle cy=849.5 /></g><g class=o><circle cy=947.5 /></g><g class=b><circle cy=665.5 /></g><g class=o><circle cy=590.8 /><circle cy=738.3 /></g><g class=b><circle cy=601.8 /></g><g class=o><circle cy=576.5 /><circle cy=810.6 /></g><g class=b><circle cy=886.5 /></g></g><g transform="translate(1827.5)"><g class=o><circle cy=904.7 /></g><g class=b><circle cy=527.3 /></g><g class=o><circle cy=807 /><circle cy=769.4 /><circle cy=234.1 /></g><g class=b><circle cy=653.9 /></g><g class=o><circle cy=766.2 /></g><g class=b><circle cy=550.1 /></g><g class=o><circle cy=954.6 /><circle cy=870.4 /><circle cy=723.6 /></g><g class=b><circle cy=601 /></g><g class=o><circle cy=741.9 /></g><g class=b><circle cy=709.9 /></g><g class=o><circle cy=901.7 /><circle cy=953.3 /><circle cy=613.5 /></g><g class=b><circle cy=518.1 /><circle cy=606.3 /><circle cy=693.5 /><circle cy=680.1 /></g><g class=o><circle cy=911 /><circle cy=661.4 /><circle cy=710.4 /><circle cy=968.8 /><circle cy=898.8 /></g><g class=b><circle cy=537.9 /></g><g class=o><circle cy=1166.5 /></g><g class=b><circle cy=582.8 /><circle cy=803.4 /><circle cy=551.7 /></g><g class=o><circle cy=945 /></g><g class=b><circle cy=616.3 /></g><g class=o><circle cy=789.4 /></g><g class=b><circle cy=882.7 /><circle cy=821.1 /><circle cy=592.7 /></g><g class=o><circle cy=719.6 /><circle cy=727.9 /><circle cy=963.1 /><circle cy=887.1 /></g></g><g transform="translate(1837.4)"><g class=o><circle cy=747.8 /><circle cy=694.4 /><circle cy=636 /><circle cy=716.1 /><circle cy=905.1 /><circle cy=861.1 /><circle cy=830 /><circle cy=850.7 /><circle cy=834 /></g><g class=b><circle cy=673.9 /></g><g class=o><circle cy=732.5 /><circle cy=830.3 /></g><g class=b><circle cy=752 /></g><g class=o><circle cy=658 /><circle cy=888.7 /><circle cy=740.2 /></g><g class=b><circle cy=692.8 /></g><g class=o><circle cy=733.4 /></g><g class=b><circle cy=795.7 /><circle cy=798.8 /><circle cy=658.9 /><circle cy=875.4 /><circle cy=526.8 /></g><g class=o><circle cy=946.8 /><circle cy=704.3 /><circle cy=584.5 /><circle cy=742 /><circle cy=820.2 /><circle cy=953.5 /></g><g class=b><circle cy=577 /><circle cy=723 /><circle cy=635 /></g><g class=o><circle cy=773.5 /><circle cy=986.1 /><circle cy=237.7 /><circle cy=655.7 /><circle cy=743.3 /><circle cy=1177.5 /></g><g class=b><circle cy=693 /><circle cy=598.6 /><circle cy=688.1 /></g><g class=o><circle cy=969.7 /><circle cy=899.8 /><circle cy=781.6 /><circle cy=584.5 /></g><g class=b><circle cy=392.8 /></g></g><g transform="translate(1847.3)"><g class=o><circle cy=957.5 /></g><g class=b><circle cy=873.1 /></g><g class=o><circle cy=958.3 /><circle cy=243.3 /><circle cy=804.2 /></g><g class=b><circle cy=617.7 /></g><g class=o><circle cy=894.8 /></g><g class=b><circle cy=625.4 /></g><g class=o><circle cy=580 /></g><g class=b><circle cy=551.1 /></g><g class=o><circle cy=752.4 /><circle cy=609.6 /><circle cy=785.1 /></g><g class=b><circle cy=679.7 /></g><g class=o><circle cy=789.4 /><circle cy=698.1 /><circle cy=972 /><circle cy=593 /></g><g class=b><circle cy=850.7 /><circle cy=648.3 /><circle cy=585.8 /></g><g class=o><circle cy=932.3 /><circle cy=844.2 /><circle cy=923.2 /><circle cy=749.2 /><circle cy=823.4 /><circle cy=1192.1 /></g><g class=b><circle cy=710.8 /><circle cy=782.6 /></g><g class=o><circle cy=655.6 /><circle cy=867.2 /><circle cy=991.9 /><circle cy=886.2 /></g><g class=b><circle cy=890.3 /><circle cy=397.5 /><circle cy=636.5 /></g><g class=o><circle cy=676.4 /><circle cy=816.3 /></g><g class=b><circle cy=705.8 /><circle cy=550 /></g></g></g>
<polyline points="178.5,579.5 215.5,589.6 245.9,599.5 291.5,607 337,612.4 382.5,617 428,621.5 470,624.5 535.9,628.8 611.8,631.9 687.7,634.9 760,638.5 810.7,642 871.5,647.3 943.6,656.4 1082.5,645 1161.5,651.9 1237.4,655 1290.5,657.2 1361.1,639.7 1428.7,647.3 1500,657.2 1569.9,651.1 1657.4,653.2 1718.3,653.6 1777.2,651.8 1846.2,673.1" fill="none" stroke="#000080" stroke-width="4.2" stroke-linejoin="round" stroke-linecap="round"/>
<polyline points="178.5,580 215.5,596.4 246,608.6 291.5,623.8 337,636 382.5,645.8 428,652.6 460,657 505.5,663.8 551,670.6 596.6,675.1 627,681.2 657.4,687.3 687.7,691 750,696.7 826,703.5 901.8,708.8 947.4,712.6 993,717.2 1040,724.7 1100.7,730.8 1161.5,738.4 1191.8,745.2 1237.4,752 1283,758.9 1330,764.2 1361.1,768.8 1430.2,754.4 1497,763.5 1569.9,773.3 1638.4,757.4 1677.7,759.4 1718.3,761.4 1772.4,766.9 1846.2,779.7" fill="none" stroke="#ff8c00" stroke-width="4.2" stroke-linejoin="round" stroke-linecap="round"/>
<line x1="95.5" y1="128.8" x2="95.5" y2="1244.6" stroke="#000" stroke-width="2"/>
<line x1="94.5" y1="1243.6" x2="1931" y2="1243.6" stroke="#3a3a3a" stroke-width="2.2"/>
<g stroke="#333" stroke-width="2">
<line x1="89.5" y1="353.4" x2="95" y2="353.4"/><line x1="89.5" y1="579.7" x2="95" y2="579.7"/><line x1="89.5" y1="806" x2="95" y2="806"/><line x1="89.5" y1="1032.3" x2="95" y2="1032.3"/>
<line x1="179.2" y1="1244.5" x2="179.2" y2="1249.7"/><line x1="675.7" y1="1244.5" x2="675.7" y2="1249.7"/><line x1="1172.1" y1="1244.5" x2="1172.1" y2="1249.7"/><line x1="1668.6" y1="1244.5" x2="1668.6" y2="1249.7"/>
</g>
<g fill="#4d4d4d" font-size="19.76px" text-anchor="end">
<text x="86" y="360.5">10</text><text x="86" y="586.8">0</text><text x="86" y="813.1">-10</text><text x="86" y="1039.4">-20</text>
</g>
<g fill="#4d4d4d" font-size="19.76px" text-anchor="middle">
<text x="179.2" y="1269.4">0</text><text x="675.7" y="1269.4">50</text><text x="1172.1" y="1269.4">100</text><text x="1668.6" y="1269.4">150</text>
</g>
<text x="1014.5" y="1297.5" font-size="24.7px" fill="#111" text-anchor="middle">Time (in days) since start of the study</text>
<text transform="translate(45.3,686.3) rotate(-90)" font-size="24.7px" fill="#111" text-anchor="middle">Weight change (%) from baseline</text>
<line x1="683" y1="72.2" x2="713.5" y2="72.2" stroke="#000080" stroke-width="4.5"/>
<line x1="1059.7" y1="72.2" x2="1089.6" y2="72.2" stroke="#ff8c00" stroke-width="4.5"/>
<g font-size="19.76px" fill="#1a1a1a">
<text x="729" y="79.8">Calorie-Restricted Low-Fat Diet App</text>
<text x="1105.6" y="79.8">Ketogenic Diet App with Biofeedback</text>
</g>
</svg></div>
</body></html>
